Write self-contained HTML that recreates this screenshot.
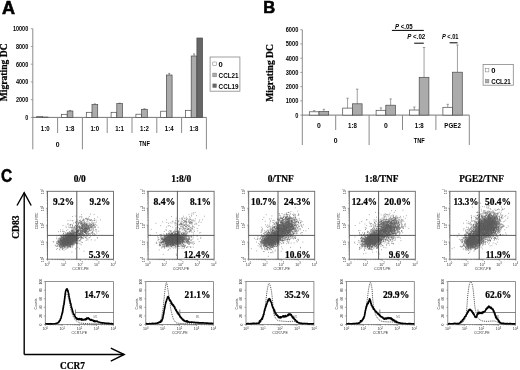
<!DOCTYPE html>
<html><head><meta charset="utf-8"><style>
html,body{margin:0;padding:0;background:#fff;width:520px;height:370px;overflow:hidden}
svg{display:block;will-change:transform}
</style></head><body>
<svg width="520" height="370" viewBox="0 0 520 370">
<defs><filter id="bl" x="-5%" y="-5%" width="110%" height="110%"><feGaussianBlur stdDeviation="0.35"/></filter></defs>
<rect width="520" height="370" fill="#fff"/>
<text x="1.9" y="14.1" font-family="Liberation Sans, sans-serif" font-size="18" font-weight="bold" text-anchor="start" fill="#000" stroke="#000" stroke-width="0.6">A</text>
<line x1="32.8" y1="28.7" x2="32.8" y2="149.3" stroke="#8a8a8a" stroke-width="1" />
<line x1="30.8" y1="117.4" x2="32.8" y2="117.4" stroke="#8a8a8a" stroke-width="0.8" />
<text x="28.2" y="119.9" font-family="Liberation Sans, sans-serif" font-size="7" font-weight="bold" text-anchor="end" fill="#000" textLength="3.05" lengthAdjust="spacingAndGlyphs" >0</text>
<line x1="30.8" y1="99.66" x2="32.8" y2="99.66" stroke="#8a8a8a" stroke-width="0.8" />
<text x="28.2" y="102.16" font-family="Liberation Sans, sans-serif" font-size="7" font-weight="bold" text-anchor="end" fill="#000" textLength="12.2" lengthAdjust="spacingAndGlyphs" >2000</text>
<line x1="30.8" y1="81.92" x2="32.8" y2="81.92" stroke="#8a8a8a" stroke-width="0.8" />
<text x="28.2" y="84.42" font-family="Liberation Sans, sans-serif" font-size="7" font-weight="bold" text-anchor="end" fill="#000" textLength="12.2" lengthAdjust="spacingAndGlyphs" >4000</text>
<line x1="30.8" y1="64.18" x2="32.8" y2="64.18" stroke="#8a8a8a" stroke-width="0.8" />
<text x="28.2" y="66.68" font-family="Liberation Sans, sans-serif" font-size="7" font-weight="bold" text-anchor="end" fill="#000" textLength="12.2" lengthAdjust="spacingAndGlyphs" >6000</text>
<line x1="30.8" y1="46.44" x2="32.8" y2="46.44" stroke="#8a8a8a" stroke-width="0.8" />
<text x="28.2" y="48.94" font-family="Liberation Sans, sans-serif" font-size="7" font-weight="bold" text-anchor="end" fill="#000" textLength="12.2" lengthAdjust="spacingAndGlyphs" >8000</text>
<line x1="30.8" y1="28.7" x2="32.8" y2="28.7" stroke="#8a8a8a" stroke-width="0.8" />
<text x="28.2" y="31.2" font-family="Liberation Sans, sans-serif" font-size="7" font-weight="bold" text-anchor="end" fill="#000" textLength="15.25" lengthAdjust="spacingAndGlyphs" >10000</text>
<line x1="32.8" y1="117.4" x2="206.4" y2="117.4" stroke="#666" stroke-width="0.9" />
<line x1="57.6" y1="117.4" x2="57.6" y2="133" stroke="#8a8a8a" stroke-width="1" />
<line x1="82.4" y1="117.4" x2="82.4" y2="149.3" stroke="#8a8a8a" stroke-width="1" />
<line x1="107.2" y1="117.4" x2="107.2" y2="133" stroke="#8a8a8a" stroke-width="1" />
<line x1="132" y1="117.4" x2="132" y2="133" stroke="#8a8a8a" stroke-width="1" />
<line x1="156.8" y1="117.4" x2="156.8" y2="133" stroke="#8a8a8a" stroke-width="1" />
<line x1="181.6" y1="117.4" x2="181.6" y2="133" stroke="#8a8a8a" stroke-width="1" />
<line x1="206.4" y1="117.4" x2="206.4" y2="149.3" stroke="#8a8a8a" stroke-width="1" />
<text x="45.2" y="131.3" font-family="Liberation Sans, sans-serif" font-size="6.8" font-weight="bold" text-anchor="middle" fill="#000" textLength="8.8" lengthAdjust="spacingAndGlyphs" >1:0</text>
<text x="70" y="131.3" font-family="Liberation Sans, sans-serif" font-size="6.8" font-weight="bold" text-anchor="middle" fill="#000" textLength="8.8" lengthAdjust="spacingAndGlyphs" >1:8</text>
<text x="94.8" y="131.3" font-family="Liberation Sans, sans-serif" font-size="6.8" font-weight="bold" text-anchor="middle" fill="#000" textLength="8.8" lengthAdjust="spacingAndGlyphs" >1:0</text>
<text x="119.6" y="131.3" font-family="Liberation Sans, sans-serif" font-size="6.8" font-weight="bold" text-anchor="middle" fill="#000" textLength="8.8" lengthAdjust="spacingAndGlyphs" >1:1</text>
<text x="144.4" y="131.3" font-family="Liberation Sans, sans-serif" font-size="6.8" font-weight="bold" text-anchor="middle" fill="#000" textLength="8.8" lengthAdjust="spacingAndGlyphs" >1:2</text>
<text x="169.2" y="131.3" font-family="Liberation Sans, sans-serif" font-size="6.8" font-weight="bold" text-anchor="middle" fill="#000" textLength="8.8" lengthAdjust="spacingAndGlyphs" >1:4</text>
<text x="194" y="131.3" font-family="Liberation Sans, sans-serif" font-size="6.8" font-weight="bold" text-anchor="middle" fill="#000" textLength="8.8" lengthAdjust="spacingAndGlyphs" >1:8</text>
<text x="57.6" y="147" font-family="Liberation Sans, sans-serif" font-size="6.8" font-weight="bold" text-anchor="middle" fill="#000" >0</text>
<text x="144.4" y="146.4" font-family="Liberation Sans, sans-serif" font-size="6.8" font-weight="bold" text-anchor="middle" fill="#000" textLength="11" lengthAdjust="spacingAndGlyphs" >TNF</text>
<rect x="36.7" y="116.6" width="5.7" height="0.8" fill="#ffffff" stroke="#4a4a4a" stroke-width="0.7"/>
<rect x="42.4" y="117.05" width="5.7" height="0.35" fill="#ababab" stroke="#4a4a4a" stroke-width="0.7"/>
<rect x="61.5" y="114.3" width="5.7" height="3.1" fill="#ffffff" stroke="#4a4a4a" stroke-width="0.7"/>
<rect x="67.2" y="111.01" width="5.7" height="6.39" fill="#ababab" stroke="#4a4a4a" stroke-width="0.7"/>
<line x1="70.05" y1="111.01" x2="70.05" y2="110.48" stroke="#555" stroke-width="0.6" />
<line x1="69.05" y1="110.48" x2="71.05" y2="110.48" stroke="#555" stroke-width="0.6" />
<rect x="86.3" y="112.3" width="5.7" height="5.1" fill="#ffffff" stroke="#4a4a4a" stroke-width="0.7"/>
<rect x="92" y="104.6" width="5.7" height="12.8" fill="#ababab" stroke="#4a4a4a" stroke-width="0.7"/>
<line x1="94.85" y1="104.6" x2="94.85" y2="103.89" stroke="#555" stroke-width="0.6" />
<line x1="93.85" y1="103.89" x2="95.85" y2="103.89" stroke="#555" stroke-width="0.6" />
<rect x="111.1" y="112.3" width="5.7" height="5.1" fill="#ffffff" stroke="#4a4a4a" stroke-width="0.7"/>
<rect x="116.8" y="103.5" width="5.7" height="13.9" fill="#ababab" stroke="#4a4a4a" stroke-width="0.7"/>
<line x1="119.65" y1="103.5" x2="119.65" y2="103.15" stroke="#555" stroke-width="0.6" />
<line x1="118.65" y1="103.15" x2="120.65" y2="103.15" stroke="#555" stroke-width="0.6" />
<rect x="135.9" y="114.21" width="5.7" height="3.19" fill="#ffffff" stroke="#4a4a4a" stroke-width="0.7"/>
<rect x="141.6" y="109.3" width="5.7" height="8.1" fill="#ababab" stroke="#4a4a4a" stroke-width="0.7"/>
<line x1="144.45" y1="109.3" x2="144.45" y2="108.77" stroke="#555" stroke-width="0.6" />
<line x1="143.45" y1="108.77" x2="145.45" y2="108.77" stroke="#555" stroke-width="0.6" />
<rect x="160.7" y="111.19" width="5.7" height="6.21" fill="#ffffff" stroke="#4a4a4a" stroke-width="0.7"/>
<rect x="166.4" y="75" width="5.7" height="42.4" fill="#ababab" stroke="#4a4a4a" stroke-width="0.7"/>
<line x1="169.25" y1="75" x2="169.25" y2="73.4" stroke="#555" stroke-width="0.6" />
<line x1="168.25" y1="73.4" x2="170.25" y2="73.4" stroke="#555" stroke-width="0.6" />
<rect x="185.5" y="110.3" width="5.7" height="7.1" fill="#ffffff" stroke="#4a4a4a" stroke-width="0.7"/>
<rect x="191.2" y="56" width="5.7" height="61.4" fill="#ababab" stroke="#4a4a4a" stroke-width="0.7"/>
<line x1="194.05" y1="56" x2="194.05" y2="53.96" stroke="#555" stroke-width="0.6" />
<line x1="193.05" y1="53.96" x2="195.05" y2="53.96" stroke="#555" stroke-width="0.6" />
<rect x="196.9" y="38.01" width="5.7" height="79.39" fill="#666666" stroke="#4a4a4a" stroke-width="0.7"/>
<rect x="210.1" y="57" width="29.8" height="34.2" fill="#fff" stroke="#888" stroke-width="0.8"/>
<rect x="212.8" y="62" width="3.7" height="3.7" fill="#ffffff" stroke="#777" stroke-width="0.5"/>
<text x="218.6" y="66.6" font-family="Liberation Sans, sans-serif" font-size="7.6" font-weight="bold" text-anchor="start" fill="#000" >0</text>
<rect x="212.8" y="73.1" width="3.7" height="3.7" fill="#ababab" stroke="#777" stroke-width="0.5"/>
<text x="218.6" y="77.7" font-family="Liberation Sans, sans-serif" font-size="7.6" font-weight="bold" text-anchor="start" fill="#000" textLength="19.9" lengthAdjust="spacingAndGlyphs" >CCL21</text>
<rect x="212.8" y="83.9" width="3.7" height="3.7" fill="#666666" stroke="#777" stroke-width="0.5"/>
<text x="218.6" y="88.5" font-family="Liberation Sans, sans-serif" font-size="7.6" font-weight="bold" text-anchor="start" fill="#000" textLength="19.9" lengthAdjust="spacingAndGlyphs" >CCL19</text>
<text x="7.1" y="72.3" font-family="Liberation Serif, serif" font-size="9.6" font-weight="bold" text-anchor="middle" fill="#000" textLength="58" lengthAdjust="spacingAndGlyphs" stroke="#000" stroke-width="0.22" transform="rotate(-90 7.1 72.3)">Migrating DC</text>
<text x="263.3" y="13.2" font-family="Liberation Sans, sans-serif" font-size="16.5" font-weight="bold" text-anchor="start" fill="#000" stroke="#000" stroke-width="0.6">B</text>
<line x1="302.3" y1="29.7" x2="302.3" y2="145" stroke="#8a8a8a" stroke-width="1" />
<line x1="300.3" y1="115.1" x2="302.3" y2="115.1" stroke="#8a8a8a" stroke-width="0.8" />
<text x="298.3" y="117.6" font-family="Liberation Sans, sans-serif" font-size="7" font-weight="bold" text-anchor="end" fill="#000" textLength="3.15" lengthAdjust="spacingAndGlyphs" >0</text>
<line x1="300.3" y1="100.87" x2="302.3" y2="100.87" stroke="#8a8a8a" stroke-width="0.8" />
<text x="298.3" y="103.37" font-family="Liberation Sans, sans-serif" font-size="7" font-weight="bold" text-anchor="end" fill="#000" textLength="12.6" lengthAdjust="spacingAndGlyphs" >1000</text>
<line x1="300.3" y1="86.64" x2="302.3" y2="86.64" stroke="#8a8a8a" stroke-width="0.8" />
<text x="298.3" y="89.14" font-family="Liberation Sans, sans-serif" font-size="7" font-weight="bold" text-anchor="end" fill="#000" textLength="12.6" lengthAdjust="spacingAndGlyphs" >2000</text>
<line x1="300.3" y1="72.41" x2="302.3" y2="72.41" stroke="#8a8a8a" stroke-width="0.8" />
<text x="298.3" y="74.91" font-family="Liberation Sans, sans-serif" font-size="7" font-weight="bold" text-anchor="end" fill="#000" textLength="12.6" lengthAdjust="spacingAndGlyphs" >3000</text>
<line x1="300.3" y1="58.18" x2="302.3" y2="58.18" stroke="#8a8a8a" stroke-width="0.8" />
<text x="298.3" y="60.68" font-family="Liberation Sans, sans-serif" font-size="7" font-weight="bold" text-anchor="end" fill="#000" textLength="12.6" lengthAdjust="spacingAndGlyphs" >4000</text>
<line x1="300.3" y1="43.95" x2="302.3" y2="43.95" stroke="#8a8a8a" stroke-width="0.8" />
<text x="298.3" y="46.45" font-family="Liberation Sans, sans-serif" font-size="7" font-weight="bold" text-anchor="end" fill="#000" textLength="12.6" lengthAdjust="spacingAndGlyphs" >5000</text>
<line x1="300.3" y1="29.72" x2="302.3" y2="29.72" stroke="#8a8a8a" stroke-width="0.8" />
<text x="298.3" y="32.22" font-family="Liberation Sans, sans-serif" font-size="7" font-weight="bold" text-anchor="end" fill="#000" textLength="12.6" lengthAdjust="spacingAndGlyphs" >6000</text>
<line x1="302.3" y1="115.1" x2="469.3" y2="115.1" stroke="#666" stroke-width="0.9" />
<line x1="335.7" y1="115.1" x2="335.7" y2="130" stroke="#8a8a8a" stroke-width="1" />
<line x1="369.1" y1="115.1" x2="369.1" y2="145" stroke="#8a8a8a" stroke-width="1" />
<line x1="402.5" y1="115.1" x2="402.5" y2="130" stroke="#8a8a8a" stroke-width="1" />
<line x1="435.9" y1="115.1" x2="435.9" y2="130" stroke="#8a8a8a" stroke-width="1" />
<line x1="469.3" y1="115.1" x2="469.3" y2="145" stroke="#8a8a8a" stroke-width="1" />
<text x="319" y="128.2" font-family="Liberation Sans, sans-serif" font-size="6.8" font-weight="bold" text-anchor="middle" fill="#000" >0</text>
<text x="352.4" y="128.2" font-family="Liberation Sans, sans-serif" font-size="6.8" font-weight="bold" text-anchor="middle" fill="#000" textLength="8.8" lengthAdjust="spacingAndGlyphs" >1:8</text>
<text x="385.8" y="128.2" font-family="Liberation Sans, sans-serif" font-size="6.8" font-weight="bold" text-anchor="middle" fill="#000" >0</text>
<text x="419.2" y="128.2" font-family="Liberation Sans, sans-serif" font-size="6.8" font-weight="bold" text-anchor="middle" fill="#000" textLength="8.8" lengthAdjust="spacingAndGlyphs" >1:8</text>
<text x="452.6" y="128.2" font-family="Liberation Sans, sans-serif" font-size="6.8" font-weight="bold" text-anchor="middle" fill="#000" textLength="16.5" lengthAdjust="spacingAndGlyphs" >PGE2</text>
<text x="335.7" y="143" font-family="Liberation Sans, sans-serif" font-size="6.8" font-weight="bold" text-anchor="middle" fill="#000" >0</text>
<text x="419.2" y="143" font-family="Liberation Sans, sans-serif" font-size="6.8" font-weight="bold" text-anchor="middle" fill="#000" textLength="11" lengthAdjust="spacingAndGlyphs" >TNF</text>
<line x1="314.15" y1="111.8" x2="314.15" y2="110.6" stroke="#777" stroke-width="0.7" />
<line x1="312.95" y1="110.6" x2="315.35" y2="110.6" stroke="#777" stroke-width="0.7" />
<rect x="309.3" y="111.8" width="9.7" height="3.3" fill="#ffffff" stroke="#4a4a4a" stroke-width="0.7"/>
<line x1="323.85" y1="111.5" x2="323.85" y2="109.29" stroke="#777" stroke-width="0.7" />
<line x1="322.65" y1="109.29" x2="325.05" y2="109.29" stroke="#777" stroke-width="0.7" />
<rect x="319" y="111.5" width="9.7" height="3.6" fill="#ababab" stroke="#4a4a4a" stroke-width="0.7"/>
<line x1="347.55" y1="108.1" x2="347.55" y2="98.21" stroke="#777" stroke-width="0.7" />
<line x1="346.35" y1="98.21" x2="348.75" y2="98.21" stroke="#777" stroke-width="0.7" />
<rect x="342.7" y="108.1" width="9.7" height="7" fill="#ffffff" stroke="#4a4a4a" stroke-width="0.7"/>
<line x1="357.25" y1="103.8" x2="357.25" y2="89.2" stroke="#777" stroke-width="0.7" />
<line x1="356.05" y1="89.2" x2="358.45" y2="89.2" stroke="#777" stroke-width="0.7" />
<rect x="352.4" y="103.8" width="9.7" height="11.3" fill="#ababab" stroke="#4a4a4a" stroke-width="0.7"/>
<line x1="380.95" y1="110.3" x2="380.95" y2="107.9" stroke="#777" stroke-width="0.7" />
<line x1="379.75" y1="107.9" x2="382.15" y2="107.9" stroke="#777" stroke-width="0.7" />
<rect x="376.1" y="110.3" width="9.7" height="4.8" fill="#ffffff" stroke="#4a4a4a" stroke-width="0.7"/>
<line x1="390.65" y1="105.2" x2="390.65" y2="98.91" stroke="#777" stroke-width="0.7" />
<line x1="389.45" y1="98.91" x2="391.85" y2="98.91" stroke="#777" stroke-width="0.7" />
<rect x="385.8" y="105.2" width="9.7" height="9.9" fill="#ababab" stroke="#4a4a4a" stroke-width="0.7"/>
<line x1="414.35" y1="110.01" x2="414.35" y2="107" stroke="#777" stroke-width="0.7" />
<line x1="413.15" y1="107" x2="415.55" y2="107" stroke="#777" stroke-width="0.7" />
<rect x="409.5" y="110.01" width="9.7" height="5.09" fill="#ffffff" stroke="#4a4a4a" stroke-width="0.7"/>
<line x1="424.05" y1="77.31" x2="424.05" y2="47.51" stroke="#777" stroke-width="0.7" />
<line x1="422.85" y1="47.51" x2="425.25" y2="47.51" stroke="#777" stroke-width="0.7" />
<rect x="419.2" y="77.31" width="9.7" height="37.79" fill="#ababab" stroke="#4a4a4a" stroke-width="0.7"/>
<line x1="447.75" y1="107.3" x2="447.75" y2="104.3" stroke="#777" stroke-width="0.7" />
<line x1="446.55" y1="104.3" x2="448.95" y2="104.3" stroke="#777" stroke-width="0.7" />
<rect x="442.9" y="107.3" width="9.7" height="7.8" fill="#ffffff" stroke="#4a4a4a" stroke-width="0.7"/>
<line x1="457.45" y1="72.2" x2="457.45" y2="44.95" stroke="#777" stroke-width="0.7" />
<line x1="456.25" y1="44.95" x2="458.65" y2="44.95" stroke="#777" stroke-width="0.7" />
<rect x="452.6" y="72.2" width="9.7" height="42.9" fill="#ababab" stroke="#4a4a4a" stroke-width="0.7"/>
<text x="272.8" y="72.9" font-family="Liberation Serif, serif" font-size="9.5" font-weight="bold" text-anchor="middle" fill="#000" textLength="57.5" lengthAdjust="spacingAndGlyphs" stroke="#000" stroke-width="0.22" transform="rotate(-90 272.8 72.9)">Migrating DC</text>
<rect x="483.1" y="64.4" width="30.2" height="20.8" fill="#fff" stroke="#888" stroke-width="0.8"/>
<rect x="485.4" y="68.4" width="3.5" height="3.5" fill="#ffffff" stroke="#777" stroke-width="0.5"/>
<text x="491.2" y="72.9" font-family="Liberation Sans, sans-serif" font-size="7.6" font-weight="bold" text-anchor="start" fill="#000" >0</text>
<rect x="485.4" y="79.4" width="3.5" height="3.5" fill="#ababab" stroke="#777" stroke-width="0.5"/>
<text x="491.2" y="83.9" font-family="Liberation Sans, sans-serif" font-size="7.6" font-weight="bold" text-anchor="start" fill="#000" textLength="19.6" lengthAdjust="spacingAndGlyphs" >CCL21</text>
<text x="395" y="28.5" font-family="Liberation Sans, sans-serif" font-size="7" font-weight="bold" textLength="17.7" lengthAdjust="spacingAndGlyphs"><tspan font-style="italic">P</tspan> &lt;.05</text>
<line x1="391.9" y1="30.4" x2="423.8" y2="30.4" stroke="#000" stroke-width="1" />
<text x="407.3" y="38.8" font-family="Liberation Sans, sans-serif" font-size="7" font-weight="bold" textLength="18" lengthAdjust="spacingAndGlyphs"><tspan font-style="italic">P</tspan> &lt;.02</text>
<line x1="414.2" y1="43.2" x2="423.8" y2="43.2" stroke="#000" stroke-width="1" />
<text x="441.9" y="38.8" font-family="Liberation Sans, sans-serif" font-size="7" font-weight="bold" textLength="16.6" lengthAdjust="spacingAndGlyphs"><tspan font-style="italic">P</tspan> &lt;.01</text>
<line x1="449.6" y1="42.8" x2="457.6" y2="42.8" stroke="#000" stroke-width="1" />
<text x="0.9" y="181.9" font-family="Liberation Sans, sans-serif" font-size="18" font-weight="bold" text-anchor="start" fill="#000" textLength="11.2" lengthAdjust="spacingAndGlyphs" stroke="#000" stroke-width="0.45">C</text>
<line x1="24.2" y1="192.8" x2="24.2" y2="354.5" stroke="#000" stroke-width="1.4" />
<line x1="24.2" y1="354.5" x2="124" y2="354.5" stroke="#000" stroke-width="1.4" />
<polyline points="17,205.5 24.2,192.6 31.2,205.5" fill="none" stroke="#000" stroke-width="1.4"/>
<polyline points="110.8,348.1 124.2,354.5 110.8,361.2" fill="none" stroke="#000" stroke-width="1.4"/>
<text x="18.9" y="227.2" font-family="Liberation Serif, serif" font-size="9.5" font-weight="bold" text-anchor="middle" fill="#000" textLength="23.3" lengthAdjust="spacingAndGlyphs" stroke="#000" stroke-width="0.22" transform="rotate(-90 18.9 227.2)">CD83</text>
<text x="60" y="369.2" font-family="Liberation Serif, serif" font-size="9.5" font-weight="bold" text-anchor="start" fill="#000" textLength="25" lengthAdjust="spacingAndGlyphs" stroke="#000" stroke-width="0.22" >CCR7</text>
<text x="73.8" y="181.9" font-family="Liberation Serif, serif" font-size="9.6" font-weight="bold" text-anchor="start" fill="#000" textLength="12" lengthAdjust="spacingAndGlyphs" stroke="#000" stroke-width="0.22" >0/0</text>
<rect x="47.5" y="191.3" width="66" height="67.9" fill="#fff" stroke="#666" stroke-width="0.9"/>
<path d="M66.6 242.1h.8M66.7 239.6h.8M63.7 240.7h.8M72.5 240.3h.8M72.2 239.9h.8M69.4 240.4h.8M60.5 244.6h.8M69.9 241.2h.8M60.4 237.1h.8M63.9 239.9h.8M69.0 239.8h.8M69.9 237.9h.8M69.0 241.1h.8M64.9 246.0h.8M70.1 243.2h.8M65.0 238.8h.8M66.2 240.4h.8M70.4 240.3h.8M65.8 238.0h.8M65.5 244.4h.8M64.2 241.9h.8M69.5 235.5h.8M67.9 244.0h.8M59.0 241.6h.8M67.2 238.0h.8M69.8 239.6h.8M61.4 244.3h.8M70.6 242.3h.8M73.9 239.8h.8M68.2 236.4h.8M70.3 237.9h.8M65.8 237.1h.8M63.5 239.8h.8M73.2 233.0h.8M61.4 242.6h.8M73.9 240.4h.8M59.5 235.0h.8M69.2 237.8h.8M62.9 244.4h.8M72.4 239.6h.8M68.8 241.3h.8M74.6 240.4h.8M69.9 241.3h.8M61.0 245.7h.8M71.8 240.8h.8M59.2 240.6h.8M71.3 234.1h.8M66.9 243.5h.8M62.1 246.4h.8M70.1 239.3h.8M69.1 241.8h.8M68.2 243.5h.8M64.9 239.8h.8M72.2 239.2h.8M63.9 244.0h.8M74.0 237.4h.8M61.8 241.4h.8M67.1 239.6h.8M73.7 235.8h.8M73.1 235.2h.8M64.3 243.0h.8M72.6 241.6h.8M69.2 240.3h.8M68.4 241.8h.8M66.9 241.3h.8M70.2 239.7h.8M71.0 241.1h.8M76.3 239.1h.8M65.9 239.7h.8M67.6 243.0h.8M66.3 241.8h.8M75.6 230.9h.8M62.9 242.2h.8M69.4 240.6h.8M65.8 242.7h.8M68.9 238.5h.8M78.1 238.7h.8M65.3 240.6h.8M66.7 240.4h.8M56.0 241.8h.8M72.0 235.8h.8M67.4 243.1h.8M71.4 243.7h.8M60.4 241.1h.8M66.2 242.5h.8M72.4 231.3h.8M72.4 234.9h.8M70.6 235.2h.8M68.5 243.6h.8M67.1 241.0h.8M71.1 239.8h.8M67.3 244.8h.8M72.2 238.3h.8M79.5 234.0h.8M71.6 238.5h.8M68.3 242.2h.8M68.7 241.9h.8M61.1 237.6h.8M70.3 236.8h.8M63.3 237.1h.8M73.1 241.1h.8M74.0 236.0h.8M67.7 237.0h.8M71.0 244.1h.8M63.9 245.8h.8M71.9 238.7h.8M59.2 246.5h.8M67.3 238.7h.8M69.4 241.1h.8M74.1 235.7h.8M72.6 243.4h.8M73.9 238.2h.8M64.5 244.1h.8M68.2 240.5h.8M73.8 238.0h.8M57.8 241.7h.8M59.7 244.7h.8M69.1 238.2h.8M67.7 242.7h.8M68.0 244.1h.8M67.4 243.4h.8M74.1 243.4h.8M64.8 243.6h.8M59.6 239.2h.8M59.3 245.5h.8M62.4 241.6h.8M66.9 240.4h.8M65.2 241.6h.8M75.4 238.5h.8M70.0 242.6h.8M66.8 236.9h.8M65.3 244.0h.8M60.6 240.4h.8M72.0 241.5h.8M67.7 242.6h.8M68.4 236.7h.8M61.0 240.1h.8M71.7 237.7h.8M63.8 239.0h.8M61.1 241.6h.8M62.6 242.6h.8M57.6 243.8h.8M64.9 235.4h.8M70.8 238.7h.8M58.1 240.2h.8M69.0 238.7h.8M71.1 241.6h.8M70.6 240.5h.8M73.4 240.8h.8M69.6 233.8h.8M71.6 243.1h.8M66.4 239.3h.8M76.0 233.1h.8M69.7 246.8h.8M63.7 243.3h.8M75.8 237.9h.8M70.1 242.3h.8M63.8 241.0h.8M69.0 242.4h.8M67.6 239.8h.8M63.3 240.4h.8M71.5 239.6h.8M64.0 238.8h.8M79.2 240.7h.8M70.4 232.1h.8M70.4 241.0h.8M74.9 239.7h.8M67.4 241.9h.8M59.3 245.4h.8M69.1 237.9h.8M73.4 244.1h.8M61.7 239.9h.8M69.0 240.5h.8M66.0 237.9h.8M76.8 241.0h.8M62.6 237.7h.8M75.0 241.3h.8M75.5 240.7h.8M64.0 242.0h.8M58.4 240.5h.8M67.4 241.9h.8M64.6 240.7h.8M69.7 240.9h.8M70.4 240.2h.8M66.3 242.9h.8M67.9 237.8h.8M65.0 241.0h.8M67.2 240.9h.8M67.7 240.8h.8M67.1 236.8h.8M69.5 242.9h.8M69.6 239.3h.8M69.6 237.0h.8M59.5 242.5h.8M63.7 243.5h.8M63.0 233.8h.8M63.2 246.0h.8M66.1 236.7h.8M64.4 242.6h.8M69.8 240.3h.8M74.1 240.7h.8M67.6 242.1h.8M74.8 241.3h.8M72.1 236.0h.8M67.1 242.6h.8M66.4 243.7h.8M70.3 242.3h.8M66.8 247.9h.8M73.0 238.3h.8M68.1 247.7h.8M66.2 243.2h.8M71.9 239.3h.8M62.7 242.1h.8M69.2 243.2h.8M71.1 239.5h.8M71.4 240.9h.8M68.6 240.2h.8M66.7 242.6h.8M63.2 239.6h.8M67.7 236.0h.8M65.8 234.9h.8M64.8 242.7h.8M70.1 239.5h.8M66.7 236.4h.8M75.6 239.8h.8M72.4 236.6h.8M66.9 235.2h.8M71.1 242.2h.8M59.5 242.2h.8M70.4 234.5h.8M59.9 239.2h.8M65.0 236.9h.8M67.8 241.0h.8M70.4 241.7h.8M74.2 242.1h.8M62.1 240.3h.8M63.1 238.3h.8M67.4 240.4h.8M69.8 235.2h.8M62.4 241.6h.8M66.8 239.6h.8M67.4 238.2h.8M70.7 240.6h.8M67.3 238.4h.8M67.0 232.6h.8M63.5 241.5h.8M61.2 242.5h.8M68.3 236.1h.8M66.6 239.7h.8M69.7 241.6h.8M67.5 237.9h.8M67.1 240.3h.8M70.9 240.4h.8M64.6 237.2h.8M66.1 238.6h.8M62.9 241.2h.8M65.6 241.1h.8M70.0 238.5h.8M77.7 236.8h.8M72.4 239.5h.8M72.5 232.2h.8M64.5 241.8h.8M70.3 246.4h.8M69.1 243.7h.8M71.0 242.2h.8M69.9 239.3h.8M69.9 236.6h.8M72.8 236.1h.8M68.8 246.2h.8M66.7 240.6h.8M72.7 239.1h.8M64.2 241.9h.8M70.2 241.7h.8M64.4 246.2h.8M74.9 238.5h.8M68.9 238.8h.8M73.8 236.7h.8M70.6 238.2h.8M64.7 243.1h.8M73.4 238.8h.8M64.8 243.4h.8M67.5 241.3h.8M74.2 241.9h.8M65.5 247.5h.8M67.7 242.6h.8M64.9 240.9h.8M60.2 247.4h.8M73.6 235.3h.8M61.2 237.2h.8M72.8 237.7h.8M67.4 239.5h.8M67.2 237.3h.8M67.8 236.1h.8M67.4 241.3h.8M69.7 239.1h.8M63.8 241.7h.8M65.6 245.4h.8M71.0 239.1h.8M65.7 238.8h.8M63.7 240.3h.8M69.0 241.5h.8M70.1 245.8h.8M64.7 241.1h.8M79.7 231.8h.8M65.5 241.4h.8M68.4 241.3h.8M66.7 241.6h.8M67.9 242.5h.8M59.6 239.8h.8M67.7 237.3h.8M63.2 243.3h.8M64.9 242.8h.8M70.9 240.4h.8M69.9 239.4h.8M61.6 241.7h.8M69.7 238.3h.8M67.3 242.6h.8M63.9 243.1h.8M75.7 236.7h.8M68.3 239.7h.8M74.3 239.5h.8M71.6 237.3h.8M67.6 240.3h.8M60.1 246.4h.8M71.6 234.2h.8M70.9 239.1h.8M69.6 240.9h.8M61.3 241.3h.8M74.1 237.0h.8M63.3 237.5h.8M62.4 242.6h.8M75.0 239.7h.8M68.8 246.5h.8M65.5 238.9h.8M70.0 241.3h.8M63.3 238.0h.8M69.0 240.7h.8M62.1 241.1h.8M65.4 242.2h.8M67.2 240.2h.8M66.2 243.7h.8M73.7 237.7h.8M71.3 237.2h.8M68.0 242.4h.8M74.2 237.5h.8M67.4 241.0h.8M61.3 242.0h.8M64.8 242.1h.8M62.8 235.8h.8M67.9 241.0h.8M65.3 243.5h.8M66.5 238.8h.8M69.8 235.2h.8M64.8 241.0h.8M71.4 238.9h.8M69.0 238.1h.8M69.0 244.8h.8M64.7 247.9h.8M64.9 241.0h.8M68.4 243.1h.8M62.4 235.5h.8M70.3 242.0h.8M70.4 247.3h.8M68.6 240.8h.8M71.7 240.4h.8M74.9 234.9h.8M66.1 230.7h.8M71.2 238.3h.8M71.7 245.6h.8M67.7 239.6h.8M65.6 238.4h.8M65.0 242.8h.8M67.9 240.5h.8M67.0 243.1h.8M69.8 239.4h.8M70.6 239.1h.8M62.7 245.8h.8M69.7 237.0h.8M72.3 240.1h.8M61.0 246.7h.8M69.1 242.5h.8M68.6 239.7h.8M61.0 244.8h.8M67.8 239.4h.8M69.2 240.1h.8M70.6 238.5h.8M67.5 234.1h.8M65.9 242.7h.8M73.4 237.8h.8M67.2 245.0h.8M66.3 242.8h.8M74.9 238.6h.8M73.0 236.9h.8M68.6 239.9h.8M68.2 243.5h.8M78.0 235.8h.8M65.2 242.4h.8M63.2 242.9h.8M70.2 238.9h.8M70.0 235.2h.8M71.0 235.0h.8M64.7 239.4h.8M66.0 243.2h.8M68.1 239.1h.8M70.0 244.3h.8M67.7 241.4h.8M73.0 239.7h.8M62.2 248.9h.8M77.2 232.1h.8M67.5 241.6h.8M71.9 241.2h.8M66.5 237.5h.8M68.1 243.2h.8M63.0 238.5h.8M67.6 234.7h.8M66.6 239.3h.8M69.6 237.8h.8M63.9 240.1h.8M67.5 238.4h.8M67.8 242.5h.8M72.8 244.0h.8M64.3 239.9h.8M57.0 248.5h.8M64.6 241.0h.8M69.9 235.8h.8M69.7 239.7h.8M59.8 243.1h.8M72.8 233.6h.8M71.2 240.0h.8M69.7 241.1h.8M73.3 238.2h.8M71.5 238.2h.8M70.8 237.1h.8M67.2 245.4h.8M69.6 239.4h.8M62.8 239.2h.8M68.5 242.8h.8M69.5 241.4h.8M67.5 244.3h.8M66.0 239.1h.8M71.5 239.5h.8M66.5 238.9h.8M66.6 242.4h.8M69.2 236.4h.8M69.5 240.4h.8M63.4 243.6h.8M66.5 239.6h.8M71.1 243.3h.8M64.7 242.3h.8M63.9 248.0h.8M65.6 244.3h.8M64.9 243.4h.8M77.2 230.5h.8M65.8 242.2h.8M67.3 238.5h.8M77.0 238.2h.8M60.6 244.6h.8M60.3 245.5h.8M65.2 241.3h.8M73.1 239.3h.8M61.7 236.9h.8M72.8 241.2h.8M64.2 243.7h.8M69.8 241.6h.8M58.0 241.9h.8M71.6 241.5h.8M71.5 232.2h.8M68.4 241.5h.8M78.7 234.8h.8M66.3 240.8h.8M71.5 238.1h.8M72.6 236.8h.8M68.8 238.5h.8M68.4 238.1h.8M60.8 245.2h.8M69.0 238.3h.8M68.6 243.0h.8M63.5 241.0h.8M70.0 241.2h.8M66.3 234.5h.8M73.0 239.9h.8M67.8 239.5h.8M68.8 238.8h.8M63.3 239.3h.8M65.1 239.2h.8M62.7 243.4h.8M62.1 243.6h.8M63.3 242.4h.8M73.6 239.4h.8M64.6 241.2h.8M68.3 235.1h.8M65.1 241.4h.8M65.7 241.0h.8M70.9 241.7h.8M71.6 241.0h.8M66.5 240.6h.8M66.5 239.7h.8M66.9 235.5h.8M66.3 240.6h.8M63.5 241.3h.8M69.9 239.3h.8M76.6 230.5h.8M66.8 235.2h.8M71.9 246.9h.8M56.9 243.4h.8M69.9 238.9h.8M70.1 233.2h.8M71.4 240.5h.8M67.8 238.6h.8M70.4 238.2h.8M68.7 238.6h.8M58.0 242.6h.8M68.6 242.3h.8M63.9 241.2h.8M70.4 240.1h.8M73.0 244.7h.8M63.8 235.7h.8M71.4 243.8h.8M71.7 241.7h.8M65.0 238.9h.8M71.5 236.7h.8M59.9 239.4h.8M78.4 243.2h.8M64.7 238.9h.8M68.7 237.9h.8M73.3 238.7h.8M63.0 245.3h.8M65.2 241.6h.8M67.6 239.4h.8M69.1 237.9h.8M59.8 235.9h.8M62.3 239.5h.8M67.6 240.5h.8M70.1 240.0h.8M64.3 239.1h.8M58.6 242.1h.8M69.8 241.3h.8M67.2 239.9h.8M71.7 239.3h.8M70.9 241.2h.8M68.6 243.9h.8M65.2 239.9h.8M64.2 238.9h.8M74.4 243.7h.8M67.8 241.9h.8M72.8 241.4h.8M72.9 235.3h.8M65.0 242.3h.8M73.9 239.0h.8M64.0 240.2h.8M64.9 238.5h.8M74.2 236.9h.8M67.8 246.6h.8M72.8 240.0h.8M65.1 242.2h.8M74.7 240.3h.8M73.1 239.2h.8M69.9 239.2h.8M69.5 243.6h.8M61.5 241.7h.8M68.7 238.4h.8M66.4 242.9h.8M76.3 240.0h.8M69.1 235.4h.8M76.0 238.4h.8M67.6 237.1h.8M67.5 237.2h.8M68.0 241.6h.8M67.8 241.1h.8M64.0 245.4h.8M64.9 235.7h.8M66.9 238.3h.8M63.4 240.4h.8M69.0 236.6h.8M67.1 244.6h.8M70.6 239.1h.8M68.2 239.8h.8M67.5 242.5h.8M67.3 233.4h.8M67.6 237.7h.8M70.5 237.8h.8M68.3 246.5h.8M63.2 238.2h.8M61.6 234.9h.8M59.6 243.4h.8M65.0 235.6h.8M61.3 243.7h.8M64.4 240.1h.8M69.1 243.9h.8M76.0 241.2h.8M68.3 240.7h.8M75.4 242.5h.8M66.4 242.0h.8M68.9 240.1h.8M65.5 237.0h.8M65.4 236.4h.8M73.0 240.5h.8M62.5 245.7h.8M71.5 233.8h.8M75.6 240.7h.8M76.6 234.5h.8M70.0 241.0h.8M68.6 240.6h.8M72.2 234.8h.8M62.4 237.6h.8M65.3 239.1h.8M69.3 240.7h.8M67.8 238.3h.8M65.8 243.5h.8M71.0 239.8h.8M66.3 245.2h.8M65.1 242.8h.8M72.7 238.3h.8M71.2 236.2h.8M72.1 239.8h.8M60.9 244.0h.8M63.9 245.0h.8M64.8 240.6h.8M68.9 239.0h.8M68.8 238.4h.8M70.6 239.6h.8M68.6 232.1h.8M72.7 239.1h.8M60.0 242.5h.8M69.7 242.9h.8M63.0 246.0h.8M67.0 247.4h.8M67.1 242.4h.8M66.1 237.5h.8M72.4 241.7h.8M74.3 241.1h.8M65.2 236.1h.8M64.9 239.0h.8M64.2 242.9h.8M69.1 239.2h.8M68.4 239.7h.8M68.6 242.3h.8M71.8 237.3h.8M61.2 246.1h.8M68.2 243.4h.8M60.6 241.1h.8M67.8 236.1h.8M65.5 243.0h.8M72.3 243.8h.8M64.0 237.2h.8M69.9 242.5h.8M68.5 236.3h.8M71.1 241.8h.8M70.1 238.3h.8M69.0 242.3h.8M65.3 235.6h.8M69.1 241.3h.8M67.8 242.9h.8M65.2 240.7h.8M66.4 242.3h.8M74.6 237.8h.8M76.5 242.5h.8M71.1 241.1h.8M75.3 237.9h.8M67.2 237.3h.8M69.7 243.7h.8M70.0 241.0h.8M66.8 241.0h.8M61.6 244.9h.8M65.9 237.5h.8M64.5 238.7h.8M71.4 242.4h.8M61.9 244.5h.8M71.5 237.7h.8M61.3 239.7h.8M65.0 242.0h.8M66.2 234.8h.8M68.7 235.6h.8M71.6 235.8h.8M64.7 238.6h.8M65.4 244.7h.8M71.4 241.1h.8M69.1 235.5h.8M65.5 239.3h.8M63.5 242.8h.8M64.5 239.0h.8M63.2 235.5h.8M70.3 243.5h.8M68.5 237.3h.8M56.1 243.7h.8M72.9 239.8h.8M71.7 243.6h.8M72.5 237.8h.8M72.2 241.4h.8M61.1 240.8h.8M61.6 241.5h.8M70.2 236.6h.8M58.9 246.3h.8M69.3 244.2h.8M62.0 244.8h.8M76.6 243.9h.8M66.8 241.3h.8M67.0 243.4h.8M72.2 239.4h.8M61.9 243.9h.8M65.7 242.6h.8M68.8 244.7h.8M72.6 237.8h.8M69.2 245.0h.8M65.4 242.1h.8M72.8 242.7h.8M69.9 235.9h.8M62.3 242.4h.8M69.4 247.3h.8M64.0 244.5h.8M71.0 234.6h.8M64.2 241.7h.8M65.6 240.4h.8M69.7 237.4h.8M69.7 237.9h.8M65.4 242.4h.8M65.2 241.8h.8M74.6 238.6h.8M67.1 242.6h.8M66.1 243.8h.8M62.2 243.5h.8M65.5 238.5h.8M75.3 235.9h.8M75.3 240.3h.8M73.9 235.9h.8M72.9 243.2h.8M67.2 240.1h.8M78.3 238.2h.8M65.9 238.9h.8M69.6 240.8h.8M68.5 245.1h.8M66.3 242.0h.8M74.0 235.8h.8M72.2 244.5h.8M61.9 238.6h.8M63.2 236.1h.8M69.6 234.4h.8M69.8 244.0h.8M60.8 241.1h.8M59.5 244.6h.8M64.5 240.3h.8M67.9 241.8h.8M66.2 240.7h.8M65.3 241.2h.8M62.7 241.8h.8M59.4 241.0h.8M75.9 238.5h.8M62.3 242.4h.8M63.5 236.6h.8M64.5 243.2h.8M69.4 239.6h.8M63.7 238.2h.8M73.5 239.5h.8M63.6 235.2h.8M61.8 249.0h.8M62.8 241.3h.8M68.6 239.6h.8M66.5 236.6h.8M63.2 246.3h.8M64.4 243.6h.8M60.4 241.3h.8M68.8 243.0h.8M62.9 243.2h.8M69.4 237.7h.8M69.8 237.2h.8M64.3 241.1h.8M56.0 242.9h.8M63.4 237.1h.8M65.9 243.0h.8M66.0 244.4h.8M62.7 237.7h.8M74.4 239.8h.8M71.8 236.9h.8M71.2 240.2h.8M70.5 239.7h.8M72.9 237.1h.8M63.6 237.1h.8M72.7 236.9h.8M63.2 238.7h.8M65.8 237.1h.8M66.5 238.8h.8M65.3 238.1h.8M67.9 238.9h.8M68.2 240.9h.8M69.2 233.6h.8M65.4 238.6h.8M71.0 234.9h.8M64.6 240.2h.8M66.3 243.5h.8M65.8 243.6h.8M61.4 236.6h.8M72.9 240.2h.8M69.8 240.1h.8M69.8 236.2h.8M71.8 237.7h.8M71.9 239.5h.8M59.2 238.7h.8M72.5 238.7h.8M66.0 241.4h.8M65.9 239.2h.8M68.1 240.6h.8M74.2 238.8h.8M75.8 243.5h.8M75.1 241.5h.8M68.3 240.6h.8M67.1 238.3h.8M67.4 238.5h.8M74.8 240.1h.8M65.8 235.2h.8M67.5 239.1h.8M63.0 238.2h.8M58.0 244.4h.8M67.4 247.9h.8M67.6 239.9h.8M73.9 239.1h.8M68.4 239.0h.8M65.1 245.3h.8M72.0 244.2h.8M66.2 240.8h.8M63.9 244.1h.8M61.7 243.5h.8M72.4 243.2h.8M63.7 244.5h.8M64.6 238.9h.8M62.0 245.1h.8M74.8 236.8h.8M64.4 240.1h.8M78.5 240.5h.8M65.4 235.7h.8M64.8 244.5h.8M75.7 237.5h.8M64.7 239.6h.8M59.6 245.0h.8M63.0 244.6h.8M60.4 238.5h.8M68.9 237.8h.8M71.1 239.5h.8M62.6 243.4h.8M71.3 233.8h.8M75.6 239.8h.8M71.0 234.1h.8M64.6 240.1h.8M72.3 234.9h.8M63.9 235.4h.8M66.7 241.6h.8M60.4 240.4h.8M69.9 244.4h.8M70.6 238.7h.8M62.6 238.9h.8M64.8 241.4h.8M67.5 245.2h.8M68.9 236.9h.8M74.3 241.4h.8M68.1 238.1h.8M59.7 239.4h.8M71.6 237.0h.8M62.0 242.3h.8M68.7 241.8h.8M70.5 243.7h.8M64.1 244.1h.8M63.5 243.4h.8M68.5 240.8h.8M71.9 239.2h.8M72.5 241.6h.8M68.3 238.5h.8M64.5 239.6h.8M66.8 240.4h.8M80.5 238.9h.8M71.0 237.0h.8M64.6 240.1h.8M68.5 237.1h.8M74.6 236.9h.8M72.3 232.3h.8M67.7 241.1h.8M68.5 241.8h.8M68.9 240.5h.8M59.6 240.3h.8M57.6 244.7h.8M69.0 239.4h.8M64.2 239.5h.8M75.6 243.3h.8M67.4 244.1h.8M60.9 236.4h.8M65.6 238.3h.8M65.3 241.5h.8M80.7 235.1h.8M67.9 241.0h.8M67.6 243.0h.8M75.3 234.8h.8M68.4 239.4h.8M69.2 235.5h.8M60.1 235.5h.8M70.0 240.3h.8M68.0 233.3h.8M66.1 238.5h.8M61.6 239.2h.8M70.7 241.1h.8M67.6 241.8h.8M65.1 241.2h.8M67.9 241.9h.8M67.4 240.0h.8M67.1 238.6h.8M77.3 239.4h.8M69.5 246.5h.8M73.7 234.3h.8M70.7 242.0h.8M75.8 242.1h.8M71.0 236.0h.8M64.0 242.0h.8M69.9 236.8h.8M66.0 239.6h.8M68.0 241.2h.8M66.5 237.0h.8M73.0 243.6h.8M67.2 243.4h.8M69.6 241.7h.8M69.8 237.6h.8M70.2 242.6h.8M63.8 247.0h.8M76.7 243.3h.8M76.3 240.3h.8M66.2 238.9h.8M64.2 241.5h.8M67.6 242.3h.8M59.0 249.2h.8M77.5 237.8h.8M70.6 240.9h.8M68.9 239.4h.8M67.2 238.0h.8M68.5 240.0h.8M69.1 237.5h.8M67.9 240.4h.8M70.3 236.6h.8M69.5 242.7h.8M70.3 238.6h.8M65.6 240.1h.8M70.8 244.0h.8M67.0 238.6h.8M69.3 240.5h.8M63.8 239.1h.8M67.3 242.4h.8M62.6 238.6h.8M69.8 236.2h.8M68.2 241.2h.8M67.2 237.5h.8M67.4 239.4h.8M69.1 237.5h.8M72.4 234.3h.8M66.9 240.5h.8M71.8 237.5h.8M70.0 238.1h.8M70.9 244.5h.8M66.0 242.0h.8M63.7 244.1h.8M72.9 239.1h.8M62.8 242.7h.8M72.6 242.2h.8M71.2 234.1h.8M64.8 245.2h.8M62.4 244.9h.8M75.8 240.5h.8M72.5 238.1h.8M62.4 241.3h.8M66.8 240.4h.8M70.7 239.1h.8M68.5 241.3h.8M67.7 245.7h.8M69.6 240.1h.8M66.8 238.7h.8M73.5 239.3h.8M63.1 239.8h.8M67.1 239.2h.8M72.4 235.8h.8M69.8 240.2h.8M62.6 241.7h.8M67.3 241.9h.8M65.8 241.7h.8M60.5 239.0h.8M71.1 242.5h.8M67.6 238.6h.8M72.4 233.1h.8M64.3 243.1h.8M70.5 236.6h.8M59.6 246.6h.8M68.4 237.5h.8M67.9 242.9h.8M56.6 246.3h.8M70.9 233.5h.8M71.0 234.3h.8M72.6 240.2h.8M77.4 236.1h.8M67.7 243.3h.8M64.9 238.9h.8M66.1 240.5h.8M63.0 242.9h.8M70.0 239.9h.8M75.0 237.5h.8M73.3 237.3h.8M70.9 233.9h.8M68.6 239.6h.8M65.6 239.1h.8M66.2 238.6h.8M58.3 240.9h.8M65.3 239.4h.8M63.2 241.1h.8M71.1 238.7h.8M65.6 244.8h.8M71.9 241.9h.8M72.7 238.1h.8M67.1 243.7h.8M65.3 240.6h.8M69.3 241.0h.8M66.5 243.5h.8M66.9 242.6h.8M72.3 241.1h.8M70.9 236.1h.8M62.1 239.9h.8M69.7 244.1h.8M62.4 242.5h.8M64.0 239.1h.8M66.5 242.6h.8M68.6 243.5h.8M63.5 244.0h.8M71.7 239.5h.8M69.8 238.1h.8M63.0 240.3h.8M64.9 249.4h.8M65.6 245.6h.8M68.6 241.0h.8M70.9 237.2h.8M71.6 240.4h.8M61.2 243.7h.8M70.1 241.0h.8M74.5 237.4h.8M69.9 241.9h.8M63.8 244.8h.8M61.5 238.1h.8M69.9 236.6h.8M67.2 235.6h.8M68.0 236.9h.8M69.2 235.5h.8M69.6 239.0h.8M68.0 240.0h.8M68.3 236.3h.8M56.7 243.2h.8M63.7 240.0h.8M69.5 234.1h.8M64.4 239.4h.8M63.2 242.4h.8M67.1 238.1h.8M63.5 243.7h.8M64.9 242.7h.8M69.6 234.3h.8M63.0 241.5h.8M69.2 242.2h.8M71.2 242.4h.8M66.1 240.1h.8M71.0 238.2h.8M72.2 234.5h.8M70.5 239.1h.8M59.2 245.3h.8M69.0 240.0h.8M63.1 240.1h.8M74.2 236.3h.8M52.8 241.6h.8M62.5 241.2h.8M66.0 238.1h.8M64.1 244.3h.8M61.5 247.5h.8M65.4 237.7h.8M71.1 241.1h.8M63.2 243.6h.8M59.8 239.6h.8M72.5 238.3h.8M62.1 243.2h.8M71.6 239.2h.8M59.9 241.3h.8M69.5 242.1h.8M75.7 237.6h.8M65.6 240.7h.8M72.9 236.3h.8M73.3 230.9h.8M71.1 237.5h.8M69.7 241.8h.8M62.6 241.3h.8M68.7 241.7h.8M63.7 238.4h.8M59.4 249.8h.8M66.9 239.9h.8M61.3 244.6h.8M65.4 245.0h.8M71.4 239.4h.8M70.8 236.3h.8M66.3 239.0h.8M62.2 241.7h.8M67.1 244.6h.8M53.3 242.0h.8M63.8 239.9h.8M69.5 241.0h.8M67.8 238.9h.8M69.8 240.8h.8M59.8 241.5h.8M61.8 238.4h.8M68.3 240.3h.8M68.2 237.6h.8M66.8 237.9h.8M69.3 241.9h.8M75.2 242.1h.8M64.2 239.8h.8M63.7 242.2h.8M76.2 240.2h.8M58.2 239.0h.8M62.1 243.2h.8M67.7 241.2h.8M75.4 236.0h.8M64.1 246.9h.8M69.2 237.7h.8M59.0 238.1h.8M57.2 243.2h.8M67.9 243.1h.8M67.1 238.4h.8M64.5 246.6h.8M60.1 242.7h.8M67.8 242.1h.8M66.0 242.2h.8M71.2 239.0h.8M65.7 240.3h.8M63.6 240.7h.8M66.4 241.2h.8M73.4 242.6h.8M65.8 242.5h.8M69.0 242.2h.8M67.8 241.0h.8M65.7 238.5h.8M71.4 243.1h.8M70.5 240.8h.8M68.8 238.7h.8M60.0 244.2h.8M68.6 238.5h.8M63.6 245.1h.8M59.9 247.4h.8M70.5 246.5h.8M64.6 241.0h.8M65.5 241.3h.8M66.8 238.4h.8M72.3 236.9h.8M65.5 242.5h.8M65.4 239.6h.8M69.2 238.8h.8M62.3 241.4h.8M66.8 245.5h.8M63.0 244.3h.8M64.3 240.1h.8M66.3 241.4h.8M71.4 244.4h.8M65.0 244.9h.8M72.0 241.6h.8M64.4 243.7h.8M67.2 241.4h.8M66.5 242.5h.8M72.5 242.4h.8M66.8 243.4h.8M73.9 236.0h.8M74.0 234.8h.8M70.0 241.4h.8M74.1 239.5h.8M65.6 238.5h.8M62.3 243.9h.8M66.7 238.5h.8M70.0 237.5h.8M65.8 239.4h.8M74.8 242.8h.8M67.0 235.9h.8M68.9 240.2h.8M69.2 241.6h.8M66.3 243.3h.8M71.3 240.0h.8M66.0 239.3h.8M70.7 236.4h.8M67.0 238.3h.8M61.7 243.6h.8M67.6 240.4h.8M71.5 235.0h.8M67.4 241.2h.8M71.3 236.2h.8M70.8 240.2h.8M73.5 242.1h.8M70.1 245.9h.8M67.7 239.1h.8M66.2 237.9h.8M67.6 234.9h.8M67.3 241.6h.8M72.0 238.2h.8M73.7 236.9h.8M67.1 235.0h.8M64.4 238.8h.8M74.0 240.2h.8M63.1 243.0h.8M69.7 239.1h.8M67.8 239.4h.8M65.4 235.8h.8M67.3 244.0h.8M73.7 238.0h.8M64.6 240.5h.8M71.5 240.3h.8M65.2 241.9h.8M66.8 242.0h.8M66.0 236.6h.8M67.9 242.4h.8M63.1 241.2h.8M71.4 238.3h.8M65.0 246.7h.8M71.2 242.3h.8M63.7 245.9h.8M60.8 240.6h.8M70.8 243.3h.8M63.8 239.4h.8M68.5 234.6h.8M70.4 241.2h.8M65.8 242.3h.8M70.9 240.4h.8M69.9 244.0h.8M65.7 241.3h.8M65.5 243.8h.8M66.0 242.1h.8M68.3 240.3h.8M74.9 238.3h.8M73.6 241.1h.8M73.2 238.4h.8M71.6 241.5h.8M65.1 241.7h.8M67.2 240.3h.8M73.1 236.9h.8M60.7 237.2h.8M65.8 239.0h.8M67.8 241.9h.8M75.0 239.3h.8M69.6 237.8h.8M70.1 243.5h.8M73.3 233.4h.8M71.4 243.8h.8M71.1 235.3h.8M66.4 242.3h.8M69.4 237.6h.8M64.0 243.9h.8M62.2 245.7h.8M67.8 241.1h.8M62.2 240.0h.8M70.6 235.5h.8M76.3 234.2h.8M62.6 241.7h.8M69.7 241.8h.8M66.2 240.1h.8M66.7 238.9h.8M57.0 245.7h.8M68.7 240.5h.8M65.1 241.7h.8M67.6 240.1h.8M72.3 234.3h.8M68.7 237.1h.8M66.4 244.8h.8M63.2 241.2h.8M65.3 243.6h.8M63.7 236.6h.8M69.8 238.8h.8M66.4 243.6h.8M64.0 240.2h.8M68.3 241.3h.8M65.6 243.7h.8M77.0 236.8h.8M75.4 232.5h.8M73.5 237.9h.8M68.3 239.2h.8M65.1 237.4h.8M66.1 244.3h.8M72.4 238.1h.8M65.5 238.9h.8M62.7 246.6h.8M70.4 239.9h.8M65.7 238.0h.8M73.1 241.1h.8M63.8 244.1h.8M63.1 243.2h.8M63.7 240.1h.8M69.7 241.0h.8M71.9 236.9h.8M74.2 242.4h.8M67.7 241.6h.8M64.5 240.7h.8M62.2 241.9h.8M68.5 243.8h.8M71.6 241.6h.8M66.2 240.1h.8M66.3 241.3h.8M59.7 244.5h.8M61.2 240.5h.8M67.8 238.8h.8M74.6 238.3h.8M74.2 241.9h.8M65.6 241.9h.8M73.1 238.0h.8M68.1 238.7h.8M67.9 239.3h.8M68.0 243.0h.8M73.4 239.2h.8M68.5 242.5h.8M66.5 237.7h.8M72.3 236.5h.8M71.5 236.6h.8M75.3 235.5h.8M71.2 243.6h.8M63.7 245.4h.8M64.3 236.2h.8M70.7 241.5h.8M66.9 233.5h.8M67.5 239.5h.8M66.1 239.9h.8M60.3 240.6h.8M75.1 242.7h.8M66.2 238.7h.8M69.3 242.8h.8M70.7 236.3h.8M68.4 240.5h.8M73.6 242.1h.8M69.9 243.1h.8M66.1 245.0h.8M65.9 241.8h.8M71.5 236.8h.8M64.8 236.1h.8M68.4 240.0h.8M66.4 242.0h.8M59.0 242.4h.8M68.1 239.5h.8M71.0 244.4h.8M65.9 238.1h.8M65.2 241.2h.8M70.1 237.3h.8M71.8 236.4h.8M71.1 240.6h.8M69.6 245.8h.8M66.6 240.1h.8M69.7 242.2h.8M62.2 242.5h.8M64.6 242.8h.8M73.4 239.0h.8M67.3 240.9h.8M55.5 245.5h.8M70.0 240.2h.8M66.1 238.7h.8M67.0 243.9h.8M67.3 244.2h.8M57.1 241.7h.8M68.8 240.0h.8M60.8 240.2h.8M72.9 235.4h.8M63.6 238.3h.8M65.4 242.7h.8M70.2 234.0h.8M73.7 237.1h.8M65.3 245.6h.8M67.4 236.9h.8M65.1 238.9h.8M63.5 240.4h.8M71.3 240.4h.8M62.0 249.5h.8M63.6 241.7h.8M67.8 242.4h.8M66.3 241.9h.8M76.4 238.4h.8M63.2 242.3h.8M64.4 240.1h.8M68.5 241.0h.8M66.5 243.0h.8M66.9 236.9h.8M71.3 238.4h.8M72.7 237.2h.8M70.1 240.6h.8M56.6 238.9h.8M63.1 245.4h.8M59.9 244.8h.8M72.2 240.5h.8M70.5 238.2h.8M67.7 240.9h.8M69.4 241.8h.8M66.8 238.6h.8M65.4 242.0h.8M60.8 238.5h.8M66.0 239.2h.8M66.6 233.2h.8M66.3 240.0h.8M70.9 234.0h.8M66.4 241.9h.8M69.7 243.1h.8M72.1 236.3h.8M70.3 238.7h.8M64.4 245.4h.8M65.1 238.6h.8M66.0 238.3h.8M71.9 240.3h.8M73.5 240.0h.8M65.2 243.9h.8M65.0 239.7h.8M67.0 240.6h.8M72.6 237.4h.8M69.2 239.9h.8M62.5 238.6h.8M66.8 241.7h.8M69.0 241.3h.8M67.9 239.0h.8M69.5 237.1h.8M62.1 240.8h.8M61.8 240.4h.8M64.6 239.5h.8M67.5 238.1h.8M65.9 236.0h.8M68.3 237.7h.8M69.4 232.0h.8M64.4 241.8h.8M57.6 241.8h.8M68.1 240.5h.8M61.5 242.5h.8M68.3 237.4h.8M70.8 239.4h.8M67.8 239.0h.8M70.0 240.0h.8M72.4 240.4h.8M65.1 240.3h.8M71.5 238.3h.8M69.3 241.4h.8M67.0 234.0h.8M68.2 240.8h.8M68.3 238.0h.8M72.7 238.7h.8M65.1 238.9h.8M69.2 236.9h.8M63.5 247.0h.8M73.1 241.9h.8M73.4 240.5h.8M60.7 245.4h.8M72.9 240.4h.8M59.6 245.8h.8M73.4 237.5h.8M68.2 242.3h.8M67.3 243.5h.8M68.0 242.2h.8M68.1 236.1h.8M63.6 250.3h.8M68.9 243.7h.8M72.4 243.9h.8M70.0 238.0h.8M67.8 234.9h.8M66.9 243.0h.8M58.7 243.1h.8M71.1 243.2h.8M63.8 239.4h.8M59.9 239.4h.8M69.9 245.6h.8M62.9 245.4h.8M69.5 238.5h.8M76.9 230.9h.8M67.4 241.0h.8M76.6 243.1h.8M77.2 238.3h.8M71.8 243.1h.8M69.8 240.8h.8M66.9 239.3h.8M62.6 247.1h.8M65.8 234.9h.8M68.8 239.9h.8M68.4 245.2h.8M67.3 239.7h.8M64.6 241.0h.8M65.9 241.3h.8M80.8 238.1h.8M64.1 246.7h.8M71.3 241.7h.8M70.7 241.9h.8M70.5 243.6h.8M71.9 243.0h.8M65.6 240.8h.8M64.6 243.8h.8M71.2 238.1h.8M70.1 247.1h.8M72.9 235.8h.8M67.3 242.2h.8M67.6 241.4h.8M72.6 240.0h.8M63.1 243.5h.8M67.3 240.7h.8M65.3 237.0h.8M62.5 240.6h.8M63.2 233.8h.8M72.5 235.8h.8M64.7 242.6h.8M57.6 246.6h.8M64.5 243.0h.8M65.7 241.7h.8M68.1 240.2h.8M60.0 238.1h.8M67.5 244.3h.8M65.4 242.4h.8M68.4 241.5h.8M71.9 235.0h.8M68.9 239.5h.8M66.4 238.2h.8M64.4 238.2h.8M63.1 248.6h.8M74.8 238.5h.8M70.8 236.8h.8M56.0 238.1h.8M68.3 244.2h.8M67.5 237.5h.8M66.7 237.7h.8M61.9 241.1h.8M66.0 238.4h.8M64.0 238.6h.8M68.7 244.0h.8M66.8 246.8h.8M60.9 242.8h.8M62.9 241.1h.8M68.1 241.8h.8M72.4 237.5h.8M62.5 241.1h.8M68.9 238.0h.8M71.4 244.1h.8M61.7 242.8h.8M72.0 233.8h.8M68.6 239.4h.8M61.7 245.5h.8M68.6 238.7h.8M69.6 241.6h.8M70.9 241.1h.8M69.4 236.5h.8M65.9 241.1h.8M56.1 249.3h.8M66.1 237.7h.8M60.1 242.9h.8M67.8 238.6h.8M66.0 238.2h.8M64.6 240.8h.8M65.0 242.9h.8M67.1 240.8h.8M69.4 243.5h.8M70.2 240.3h.8M67.0 238.2h.8M66.3 242.6h.8M68.6 239.0h.8M62.1 237.4h.8M69.0 242.9h.8M69.3 236.0h.8M66.8 241.2h.8M63.9 242.3h.8M66.9 238.1h.8M62.5 243.9h.8M69.2 237.4h.8M63.5 243.9h.8M70.2 238.8h.8M74.4 237.8h.8M63.3 244.5h.8M66.9 241.5h.8M67.9 237.4h.8M62.7 241.0h.8M73.6 236.0h.8M73.4 239.5h.8M63.0 242.2h.8M70.1 237.2h.8M58.8 243.6h.8M63.1 242.7h.8M59.7 241.9h.8M64.3 237.0h.8M66.7 241.0h.8M65.4 237.6h.8M68.6 235.1h.8M69.9 241.1h.8M74.7 241.0h.8M69.2 240.7h.8M67.8 236.5h.8M73.8 240.2h.8M66.5 237.4h.8M73.9 240.2h.8M62.7 243.4h.8M75.6 238.2h.8M69.4 238.7h.8M65.1 244.0h.8M80.6 237.4h.8M67.2 242.7h.8M66.4 242.7h.8M71.2 236.6h.8M63.2 241.2h.8M71.2 240.2h.8M72.9 235.1h.8M69.8 238.0h.8M68.1 241.1h.8M63.7 240.7h.8M62.8 242.3h.8M64.2 239.8h.8M68.6 238.2h.8M72.5 237.3h.8M71.2 240.2h.8M63.4 240.8h.8M64.2 240.2h.8M66.6 245.7h.8M66.0 245.2h.8M69.6 236.2h.8M58.1 244.6h.8M59.4 244.4h.8M72.0 240.3h.8M66.8 239.8h.8M68.8 239.2h.8M65.5 239.8h.8M72.6 237.3h.8M69.3 236.7h.8M64.7 237.2h.8M66.9 242.4h.8M69.0 238.6h.8M70.2 238.7h.8M69.3 240.7h.8M70.0 232.8h.8M62.3 243.8h.8M67.3 246.7h.8M66.7 239.0h.8M73.9 240.3h.8M75.6 239.7h.8M66.9 242.5h.8M64.4 239.9h.8M65.4 240.3h.8M70.9 238.1h.8M69.0 238.6h.8M71.4 231.6h.8M66.8 241.0h.8M63.2 244.3h.8M68.6 243.7h.8M71.7 241.1h.8M67.1 237.4h.8M66.8 239.2h.8M68.7 238.7h.8M80.4 232.6h.8M72.6 237.7h.8M66.7 243.2h.8M67.7 236.9h.8M69.4 239.3h.8M59.2 243.0h.8M63.3 239.3h.8M69.7 240.6h.8M66.5 246.7h.8M69.4 238.1h.8M68.7 239.7h.8M58.5 238.2h.8M61.9 247.5h.8M66.9 239.7h.8M65.4 243.6h.8M67.8 245.1h.8M71.0 244.1h.8M67.2 241.5h.8M65.9 240.3h.8M60.5 240.5h.8M63.8 239.5h.8M72.7 239.8h.8M72.8 241.4h.8M71.5 242.2h.8M65.2 243.2h.8M66.4 239.2h.8M72.7 245.1h.8M63.6 246.2h.8M71.1 237.1h.8M68.8 241.1h.8M69.3 238.9h.8M62.4 241.7h.8M71.3 241.6h.8M70.4 242.7h.8M63.6 241.2h.8M69.1 242.7h.8M68.3 241.6h.8M68.3 246.0h.8M58.7 242.5h.8M78.0 238.4h.8M60.1 242.6h.8M61.8 239.9h.8M68.6 244.9h.8M69.6 241.7h.8M71.9 239.8h.8M64.1 240.9h.8M69.1 239.2h.8M64.9 240.0h.8M61.5 239.0h.8M67.3 239.4h.8M67.9 244.2h.8M68.9 239.9h.8M62.8 238.5h.8M69.3 237.5h.8M69.5 236.9h.8M68.3 240.0h.8M71.8 238.2h.8M66.2 241.4h.8M67.9 245.0h.8M66.6 239.1h.8M66.4 242.0h.8M68.7 242.0h.8M62.0 248.7h.8M75.3 238.3h.8M62.7 242.0h.8M69.4 233.6h.8M67.8 236.2h.8M69.6 243.7h.8M72.0 235.0h.8M73.4 241.4h.8M66.2 242.1h.8M74.0 237.8h.8M67.6 238.8h.8M72.5 233.1h.8M73.6 236.1h.8M71.5 234.8h.8M63.8 239.6h.8M71.1 234.9h.8M70.2 237.9h.8M72.8 238.1h.8M69.7 239.3h.8M75.1 237.4h.8M67.6 245.9h.8M68.0 242.1h.8M64.6 241.6h.8M58.3 243.0h.8M65.0 236.8h.8M61.8 245.0h.8M69.5 235.6h.8M75.2 236.5h.8M66.2 241.4h.8M63.0 237.0h.8M64.6 244.4h.8M71.6 234.9h.8M72.7 239.1h.8M69.8 239.9h.8M69.4 237.1h.8M63.9 239.3h.8M66.2 242.4h.8M62.7 246.0h.8M65.1 239.3h.8M70.6 240.8h.8M66.3 237.7h.8M63.6 236.9h.8M72.4 242.1h.8M75.4 239.7h.8M69.1 242.1h.8M71.6 238.6h.8M69.2 246.0h.8M60.7 238.1h.8M63.7 243.4h.8M72.6 238.1h.8M70.5 239.5h.8M68.9 238.5h.8M67.6 240.3h.8M72.4 245.4h.8M60.2 243.7h.8M67.7 243.0h.8M72.1 241.4h.8M71.0 236.8h.8M60.6 246.7h.8M72.7 236.4h.8M73.0 240.8h.8M57.5 245.4h.8M63.6 244.6h.8M64.9 238.9h.8M61.3 241.3h.8M71.9 237.4h.8M60.0 248.2h.8M75.3 240.3h.8M65.5 237.5h.8M60.9 243.6h.8M73.1 236.0h.8M67.7 239.5h.8M66.6 242.0h.8M76.4 236.3h.8M71.2 242.5h.8M66.5 240.2h.8M62.1 244.7h.8M65.5 239.0h.8M68.0 237.8h.8M63.4 240.6h.8M73.9 238.2h.8M69.9 235.6h.8M59.6 247.4h.8M66.0 236.4h.8M67.3 242.1h.8M60.5 239.6h.8M68.8 237.4h.8M71.0 242.2h.8M69.5 238.6h.8M67.5 238.6h.8M67.2 241.3h.8M66.5 243.3h.8M78.5 236.1h.8M69.1 242.2h.8M70.4 239.0h.8M65.7 243.6h.8M70.3 241.1h.8M64.4 242.9h.8M71.0 238.9h.8M70.4 245.7h.8M59.9 244.0h.8M62.8 237.7h.8M66.7 242.1h.8M67.9 237.0h.8M61.7 240.2h.8M67.8 238.0h.8M61.5 246.8h.8M64.2 240.7h.8M65.4 239.2h.8M67.9 239.4h.8M70.3 236.3h.8M61.5 247.3h.8M67.4 242.5h.8M72.6 240.6h.8M67.9 235.9h.8M61.0 244.7h.8M70.5 241.2h.8M60.8 236.0h.8M63.3 238.1h.8M68.4 237.3h.8M74.3 236.9h.8M65.4 243.3h.8M69.1 237.4h.8M71.1 244.8h.8M62.6 240.9h.8M63.2 236.0h.8M70.3 241.6h.8M71.8 240.5h.8M59.3 242.3h.8M64.9 237.7h.8M63.1 243.6h.8M66.5 246.2h.8M69.7 234.4h.8M71.4 242.9h.8M67.8 236.8h.8M75.1 234.7h.8M67.3 235.0h.8M62.5 236.8h.8M72.3 242.5h.8M66.0 236.9h.8M67.4 241.4h.8M61.3 238.6h.8M67.3 242.4h.8M68.0 241.5h.8M62.5 234.6h.8M69.0 237.4h.8M67.2 239.4h.8M69.7 237.6h.8M73.8 238.9h.8M69.9 241.5h.8M72.1 240.3h.8M60.4 240.4h.8M75.5 239.7h.8M70.1 241.0h.8M65.0 239.1h.8M65.0 244.3h.8M69.2 245.0h.8M69.8 245.1h.8M69.6 236.5h.8M75.0 239.4h.8M72.7 239.6h.8M66.3 241.1h.8M63.0 238.1h.8M64.0 239.8h.8M62.0 241.4h.8M69.0 245.8h.8M75.5 238.2h.8M71.4 238.7h.8M69.3 239.8h.8M65.4 241.1h.8M61.5 243.1h.8M66.5 237.5h.8M66.2 242.3h.8M64.8 242.4h.8M70.1 244.1h.8M63.1 241.1h.8M69.9 244.0h.8M68.8 242.2h.8M61.5 240.2h.8M74.7 237.7h.8M76.9 235.9h.8M66.5 236.0h.8M70.4 240.4h.8M76.3 238.6h.8M66.6 236.5h.8M67.4 243.1h.8M70.8 243.0h.8M71.4 239.2h.8M70.3 240.1h.8M62.0 246.6h.8M69.3 236.9h.8M69.3 240.7h.8M71.9 243.4h.8M54.8 245.2h.8M74.2 235.9h.8M59.8 243.1h.8M69.1 240.9h.8M63.0 240.1h.8M68.5 242.2h.8M77.0 238.8h.8M65.1 234.2h.8M72.3 238.8h.8M83.9 223.2h.8M88.5 219.2h.8M85.1 228.0h.8M86.1 233.2h.8M84.0 228.0h.8M89.2 220.2h.8M82.9 227.9h.8M89.7 223.5h.8M88.9 228.8h.8M76.4 221.6h.8M76.7 228.8h.8M85.6 230.6h.8M89.0 224.7h.8M90.3 230.7h.8M87.1 229.4h.8M77.5 229.7h.8M78.9 222.7h.8M82.6 228.3h.8M84.2 226.1h.8M79.0 228.8h.8M80.4 221.6h.8M85.0 233.9h.8M82.3 223.0h.8M92.1 234.5h.8M82.9 226.7h.8M85.7 240.5h.8M85.2 231.9h.8M86.9 219.2h.8M78.5 222.5h.8M86.9 227.8h.8M94.3 225.5h.8M86.2 227.7h.8M85.3 237.8h.8M86.1 233.9h.8M91.6 224.2h.8M88.3 225.5h.8M85.1 228.2h.8M84.6 225.4h.8M93.0 225.6h.8M88.4 234.7h.8M87.9 231.8h.8M92.1 231.7h.8M93.9 220.4h.8M95.2 226.7h.8M74.9 225.4h.8M76.9 228.0h.8M76.3 223.7h.8M86.1 228.1h.8M80.1 226.8h.8M84.0 227.9h.8M84.5 226.5h.8M89.3 219.9h.8M81.8 228.3h.8M82.3 225.2h.8M82.1 228.6h.8M91.3 226.1h.8M83.0 229.2h.8M83.2 219.0h.8M86.0 225.7h.8M81.4 230.6h.8M84.7 225.0h.8M72.5 220.8h.8M84.6 227.0h.8M86.9 228.3h.8M81.9 222.1h.8M78.5 227.4h.8M78.2 231.4h.8M77.2 220.1h.8M83.4 219.6h.8M93.4 222.3h.8M84.2 226.4h.8M80.0 220.0h.8M74.3 232.2h.8M90.1 236.7h.8M76.5 230.7h.8M84.4 231.3h.8M81.7 231.0h.8M89.4 229.8h.8M92.5 226.1h.8M93.0 223.7h.8M93.7 214.5h.8M84.6 223.9h.8M84.5 232.1h.8M88.4 227.6h.8M93.9 220.1h.8M80.0 234.6h.8M86.3 218.1h.8M86.4 222.0h.8M92.6 232.0h.8M81.5 233.5h.8M79.9 232.0h.8M87.7 226.7h.8M76.7 226.9h.8M71.9 226.0h.8M74.3 233.8h.8M79.2 217.0h.8M87.7 228.9h.8M81.7 237.2h.8M88.8 227.4h.8M81.0 214.6h.8M87.1 231.6h.8M81.2 221.4h.8M84.3 220.0h.8M84.5 230.9h.8M92.8 228.0h.8M85.6 230.8h.8M92.2 225.4h.8M77.7 224.5h.8M77.6 224.1h.8M83.8 229.1h.8M85.4 227.7h.8M82.5 229.6h.8M89.4 230.5h.8M92.7 225.5h.8M83.1 235.2h.8M85.6 229.3h.8M82.7 232.0h.8M82.3 223.2h.8M84.2 225.5h.8M89.1 225.4h.8M85.2 226.5h.8M86.4 224.5h.8M90.6 220.6h.8M82.4 224.5h.8M88.1 227.4h.8M87.2 225.8h.8M80.6 222.8h.8M82.7 225.3h.8M86.0 229.0h.8M89.9 226.6h.8M80.4 223.1h.8M84.8 229.1h.8M95.2 227.4h.8M94.2 235.1h.8M78.7 233.4h.8M90.8 233.0h.8M84.4 231.8h.8M81.9 227.4h.8M84.6 235.5h.8M83.3 231.9h.8M84.9 224.3h.8M85.8 230.3h.8M80.6 230.7h.8M80.6 223.9h.8M85.7 226.3h.8M79.1 220.6h.8M84.6 228.6h.8M82.0 228.5h.8M76.1 229.9h.8M86.8 228.6h.8M81.1 228.1h.8M85.2 232.2h.8M86.0 228.5h.8M80.5 231.7h.8M90.9 224.8h.8M88.0 228.6h.8M84.2 221.8h.8M94.2 218.4h.8M86.2 225.7h.8M90.8 225.1h.8M84.7 230.2h.8M87.0 225.0h.8M88.2 228.9h.8M89.9 224.8h.8M84.2 225.8h.8M79.9 229.0h.8M86.7 233.7h.8M82.7 229.4h.8M90.8 226.5h.8M84.8 228.1h.8M80.7 223.4h.8M90.6 227.8h.8M84.1 222.0h.8M85.1 232.7h.8M78.2 224.0h.8M90.6 233.4h.8M93.0 224.3h.8M87.8 223.9h.8M87.4 225.6h.8M85.6 233.4h.8M86.4 226.3h.8M84.8 228.7h.8M81.7 228.7h.8M87.8 234.2h.8M73.2 223.1h.8M77.7 232.0h.8M97.8 227.3h.8M85.2 232.5h.8M71.1 227.8h.8M67.5 229.6h.8M81.7 225.6h.8M86.4 224.7h.8M90.6 227.0h.8M86.6 238.6h.8M82.0 231.8h.8M80.0 233.4h.8M89.8 227.7h.8M89.9 234.2h.8M92.0 226.9h.8M84.2 232.4h.8M76.5 225.5h.8M87.1 229.8h.8M94.7 234.5h.8M86.3 229.3h.8M77.3 227.3h.8M85.9 226.4h.8M84.8 230.2h.8M79.3 225.4h.8M74.8 233.4h.8M78.8 220.4h.8M88.7 226.2h.8M89.8 225.4h.8M96.1 229.7h.8M85.3 227.9h.8M83.4 231.2h.8M95.4 224.7h.8M78.6 230.6h.8M90.3 220.4h.8M80.7 223.4h.8M87.6 229.5h.8M80.5 222.8h.8M88.2 218.1h.8M88.0 226.5h.8M94.9 231.0h.8M81.4 226.5h.8M83.0 224.4h.8M84.9 231.7h.8M76.3 227.2h.8M92.6 230.1h.8M80.1 224.3h.8M79.9 220.8h.8M90.7 227.3h.8M80.7 221.5h.8M82.4 225.4h.8M93.8 224.7h.8M85.1 232.2h.8M88.1 226.4h.8M72.7 234.6h.8M87.7 225.3h.8M84.0 223.3h.8M79.6 221.4h.8M87.2 229.6h.8M85.4 230.9h.8M87.4 227.8h.8M79.7 230.5h.8M90.9 229.8h.8M91.2 224.9h.8M79.2 233.4h.8M81.3 228.8h.8M83.5 227.7h.8M83.0 225.2h.8M74.9 236.7h.8M85.6 218.9h.8M79.6 223.0h.8M80.5 216.6h.8M87.6 234.4h.8M83.2 230.9h.8M87.7 221.8h.8M91.1 219.6h.8M81.4 226.2h.8M91.3 227.5h.8M83.8 224.0h.8M85.0 227.6h.8M88.4 233.3h.8M88.5 227.3h.8M83.7 234.6h.8M85.6 227.3h.8M94.2 233.6h.8M87.6 226.8h.8M81.1 232.5h.8M82.1 231.9h.8M80.3 228.3h.8M86.7 228.0h.8M85.8 229.1h.8M78.5 223.1h.8M83.7 235.5h.8M83.8 223.5h.8M81.0 227.9h.8M90.9 224.5h.8M87.5 228.1h.8M82.6 223.5h.8M83.7 224.4h.8M87.4 219.6h.8M90.6 230.3h.8M87.6 233.8h.8M87.7 219.8h.8M84.8 229.4h.8M80.8 222.9h.8M86.8 229.5h.8M82.2 226.6h.8M81.8 225.2h.8M84.2 232.2h.8M75.9 226.7h.8M93.2 228.2h.8M85.3 231.1h.8M79.1 222.7h.8M75.6 221.9h.8M85.8 231.1h.8M82.3 224.7h.8M86.7 230.0h.8M85.9 219.1h.8M81.6 216.7h.8M85.8 223.7h.8M81.0 234.3h.8M91.6 229.0h.8M86.0 228.1h.8M81.4 227.5h.8M94.7 222.8h.8M81.0 228.5h.8M89.3 230.7h.8M79.3 227.4h.8M83.1 222.2h.8M84.9 225.4h.8M89.4 229.0h.8M80.3 228.2h.8M82.6 224.9h.8M81.9 232.3h.8M82.3 220.2h.8M80.4 231.4h.8M96.0 222.0h.8M82.6 226.2h.8M77.0 229.9h.8M84.2 228.7h.8M96.5 225.4h.8M88.7 230.8h.8M81.1 225.2h.8M92.8 229.9h.8M85.3 222.7h.8M89.2 229.4h.8M96.3 233.0h.8M88.8 228.3h.8M84.8 225.1h.8M86.2 228.4h.8M88.0 231.9h.8M86.2 225.0h.8M88.8 233.9h.8M80.0 229.7h.8M87.4 229.6h.8M87.2 226.9h.8M84.0 234.9h.8M93.8 220.6h.8M70.9 230.5h.8M80.9 225.5h.8M76.0 229.7h.8M84.2 225.2h.8M89.3 237.7h.8M92.4 232.0h.8M82.3 230.5h.8M84.3 232.6h.8M87.6 227.1h.8M87.5 224.1h.8M88.7 233.7h.8M82.6 230.1h.8M75.6 232.3h.8M89.2 222.7h.8M93.8 227.2h.8M75.3 222.3h.8M89.2 225.9h.8M90.4 220.3h.8M84.0 231.8h.8M80.9 230.8h.8M82.6 229.2h.8M86.2 237.1h.8M77.9 231.4h.8M91.5 222.0h.8M84.9 237.5h.8M90.1 214.1h.8M83.2 220.2h.8M86.1 224.2h.8M81.5 224.1h.8M86.1 225.3h.8M79.7 226.9h.8M86.7 223.6h.8M90.4 219.8h.8M86.7 225.6h.8M92.9 224.0h.8M81.0 222.0h.8M95.1 229.3h.8M78.7 226.5h.8M79.4 234.5h.8M86.7 218.5h.8M85.6 231.4h.8M84.5 229.6h.8M83.9 228.5h.8M85.6 224.3h.8M86.4 228.1h.8M84.3 224.5h.8M79.1 229.0h.8M88.9 216.6h.8M81.6 233.6h.8M89.4 224.0h.8M91.7 222.6h.8M80.3 236.3h.8M82.2 226.7h.8M75.7 223.8h.8M78.2 227.4h.8M74.7 232.9h.8M82.6 225.0h.8M81.1 231.0h.8M92.7 225.1h.8M93.1 233.8h.8M91.7 228.2h.8M76.5 231.1h.8M82.3 228.5h.8M74.4 227.1h.8M85.7 223.3h.8M86.1 234.7h.8M85.7 224.4h.8M97.3 217.1h.8M79.6 229.7h.8M81.3 217.8h.8M85.9 231.0h.8M80.2 234.2h.8M87.2 232.5h.8M76.3 228.2h.8M93.1 235.6h.8M91.6 226.9h.8M85.5 224.7h.8M90.4 224.0h.8M85.2 218.4h.8M76.4 235.9h.8M84.8 228.4h.8M72.7 228.3h.8M95.6 220.1h.8M71.8 227.8h.8M81.7 226.8h.8M77.8 222.1h.8M77.9 230.8h.8M84.2 231.1h.8M78.7 230.6h.8M82.1 228.1h.8M89.5 227.2h.8M82.6 220.4h.8M84.8 230.9h.8M81.1 227.5h.8M75.0 222.4h.8M86.7 233.0h.8M82.8 220.3h.8M82.5 220.8h.8M83.0 236.1h.8M86.1 226.7h.8M90.1 225.4h.8M86.3 228.2h.8M86.9 220.9h.8M88.3 231.1h.8M72.2 216.6h.8M79.7 234.4h.8M84.6 230.5h.8M87.5 231.2h.8M81.1 225.2h.8M78.5 235.6h.8M79.6 234.3h.8M73.9 238.7h.8M79.0 237.1h.8M62.8 241.6h.8M63.3 238.6h.8M72.9 235.5h.8M73.9 233.6h.8M77.5 234.9h.8M72.2 226.1h.8M72.3 237.2h.8M71.9 236.9h.8M74.5 231.2h.8M82.8 238.1h.8M75.9 234.0h.8M81.7 227.7h.8M71.8 239.5h.8M81.4 230.8h.8M72.3 236.5h.8M68.9 234.4h.8M75.2 225.5h.8M79.7 235.8h.8M82.3 227.1h.8M69.5 233.1h.8M69.4 243.5h.8M71.2 234.4h.8M77.6 235.3h.8M84.4 227.8h.8M81.3 233.1h.8M70.1 236.4h.8M68.9 242.1h.8M72.5 238.8h.8M83.6 229.7h.8M71.6 235.9h.8M70.8 238.9h.8M77.5 230.9h.8M72.8 237.7h.8M68.6 242.5h.8M72.2 234.5h.8M71.4 241.4h.8M81.0 237.4h.8M80.1 233.3h.8M85.8 233.7h.8M78.9 235.4h.8M80.5 233.8h.8M75.6 228.4h.8M87.8 226.0h.8M64.7 234.8h.8M87.1 235.4h.8M73.2 235.9h.8M76.4 226.8h.8M74.7 235.6h.8M82.9 227.7h.8M64.1 231.8h.8M78.3 233.8h.8M77.3 234.3h.8M74.5 229.6h.8M79.0 234.7h.8M79.7 237.6h.8M69.7 227.4h.8M66.7 244.7h.8M71.5 236.9h.8M76.4 236.7h.8M94.1 227.0h.8M75.6 232.1h.8M77.8 235.5h.8M71.2 240.4h.8M82.8 233.8h.8M75.9 233.3h.8M67.5 239.0h.8M71.1 233.7h.8M82.0 229.0h.8M73.6 238.0h.8M86.7 228.5h.8M82.6 229.8h.8M78.6 235.2h.8M70.2 239.6h.8M86.4 231.3h.8M78.0 229.3h.8M86.3 231.4h.8M69.5 238.8h.8M68.5 233.8h.8M64.8 242.5h.8M88.7 228.1h.8M72.9 232.9h.8M73.4 236.9h.8M84.5 228.0h.8M78.9 226.7h.8M84.9 231.2h.8M72.6 240.7h.8M75.9 239.2h.8M82.4 238.4h.8M72.1 235.5h.8M78.5 232.7h.8M84.9 228.9h.8M82.0 237.4h.8M65.8 233.6h.8M71.5 233.4h.8M78.6 232.7h.8M76.9 232.2h.8M76.0 235.9h.8M80.6 229.9h.8M75.9 231.4h.8M75.5 229.0h.8M81.7 234.9h.8M75.8 231.7h.8M74.0 232.3h.8M68.0 242.5h.8M94.6 224.2h.8M70.1 238.0h.8M79.8 227.3h.8M65.9 239.1h.8M65.5 242.4h.8M73.8 235.1h.8M76.5 232.0h.8M75.7 233.1h.8M83.3 231.7h.8M76.3 232.1h.8M73.0 232.3h.8M76.6 240.7h.8M82.6 233.1h.8M85.7 235.0h.8M77.6 233.1h.8M70.5 236.7h.8M74.8 228.7h.8M69.4 243.2h.8M77.7 235.5h.8M77.6 232.0h.8M79.0 237.2h.8M74.8 236.4h.8M82.1 230.6h.8M77.4 231.0h.8M79.8 231.7h.8M82.8 229.4h.8M85.8 230.2h.8M71.9 232.0h.8M80.1 229.8h.8M86.4 235.8h.8M79.3 228.0h.8M76.4 231.4h.8M66.5 238.5h.8M88.6 228.5h.8M81.0 237.4h.8M71.2 234.3h.8M78.0 235.3h.8M70.2 236.6h.8M75.9 237.7h.8M67.7 234.5h.8M73.7 233.6h.8M80.5 230.5h.8M91.6 227.0h.8M81.1 236.4h.8M81.8 231.7h.8M71.9 234.4h.8M80.2 233.4h.8M79.7 235.2h.8M71.6 232.0h.8M84.4 229.9h.8M67.8 243.4h.8M71.9 231.9h.8M81.8 228.3h.8M71.7 239.2h.8M72.0 244.5h.8M77.0 243.7h.8M77.2 234.0h.8M73.0 234.2h.8M73.7 234.7h.8M80.7 228.1h.8M71.5 227.8h.8M84.8 231.3h.8M76.4 233.8h.8M82.0 233.6h.8M81.2 232.0h.8M75.8 234.0h.8M66.3 241.0h.8M67.8 232.9h.8M80.2 233.1h.8M81.0 239.0h.8M86.7 236.1h.8M75.3 241.9h.8M71.7 235.1h.8M82.0 231.6h.8M75.8 232.9h.8M84.0 222.8h.8M83.5 235.8h.8M76.1 236.2h.8M71.2 239.6h.8M93.3 225.7h.8M84.2 231.6h.8M74.6 232.8h.8M75.5 229.7h.8M69.0 242.3h.8M76.4 236.1h.8M78.2 235.3h.8M68.1 233.0h.8M80.0 236.6h.8M70.2 233.7h.8M70.6 238.1h.8M78.4 233.6h.8M72.9 236.3h.8M76.7 231.2h.8M78.3 231.0h.8M81.7 234.8h.8M72.7 237.3h.8M76.9 231.3h.8M71.5 229.4h.8M70.3 237.1h.8M83.1 229.8h.8M77.4 235.0h.8M80.8 234.4h.8M83.2 234.8h.8M72.3 236.7h.8M63.6 237.1h.8M76.6 236.1h.8M74.8 237.5h.8M83.8 228.8h.8M73.5 235.8h.8M79.2 233.7h.8M81.1 228.3h.8M80.8 237.0h.8M82.6 233.8h.8M75.2 235.8h.8M76.1 228.3h.8M73.2 234.8h.8M73.7 231.4h.8M75.2 233.0h.8M76.9 233.7h.8M77.4 237.4h.8M77.3 235.3h.8M69.8 225.1h.8M74.3 237.1h.8M74.6 232.3h.8M69.7 239.3h.8M73.6 235.7h.8M82.7 234.2h.8M88.8 229.9h.8M81.8 235.0h.8M72.9 235.2h.8M73.4 231.1h.8M78.1 230.7h.8M85.7 228.6h.8M73.5 235.2h.8M73.6 235.0h.8M73.2 229.8h.8M63.2 233.1h.8M84.9 233.2h.8M77.3 232.1h.8M75.7 235.3h.8M68.9 233.3h.8M71.6 240.0h.8M70.7 240.0h.8M73.9 244.7h.8M76.1 234.2h.8M83.9 235.0h.8M81.7 228.6h.8M82.7 238.3h.8M75.9 232.4h.8M70.5 239.5h.8M78.1 233.6h.8M69.7 241.9h.8M81.3 232.5h.8M84.6 228.2h.8M81.3 228.9h.8M84.3 230.7h.8M83.2 230.5h.8M78.7 237.5h.8M71.5 235.8h.8M71.9 238.5h.8M73.2 233.6h.8M75.4 238.6h.8M70.8 235.6h.8M74.7 232.5h.8M72.2 234.7h.8M77.6 228.0h.8M77.8 229.3h.8M76.6 242.3h.8M71.2 235.3h.8M75.1 238.0h.8M73.9 228.2h.8M67.6 237.2h.8M77.9 237.5h.8M73.5 237.3h.8M70.6 240.5h.8M76.1 231.6h.8M77.5 240.1h.8M71.8 230.8h.8M70.9 231.4h.8M76.2 235.4h.8M75.6 235.0h.8M83.0 231.0h.8M69.6 227.6h.8M77.8 231.1h.8M75.1 235.9h.8M79.0 227.5h.8M71.2 235.8h.8M75.7 238.4h.8M73.7 227.2h.8M82.9 226.1h.8M71.2 237.0h.8M70.7 244.8h.8M77.8 235.6h.8M74.1 242.8h.8M79.5 230.5h.8M83.4 225.8h.8M73.3 236.0h.8M77.3 230.3h.8M85.2 236.9h.8M71.4 236.9h.8M73.0 233.4h.8M81.9 232.9h.8M75.9 234.5h.8M70.1 240.4h.8M72.4 240.0h.8M74.0 233.1h.8M84.7 232.3h.8M73.0 233.1h.8M79.8 239.9h.8M79.9 231.6h.8M70.3 233.3h.8M75.8 235.1h.8M72.9 239.7h.8M71.2 232.9h.8M79.2 235.0h.8M74.4 238.2h.8M68.8 242.2h.8M88.5 237.7h.8M77.2 241.0h.8M76.8 238.8h.8M75.4 235.0h.8M79.4 226.8h.8M75.4 240.6h.8M60.4 240.1h.8M81.6 233.7h.8M77.6 238.8h.8M78.3 226.5h.8M71.3 234.4h.8M77.3 232.1h.8M75.9 240.3h.8M60.4 242.9h.8M81.7 234.7h.8M76.6 234.2h.8M78.5 234.3h.8M72.5 238.0h.8M72.0 235.2h.8M74.5 230.4h.8M79.8 232.8h.8M70.1 235.6h.8M68.9 241.5h.8M79.3 240.4h.8M73.4 237.5h.8M65.8 227.6h.8M74.6 236.6h.8M84.7 229.2h.8M86.5 239.1h.8M66.8 233.0h.8M66.4 248.7h.8M70.0 241.3h.8M84.6 229.3h.8M70.6 236.7h.8M67.8 223.8h.8M65.9 237.4h.8M77.4 247.3h.8M57.3 240.3h.8M64.0 244.5h.8M82.4 232.9h.8M90.2 227.4h.8M70.2 225.2h.8M69.0 235.1h.8M82.2 242.5h.8M72.8 227.4h.8M72.2 230.0h.8M70.8 230.5h.8M66.8 234.0h.8M70.4 232.5h.8M61.7 236.5h.8M81.2 237.4h.8M70.0 224.5h.8M62.6 225.5h.8M69.1 231.5h.8M57.9 241.5h.8M60.2 229.9h.8M68.3 241.1h.8M93.8 227.0h.8M72.8 230.2h.8M73.5 231.9h.8M100.0 219.9h.8M74.4 226.7h.8M79.0 228.1h.8M81.2 223.1h.8M96.4 231.2h.8M58.0 241.7h.8M70.8 224.3h.8M79.9 228.0h.8M82.8 227.2h.8M84.4 232.7h.8M79.0 233.7h.8M71.9 230.6h.8M80.0 238.1h.8M71.5 252.1h.8M92.2 220.7h.8M86.2 230.6h.8M77.8 226.1h.8M91.8 223.5h.8M74.7 227.2h.8M94.6 240.1h.8M62.5 231.5h.8M79.1 228.9h.8M72.0 224.8h.8M78.0 223.6h.8M83.7 251.3h.8M72.3 247.0h.8M79.2 226.9h.8M72.1 225.7h.8M76.6 238.6h.8M84.7 229.2h.8M63.7 234.4h.8M92.0 232.5h.8M74.9 216.1h.8M71.2 238.2h.8M66.2 245.6h.8M69.9 226.8h.8M69.8 233.2h.8M85.4 226.7h.8M57.9 235.4h.8M80.7 244.7h.8M64.4 247.0h.8M82.2 235.6h.8M67.9 227.1h.8M66.1 242.2h.8M77.7 241.4h.8M93.4 230.1h.8M75.0 248.8h.8M62.7 231.5h.8M71.9 230.5h.8M76.9 225.9h.8M86.9 219.9h.8M67.5 220.6h.8M61.7 240.2h.8M81.7 230.4h.8M83.8 236.7h.8M69.8 233.7h.8M79.1 248.8h.8M71.2 236.8h.8M80.9 242.1h.8M79.7 241.1h.8M65.0 232.7h.8M56.5 235.9h.8M98.4 231.1h.8M76.4 235.1h.8M76.9 222.0h.8M68.7 232.8h.8M77.2 225.7h.8M74.5 227.2h.8M62.5 229.9h.8M67.6 241.2h.8M88.7 235.5h.8M73.4 228.9h.8M60.1 231.4h.8M90.9 239.8h.8M77.7 230.7h.8M75.5 236.5h.8M75.4 236.5h.8M67.9 234.7h.8M72.1 242.4h.8M63.3 245.7h.8M74.7 229.1h.8M75.7 234.0h.8M73.2 236.9h.8M69.8 220.3h.8M82.3 231.7h.8M91.9 233.4h.8M55.8 246.5h.8M68.7 238.7h.8M97.3 238.2h.8M64.8 234.1h.8M59.7 241.2h.8M81.0 223.8h.8M80.0 239.9h.8M83.4 226.3h.8M68.7 225.1h.8M62.8 237.8h.8M75.9 243.6h.8M78.2 230.0h.8M61.5 248.0h.8M77.1 232.5h.8M65.6 226.2h.8M81.7 224.1h.8M81.2 237.2h.8M71.8 220.6h.8M79.5 243.8h.8M67.4 224.2h.8M86.2 232.4h.8M69.4 244.0h.8M72.8 237.2h.8M71.6 227.7h.8M77.7 225.7h.8M58.1 231.7h.8M87.6 239.9h.8M96.8 237.5h.8M91.3 232.4h.8" stroke="#5e5e5e" stroke-width="1" stroke-opacity=".6" fill="none" filter="url(#bl)"/>
<line x1="76.8" y1="191.3" x2="76.8" y2="259.2" stroke="#333" stroke-width="0.8" />
<line x1="47.5" y1="235.4" x2="113.5" y2="235.4" stroke="#333" stroke-width="0.8" />
<text x="53" y="204.8" font-family="Liberation Serif, serif" font-size="10" font-weight="bold" text-anchor="start" fill="#000" textLength="21" lengthAdjust="spacingAndGlyphs" stroke="#000" stroke-width="0.22" >9.2%</text>
<text x="89.6" y="204.8" font-family="Liberation Serif, serif" font-size="10" font-weight="bold" text-anchor="start" fill="#000" textLength="20.7" lengthAdjust="spacingAndGlyphs" stroke="#000" stroke-width="0.22" >9.2%</text>
<text x="88.8" y="257.8" font-family="Liberation Serif, serif" font-size="10" font-weight="bold" text-anchor="start" fill="#000" textLength="21.2" lengthAdjust="spacingAndGlyphs" stroke="#000" stroke-width="0.22" >5.3%</text>
<path d="M47.5 259.2v1.6M45.9 259.2h1.6M52.5 259.2v0.9M46.6 254.1h0.9M55.4 259.2v0.9M46.6 251.1h0.9M57.4 259.2v0.9M46.6 249.0h0.9M59.0 259.2v0.9M46.6 247.3h0.9M60.3 259.2v0.9M46.6 246.0h0.9M61.4 259.2v0.9M46.6 244.9h0.9M62.4 259.2v0.9M46.6 243.9h0.9M63.2 259.2v0.9M46.6 243.0h0.9M64.0 259.2v1.6M45.9 242.2h1.6M69.0 259.2v0.9M46.6 237.1h0.9M71.9 259.2v0.9M46.6 234.1h0.9M73.9 259.2v0.9M46.6 232.0h0.9M75.5 259.2v0.9M46.6 230.4h0.9M76.8 259.2v0.9M46.6 229.0h0.9M77.9 259.2v0.9M46.6 227.9h0.9M78.9 259.2v0.9M46.6 226.9h0.9M79.7 259.2v0.9M46.6 226.0h0.9M80.5 259.2v1.6M45.9 225.2h1.6M85.5 259.2v0.9M46.6 220.1h0.9M88.4 259.2v0.9M46.6 217.2h0.9M90.4 259.2v0.9M46.6 215.0h0.9M92.0 259.2v0.9M46.6 213.4h0.9M93.3 259.2v0.9M46.6 212.0h0.9M94.4 259.2v0.9M46.6 210.9h0.9M95.4 259.2v0.9M46.6 209.9h0.9M96.2 259.2v0.9M46.6 209.1h0.9M97.0 259.2v1.6M45.9 208.3h1.6M102.0 259.2v0.9M46.6 203.2h0.9M104.9 259.2v0.9M46.6 200.2h0.9M106.9 259.2v0.9M46.6 198.1h0.9M108.5 259.2v0.9M46.6 196.4h0.9M109.8 259.2v0.9M46.6 195.1h0.9M110.9 259.2v0.9M46.6 193.9h0.9M111.9 259.2v0.9M46.6 192.9h0.9M112.7 259.2v0.9M46.6 192.1h0.9M113.5 259.2v1.6M45.9 191.3h1.6" stroke="#555" stroke-width=".5" fill="none"/>
<text x="47.2" y="265.5" font-family="Liberation Sans, sans-serif" font-size="3.6" fill="#333" text-anchor="middle">10<tspan font-size="2.6" dy="-1.5">0</tspan></text>
<text x="44.3" y="259.5" font-family="Liberation Sans, sans-serif" font-size="3.6" fill="#333" text-anchor="middle" transform="rotate(-90 44.3 259.5)">10<tspan font-size="2.6" dy="-1.5">0</tspan></text>
<text x="63.7" y="265.5" font-family="Liberation Sans, sans-serif" font-size="3.6" fill="#333" text-anchor="middle">10<tspan font-size="2.6" dy="-1.5">1</tspan></text>
<text x="44.3" y="242.53" font-family="Liberation Sans, sans-serif" font-size="3.6" fill="#333" text-anchor="middle" transform="rotate(-90 44.3 242.53)">10<tspan font-size="2.6" dy="-1.5">1</tspan></text>
<text x="80.2" y="265.5" font-family="Liberation Sans, sans-serif" font-size="3.6" fill="#333" text-anchor="middle">10<tspan font-size="2.6" dy="-1.5">2</tspan></text>
<text x="44.3" y="225.55" font-family="Liberation Sans, sans-serif" font-size="3.6" fill="#333" text-anchor="middle" transform="rotate(-90 44.3 225.55)">10<tspan font-size="2.6" dy="-1.5">2</tspan></text>
<text x="96.7" y="265.5" font-family="Liberation Sans, sans-serif" font-size="3.6" fill="#333" text-anchor="middle">10<tspan font-size="2.6" dy="-1.5">3</tspan></text>
<text x="44.3" y="208.58" font-family="Liberation Sans, sans-serif" font-size="3.6" fill="#333" text-anchor="middle" transform="rotate(-90 44.3 208.58)">10<tspan font-size="2.6" dy="-1.5">3</tspan></text>
<text x="113.2" y="265.5" font-family="Liberation Sans, sans-serif" font-size="3.6" fill="#333" text-anchor="middle">10<tspan font-size="2.6" dy="-1.5">4</tspan></text>
<text x="44.3" y="191.6" font-family="Liberation Sans, sans-serif" font-size="3.6" fill="#333" text-anchor="middle" transform="rotate(-90 44.3 191.6)">10<tspan font-size="2.6" dy="-1.5">4</tspan></text>
<text x="80.5" y="270.2" font-family="Liberation Sans, sans-serif" font-size="3.8" font-weight="normal" text-anchor="middle" fill="#333" textLength="16.5" lengthAdjust="spacingAndGlyphs" >CCR7-PE</text>
<text x="37.9" y="221" font-family="Liberation Sans, sans-serif" font-size="3.8" fill="#333" text-anchor="middle" textLength="16.5" lengthAdjust="spacingAndGlyphs" transform="rotate(-90 37.9 221)">CD83-FITC</text>
<rect x="45.3" y="281.6" width="68.2" height="42.9" fill="#fff" stroke="#777" stroke-width="0.8"/>
<polyline points="55.0,324.0 55.6,323.6 56.4,323.1 57.3,322.5 58.3,321.8 59.2,320.8 60.0,319.5 60.6,317.9 61.2,315.9 61.7,313.7 62.1,311.4 62.6,309.1 63.0,307.0 63.4,305.0 63.8,302.9 64.2,300.8 64.6,298.9 65.0,297.3 65.3,296.0 65.6,295.1 65.8,294.4 66.1,294.0 66.3,293.8 66.5,293.8 66.8,294.0 67.1,294.4 67.4,294.9 67.8,295.7 68.1,296.6 68.4,297.7 68.8,299.0 69.1,300.5 69.5,302.3 69.8,304.3 70.2,306.3 70.6,308.3 71.0,310.0 71.4,311.6 71.9,313.0 72.4,314.4 72.9,315.7 73.4,316.9 74.0,318.0 74.6,318.9 75.1,319.7 75.8,320.4 76.4,321.0 77.1,321.5 78.0,322.0 78.8,322.4 79.3,322.7 80.0,323.0 81.0,323.2 82.6,323.3 85.0,323.5 88.8,323.6 93.8,323.8 99.4,323.8 105.0,323.9 109.7,324.0 113.0,324.0" fill="none" stroke="#333" stroke-width=".85" stroke-dasharray="1 .9"/>
<line x1="75.5" y1="312.5" x2="113.5" y2="312.5" stroke="#555" stroke-width=".7"/>
<line x1="75.5" y1="309.5" x2="75.5" y2="314.8" stroke="#555" stroke-width=".7"/>
<text x="95.5" y="317.5" font-family="Liberation Sans, sans-serif" font-size="2.8" fill="#777" text-anchor="middle">M1</text>
<polyline points="45.3,323.8 45.9,323.7 46.6,323.8 47.5,323.8 48.5,323.8 49.5,323.8 50.6,323.9 51.8,323.8 52.9,324.0 53.9,323.8 54.9,323.7 55.8,323.5 56.5,323.5 57.1,323.1 57.6,323.0 58.1,322.8 58.5,322.4 58.8,322.2 59.2,321.5 59.4,320.8 59.7,320.3 60.0,320.4 60.2,320.4 60.5,318.8 60.8,318.4 61.1,318.0 61.4,316.4 61.7,315.2 61.9,314.6 62.2,313.3 62.5,312.8 62.7,311.5 63.0,309.3 63.2,308.6 63.4,307.1 63.6,305.4 63.8,304.9 64.0,304.5 64.2,302.5 64.3,301.8 64.4,300.9 64.6,298.9 64.7,299.0 64.8,296.8 64.9,296.0 65.0,295.7 65.2,293.8 65.3,293.5 65.4,292.5 65.5,292.4 65.6,291.2 65.8,290.9 65.9,290.6 66.0,290.0 66.1,289.8 66.2,289.7 66.3,289.9 66.5,289.2 66.6,290.1 66.7,289.4 66.8,289.2 66.9,289.1 67.0,290.0 67.1,288.9 67.3,290.0 67.4,289.2 67.5,290.6 67.6,290.1 67.7,290.6 67.8,291.3 67.9,290.6 68.1,290.9 68.2,292.3 68.3,292.6 68.5,293.4 68.6,293.4 68.7,294.4 68.9,294.7 69.0,295.9 69.1,296.5 69.3,297.7 69.5,298.2 69.6,299.0 69.8,300.4 70.0,300.4 70.2,302.3 70.4,302.8 70.6,303.3 70.9,304.1 71.1,305.7 71.4,306.7 71.6,307.9 71.9,308.4 72.2,309.4 72.4,311.0 72.7,310.9 73.0,312.7 73.3,313.3 73.6,314.1 73.9,314.7 74.2,314.4 74.5,315.8 74.8,316.0 75.1,316.0 75.4,317.6 75.8,317.6 76.1,318.2 76.4,318.3 76.7,317.9 77.0,319.3 77.3,318.5 77.6,318.8 77.9,319.4 78.2,318.8 78.6,319.2 78.9,319.6 79.2,318.7 79.5,319.5 79.8,318.7 80.2,319.2 80.5,319.5 80.9,319.6 81.2,318.7 81.6,319.0 82.0,320.1 82.4,319.4 82.8,319.4 83.2,319.4 83.6,319.9 84.0,319.9 84.3,319.8 84.7,319.4 85.0,319.6 85.3,319.4 85.5,318.9 85.8,319.8 86.0,319.6 86.2,319.2 86.4,319.3 86.6,318.4 86.8,318.8 87.0,317.8 87.2,318.4 87.5,318.3 87.7,318.6 88.0,318.5 88.2,318.7 88.5,317.9 88.7,318.8 89.0,318.6 89.2,318.6 89.5,318.9 89.8,319.7 90.1,319.9 90.4,320.1 90.7,320.1 91.0,319.5 91.3,319.6 91.6,320.3 92.0,320.0 92.3,320.2 92.6,320.0 93.0,320.2 93.4,321.1 93.7,320.5 94.1,321.5 94.6,320.8 95.0,321.7 95.5,321.0 96.0,321.1 96.5,321.4 97.1,321.0 97.7,321.8 98.3,322.0 98.9,322.0 99.5,322.4 100.2,322.5 100.8,322.5 101.5,322.9 102.3,322.8 103.0,322.9 103.8,323.0 104.7,323.1 105.7,323.3 106.7,323.4 107.7,323.4 108.7,323.4 109.7,323.5 110.7,323.8 111.5,323.6 112.3,323.9 113.0,323.9 113.5,323.7" fill="none" stroke="#000" stroke-width="1.65" stroke-linejoin="round"/>
<text x="84.2" y="297.8" font-family="Liberation Serif, serif" font-size="10" font-weight="bold" text-anchor="start" fill="#000" textLength="25.5" lengthAdjust="spacingAndGlyphs" stroke="#000" stroke-width="0.22" >14.7%</text>
<path d="M45.3 324.5v1.6M50.4 324.5v0.9M53.4 324.5v0.9M55.6 324.5v0.9M57.2 324.5v0.9M58.6 324.5v0.9M59.7 324.5v0.9M60.7 324.5v0.9M61.6 324.5v0.9M62.3 324.5v1.6M67.5 324.5v0.9M70.5 324.5v0.9M72.6 324.5v0.9M74.3 324.5v0.9M75.6 324.5v0.9M76.8 324.5v0.9M77.7 324.5v0.9M78.6 324.5v0.9M79.4 324.5v1.6M84.5 324.5v0.9M87.5 324.5v0.9M89.7 324.5v0.9M91.3 324.5v0.9M92.7 324.5v0.9M93.8 324.5v0.9M94.8 324.5v0.9M95.7 324.5v0.9M96.5 324.5v1.6M101.6 324.5v0.9M104.6 324.5v0.9M106.7 324.5v0.9M108.4 324.5v0.9M109.7 324.5v0.9M110.9 324.5v0.9M111.8 324.5v0.9M112.7 324.5v0.9M113.5 324.5v1.6" stroke="#555" stroke-width=".5" fill="none"/>
<text x="45.3" y="330" font-family="Liberation Sans, sans-serif" font-size="3.6" fill="#333" text-anchor="middle">10<tspan font-size="2.6" dy="-1.5">0</tspan></text>
<text x="62.35" y="330" font-family="Liberation Sans, sans-serif" font-size="3.6" fill="#333" text-anchor="middle">10<tspan font-size="2.6" dy="-1.5">1</tspan></text>
<text x="79.4" y="330" font-family="Liberation Sans, sans-serif" font-size="3.6" fill="#333" text-anchor="middle">10<tspan font-size="2.6" dy="-1.5">2</tspan></text>
<text x="96.45" y="330" font-family="Liberation Sans, sans-serif" font-size="3.6" fill="#333" text-anchor="middle">10<tspan font-size="2.6" dy="-1.5">3</tspan></text>
<text x="113.5" y="330" font-family="Liberation Sans, sans-serif" font-size="3.6" fill="#333" text-anchor="middle">10<tspan font-size="2.6" dy="-1.5">4</tspan></text>
<line x1="43.8" y1="324.5" x2="45.3" y2="324.5" stroke="#777" stroke-width="0.6" />
<text x="41.8" y="324.5" font-family="Liberation Sans, sans-serif" font-size="3.4" fill="#333" text-anchor="middle" transform="rotate(-90 41.8 324.5)">0</text>
<line x1="43.8" y1="315.92" x2="45.3" y2="315.92" stroke="#777" stroke-width="0.6" />
<text x="41.8" y="315.92" font-family="Liberation Sans, sans-serif" font-size="3.4" fill="#333" text-anchor="middle" transform="rotate(-90 41.8 315.92)">20</text>
<line x1="43.8" y1="307.34" x2="45.3" y2="307.34" stroke="#777" stroke-width="0.6" />
<text x="41.8" y="307.34" font-family="Liberation Sans, sans-serif" font-size="3.4" fill="#333" text-anchor="middle" transform="rotate(-90 41.8 307.34)">40</text>
<line x1="43.8" y1="298.76" x2="45.3" y2="298.76" stroke="#777" stroke-width="0.6" />
<text x="41.8" y="298.76" font-family="Liberation Sans, sans-serif" font-size="3.4" fill="#333" text-anchor="middle" transform="rotate(-90 41.8 298.76)">60</text>
<line x1="43.8" y1="290.18" x2="45.3" y2="290.18" stroke="#777" stroke-width="0.6" />
<text x="41.8" y="290.18" font-family="Liberation Sans, sans-serif" font-size="3.4" fill="#333" text-anchor="middle" transform="rotate(-90 41.8 290.18)">80</text>
<line x1="43.8" y1="281.6" x2="45.3" y2="281.6" stroke="#777" stroke-width="0.6" />
<text x="41.8" y="281.6" font-family="Liberation Sans, sans-serif" font-size="3.4" fill="#333" text-anchor="middle" transform="rotate(-90 41.8 281.6)">100</text>
<text x="79.3" y="334.3" font-family="Liberation Sans, sans-serif" font-size="3.8" font-weight="normal" text-anchor="middle" fill="#333" textLength="15.5" lengthAdjust="spacingAndGlyphs" >CCR7-PE</text>
<text x="37.3" y="304" font-family="Liberation Sans, sans-serif" font-size="3.6" fill="#333" text-anchor="middle" textLength="11" lengthAdjust="spacingAndGlyphs" transform="rotate(-90 37.3 304)">Counts</text>
<text x="171.2" y="181.9" font-family="Liberation Serif, serif" font-size="9.6" font-weight="bold" text-anchor="start" fill="#000" textLength="20" lengthAdjust="spacingAndGlyphs" stroke="#000" stroke-width="0.22" >1:8/0</text>
<rect x="148.1" y="191.3" width="66" height="67.9" fill="#fff" stroke="#666" stroke-width="0.9"/>
<path d="M172.9 239.0h.8M170.1 234.5h.8M170.2 236.2h.8M173.4 237.8h.8M168.6 239.5h.8M169.7 241.1h.8M170.6 236.0h.8M173.6 235.2h.8M163.3 236.7h.8M174.7 235.7h.8M167.1 246.4h.8M170.7 240.8h.8M168.5 244.2h.8M178.7 237.0h.8M166.3 234.3h.8M173.2 236.2h.8M164.3 241.8h.8M171.3 241.1h.8M165.8 236.6h.8M172.4 244.2h.8M174.3 238.4h.8M176.1 241.8h.8M166.2 246.8h.8M177.6 238.9h.8M174.2 235.2h.8M178.4 246.0h.8M173.2 240.6h.8M171.4 239.9h.8M167.3 240.6h.8M177.2 238.1h.8M177.3 234.7h.8M169.2 238.8h.8M170.4 243.2h.8M166.7 243.0h.8M168.0 240.1h.8M159.4 234.9h.8M173.6 242.1h.8M174.5 239.4h.8M177.1 240.1h.8M176.2 235.1h.8M181.4 237.2h.8M166.8 238.2h.8M177.1 239.2h.8M171.8 243.9h.8M177.9 240.4h.8M168.3 242.6h.8M170.4 240.6h.8M171.3 234.3h.8M170.3 239.0h.8M164.2 237.0h.8M180.5 238.1h.8M181.9 240.1h.8M170.3 237.8h.8M180.3 235.8h.8M175.2 237.8h.8M168.1 238.8h.8M169.9 244.8h.8M169.0 238.2h.8M161.5 239.1h.8M162.4 238.1h.8M158.3 237.6h.8M177.6 239.5h.8M164.8 239.0h.8M179.0 237.9h.8M165.4 241.1h.8M164.8 239.6h.8M173.1 239.3h.8M168.0 245.8h.8M180.4 240.5h.8M179.2 239.6h.8M173.4 237.3h.8M169.7 241.4h.8M170.6 236.2h.8M168.9 238.4h.8M161.9 237.0h.8M174.5 232.0h.8M172.4 243.2h.8M168.9 241.9h.8M173.3 237.7h.8M164.4 238.7h.8M173.2 239.3h.8M171.6 243.2h.8M175.0 238.6h.8M175.0 236.7h.8M161.6 238.9h.8M176.3 240.2h.8M173.8 240.8h.8M169.8 244.4h.8M170.1 239.1h.8M174.2 235.9h.8M177.9 243.3h.8M173.8 237.5h.8M180.6 236.5h.8M172.3 239.7h.8M178.5 234.6h.8M179.1 241.7h.8M173.3 235.2h.8M179.3 231.1h.8M167.9 245.2h.8M176.0 237.9h.8M169.3 235.8h.8M176.0 235.9h.8M171.7 242.0h.8M169.8 239.5h.8M178.8 233.9h.8M172.7 244.2h.8M171.1 238.4h.8M173.8 234.3h.8M171.5 241.0h.8M170.6 244.9h.8M163.5 241.9h.8M173.6 240.7h.8M166.4 245.4h.8M173.3 240.5h.8M172.3 238.3h.8M171.3 238.6h.8M172.4 244.1h.8M175.8 236.9h.8M171.1 240.0h.8M170.3 241.8h.8M174.2 234.7h.8M173.6 235.8h.8M171.5 238.2h.8M169.2 241.7h.8M170.7 244.7h.8M173.3 242.1h.8M170.3 245.8h.8M168.7 237.4h.8M164.2 245.3h.8M177.3 237.7h.8M163.4 238.3h.8M172.1 242.0h.8M176.9 241.2h.8M172.6 237.8h.8M158.7 245.2h.8M167.5 240.6h.8M177.8 233.5h.8M170.5 240.9h.8M167.0 236.5h.8M178.7 236.7h.8M170.2 243.3h.8M171.0 243.0h.8M161.7 242.3h.8M181.6 234.6h.8M159.8 242.3h.8M179.4 243.9h.8M166.0 235.6h.8M159.5 246.0h.8M181.7 239.3h.8M174.3 236.7h.8M173.9 237.5h.8M172.4 236.2h.8M169.6 241.0h.8M174.8 234.6h.8M183.8 242.6h.8M173.2 242.4h.8M166.8 242.3h.8M181.4 233.8h.8M169.2 237.8h.8M173.7 240.1h.8M165.9 239.9h.8M159.1 244.1h.8M168.4 241.6h.8M169.7 240.8h.8M178.4 237.3h.8M167.3 239.4h.8M172.3 242.2h.8M167.0 240.4h.8M178.6 238.3h.8M172.7 240.5h.8M174.7 241.6h.8M174.4 233.1h.8M173.0 244.8h.8M166.6 241.7h.8M170.9 239.6h.8M179.0 240.6h.8M170.5 237.1h.8M180.2 235.9h.8M171.7 240.7h.8M165.6 239.0h.8M172.5 240.5h.8M171.0 239.8h.8M171.7 235.4h.8M171.3 243.0h.8M172.6 241.5h.8M176.1 244.2h.8M164.9 241.9h.8M167.2 244.8h.8M166.4 237.8h.8M167.4 242.7h.8M177.1 246.6h.8M169.5 236.7h.8M170.9 238.7h.8M170.5 241.7h.8M172.7 239.1h.8M163.0 242.9h.8M173.9 234.7h.8M171.2 241.8h.8M171.1 237.3h.8M171.5 236.9h.8M172.7 235.6h.8M178.0 230.8h.8M161.9 247.1h.8M182.3 238.7h.8M178.3 239.5h.8M165.9 243.8h.8M171.0 241.7h.8M173.6 235.7h.8M172.5 236.1h.8M180.5 239.8h.8M173.4 242.8h.8M176.1 239.1h.8M168.1 235.7h.8M168.8 237.6h.8M171.5 235.2h.8M174.0 243.0h.8M165.8 237.6h.8M173.7 241.9h.8M171.1 240.9h.8M167.7 244.2h.8M169.6 239.1h.8M172.0 238.1h.8M172.3 237.9h.8M175.4 240.5h.8M168.4 239.9h.8M180.9 233.7h.8M170.6 244.8h.8M170.2 236.2h.8M171.9 247.1h.8M173.1 239.4h.8M170.2 242.2h.8M174.0 242.4h.8M173.2 239.1h.8M174.5 237.1h.8M182.8 238.8h.8M171.8 241.7h.8M175.8 241.1h.8M174.6 240.6h.8M172.3 243.6h.8M168.4 241.0h.8M164.0 239.8h.8M171.6 236.9h.8M179.8 236.0h.8M167.1 238.9h.8M171.0 241.2h.8M177.3 236.2h.8M181.4 242.5h.8M173.3 239.0h.8M171.2 237.6h.8M163.2 239.5h.8M168.9 242.9h.8M170.7 238.1h.8M168.7 237.8h.8M175.4 239.0h.8M172.0 238.8h.8M171.9 241.1h.8M175.9 242.1h.8M176.3 243.9h.8M177.9 241.3h.8M173.9 238.2h.8M174.0 244.4h.8M161.1 242.3h.8M169.7 242.5h.8M176.6 238.3h.8M182.4 237.0h.8M174.2 243.0h.8M174.6 238.8h.8M177.2 234.7h.8M172.3 235.5h.8M182.3 242.8h.8M179.2 241.9h.8M171.6 237.1h.8M170.3 237.0h.8M172.3 238.7h.8M176.7 237.8h.8M174.1 236.1h.8M173.9 237.0h.8M171.2 239.5h.8M170.3 239.9h.8M177.0 235.5h.8M160.5 244.8h.8M183.9 235.6h.8M178.9 241.1h.8M171.4 235.6h.8M183.4 238.9h.8M166.2 241.9h.8M173.9 237.2h.8M183.2 239.5h.8M172.1 240.5h.8M182.7 245.7h.8M172.1 237.5h.8M178.6 244.0h.8M169.0 236.6h.8M175.7 241.5h.8M172.7 239.5h.8M170.8 240.3h.8M174.6 239.3h.8M181.3 236.8h.8M172.1 238.7h.8M170.4 236.5h.8M169.6 240.0h.8M163.5 240.3h.8M179.1 243.3h.8M168.9 241.2h.8M172.7 242.9h.8M168.5 236.9h.8M176.8 236.7h.8M157.6 240.7h.8M172.5 240.1h.8M170.3 242.2h.8M175.9 241.4h.8M183.1 239.7h.8M162.3 241.5h.8M169.7 235.3h.8M172.5 237.0h.8M171.9 237.6h.8M166.1 239.0h.8M172.8 237.7h.8M167.2 244.9h.8M176.8 231.1h.8M174.8 240.7h.8M178.5 241.8h.8M172.1 235.2h.8M173.4 235.9h.8M162.1 238.3h.8M168.0 236.6h.8M167.4 238.3h.8M172.6 235.6h.8M175.9 241.5h.8M167.7 241.7h.8M168.0 239.1h.8M168.3 242.1h.8M163.2 246.6h.8M173.1 239.8h.8M171.4 236.7h.8M166.1 241.7h.8M169.9 241.6h.8M182.2 238.9h.8M176.0 238.2h.8M168.1 240.7h.8M182.0 240.7h.8M174.2 237.4h.8M172.1 244.3h.8M173.9 236.1h.8M169.6 241.4h.8M175.2 233.4h.8M173.8 238.2h.8M160.5 236.2h.8M171.1 236.5h.8M173.4 240.3h.8M172.1 238.5h.8M174.9 235.1h.8M162.1 242.0h.8M178.5 237.1h.8M177.6 241.3h.8M169.0 241.1h.8M179.4 236.6h.8M174.8 240.8h.8M168.8 243.4h.8M169.9 242.8h.8M173.5 237.7h.8M171.5 237.0h.8M183.6 235.6h.8M169.2 243.7h.8M176.2 241.1h.8M167.3 237.2h.8M171.6 240.4h.8M176.8 241.8h.8M174.3 241.6h.8M164.5 236.2h.8M168.6 239.9h.8M168.9 238.8h.8M172.9 237.8h.8M171.9 242.9h.8M174.8 238.3h.8M173.2 241.0h.8M173.3 242.1h.8M165.8 243.6h.8M167.7 242.1h.8M165.6 243.6h.8M176.5 237.2h.8M175.6 238.1h.8M178.2 238.3h.8M170.3 237.1h.8M171.9 241.3h.8M175.8 237.3h.8M170.6 236.6h.8M169.0 239.7h.8M174.3 241.8h.8M169.7 236.5h.8M180.0 238.7h.8M170.6 240.3h.8M172.1 241.7h.8M175.0 235.8h.8M170.6 241.9h.8M171.3 242.1h.8M167.4 244.6h.8M174.1 234.8h.8M177.7 236.0h.8M173.4 240.1h.8M174.2 241.4h.8M163.3 239.7h.8M167.8 238.5h.8M173.0 248.1h.8M172.4 236.8h.8M185.6 240.4h.8M171.9 245.5h.8M177.6 241.9h.8M165.9 245.4h.8M171.6 241.0h.8M175.1 244.5h.8M179.3 238.1h.8M170.6 237.6h.8M172.0 240.9h.8M173.8 239.3h.8M168.8 238.2h.8M174.3 242.3h.8M175.7 238.2h.8M175.8 242.8h.8M169.1 237.0h.8M176.6 244.6h.8M174.6 240.5h.8M172.6 243.2h.8M166.1 240.9h.8M170.8 233.4h.8M170.9 240.0h.8M172.8 239.0h.8M171.2 241.3h.8M165.5 237.3h.8M175.1 241.1h.8M176.7 235.3h.8M178.1 241.8h.8M173.7 236.4h.8M176.3 242.8h.8M171.2 241.2h.8M174.8 241.9h.8M175.7 241.3h.8M166.4 239.1h.8M165.1 243.6h.8M176.0 240.6h.8M181.2 236.0h.8M179.6 236.2h.8M163.9 239.5h.8M170.1 239.2h.8M172.2 241.0h.8M175.4 237.3h.8M167.2 242.3h.8M178.5 241.6h.8M174.8 234.1h.8M175.4 237.4h.8M177.4 243.0h.8M170.6 237.1h.8M170.7 241.3h.8M175.0 236.3h.8M174.0 236.8h.8M169.8 243.2h.8M172.0 233.3h.8M167.7 243.9h.8M164.3 244.0h.8M172.7 235.7h.8M169.8 241.8h.8M178.9 235.2h.8M171.6 240.9h.8M176.6 246.4h.8M181.0 239.9h.8M166.2 239.7h.8M167.4 239.5h.8M170.3 239.4h.8M174.3 238.7h.8M177.0 242.5h.8M166.7 236.1h.8M168.3 233.5h.8M173.0 239.7h.8M173.0 244.8h.8M175.8 242.2h.8M172.7 237.8h.8M161.9 239.8h.8M172.2 236.6h.8M168.4 240.4h.8M180.6 237.2h.8M170.5 237.5h.8M171.7 236.2h.8M173.7 236.7h.8M177.8 235.8h.8M166.3 241.6h.8M174.3 235.8h.8M172.9 239.4h.8M178.5 235.9h.8M162.8 241.2h.8M174.9 241.5h.8M170.2 234.3h.8M161.3 248.0h.8M171.4 239.0h.8M173.7 240.3h.8M168.4 239.0h.8M171.9 242.9h.8M181.8 241.5h.8M175.6 235.9h.8M168.3 241.0h.8M168.7 238.4h.8M184.4 236.9h.8M171.0 234.1h.8M174.5 240.0h.8M170.9 241.1h.8M159.6 245.4h.8M178.6 232.2h.8M172.9 241.6h.8M176.2 239.5h.8M177.9 240.2h.8M170.0 244.2h.8M166.2 238.8h.8M169.8 244.6h.8M169.4 235.5h.8M166.9 240.9h.8M172.0 240.5h.8M165.7 241.3h.8M176.1 244.7h.8M179.3 234.6h.8M174.6 236.1h.8M174.1 241.5h.8M171.2 231.0h.8M172.7 239.8h.8M169.6 242.2h.8M170.3 239.0h.8M174.8 237.0h.8M176.0 237.7h.8M171.3 241.5h.8M178.7 237.9h.8M173.1 238.5h.8M164.6 239.3h.8M183.7 237.4h.8M176.1 240.9h.8M178.4 238.8h.8M175.9 238.5h.8M184.0 239.3h.8M171.8 243.5h.8M168.2 243.2h.8M183.2 235.3h.8M175.0 237.6h.8M172.7 239.0h.8M162.1 244.5h.8M172.2 242.5h.8M169.2 238.9h.8M170.5 235.6h.8M181.4 242.3h.8M179.1 240.8h.8M170.7 241.2h.8M187.4 242.7h.8M174.0 236.2h.8M175.9 231.4h.8M177.7 237.2h.8M171.4 243.3h.8M180.2 238.0h.8M167.7 235.1h.8M167.0 242.4h.8M174.2 237.7h.8M173.0 239.0h.8M166.1 239.5h.8M179.0 244.2h.8M169.4 240.7h.8M166.7 242.4h.8M172.0 239.7h.8M178.8 241.4h.8M174.8 241.0h.8M175.7 233.5h.8M174.5 238.0h.8M180.5 238.7h.8M168.5 238.4h.8M177.5 239.3h.8M172.8 243.6h.8M175.6 238.9h.8M179.0 240.9h.8M175.0 240.6h.8M159.0 244.6h.8M170.4 242.2h.8M169.4 240.2h.8M166.1 243.1h.8M168.4 244.9h.8M173.2 240.8h.8M168.5 237.7h.8M174.3 238.6h.8M172.1 235.1h.8M170.5 241.0h.8M166.0 237.1h.8M166.8 240.9h.8M169.7 236.1h.8M169.5 240.9h.8M166.3 241.2h.8M185.0 232.0h.8M168.2 239.2h.8M173.5 243.7h.8M172.0 237.3h.8M165.5 229.8h.8M163.3 245.3h.8M165.7 242.1h.8M174.5 237.8h.8M164.3 247.8h.8M176.1 240.1h.8M164.3 241.4h.8M164.6 235.5h.8M172.2 239.5h.8M173.5 239.8h.8M171.3 240.0h.8M165.5 239.8h.8M175.2 245.0h.8M161.7 244.9h.8M168.0 243.4h.8M168.6 239.5h.8M172.4 239.3h.8M172.3 242.3h.8M176.6 236.6h.8M176.3 239.7h.8M165.4 237.0h.8M178.9 242.1h.8M167.7 242.5h.8M167.7 241.7h.8M183.3 237.8h.8M179.3 236.3h.8M171.5 238.1h.8M181.3 239.7h.8M169.1 236.2h.8M170.8 242.0h.8M177.6 237.1h.8M176.7 239.4h.8M171.2 240.7h.8M182.8 237.4h.8M172.5 239.3h.8M170.2 240.6h.8M170.9 234.3h.8M174.4 234.1h.8M172.9 239.9h.8M180.2 241.8h.8M175.1 236.0h.8M173.2 245.4h.8M175.5 241.0h.8M186.3 237.9h.8M165.1 243.2h.8M174.4 235.5h.8M180.7 238.1h.8M183.6 234.7h.8M179.4 241.2h.8M172.9 242.2h.8M164.3 248.2h.8M177.2 240.2h.8M184.0 245.7h.8M164.7 240.7h.8M164.0 240.0h.8M169.7 242.6h.8M172.0 234.9h.8M175.5 237.5h.8M176.9 235.0h.8M167.8 238.8h.8M170.5 239.3h.8M175.8 240.7h.8M173.4 240.1h.8M170.7 235.0h.8M169.8 238.5h.8M170.7 234.2h.8M169.7 238.4h.8M167.8 239.0h.8M172.0 241.4h.8M176.9 235.8h.8M175.0 238.5h.8M171.8 243.3h.8M176.2 240.0h.8M166.9 239.4h.8M177.7 236.8h.8M168.1 237.1h.8M173.3 236.6h.8M186.0 237.9h.8M173.0 238.0h.8M175.0 240.7h.8M170.9 238.4h.8M178.0 239.3h.8M176.1 239.2h.8M169.8 241.3h.8M176.1 239.2h.8M172.5 242.3h.8M168.3 241.6h.8M171.9 240.2h.8M176.5 234.8h.8M171.9 239.7h.8M173.4 246.0h.8M169.1 240.6h.8M176.7 233.3h.8M176.5 241.6h.8M170.0 239.3h.8M169.4 243.8h.8M169.1 236.2h.8M168.8 238.0h.8M173.1 239.7h.8M177.4 233.8h.8M173.9 238.7h.8M172.7 237.7h.8M170.4 241.5h.8M178.1 234.5h.8M174.7 236.7h.8M175.8 238.2h.8M165.8 238.4h.8M172.8 242.5h.8M179.4 241.9h.8M173.4 241.0h.8M171.1 244.0h.8M168.4 237.3h.8M177.3 234.9h.8M173.8 243.0h.8M174.1 241.4h.8M173.5 240.4h.8M166.3 245.5h.8M171.1 238.7h.8M173.6 243.4h.8M171.2 239.6h.8M177.6 241.1h.8M170.7 239.1h.8M172.8 237.3h.8M167.2 238.3h.8M165.9 246.6h.8M168.2 242.1h.8M163.2 239.3h.8M180.7 238.1h.8M164.7 239.4h.8M164.3 234.7h.8M180.4 237.6h.8M173.6 243.3h.8M169.0 240.8h.8M173.0 237.4h.8M170.9 236.4h.8M165.4 242.6h.8M170.0 230.8h.8M181.1 238.5h.8M171.7 244.2h.8M160.7 241.3h.8M167.9 241.1h.8M177.7 239.5h.8M168.2 239.6h.8M176.7 241.2h.8M175.0 240.1h.8M168.0 241.1h.8M166.3 240.4h.8M170.3 240.9h.8M178.5 239.3h.8M176.2 238.6h.8M169.7 242.1h.8M172.0 236.1h.8M172.4 239.3h.8M174.5 240.8h.8M168.9 242.3h.8M162.7 246.0h.8M166.3 241.8h.8M179.1 237.7h.8M164.7 237.4h.8M171.6 240.4h.8M178.1 237.9h.8M170.7 239.2h.8M172.2 236.7h.8M169.8 238.0h.8M176.4 237.6h.8M170.6 246.2h.8M173.0 241.9h.8M158.6 242.0h.8M174.8 240.7h.8M172.8 238.4h.8M164.9 243.3h.8M170.3 234.6h.8M179.9 242.9h.8M166.7 244.7h.8M162.1 242.0h.8M168.6 240.4h.8M175.7 242.1h.8M175.1 239.8h.8M176.8 236.2h.8M174.1 238.1h.8M166.8 240.7h.8M175.3 240.7h.8M179.2 236.4h.8M165.6 240.2h.8M180.1 232.8h.8M171.0 239.2h.8M174.3 238.0h.8M172.5 241.2h.8M165.8 240.1h.8M166.9 241.1h.8M177.2 242.7h.8M168.2 239.5h.8M178.1 232.6h.8M184.8 233.9h.8M176.7 240.3h.8M168.7 240.8h.8M171.9 233.1h.8M176.1 241.9h.8M182.4 237.0h.8M170.1 240.3h.8M166.6 241.3h.8M173.0 237.6h.8M169.7 248.6h.8M179.0 239.1h.8M179.1 241.6h.8M162.4 244.1h.8M174.0 245.5h.8M172.5 240.5h.8M174.0 240.0h.8M162.3 246.1h.8M167.5 244.0h.8M178.1 239.7h.8M170.1 239.5h.8M167.6 238.6h.8M168.0 245.2h.8M171.4 238.3h.8M173.6 240.1h.8M171.7 244.0h.8M184.9 236.4h.8M174.0 238.2h.8M174.5 234.4h.8M156.4 243.3h.8M170.3 239.0h.8M172.8 241.1h.8M167.0 237.5h.8M172.7 239.2h.8M185.4 238.4h.8M172.0 242.0h.8M173.9 238.3h.8M175.1 233.0h.8M166.1 238.8h.8M179.0 238.9h.8M165.9 237.0h.8M169.9 239.7h.8M173.5 243.8h.8M174.3 240.0h.8M172.3 245.0h.8M167.9 239.3h.8M178.6 237.9h.8M172.8 243.5h.8M175.2 236.9h.8M166.4 241.9h.8M179.3 238.4h.8M175.0 242.9h.8M169.9 243.0h.8M172.1 239.0h.8M168.0 240.0h.8M164.9 237.3h.8M165.5 241.3h.8M171.4 242.0h.8M166.3 240.1h.8M173.7 244.5h.8M167.7 240.2h.8M172.1 245.4h.8M181.7 234.3h.8M172.3 240.8h.8M171.6 239.2h.8M176.9 235.4h.8M169.6 242.7h.8M171.1 238.1h.8M166.6 244.3h.8M169.6 236.3h.8M175.0 240.5h.8M172.2 240.4h.8M168.2 237.1h.8M177.8 237.1h.8M177.1 237.3h.8M168.3 239.8h.8M161.1 242.6h.8M172.0 239.7h.8M170.3 241.5h.8M168.1 237.6h.8M161.2 242.1h.8M172.5 238.3h.8M179.8 239.6h.8M166.5 237.8h.8M171.0 239.8h.8M163.4 242.4h.8M171.1 239.2h.8M179.8 243.3h.8M169.5 239.4h.8M169.3 233.3h.8M177.0 235.7h.8M173.0 238.3h.8M163.6 242.0h.8M170.8 241.2h.8M177.4 235.4h.8M174.1 239.4h.8M160.9 238.4h.8M164.9 236.4h.8M177.4 241.4h.8M174.1 241.8h.8M175.5 241.9h.8M179.2 240.0h.8M165.9 235.2h.8M172.5 238.4h.8M176.5 236.3h.8M177.6 237.6h.8M179.0 241.1h.8M178.8 246.5h.8M162.1 239.3h.8M167.9 240.3h.8M168.3 236.0h.8M168.5 240.7h.8M165.5 242.8h.8M172.7 241.3h.8M165.2 241.0h.8M175.9 240.1h.8M176.1 238.7h.8M172.9 237.0h.8M177.2 240.8h.8M178.1 235.0h.8M179.6 240.1h.8M168.2 237.7h.8M169.3 236.8h.8M175.4 243.5h.8M175.2 241.1h.8M176.1 236.0h.8M164.6 240.2h.8M167.5 240.4h.8M171.3 239.5h.8M171.5 240.4h.8M183.0 238.1h.8M170.7 238.3h.8M174.8 237.3h.8M174.7 235.1h.8M165.9 237.3h.8M171.3 245.5h.8M164.3 239.3h.8M174.3 237.4h.8M168.4 241.6h.8M181.2 241.4h.8M170.1 236.6h.8M162.6 239.1h.8M176.5 240.3h.8M169.9 236.4h.8M168.5 240.1h.8M173.5 243.9h.8M166.1 246.4h.8M182.9 233.6h.8M171.3 243.3h.8M176.0 240.9h.8M177.5 240.6h.8M180.3 237.2h.8M169.7 241.8h.8M173.8 239.0h.8M177.7 234.0h.8M183.2 241.3h.8M169.3 237.6h.8M166.3 242.2h.8M162.6 239.8h.8M175.7 237.5h.8M180.8 238.8h.8M168.0 236.6h.8M174.0 239.9h.8M176.0 237.4h.8M159.3 242.6h.8M174.7 243.4h.8M178.1 240.3h.8M172.1 237.9h.8M173.1 231.5h.8M176.3 234.3h.8M179.7 237.1h.8M163.6 239.0h.8M174.7 235.3h.8M170.8 238.1h.8M170.0 242.2h.8M177.7 234.8h.8M168.3 249.5h.8M173.9 239.8h.8M171.4 240.8h.8M176.7 238.2h.8M164.9 244.4h.8M165.5 239.6h.8M167.2 241.5h.8M176.1 238.5h.8M166.8 239.7h.8M174.0 240.7h.8M163.5 240.5h.8M170.7 240.2h.8M174.7 238.6h.8M173.4 238.8h.8M170.7 238.4h.8M172.0 242.8h.8M172.5 236.3h.8M168.0 241.7h.8M168.4 239.8h.8M175.3 238.6h.8M176.5 241.9h.8M167.6 244.1h.8M179.4 239.8h.8M164.9 245.8h.8M170.7 242.9h.8M169.8 243.3h.8M170.9 244.2h.8M165.8 242.9h.8M170.9 243.0h.8M165.0 238.8h.8M169.3 237.3h.8M174.4 240.1h.8M174.2 240.9h.8M175.2 243.3h.8M166.5 245.9h.8M172.7 241.8h.8M173.4 241.0h.8M169.6 236.3h.8M172.2 245.1h.8M170.0 237.0h.8M166.7 237.5h.8M170.3 240.3h.8M164.5 246.1h.8M167.4 243.3h.8M179.5 241.5h.8M175.4 237.0h.8M168.2 242.7h.8M172.3 241.7h.8M177.5 242.3h.8M160.1 240.7h.8M182.0 236.9h.8M181.1 236.5h.8M174.9 239.5h.8M182.2 237.4h.8M167.2 237.4h.8M167.6 241.4h.8M176.1 242.2h.8M171.9 241.2h.8M176.7 236.2h.8M175.2 237.5h.8M168.8 238.9h.8M173.9 237.6h.8M168.6 237.0h.8M171.4 240.8h.8M166.4 240.7h.8M173.7 237.6h.8M174.0 241.8h.8M173.5 237.4h.8M171.5 239.1h.8M179.0 241.1h.8M169.9 239.9h.8M160.8 242.3h.8M167.5 242.7h.8M167.2 242.0h.8M182.1 240.1h.8M168.3 238.8h.8M171.6 241.6h.8M180.9 236.2h.8M167.5 243.1h.8M169.2 239.3h.8M180.1 239.6h.8M175.6 242.5h.8M173.3 239.5h.8M176.0 242.9h.8M160.9 235.0h.8M169.1 236.9h.8M184.6 238.7h.8M162.6 241.2h.8M181.3 240.0h.8M168.9 240.3h.8M170.7 240.5h.8M169.3 238.9h.8M171.4 237.9h.8M169.8 236.0h.8M169.4 232.7h.8M170.2 244.3h.8M164.0 244.5h.8M176.1 234.5h.8M169.2 238.6h.8M183.1 233.9h.8M176.5 238.2h.8M175.5 235.1h.8M177.0 234.4h.8M167.6 241.1h.8M174.3 235.1h.8M162.6 239.3h.8M173.1 239.6h.8M170.1 240.2h.8M173.5 238.4h.8M174.9 237.8h.8M177.8 242.7h.8M170.1 237.1h.8M167.2 238.1h.8M177.8 237.8h.8M167.0 239.4h.8M165.9 242.9h.8M178.1 241.9h.8M179.8 236.4h.8M167.9 239.4h.8M174.1 240.1h.8M162.5 239.3h.8M174.4 237.9h.8M172.3 234.1h.8M162.7 241.6h.8M174.0 241.9h.8M164.4 240.2h.8M168.4 240.9h.8M175.6 236.9h.8M169.2 241.0h.8M164.7 241.1h.8M167.6 243.6h.8M171.5 239.7h.8M176.2 238.5h.8M160.4 238.9h.8M172.8 240.6h.8M173.1 241.2h.8M175.8 236.2h.8M176.1 239.8h.8M169.3 239.9h.8M168.6 246.2h.8M168.9 240.8h.8M170.3 239.0h.8M165.3 239.9h.8M177.5 241.0h.8M169.3 244.6h.8M164.3 236.2h.8M169.9 238.7h.8M175.3 243.6h.8M173.0 238.5h.8M168.8 241.3h.8M162.6 242.1h.8M164.8 238.7h.8M172.7 237.1h.8M168.8 238.0h.8M166.4 241.0h.8M170.8 238.2h.8M173.8 237.9h.8M168.6 245.5h.8M177.0 238.7h.8M173.6 239.2h.8M175.5 238.6h.8M180.4 239.7h.8M176.6 243.4h.8M174.8 239.4h.8M171.0 240.8h.8M167.9 240.7h.8M171.9 236.1h.8M181.5 237.2h.8M177.5 244.9h.8M177.3 236.6h.8M169.4 239.7h.8M170.8 241.7h.8M174.5 243.3h.8M168.5 244.7h.8M164.1 238.1h.8M180.4 241.6h.8M165.4 240.3h.8M172.8 244.2h.8M165.8 243.1h.8M170.0 239.1h.8M169.7 244.7h.8M179.2 239.2h.8M164.9 239.2h.8M169.6 243.0h.8M164.2 241.4h.8M177.6 240.5h.8M171.9 243.7h.8M172.1 241.7h.8M173.5 245.9h.8M165.7 245.2h.8M171.9 237.3h.8M171.7 239.5h.8M178.6 237.0h.8M176.8 241.4h.8M165.0 240.7h.8M169.7 246.4h.8M170.9 239.0h.8M176.6 233.3h.8M169.7 244.4h.8M178.8 233.9h.8M180.7 241.0h.8M172.4 245.1h.8M170.2 236.7h.8M179.5 235.5h.8M184.7 237.8h.8M165.1 238.3h.8M169.9 237.2h.8M166.5 240.4h.8M173.1 241.8h.8M177.6 234.1h.8M169.9 235.5h.8M165.9 240.2h.8M172.0 239.3h.8M160.1 243.9h.8M173.8 242.7h.8M175.6 240.3h.8M172.9 238.8h.8M174.9 234.1h.8M174.9 237.6h.8M176.6 237.8h.8M160.9 243.3h.8M165.2 239.2h.8M172.7 239.7h.8M172.1 241.1h.8M174.0 237.3h.8M179.4 237.5h.8M175.1 243.7h.8M169.8 243.3h.8M180.5 241.2h.8M173.8 235.5h.8M170.7 237.2h.8M175.3 241.2h.8M171.9 235.7h.8M174.7 241.0h.8M171.5 239.8h.8M177.4 239.9h.8M179.1 243.5h.8M177.9 242.5h.8M173.5 236.9h.8M157.6 239.0h.8M168.7 238.0h.8M176.1 238.8h.8M176.4 238.4h.8M168.5 241.3h.8M166.4 235.2h.8M171.1 238.0h.8M180.1 238.3h.8M162.8 240.6h.8M177.5 241.5h.8M174.2 234.2h.8M171.5 238.7h.8M168.5 240.4h.8M168.5 238.2h.8M166.4 241.4h.8M163.5 237.3h.8M171.5 242.1h.8M173.3 240.8h.8M178.7 233.3h.8M175.6 241.2h.8M180.4 235.1h.8M187.5 236.4h.8M171.7 240.7h.8M172.3 243.2h.8M176.0 239.4h.8M165.0 241.3h.8M173.7 240.7h.8M171.3 240.9h.8M173.9 240.4h.8M175.4 233.3h.8M180.8 240.0h.8M176.2 235.4h.8M169.5 245.3h.8M173.6 239.9h.8M175.6 238.6h.8M179.4 236.1h.8M174.4 239.7h.8M170.6 238.5h.8M168.6 236.1h.8M172.9 243.0h.8M174.6 245.3h.8M167.2 236.8h.8M171.0 239.0h.8M178.7 235.3h.8M165.8 240.0h.8M164.1 240.9h.8M168.4 239.6h.8M168.9 239.8h.8M178.2 239.0h.8M177.7 235.4h.8M173.8 242.9h.8M166.7 238.3h.8M166.6 241.2h.8M168.5 234.3h.8M163.8 240.2h.8M171.2 238.3h.8M172.1 242.3h.8M168.8 242.8h.8M167.6 250.4h.8M171.8 236.7h.8M168.9 233.5h.8M176.0 242.7h.8M176.9 238.3h.8M178.6 235.0h.8M171.1 241.3h.8M174.1 236.4h.8M169.1 242.7h.8M170.9 233.4h.8M179.5 236.1h.8M174.4 241.9h.8M175.6 239.3h.8M170.7 241.4h.8M169.7 240.2h.8M169.4 237.4h.8M172.4 244.2h.8M171.8 240.3h.8M176.6 234.7h.8M175.2 237.5h.8M171.6 244.4h.8M180.0 244.9h.8M168.8 236.9h.8M176.1 239.9h.8M160.1 245.1h.8M176.3 242.3h.8M183.8 241.9h.8M172.1 234.1h.8M172.3 237.7h.8M172.4 240.4h.8M170.4 239.4h.8M173.4 241.2h.8M179.9 236.1h.8M169.4 247.8h.8M173.8 240.8h.8M165.8 244.2h.8M179.3 241.8h.8M163.9 239.2h.8M171.6 240.5h.8M178.7 241.6h.8M164.0 240.4h.8M173.6 241.8h.8M174.6 245.1h.8M171.5 238.0h.8M172.1 238.8h.8M168.6 240.6h.8M173.0 234.7h.8M171.0 237.9h.8M179.1 239.9h.8M172.1 239.2h.8M177.8 233.4h.8M168.5 242.9h.8M165.8 234.8h.8M168.8 237.1h.8M173.0 236.0h.8M178.3 239.6h.8M168.5 241.5h.8M169.6 241.3h.8M169.2 244.6h.8M176.4 236.9h.8M173.7 238.1h.8M164.2 240.1h.8M173.2 236.5h.8M178.4 245.5h.8M166.8 237.5h.8M170.9 241.0h.8M167.8 238.8h.8M177.9 236.0h.8M172.5 235.6h.8M172.3 238.0h.8M178.8 238.7h.8M169.7 238.8h.8M178.7 241.4h.8M171.2 235.3h.8M172.1 243.1h.8M173.1 235.2h.8M174.1 238.7h.8M172.4 239.1h.8M168.0 237.5h.8M176.9 240.4h.8M167.4 234.9h.8M177.5 240.6h.8M173.0 238.1h.8M181.3 234.0h.8M170.5 241.6h.8M174.4 241.0h.8M165.6 242.8h.8M178.1 237.4h.8M177.2 238.0h.8M172.3 239.6h.8M171.4 240.0h.8M178.3 242.9h.8M175.4 240.9h.8M166.4 239.7h.8M174.6 239.6h.8M170.1 237.1h.8M177.0 240.9h.8M158.9 249.9h.8M175.2 239.8h.8M177.8 240.6h.8M180.5 237.3h.8M177.0 241.5h.8M163.8 247.2h.8M170.5 235.8h.8M172.1 242.9h.8M167.6 239.7h.8M170.3 239.3h.8M159.6 245.5h.8M167.6 242.3h.8M172.5 234.0h.8M171.9 236.7h.8M171.5 237.7h.8M171.6 239.3h.8M173.4 241.2h.8M167.5 244.2h.8M182.2 239.2h.8M182.4 242.4h.8M178.7 237.5h.8M178.6 232.7h.8M163.2 242.7h.8M180.6 239.7h.8M167.2 236.0h.8M173.5 240.5h.8M165.7 239.8h.8M171.1 238.0h.8M160.6 237.8h.8M172.1 245.2h.8M179.4 237.6h.8M167.6 241.4h.8M169.8 240.2h.8M175.8 240.3h.8M177.2 244.8h.8M165.8 245.1h.8M162.6 238.3h.8M178.5 235.9h.8M168.8 240.8h.8M168.4 239.1h.8M173.0 238.7h.8M169.4 237.9h.8M166.9 242.1h.8M187.8 236.6h.8M164.6 246.5h.8M178.1 237.9h.8M169.3 239.2h.8M173.7 236.0h.8M173.1 232.7h.8M166.9 237.0h.8M169.8 239.4h.8M170.6 240.1h.8M178.1 246.6h.8M170.4 241.0h.8M170.7 240.2h.8M169.5 238.6h.8M173.7 243.7h.8M173.0 239.3h.8M170.9 235.9h.8M167.2 240.5h.8M176.9 239.2h.8M167.9 239.8h.8M176.8 238.9h.8M177.4 234.4h.8M173.9 236.0h.8M162.9 240.8h.8M174.9 240.7h.8M178.0 239.2h.8M160.6 243.3h.8M176.8 237.7h.8M170.0 239.9h.8M172.4 235.9h.8M177.3 244.4h.8M175.4 239.7h.8M155.8 243.2h.8M174.8 241.1h.8M173.4 236.8h.8M173.2 239.2h.8M172.6 242.2h.8M173.6 238.3h.8M167.6 234.6h.8M181.1 237.6h.8M177.6 240.0h.8M172.8 241.1h.8M172.6 244.5h.8M170.0 239.2h.8M171.9 240.7h.8M179.6 236.4h.8M160.0 242.5h.8M175.6 238.9h.8M172.2 241.6h.8M167.7 237.2h.8M163.9 240.1h.8M168.1 239.6h.8M166.4 233.9h.8M177.7 240.0h.8M177.5 242.8h.8M163.8 243.1h.8M166.3 233.6h.8M166.5 238.4h.8M181.0 237.6h.8M171.1 241.0h.8M173.9 238.9h.8M182.4 235.0h.8M166.0 234.1h.8M166.0 237.3h.8M169.4 238.7h.8M179.4 241.1h.8M169.9 240.4h.8M168.7 239.2h.8M171.5 245.9h.8M166.3 236.9h.8M174.4 236.4h.8M167.3 241.2h.8M167.0 244.4h.8M175.4 237.5h.8M171.5 237.7h.8M179.7 238.9h.8M173.0 236.8h.8M180.1 238.5h.8M168.7 244.7h.8M173.8 238.0h.8M176.7 237.3h.8M171.6 242.6h.8M166.4 239.7h.8M171.8 240.7h.8M167.0 236.7h.8M170.6 236.9h.8M172.9 239.1h.8M172.9 239.9h.8M166.7 239.1h.8M173.1 243.2h.8M173.6 239.5h.8M182.2 236.9h.8M178.8 240.7h.8M166.2 240.2h.8M176.1 235.5h.8M179.2 237.1h.8M174.4 238.6h.8M174.2 237.0h.8M179.9 236.1h.8M180.3 237.5h.8M167.7 242.5h.8M172.6 238.5h.8M166.1 239.4h.8M171.4 237.0h.8M166.0 237.3h.8M166.8 243.4h.8M176.2 237.4h.8M166.7 239.7h.8M174.4 237.3h.8M171.2 242.7h.8M170.7 238.4h.8M178.0 238.4h.8M171.7 236.6h.8M177.1 239.5h.8M170.4 239.3h.8M178.8 238.3h.8M171.2 239.9h.8M172.4 242.3h.8M170.5 238.3h.8M168.4 240.3h.8M165.4 238.6h.8M164.2 240.1h.8M170.8 238.9h.8M169.2 237.1h.8M173.0 232.4h.8M166.6 245.1h.8M173.2 243.9h.8M181.4 238.6h.8M167.2 241.4h.8M167.6 240.2h.8M173.2 244.1h.8M171.2 239.0h.8M170.8 246.8h.8M171.5 242.2h.8M168.1 238.7h.8M185.5 235.1h.8M174.7 240.9h.8M174.8 242.2h.8M170.7 244.2h.8M173.7 238.7h.8M174.7 239.5h.8M171.3 241.2h.8M168.1 241.3h.8M170.5 232.0h.8M177.4 238.5h.8M170.7 238.5h.8M164.5 236.6h.8M174.3 238.2h.8M177.6 244.6h.8M169.6 235.1h.8M178.5 240.5h.8M180.2 239.3h.8M173.5 236.9h.8M180.3 238.7h.8M179.1 238.7h.8M169.4 242.0h.8M177.2 231.6h.8M170.0 241.5h.8M177.5 238.9h.8M168.3 241.0h.8M170.1 231.3h.8M162.8 241.9h.8M168.1 242.0h.8M176.5 231.4h.8M172.5 234.8h.8M177.4 232.9h.8M178.1 237.8h.8M171.9 239.9h.8M167.8 239.7h.8M187.8 237.7h.8M168.3 246.7h.8M176.9 239.3h.8M173.8 235.0h.8M169.7 236.8h.8M180.1 241.7h.8M172.7 236.1h.8M164.1 238.6h.8M166.7 240.4h.8M164.3 241.1h.8M171.9 236.9h.8M173.1 236.6h.8M170.1 237.3h.8M181.7 234.1h.8M173.1 236.6h.8M169.2 242.6h.8M171.3 239.2h.8M161.5 239.0h.8M181.8 240.9h.8M157.0 236.9h.8M171.0 235.0h.8M172.4 236.4h.8M179.4 242.7h.8M177.9 235.5h.8M173.5 243.0h.8M167.7 239.9h.8M166.9 240.5h.8M179.1 238.2h.8M182.9 237.3h.8M176.0 243.8h.8M167.4 243.0h.8M164.9 238.6h.8M170.0 244.2h.8M166.5 244.2h.8M165.3 240.7h.8M176.3 239.0h.8M182.7 238.5h.8M165.3 239.8h.8M177.3 233.4h.8M161.4 246.9h.8M166.2 243.5h.8M174.6 236.8h.8M168.2 241.5h.8M169.5 242.6h.8M173.3 238.6h.8M180.9 238.1h.8M165.8 238.8h.8M169.7 244.8h.8M175.7 237.1h.8M168.9 240.0h.8M172.3 245.5h.8M169.0 237.4h.8M170.3 238.4h.8M176.9 239.1h.8M169.5 239.1h.8M168.1 239.4h.8M171.7 244.7h.8M167.1 244.1h.8M172.3 236.7h.8M181.5 239.6h.8M166.2 239.1h.8M169.9 236.4h.8M172.8 239.3h.8M179.0 237.9h.8M163.4 244.4h.8M177.5 236.4h.8M179.1 239.0h.8M166.9 242.4h.8M173.6 238.0h.8M174.7 237.1h.8M172.3 240.4h.8M175.3 240.7h.8M160.9 239.7h.8M174.2 241.6h.8M167.4 243.3h.8M167.9 243.8h.8M173.2 240.2h.8M165.4 238.1h.8M173.3 240.2h.8M171.4 238.7h.8M179.0 236.7h.8M175.0 241.9h.8M174.3 239.8h.8M166.3 245.4h.8M179.2 236.0h.8M168.1 237.1h.8M165.2 240.2h.8M167.4 240.3h.8M174.5 237.1h.8M166.2 242.9h.8M176.7 238.4h.8M167.8 241.4h.8M173.4 242.2h.8M173.1 237.6h.8M168.3 240.5h.8M164.9 238.1h.8M176.5 241.4h.8M175.0 243.3h.8M170.8 237.9h.8M172.8 242.1h.8M167.4 245.9h.8M178.4 235.0h.8M168.0 242.2h.8M173.9 242.6h.8M174.3 238.9h.8M169.8 241.2h.8M174.6 237.2h.8M170.7 239.9h.8M170.2 236.5h.8M174.8 234.7h.8M172.2 237.2h.8M172.3 243.7h.8M183.3 240.4h.8M171.2 236.3h.8M171.0 240.7h.8M164.3 238.9h.8M174.0 240.3h.8M170.1 236.7h.8M173.6 236.4h.8M182.2 237.7h.8M169.7 243.3h.8M167.7 238.5h.8M175.5 234.9h.8M173.9 237.3h.8M166.2 240.3h.8M171.5 239.4h.8M174.3 236.3h.8M177.5 244.0h.8M164.8 238.8h.8M171.9 235.4h.8M173.7 238.9h.8M170.8 241.4h.8M170.0 238.3h.8M174.9 239.6h.8M175.1 242.6h.8M167.0 241.2h.8M178.3 239.1h.8M172.3 240.9h.8M174.9 239.9h.8M169.9 241.0h.8M169.4 240.4h.8M171.4 233.5h.8M171.5 240.8h.8M174.3 239.1h.8M167.5 236.1h.8M162.0 241.6h.8M177.0 242.9h.8M181.0 234.9h.8M175.4 236.6h.8M162.8 240.4h.8M169.6 241.5h.8M175.5 239.6h.8M179.5 244.1h.8M170.6 242.4h.8M179.7 237.9h.8M170.2 240.4h.8M169.6 241.8h.8M177.2 238.0h.8M176.1 238.7h.8M182.3 240.2h.8M180.0 241.1h.8M169.0 238.6h.8M174.9 236.5h.8M178.5 238.4h.8M182.9 235.8h.8M166.9 243.5h.8M171.3 235.3h.8M179.7 239.3h.8M172.5 237.6h.8M173.8 240.0h.8M170.1 239.5h.8M175.2 236.7h.8M180.3 238.5h.8M169.5 240.8h.8M166.3 242.2h.8M179.0 233.9h.8M171.8 240.3h.8M168.5 236.1h.8M167.0 235.9h.8M174.9 235.3h.8M173.4 238.0h.8M179.1 237.2h.8M174.8 240.3h.8M169.7 237.9h.8M176.0 238.2h.8M166.5 240.6h.8M176.2 238.2h.8M178.4 235.8h.8M161.6 237.9h.8M178.4 235.5h.8M170.9 239.5h.8M173.6 243.8h.8M177.5 241.9h.8M169.5 242.4h.8M176.4 233.9h.8M172.2 236.3h.8M158.4 239.4h.8M178.3 237.0h.8M181.6 241.5h.8M174.6 239.7h.8M170.5 238.1h.8M172.5 235.0h.8M177.7 244.6h.8M179.5 238.6h.8M181.1 237.9h.8M163.3 241.7h.8M179.3 236.9h.8M176.4 240.6h.8M171.0 237.0h.8M175.0 242.2h.8M175.8 241.8h.8M178.7 241.6h.8M174.9 246.2h.8M177.7 241.6h.8M170.3 238.3h.8M168.0 237.4h.8M170.0 238.6h.8M163.1 241.6h.8M169.6 238.4h.8M167.2 245.6h.8M177.6 240.1h.8M167.1 240.0h.8M174.6 239.3h.8M175.3 236.4h.8M170.9 243.0h.8M174.2 239.8h.8M176.2 234.6h.8M173.7 241.9h.8M176.1 240.4h.8M164.2 240.0h.8M162.8 240.6h.8M178.6 238.8h.8M174.8 239.7h.8M171.1 238.3h.8M173.6 238.8h.8M187.5 241.1h.8M167.1 242.4h.8M170.3 239.0h.8M169.9 242.4h.8M171.6 234.4h.8M171.2 237.9h.8M161.7 242.6h.8M174.4 241.8h.8M160.3 234.5h.8M179.7 239.4h.8M166.5 241.2h.8M173.5 238.3h.8M168.8 238.5h.8M172.6 234.8h.8M169.9 240.8h.8M173.0 234.8h.8M164.8 238.6h.8M175.8 238.4h.8M169.0 234.9h.8M171.2 246.3h.8M167.5 247.2h.8M160.9 237.0h.8M178.7 235.3h.8M168.6 242.5h.8M164.7 237.7h.8M163.2 244.0h.8M173.5 243.0h.8M174.1 240.8h.8M171.9 240.6h.8M166.1 238.6h.8M165.4 243.8h.8M165.2 239.2h.8M176.1 240.5h.8M175.2 239.5h.8M173.9 238.1h.8M168.4 238.4h.8M167.7 234.7h.8M178.4 231.9h.8M177.1 238.3h.8M180.6 238.2h.8M171.5 242.4h.8M162.9 239.9h.8M180.7 242.3h.8M169.1 236.4h.8M168.3 241.7h.8M165.8 243.1h.8M165.0 242.2h.8M173.8 238.5h.8M183.9 239.0h.8M175.4 244.4h.8M169.4 241.2h.8M177.5 239.2h.8M171.0 239.2h.8M176.3 239.3h.8M178.3 235.4h.8M172.1 242.7h.8M165.6 242.8h.8M171.3 242.5h.8M168.7 240.0h.8M165.0 242.7h.8M170.6 239.8h.8M168.6 243.3h.8M172.9 242.5h.8M168.0 239.1h.8M176.4 244.7h.8M182.1 241.0h.8M177.4 241.1h.8M167.5 239.3h.8M165.2 236.0h.8M171.6 240.7h.8M175.4 245.1h.8M165.6 237.5h.8M169.0 241.7h.8M170.0 236.2h.8M174.8 238.4h.8M168.1 244.0h.8M176.9 237.1h.8M172.9 238.1h.8M169.5 237.9h.8M170.9 237.4h.8M173.8 241.6h.8M171.0 235.0h.8M176.6 237.4h.8M180.5 240.8h.8M172.0 244.5h.8M167.0 240.5h.8M175.7 239.6h.8M172.2 236.2h.8M178.8 235.0h.8M158.6 239.5h.8M177.3 239.0h.8M170.7 239.6h.8M174.2 238.1h.8M168.9 238.9h.8M168.3 242.4h.8M171.6 241.5h.8M168.9 236.3h.8M183.8 242.1h.8M175.0 240.6h.8M171.4 242.6h.8M161.7 241.3h.8M177.5 241.3h.8M169.6 238.3h.8M169.0 242.6h.8M178.7 235.4h.8M170.5 240.0h.8M166.6 244.7h.8M167.8 241.4h.8M171.4 239.0h.8M167.8 236.5h.8M176.2 241.2h.8M174.7 237.4h.8M167.9 239.6h.8M167.7 239.2h.8M166.1 246.1h.8M166.0 230.0h.8M169.5 242.9h.8M165.8 245.0h.8M167.3 243.6h.8M175.0 242.7h.8M171.0 246.4h.8M164.2 246.2h.8M168.2 239.0h.8M161.5 238.7h.8M169.1 234.7h.8M166.1 238.7h.8M178.2 243.3h.8M167.8 236.8h.8M169.5 244.8h.8M168.1 239.7h.8M180.7 238.3h.8M168.2 234.9h.8M170.7 237.0h.8M182.5 236.5h.8M169.8 237.1h.8M170.8 239.8h.8M179.4 235.0h.8M167.8 238.3h.8M172.6 239.0h.8M169.3 241.3h.8M168.7 238.3h.8M164.1 236.6h.8M170.3 240.7h.8M181.6 238.9h.8M167.1 240.9h.8M174.5 239.6h.8M182.7 238.3h.8M176.4 239.9h.8M166.0 241.1h.8M173.5 243.8h.8M163.2 234.0h.8M175.7 240.6h.8M175.5 240.7h.8M172.6 240.3h.8M173.7 237.1h.8M172.0 234.1h.8M172.6 238.9h.8M164.1 237.6h.8M167.8 237.1h.8M164.2 243.2h.8M167.8 239.6h.8M166.8 240.4h.8M175.1 243.4h.8M175.9 235.3h.8M177.3 239.2h.8M172.6 238.0h.8M164.9 240.4h.8M168.0 239.6h.8M179.9 239.1h.8M175.6 242.7h.8M164.5 239.8h.8M182.4 243.6h.8M172.2 233.5h.8M175.4 243.6h.8M166.8 243.6h.8M170.7 236.9h.8M177.3 237.9h.8M164.7 241.6h.8M178.4 244.1h.8M167.2 245.8h.8M173.8 240.6h.8M169.2 238.8h.8M169.3 240.7h.8M171.0 234.9h.8M171.3 238.2h.8M178.5 240.0h.8M179.1 241.1h.8M161.4 238.9h.8M175.3 235.2h.8M175.0 236.1h.8M171.9 240.7h.8M170.2 235.6h.8M168.4 237.4h.8M161.7 242.8h.8M170.4 241.0h.8M180.2 237.0h.8M183.6 232.8h.8M169.7 240.6h.8M166.6 240.5h.8M165.8 243.9h.8M185.6 240.0h.8M186.9 229.7h.8M187.9 221.8h.8M184.8 221.2h.8M179.4 229.4h.8M185.9 235.7h.8M199.4 219.8h.8M186.4 226.5h.8M175.7 229.6h.8M169.8 222.8h.8M195.4 224.0h.8M185.1 231.1h.8M191.6 227.2h.8M185.6 220.7h.8M188.8 231.5h.8M193.0 220.1h.8M190.9 228.8h.8M187.2 235.3h.8M179.5 228.9h.8M189.5 222.0h.8M168.3 231.8h.8M182.8 232.1h.8M182.1 221.8h.8M180.9 221.7h.8M189.6 219.1h.8M184.4 218.5h.8M183.5 220.5h.8M189.3 229.4h.8M185.1 226.4h.8M186.6 218.8h.8M175.5 227.4h.8M188.7 226.4h.8M185.2 224.0h.8M190.9 220.3h.8M198.2 222.2h.8M180.6 228.7h.8M175.4 230.1h.8M175.5 228.4h.8M196.4 224.1h.8M174.9 225.6h.8M177.0 226.5h.8M172.3 232.8h.8M194.0 224.2h.8M182.8 224.8h.8M171.9 221.6h.8M186.1 234.9h.8M185.3 234.2h.8M183.8 232.9h.8M185.9 224.1h.8M189.8 219.5h.8M185.8 230.2h.8M175.5 223.3h.8M186.7 227.3h.8M186.7 233.1h.8M176.6 231.6h.8M184.7 220.4h.8M182.5 224.1h.8M178.3 221.1h.8M186.4 233.5h.8M196.8 235.7h.8M171.6 223.0h.8M183.4 222.4h.8M184.6 218.1h.8M178.4 231.9h.8M186.2 217.2h.8M189.0 239.1h.8M191.4 221.9h.8M204.1 216.2h.8M183.2 228.7h.8M185.9 231.8h.8M188.5 228.4h.8M185.5 224.5h.8M180.5 222.3h.8M184.4 221.5h.8M181.1 226.4h.8M198.5 225.5h.8M182.0 229.2h.8M191.3 222.9h.8M182.1 225.0h.8M174.3 232.3h.8M191.0 216.0h.8M189.6 223.1h.8M188.8 226.2h.8M180.8 220.3h.8M178.6 232.4h.8M187.3 232.7h.8M182.5 227.3h.8M186.3 222.0h.8M189.0 216.4h.8M179.0 228.4h.8M186.6 228.3h.8M183.5 220.7h.8M179.9 224.0h.8M185.2 228.8h.8M186.1 219.6h.8M193.2 234.0h.8M188.3 228.5h.8M190.2 231.0h.8M185.9 224.1h.8M194.6 220.9h.8M188.9 220.2h.8M182.9 226.7h.8M184.6 236.6h.8M182.6 237.2h.8M192.9 214.2h.8M189.9 229.6h.8M188.4 221.2h.8M185.6 226.6h.8M177.6 224.7h.8M186.8 229.5h.8M182.9 223.2h.8M188.6 214.4h.8M182.6 227.1h.8M180.7 223.9h.8M193.7 230.1h.8M180.8 224.3h.8M185.8 234.3h.8M190.8 222.5h.8M181.7 223.9h.8M177.2 227.8h.8M182.6 232.8h.8M183.7 225.2h.8M190.5 228.9h.8M190.5 230.6h.8M178.0 221.9h.8M192.3 220.0h.8M186.0 222.8h.8M196.1 215.6h.8M175.4 220.8h.8M179.0 224.3h.8M189.6 230.5h.8M183.0 216.2h.8M191.8 220.9h.8M191.5 223.2h.8M192.4 225.6h.8M174.8 224.0h.8M185.8 226.7h.8M184.9 222.0h.8M190.6 219.4h.8M190.8 230.1h.8M186.2 221.6h.8M187.7 224.8h.8M190.8 231.0h.8M181.7 219.2h.8M189.5 223.5h.8M193.3 226.8h.8M181.7 230.2h.8M174.9 233.3h.8M183.4 233.9h.8M180.8 224.1h.8M189.8 222.9h.8M184.3 229.0h.8M182.6 217.7h.8M183.4 227.7h.8M180.7 223.1h.8M176.6 223.8h.8M187.6 225.3h.8M191.1 215.0h.8M189.5 227.2h.8M174.6 231.1h.8M179.7 238.8h.8M197.5 230.9h.8M193.9 227.4h.8M195.8 223.1h.8M190.8 222.4h.8M199.1 221.1h.8M183.9 234.9h.8M189.5 223.3h.8M176.9 232.1h.8M172.6 221.1h.8M179.1 228.5h.8M188.2 229.1h.8M189.2 222.2h.8M194.9 218.7h.8M180.6 223.9h.8M188.9 225.2h.8M193.3 212.7h.8M190.7 224.0h.8M192.1 222.7h.8M176.0 235.2h.8M189.7 217.7h.8M184.9 228.1h.8M187.7 229.2h.8M188.6 231.9h.8M183.8 229.2h.8M190.1 221.5h.8M186.5 225.4h.8M184.1 225.2h.8M184.2 225.2h.8M176.7 227.7h.8M181.2 224.9h.8M194.8 212.3h.8M191.5 213.3h.8M191.7 224.1h.8M179.1 224.5h.8M186.5 222.2h.8M186.6 231.3h.8M166.4 222.5h.8M185.3 225.9h.8M175.5 233.6h.8M192.1 228.7h.8M175.5 220.2h.8M181.5 232.5h.8M202.2 219.8h.8M180.2 224.0h.8M179.4 218.8h.8M181.5 218.4h.8M177.9 231.9h.8M182.8 228.9h.8M192.3 229.0h.8M188.1 229.2h.8M183.8 230.7h.8M170.3 234.2h.8M177.5 225.0h.8M179.0 230.1h.8M188.7 219.1h.8M179.6 225.6h.8M187.4 228.8h.8M190.1 227.5h.8M192.1 226.4h.8M180.7 239.9h.8M183.3 236.7h.8M178.9 238.2h.8M185.4 235.3h.8M188.1 243.2h.8M182.3 246.3h.8M180.4 242.5h.8M198.8 241.6h.8M186.2 242.1h.8M184.7 239.9h.8M178.1 242.8h.8M179.0 235.3h.8M187.9 239.7h.8M186.4 241.5h.8M187.5 240.3h.8M174.6 236.0h.8M186.6 241.9h.8M188.7 237.2h.8M181.4 241.4h.8M186.7 241.1h.8M181.7 239.8h.8M173.0 241.0h.8M187.6 240.3h.8M176.6 243.4h.8M182.4 235.3h.8M178.5 242.1h.8M178.8 238.0h.8M189.2 238.3h.8M176.1 238.3h.8M176.7 241.4h.8M179.3 236.7h.8M187.8 240.2h.8M168.2 241.8h.8M185.9 236.3h.8M181.9 242.6h.8M178.1 242.7h.8M179.2 241.8h.8M176.0 241.5h.8M189.6 243.1h.8M182.2 238.3h.8M183.1 241.5h.8M175.0 241.9h.8M176.9 243.3h.8M181.8 239.9h.8M189.3 241.5h.8M190.8 237.5h.8M179.1 241.7h.8M188.5 243.9h.8M183.6 237.0h.8M186.9 241.7h.8M180.6 234.9h.8M173.8 245.4h.8M182.2 241.0h.8M186.3 247.3h.8M182.5 239.1h.8M181.9 244.0h.8M181.9 240.7h.8M189.1 238.1h.8M183.0 241.4h.8M171.6 237.7h.8M181.0 233.9h.8M188.8 236.5h.8M187.5 241.3h.8M178.1 239.0h.8M183.5 241.7h.8M188.5 236.3h.8M181.2 244.4h.8M185.2 239.0h.8M180.3 238.8h.8M191.3 236.5h.8M188.2 239.1h.8M178.3 240.7h.8M175.0 248.0h.8M200.4 237.3h.8M188.4 238.0h.8M176.7 234.5h.8M171.9 244.5h.8M184.4 237.7h.8M177.7 245.0h.8M185.3 242.7h.8M184.0 242.0h.8M199.1 232.9h.8M185.9 236.6h.8M182.9 235.2h.8M176.9 242.4h.8M185.9 242.2h.8M180.2 243.4h.8M180.9 238.5h.8M184.0 247.5h.8M185.6 232.4h.8M183.8 238.2h.8M172.7 241.7h.8M184.5 238.1h.8M175.8 241.5h.8M187.2 240.4h.8M182.7 235.4h.8M176.3 242.4h.8M178.1 240.3h.8M190.9 242.9h.8M183.9 236.8h.8M184.4 233.9h.8M179.5 234.8h.8M184.6 240.2h.8M188.7 238.8h.8M184.7 234.8h.8M189.1 242.8h.8M190.7 243.0h.8M180.3 243.6h.8M181.7 246.9h.8M180.2 238.4h.8M182.9 238.3h.8M185.5 235.9h.8M183.9 235.7h.8M191.5 239.5h.8M175.9 242.0h.8M179.0 239.6h.8M179.7 246.6h.8M189.0 231.9h.8M180.6 236.9h.8M176.3 244.3h.8M175.3 234.3h.8M183.0 237.1h.8M182.8 241.6h.8M184.2 236.8h.8M181.7 241.3h.8M171.3 241.5h.8M181.6 246.3h.8M183.6 235.4h.8M179.7 239.2h.8M179.8 236.6h.8M189.6 239.2h.8M175.8 247.0h.8M179.5 238.5h.8M181.2 239.0h.8M187.4 246.9h.8M173.5 242.5h.8M184.5 244.2h.8M183.9 246.7h.8M178.6 238.8h.8M180.3 242.3h.8M185.2 245.5h.8M182.1 242.1h.8M178.5 243.3h.8M188.5 239.9h.8M171.0 246.6h.8M182.0 236.8h.8M179.9 242.2h.8M186.7 243.5h.8M181.4 239.3h.8M179.7 241.0h.8M179.0 238.8h.8M178.3 235.6h.8M178.6 242.7h.8M186.4 241.4h.8M175.9 236.6h.8M192.8 247.2h.8M187.6 238.5h.8M175.1 239.7h.8M180.6 243.6h.8M182.0 236.6h.8M176.6 242.6h.8M187.7 242.8h.8M182.2 242.6h.8M174.6 240.2h.8M176.7 240.2h.8M180.3 237.5h.8M186.9 240.0h.8M190.2 240.3h.8M181.3 237.4h.8M179.0 242.6h.8M183.5 246.6h.8M186.0 238.2h.8M177.5 239.3h.8M189.2 244.3h.8M166.6 239.4h.8M193.1 235.8h.8M182.9 242.2h.8M184.1 238.9h.8M181.8 238.6h.8M182.6 239.4h.8M192.5 243.6h.8M177.1 240.5h.8M192.6 238.8h.8M184.4 245.8h.8M178.5 243.4h.8M181.6 242.9h.8M181.7 243.2h.8M187.3 246.8h.8M178.0 243.9h.8M186.2 235.4h.8M190.6 247.2h.8M192.7 237.1h.8M178.1 246.6h.8M182.2 239.9h.8M177.0 244.6h.8M170.2 239.0h.8M185.7 233.9h.8M188.1 239.8h.8M183.4 240.3h.8M183.8 239.0h.8M177.2 240.9h.8M190.1 242.2h.8M184.0 238.0h.8M183.4 246.5h.8M182.1 240.4h.8M178.5 248.6h.8M182.4 243.4h.8M172.2 243.4h.8M185.1 237.2h.8M182.4 239.8h.8M188.0 241.5h.8M181.1 239.2h.8M193.5 241.7h.8M183.8 241.5h.8M185.0 241.1h.8M181.5 245.1h.8M180.6 238.3h.8M178.2 240.5h.8M180.8 239.8h.8M183.0 240.5h.8M186.4 239.2h.8M179.7 240.0h.8M179.0 241.7h.8M177.1 236.2h.8M191.4 232.2h.8M176.4 242.1h.8M180.4 243.0h.8M168.3 241.0h.8M191.7 241.9h.8M179.8 244.9h.8M182.2 246.1h.8M178.4 240.9h.8M182.6 240.6h.8M192.9 244.3h.8M187.9 241.9h.8M182.4 239.7h.8M186.5 239.3h.8M188.8 239.3h.8M176.7 238.5h.8M188.6 242.3h.8M183.1 234.4h.8M182.3 235.3h.8M187.0 242.8h.8M181.5 240.5h.8M183.4 238.9h.8M179.1 239.7h.8M190.2 247.4h.8M176.6 237.0h.8M177.5 238.1h.8M184.5 239.5h.8M180.3 242.4h.8M178.6 238.8h.8M186.6 239.1h.8M181.6 248.3h.8M182.0 236.9h.8M176.8 244.9h.8M188.3 244.6h.8M184.6 246.6h.8M194.0 243.3h.8M183.9 239.9h.8M189.6 246.6h.8M185.0 237.8h.8M185.4 236.0h.8M183.3 245.8h.8M180.5 241.6h.8M188.3 235.7h.8M183.3 244.2h.8M180.9 237.6h.8M182.8 244.8h.8M185.4 239.9h.8M183.0 244.5h.8M200.3 238.4h.8M191.0 240.3h.8M185.5 242.2h.8M187.4 243.3h.8M197.4 239.2h.8M175.2 246.5h.8M182.3 239.3h.8M186.7 238.6h.8M186.0 240.1h.8M186.8 225.5h.8M170.8 233.6h.8M160.3 236.9h.8M150.8 229.4h.8M155.9 232.7h.8M188.0 241.3h.8M160.3 225.7h.8M171.4 241.9h.8M180.1 226.6h.8M163.7 246.9h.8M170.2 226.4h.8M194.0 231.5h.8M170.8 237.2h.8M173.0 236.7h.8M186.7 218.8h.8M191.7 227.9h.8M182.7 239.5h.8M177.5 232.9h.8M174.0 237.5h.8M180.9 238.2h.8M174.4 231.4h.8M184.2 225.2h.8M179.2 236.0h.8M167.9 233.4h.8M172.3 233.8h.8M169.8 242.0h.8M187.3 236.2h.8M184.3 222.4h.8M186.8 239.9h.8M181.9 234.5h.8M189.4 231.5h.8M180.7 238.4h.8M192.5 242.5h.8M186.3 241.3h.8M180.9 223.8h.8M169.3 230.6h.8M183.5 220.4h.8M190.9 236.8h.8M184.4 239.1h.8M181.8 241.0h.8M168.0 223.3h.8M175.6 235.7h.8M156.0 242.3h.8M163.9 231.5h.8M178.5 220.9h.8M200.7 222.4h.8M175.8 218.2h.8M182.0 237.2h.8M173.9 222.9h.8M188.3 220.2h.8M174.1 238.0h.8M174.4 230.1h.8M169.1 234.6h.8M165.2 242.1h.8M167.8 226.0h.8M196.8 236.2h.8M171.0 216.6h.8M166.1 227.1h.8M189.7 221.9h.8M175.2 231.5h.8M192.8 232.3h.8M182.8 225.3h.8M179.7 241.3h.8M186.2 219.7h.8M181.7 236.3h.8M181.4 245.6h.8M177.0 250.5h.8M171.5 236.8h.8M172.4 236.1h.8M178.7 231.5h.8M168.7 238.5h.8M184.0 233.2h.8M196.8 228.5h.8M159.2 244.1h.8M193.6 221.2h.8M175.2 222.7h.8M161.3 234.7h.8M155.5 223.3h.8M186.2 247.6h.8M177.4 223.9h.8M181.8 226.6h.8M166.9 241.6h.8M184.4 230.6h.8M185.5 221.6h.8M184.5 228.4h.8M166.3 219.9h.8M188.6 222.5h.8M184.7 221.7h.8M170.9 232.3h.8M149.8 235.0h.8M179.9 231.7h.8M174.7 239.2h.8M180.6 228.0h.8M177.7 227.4h.8M162.8 254.3h.8M186.4 239.2h.8M174.5 247.3h.8M190.8 235.8h.8M175.9 254.1h.8M170.0 245.1h.8M200.4 232.6h.8M162.3 221.8h.8M177.0 230.1h.8M176.7 224.9h.8M183.5 248.6h.8M172.3 227.2h.8M190.1 236.0h.8M184.0 234.1h.8M183.0 233.5h.8M177.0 226.4h.8M185.2 231.0h.8M182.1 219.2h.8M168.7 225.5h.8M189.1 243.0h.8M188.0 226.4h.8M178.7 236.0h.8M176.1 255.4h.8M173.8 239.7h.8M174.5 233.1h.8M181.4 218.2h.8" stroke="#5e5e5e" stroke-width="1" stroke-opacity=".6" fill="none" filter="url(#bl)"/>
<line x1="177.4" y1="191.3" x2="177.4" y2="259.2" stroke="#333" stroke-width="0.8" />
<line x1="148.1" y1="235.4" x2="214.1" y2="235.4" stroke="#333" stroke-width="0.8" />
<text x="153.4" y="204.8" font-family="Liberation Serif, serif" font-size="10" font-weight="bold" text-anchor="start" fill="#000" textLength="21.9" lengthAdjust="spacingAndGlyphs" stroke="#000" stroke-width="0.22" >8.4%</text>
<text x="189.9" y="204.8" font-family="Liberation Serif, serif" font-size="10" font-weight="bold" text-anchor="start" fill="#000" textLength="21.1" lengthAdjust="spacingAndGlyphs" stroke="#000" stroke-width="0.22" >8.1%</text>
<text x="183.8" y="257.8" font-family="Liberation Serif, serif" font-size="10" font-weight="bold" text-anchor="start" fill="#000" textLength="26.2" lengthAdjust="spacingAndGlyphs" stroke="#000" stroke-width="0.22" >12.4%</text>
<path d="M148.1 259.2v1.6M146.5 259.2h1.6M153.1 259.2v0.9M147.2 254.1h0.9M156.0 259.2v0.9M147.2 251.1h0.9M158.0 259.2v0.9M147.2 249.0h0.9M159.6 259.2v0.9M147.2 247.3h0.9M160.9 259.2v0.9M147.2 246.0h0.9M162.0 259.2v0.9M147.2 244.9h0.9M163.0 259.2v0.9M147.2 243.9h0.9M163.8 259.2v0.9M147.2 243.0h0.9M164.6 259.2v1.6M146.5 242.2h1.6M169.6 259.2v0.9M147.2 237.1h0.9M172.5 259.2v0.9M147.2 234.1h0.9M174.5 259.2v0.9M147.2 232.0h0.9M176.1 259.2v0.9M147.2 230.4h0.9M177.4 259.2v0.9M147.2 229.0h0.9M178.5 259.2v0.9M147.2 227.9h0.9M179.5 259.2v0.9M147.2 226.9h0.9M180.3 259.2v0.9M147.2 226.0h0.9M181.1 259.2v1.6M146.5 225.2h1.6M186.1 259.2v0.9M147.2 220.1h0.9M189.0 259.2v0.9M147.2 217.2h0.9M191.0 259.2v0.9M147.2 215.0h0.9M192.6 259.2v0.9M147.2 213.4h0.9M193.9 259.2v0.9M147.2 212.0h0.9M195.0 259.2v0.9M147.2 210.9h0.9M196.0 259.2v0.9M147.2 209.9h0.9M196.8 259.2v0.9M147.2 209.1h0.9M197.6 259.2v1.6M146.5 208.3h1.6M202.6 259.2v0.9M147.2 203.2h0.9M205.5 259.2v0.9M147.2 200.2h0.9M207.5 259.2v0.9M147.2 198.1h0.9M209.1 259.2v0.9M147.2 196.4h0.9M210.4 259.2v0.9M147.2 195.1h0.9M211.5 259.2v0.9M147.2 193.9h0.9M212.5 259.2v0.9M147.2 192.9h0.9M213.3 259.2v0.9M147.2 192.1h0.9M214.1 259.2v1.6M146.5 191.3h1.6" stroke="#555" stroke-width=".5" fill="none"/>
<text x="147.8" y="265.5" font-family="Liberation Sans, sans-serif" font-size="3.6" fill="#333" text-anchor="middle">10<tspan font-size="2.6" dy="-1.5">0</tspan></text>
<text x="144.9" y="259.5" font-family="Liberation Sans, sans-serif" font-size="3.6" fill="#333" text-anchor="middle" transform="rotate(-90 144.9 259.5)">10<tspan font-size="2.6" dy="-1.5">0</tspan></text>
<text x="164.3" y="265.5" font-family="Liberation Sans, sans-serif" font-size="3.6" fill="#333" text-anchor="middle">10<tspan font-size="2.6" dy="-1.5">1</tspan></text>
<text x="144.9" y="242.53" font-family="Liberation Sans, sans-serif" font-size="3.6" fill="#333" text-anchor="middle" transform="rotate(-90 144.9 242.53)">10<tspan font-size="2.6" dy="-1.5">1</tspan></text>
<text x="180.8" y="265.5" font-family="Liberation Sans, sans-serif" font-size="3.6" fill="#333" text-anchor="middle">10<tspan font-size="2.6" dy="-1.5">2</tspan></text>
<text x="144.9" y="225.55" font-family="Liberation Sans, sans-serif" font-size="3.6" fill="#333" text-anchor="middle" transform="rotate(-90 144.9 225.55)">10<tspan font-size="2.6" dy="-1.5">2</tspan></text>
<text x="197.3" y="265.5" font-family="Liberation Sans, sans-serif" font-size="3.6" fill="#333" text-anchor="middle">10<tspan font-size="2.6" dy="-1.5">3</tspan></text>
<text x="144.9" y="208.58" font-family="Liberation Sans, sans-serif" font-size="3.6" fill="#333" text-anchor="middle" transform="rotate(-90 144.9 208.58)">10<tspan font-size="2.6" dy="-1.5">3</tspan></text>
<text x="213.8" y="265.5" font-family="Liberation Sans, sans-serif" font-size="3.6" fill="#333" text-anchor="middle">10<tspan font-size="2.6" dy="-1.5">4</tspan></text>
<text x="144.9" y="191.6" font-family="Liberation Sans, sans-serif" font-size="3.6" fill="#333" text-anchor="middle" transform="rotate(-90 144.9 191.6)">10<tspan font-size="2.6" dy="-1.5">4</tspan></text>
<text x="181.1" y="270.2" font-family="Liberation Sans, sans-serif" font-size="3.8" font-weight="normal" text-anchor="middle" fill="#333" textLength="16.5" lengthAdjust="spacingAndGlyphs" >CCR7-PE</text>
<text x="138.5" y="221" font-family="Liberation Sans, sans-serif" font-size="3.8" fill="#333" text-anchor="middle" textLength="16.5" lengthAdjust="spacingAndGlyphs" transform="rotate(-90 138.5 221)">CD83-FITC</text>
<rect x="145.8" y="281.6" width="67.6" height="42.9" fill="#fff" stroke="#777" stroke-width="0.8"/>
<polyline points="155.0,324.0 155.6,323.9 156.4,323.8 157.3,323.6 158.3,323.3 159.3,322.8 160.0,322.0 160.6,320.8 161.1,319.3 161.5,317.6 161.8,315.8 162.2,313.9 162.5,312.0 162.8,310.1 163.1,308.1 163.3,306.0 163.5,303.9 163.7,301.9 163.9,300.0 164.1,298.2 164.3,296.4 164.4,294.7 164.6,293.1 164.8,291.5 165.0,290.0 165.2,288.4 165.4,286.8 165.7,285.2 165.9,283.8 166.2,282.9 166.4,282.5 166.7,282.9 166.9,283.8 167.2,285.2 167.5,286.8 167.7,288.4 168.0,290.0 168.3,291.5 168.5,293.1 168.8,294.8 169.1,296.6 169.3,298.3 169.6,300.0 169.8,301.7 170.1,303.4 170.3,305.2 170.5,306.9 170.7,308.5 171.0,310.0 171.3,311.4 171.6,312.7 171.9,314.0 172.2,315.2 172.5,316.3 172.8,317.3 173.1,318.2 173.5,319.0 173.8,319.8 174.2,320.4 174.6,321.0 175.0,321.5 175.3,321.9 175.6,322.3 175.9,322.6 176.3,322.8 177.0,323.0 178.0,323.2 179.4,323.4 180.9,323.5 182.8,323.6 184.9,323.7 187.3,323.7 190.0,323.8 193.5,323.9 197.7,323.9 202.2,323.9 206.6,324.0 210.4,324.0 213.0,324.0" fill="none" stroke="#333" stroke-width=".85" stroke-dasharray="1 .9"/>
<line x1="179.8" y1="312.5" x2="213.4" y2="312.5" stroke="#555" stroke-width=".7"/>
<line x1="179.8" y1="309.5" x2="179.8" y2="314.8" stroke="#555" stroke-width=".7"/>
<text x="197.6" y="317.5" font-family="Liberation Sans, sans-serif" font-size="2.8" fill="#777" text-anchor="middle">M1</text>
<polyline points="145.8,323.7 146.3,323.6 147.0,323.9 147.8,323.8 148.7,323.8 149.6,323.6 150.7,323.8 151.7,323.6 152.7,323.4 153.6,323.6 154.5,323.5 155.3,323.3 156.0,323.4 156.6,323.2 157.0,323.2 157.5,322.9 157.9,322.8 158.2,322.9 158.5,322.5 158.8,322.4 159.0,322.3 159.3,322.3 159.5,322.0 159.7,322.4 160.0,321.7 160.3,322.0 160.5,322.1 160.7,322.1 160.9,320.9 161.1,321.0 161.3,321.5 161.5,320.7 161.6,321.3 161.8,320.3 162.0,320.4 162.1,319.5 162.3,319.8 162.5,318.7 162.6,318.4 162.8,318.3 162.9,317.8 163.1,316.2 163.2,315.5 163.3,314.8 163.5,314.9 163.6,314.0 163.7,313.4 163.9,312.8 164.0,311.3 164.1,311.0 164.3,309.7 164.4,309.4 164.5,309.1 164.6,307.9 164.8,308.0 164.9,306.5 165.0,306.1 165.2,305.8 165.3,304.5 165.4,304.4 165.6,303.5 165.8,302.3 165.9,301.8 166.1,301.9 166.3,301.5 166.4,300.6 166.6,300.3 166.8,299.4 167.0,299.0 167.1,298.6 167.3,297.9 167.5,297.5 167.7,296.8 167.9,296.9 168.1,296.7 168.3,296.9 168.5,297.5 168.7,297.7 168.9,298.4 169.1,299.1 169.2,298.7 169.4,300.0 169.6,300.3 169.8,299.8 170.0,300.6 170.2,300.4 170.4,300.5 170.5,301.0 170.7,301.3 170.9,301.3 171.0,301.7 171.2,303.1 171.4,303.4 171.5,303.7 171.7,302.9 171.8,303.1 172.0,304.5 172.2,304.0 172.3,304.2 172.4,304.9 172.6,304.8 172.7,304.7 172.9,304.5 173.0,304.6 173.1,305.6 173.3,306.0 173.4,305.0 173.6,305.4 173.7,306.0 173.8,305.9 174.0,306.4 174.1,306.7 174.3,306.6 174.4,306.6 174.6,307.3 174.7,308.1 174.9,307.4 175.0,308.2 175.2,308.9 175.3,308.8 175.5,308.8 175.7,309.9 175.8,310.0 176.0,310.6 176.2,309.9 176.3,310.5 176.5,310.7 176.7,311.6 176.8,311.6 177.0,311.8 177.2,312.0 177.3,312.8 177.5,312.3 177.7,312.2 177.8,312.5 177.9,312.8 178.1,312.8 178.2,314.2 178.4,313.8 178.5,314.3 178.6,314.0 178.8,314.3 179.0,314.1 179.1,315.3 179.3,314.9 179.5,315.1 179.7,315.9 179.9,316.4 180.1,316.9 180.3,316.5 180.6,316.8 180.8,317.7 181.0,317.5 181.3,317.5 181.5,318.2 181.8,318.3 182.0,318.5 182.2,319.4 182.5,319.1 182.7,319.7 182.9,319.4 183.1,319.4 183.4,320.5 183.6,320.6 183.8,320.7 184.1,320.7 184.4,320.3 184.7,320.9 185.0,321.5 185.3,321.5 185.7,321.4 186.0,321.5 186.3,321.0 186.7,320.9 187.1,322.1 187.5,321.0 187.9,321.4 188.4,321.7 188.9,322.1 189.4,322.2 190.0,322.1 190.6,322.2 191.3,322.1 192.1,322.1 192.8,322.2 193.6,322.3 194.5,322.3 195.3,322.6 196.2,322.6 197.1,322.6 198.1,322.6 199.0,322.9 200.0,322.7 201.0,322.9 202.2,322.8 203.4,322.9 204.7,323.0 206.0,323.1 207.3,323.1 208.6,323.3 209.8,323.4 210.9,323.3 211.9,323.3 212.7,323.5 213.4,323.5" fill="none" stroke="#000" stroke-width="1.65" stroke-linejoin="round"/>
<text x="184.5" y="297.8" font-family="Liberation Serif, serif" font-size="10" font-weight="bold" text-anchor="start" fill="#000" textLength="25.8" lengthAdjust="spacingAndGlyphs" stroke="#000" stroke-width="0.22" >21.1%</text>
<path d="M145.8 324.5v1.6M150.9 324.5v0.9M153.9 324.5v0.9M156.0 324.5v0.9M157.6 324.5v0.9M159.0 324.5v0.9M160.1 324.5v0.9M161.1 324.5v0.9M161.9 324.5v0.9M162.7 324.5v1.6M167.8 324.5v0.9M170.8 324.5v0.9M172.9 324.5v0.9M174.5 324.5v0.9M175.9 324.5v0.9M177.0 324.5v0.9M178.0 324.5v0.9M178.8 324.5v0.9M179.6 324.5v1.6M184.7 324.5v0.9M187.7 324.5v0.9M189.8 324.5v0.9M191.4 324.5v0.9M192.8 324.5v0.9M193.9 324.5v0.9M194.9 324.5v0.9M195.7 324.5v0.9M196.5 324.5v1.6M201.6 324.5v0.9M204.6 324.5v0.9M206.7 324.5v0.9M208.3 324.5v0.9M209.7 324.5v0.9M210.8 324.5v0.9M211.8 324.5v0.9M212.6 324.5v0.9M213.4 324.5v1.6" stroke="#555" stroke-width=".5" fill="none"/>
<text x="145.8" y="330" font-family="Liberation Sans, sans-serif" font-size="3.6" fill="#333" text-anchor="middle">10<tspan font-size="2.6" dy="-1.5">0</tspan></text>
<text x="162.7" y="330" font-family="Liberation Sans, sans-serif" font-size="3.6" fill="#333" text-anchor="middle">10<tspan font-size="2.6" dy="-1.5">1</tspan></text>
<text x="179.6" y="330" font-family="Liberation Sans, sans-serif" font-size="3.6" fill="#333" text-anchor="middle">10<tspan font-size="2.6" dy="-1.5">2</tspan></text>
<text x="196.5" y="330" font-family="Liberation Sans, sans-serif" font-size="3.6" fill="#333" text-anchor="middle">10<tspan font-size="2.6" dy="-1.5">3</tspan></text>
<text x="213.4" y="330" font-family="Liberation Sans, sans-serif" font-size="3.6" fill="#333" text-anchor="middle">10<tspan font-size="2.6" dy="-1.5">4</tspan></text>
<line x1="144.3" y1="324.5" x2="145.8" y2="324.5" stroke="#777" stroke-width="0.6" />
<text x="142.3" y="324.5" font-family="Liberation Sans, sans-serif" font-size="3.4" fill="#333" text-anchor="middle" transform="rotate(-90 142.3 324.5)">0</text>
<line x1="144.3" y1="315.92" x2="145.8" y2="315.92" stroke="#777" stroke-width="0.6" />
<text x="142.3" y="315.92" font-family="Liberation Sans, sans-serif" font-size="3.4" fill="#333" text-anchor="middle" transform="rotate(-90 142.3 315.92)">20</text>
<line x1="144.3" y1="307.34" x2="145.8" y2="307.34" stroke="#777" stroke-width="0.6" />
<text x="142.3" y="307.34" font-family="Liberation Sans, sans-serif" font-size="3.4" fill="#333" text-anchor="middle" transform="rotate(-90 142.3 307.34)">40</text>
<line x1="144.3" y1="298.76" x2="145.8" y2="298.76" stroke="#777" stroke-width="0.6" />
<text x="142.3" y="298.76" font-family="Liberation Sans, sans-serif" font-size="3.4" fill="#333" text-anchor="middle" transform="rotate(-90 142.3 298.76)">60</text>
<line x1="144.3" y1="290.18" x2="145.8" y2="290.18" stroke="#777" stroke-width="0.6" />
<text x="142.3" y="290.18" font-family="Liberation Sans, sans-serif" font-size="3.4" fill="#333" text-anchor="middle" transform="rotate(-90 142.3 290.18)">80</text>
<line x1="144.3" y1="281.6" x2="145.8" y2="281.6" stroke="#777" stroke-width="0.6" />
<text x="142.3" y="281.6" font-family="Liberation Sans, sans-serif" font-size="3.4" fill="#333" text-anchor="middle" transform="rotate(-90 142.3 281.6)">100</text>
<text x="179.8" y="334.3" font-family="Liberation Sans, sans-serif" font-size="3.8" font-weight="normal" text-anchor="middle" fill="#333" textLength="15.5" lengthAdjust="spacingAndGlyphs" >CCR7-PE</text>
<text x="137.8" y="304" font-family="Liberation Sans, sans-serif" font-size="3.6" fill="#333" text-anchor="middle" textLength="11" lengthAdjust="spacingAndGlyphs" transform="rotate(-90 137.8 304)">Counts</text>
<text x="267.7" y="181.9" font-family="Liberation Serif, serif" font-size="9.6" font-weight="bold" text-anchor="start" fill="#000" textLength="26.1" lengthAdjust="spacingAndGlyphs" stroke="#000" stroke-width="0.22" >0/TNF</text>
<rect x="248.7" y="191.3" width="66" height="67.9" fill="#fff" stroke="#666" stroke-width="0.9"/>
<path d="M266.0 242.0h.8M271.4 241.6h.8M269.3 235.3h.8M267.7 235.8h.8M267.2 240.5h.8M275.1 237.1h.8M266.7 241.5h.8M260.9 248.8h.8M263.3 244.9h.8M274.6 242.9h.8M269.7 242.9h.8M268.7 243.9h.8M267.3 237.8h.8M271.9 238.3h.8M273.2 236.6h.8M271.4 236.5h.8M269.8 248.0h.8M265.4 236.6h.8M263.0 240.5h.8M277.5 237.4h.8M274.4 238.9h.8M267.4 247.8h.8M275.0 232.9h.8M265.8 242.4h.8M273.1 238.9h.8M271.6 241.9h.8M268.6 244.0h.8M266.4 243.5h.8M274.3 240.3h.8M268.7 240.4h.8M260.3 242.7h.8M263.9 234.0h.8M273.6 236.4h.8M271.8 240.1h.8M262.3 238.3h.8M269.0 242.1h.8M270.5 235.6h.8M267.8 241.0h.8M264.5 239.5h.8M267.8 233.0h.8M277.9 242.1h.8M268.1 243.9h.8M265.6 246.4h.8M268.5 241.0h.8M267.6 240.9h.8M271.7 240.1h.8M266.5 243.5h.8M272.7 239.8h.8M274.9 236.8h.8M275.9 238.7h.8M277.0 237.5h.8M269.1 241.1h.8M275.1 244.6h.8M268.2 237.9h.8M273.6 244.1h.8M273.3 238.5h.8M275.9 239.2h.8M271.0 242.3h.8M267.7 232.5h.8M271.2 242.6h.8M272.2 241.8h.8M270.9 243.8h.8M270.7 245.4h.8M270.4 243.0h.8M267.8 241.7h.8M272.1 240.4h.8M277.1 239.3h.8M275.2 240.7h.8M275.1 236.2h.8M268.6 243.9h.8M266.6 242.2h.8M272.7 240.5h.8M272.2 241.8h.8M269.2 241.8h.8M267.9 239.0h.8M263.1 241.0h.8M262.6 241.5h.8M271.1 236.2h.8M270.5 241.2h.8M268.7 237.2h.8M269.7 241.7h.8M274.3 246.5h.8M261.4 242.8h.8M272.1 237.6h.8M271.6 247.4h.8M270.7 245.0h.8M274.9 237.9h.8M259.9 246.0h.8M277.1 232.8h.8M269.3 237.9h.8M271.1 240.3h.8M275.3 237.3h.8M278.8 232.7h.8M271.2 249.6h.8M269.8 242.5h.8M268.1 252.3h.8M274.2 238.3h.8M261.7 242.3h.8M273.5 232.4h.8M268.0 242.6h.8M259.5 241.2h.8M263.1 236.5h.8M272.0 244.0h.8M275.4 237.0h.8M272.5 233.5h.8M263.6 243.2h.8M268.4 236.8h.8M261.9 240.7h.8M280.1 231.4h.8M265.6 245.0h.8M261.7 239.4h.8M270.5 244.2h.8M269.9 246.8h.8M270.1 239.8h.8M272.2 241.1h.8M263.5 237.9h.8M269.2 241.6h.8M264.7 238.5h.8M266.9 242.0h.8M268.3 242.7h.8M271.9 236.6h.8M268.9 236.0h.8M270.7 243.0h.8M265.8 234.6h.8M272.5 238.8h.8M270.1 241.9h.8M271.9 243.3h.8M268.2 232.6h.8M268.0 239.5h.8M268.4 241.9h.8M269.1 245.0h.8M267.4 240.6h.8M268.6 248.1h.8M265.9 237.3h.8M268.5 243.2h.8M270.3 239.6h.8M263.7 233.8h.8M269.2 239.5h.8M278.1 240.3h.8M272.1 243.4h.8M266.2 236.4h.8M268.6 245.8h.8M274.6 237.4h.8M264.6 244.4h.8M275.1 235.5h.8M277.4 236.3h.8M273.6 238.9h.8M268.7 238.2h.8M273.3 241.9h.8M273.8 238.6h.8M266.4 248.5h.8M277.9 238.3h.8M265.1 246.4h.8M270.8 240.3h.8M274.0 240.8h.8M270.7 247.3h.8M261.7 243.9h.8M265.8 241.2h.8M269.4 241.3h.8M259.4 244.4h.8M280.7 237.0h.8M274.3 241.8h.8M271.5 238.2h.8M273.1 240.7h.8M276.7 242.2h.8M267.0 230.2h.8M277.0 240.9h.8M271.0 237.9h.8M281.5 243.2h.8M270.6 238.8h.8M272.8 244.7h.8M272.5 243.2h.8M271.4 241.3h.8M264.5 241.6h.8M270.4 239.9h.8M269.1 241.5h.8M267.6 239.9h.8M264.3 249.5h.8M266.2 236.5h.8M267.8 239.1h.8M265.3 232.2h.8M277.6 242.7h.8M268.5 242.5h.8M265.2 235.2h.8M271.7 242.0h.8M267.1 240.7h.8M256.2 242.0h.8M275.0 240.0h.8M271.0 242.2h.8M260.7 237.1h.8M264.4 242.0h.8M267.3 233.8h.8M274.3 238.9h.8M274.7 246.7h.8M262.7 236.8h.8M275.1 244.5h.8M272.0 241.2h.8M273.4 242.1h.8M264.4 243.8h.8M274.7 238.0h.8M266.0 239.1h.8M267.5 242.5h.8M273.7 239.7h.8M268.8 234.0h.8M268.3 236.9h.8M267.7 241.9h.8M270.9 252.7h.8M266.2 238.9h.8M265.0 240.1h.8M268.9 244.0h.8M261.3 244.9h.8M273.1 237.8h.8M267.1 241.4h.8M272.6 239.2h.8M269.5 240.4h.8M265.2 242.0h.8M272.8 240.0h.8M265.0 241.0h.8M269.7 241.4h.8M268.3 243.5h.8M275.1 242.4h.8M271.3 244.4h.8M270.0 239.6h.8M263.7 241.3h.8M275.7 235.9h.8M273.7 235.1h.8M271.6 246.5h.8M270.4 236.0h.8M271.5 239.5h.8M273.8 237.8h.8M262.3 239.8h.8M272.9 243.5h.8M271.4 240.1h.8M273.3 239.0h.8M268.1 241.4h.8M275.2 237.6h.8M272.5 237.6h.8M266.8 241.4h.8M264.1 238.1h.8M264.7 238.9h.8M266.0 249.2h.8M273.0 240.0h.8M264.1 232.7h.8M272.2 237.6h.8M275.0 238.0h.8M264.2 238.9h.8M263.2 236.3h.8M273.4 237.8h.8M273.3 237.7h.8M269.1 238.4h.8M267.7 238.3h.8M277.0 238.9h.8M261.3 247.7h.8M275.9 243.3h.8M269.7 239.7h.8M268.0 241.0h.8M272.3 239.9h.8M266.4 237.4h.8M277.8 245.0h.8M264.5 238.9h.8M270.0 242.3h.8M269.6 241.1h.8M271.8 244.0h.8M264.2 245.1h.8M272.2 241.8h.8M263.3 240.5h.8M269.0 242.7h.8M273.3 242.1h.8M264.2 245.6h.8M270.5 243.5h.8M270.1 237.7h.8M282.2 240.6h.8M273.6 238.0h.8M269.1 244.3h.8M272.2 246.1h.8M275.6 235.5h.8M263.1 245.4h.8M272.9 238.9h.8M268.8 238.5h.8M278.4 238.3h.8M263.8 244.4h.8M269.8 241.5h.8M268.4 240.4h.8M261.5 243.5h.8M267.0 239.4h.8M271.6 244.5h.8M260.3 241.3h.8M272.6 243.4h.8M266.0 242.0h.8M272.0 243.2h.8M267.3 240.0h.8M267.8 244.6h.8M275.1 237.9h.8M269.5 241.1h.8M266.0 240.5h.8M274.1 242.3h.8M267.0 238.5h.8M269.6 235.2h.8M271.6 240.4h.8M264.0 240.4h.8M267.1 239.8h.8M266.1 245.6h.8M265.7 243.6h.8M271.1 245.1h.8M269.9 240.3h.8M270.4 233.6h.8M281.2 237.7h.8M268.7 236.6h.8M269.5 245.9h.8M266.7 242.3h.8M274.9 242.8h.8M268.3 234.5h.8M272.0 241.9h.8M268.6 239.0h.8M278.2 233.5h.8M267.8 238.5h.8M263.0 239.0h.8M266.5 245.1h.8M262.1 236.8h.8M271.3 234.7h.8M260.9 239.6h.8M264.6 237.8h.8M269.4 241.9h.8M267.1 239.8h.8M273.4 239.2h.8M273.5 237.7h.8M272.4 244.3h.8M263.8 251.6h.8M268.6 239.3h.8M269.4 242.0h.8M264.6 241.3h.8M267.4 245.6h.8M262.2 243.8h.8M268.7 237.9h.8M270.7 239.3h.8M270.3 241.0h.8M275.6 238.0h.8M277.8 229.7h.8M278.5 243.1h.8M277.3 239.8h.8M271.4 236.6h.8M276.3 235.3h.8M266.5 240.8h.8M271.2 241.3h.8M264.8 239.9h.8M272.4 244.0h.8M273.6 241.1h.8M268.9 238.6h.8M267.8 240.3h.8M272.5 238.1h.8M279.6 235.3h.8M273.9 239.0h.8M269.5 239.1h.8M277.2 238.1h.8M272.6 240.3h.8M273.6 241.7h.8M277.7 236.5h.8M266.3 246.7h.8M276.0 239.6h.8M268.8 241.3h.8M276.1 236.7h.8M276.8 239.0h.8M268.5 239.2h.8M260.5 242.9h.8M264.1 239.3h.8M266.0 241.7h.8M273.4 239.9h.8M271.0 241.5h.8M277.5 241.1h.8M277.3 238.9h.8M271.7 237.8h.8M272.8 236.9h.8M272.3 237.8h.8M268.5 244.7h.8M270.8 242.9h.8M269.0 234.1h.8M276.9 238.6h.8M267.1 244.0h.8M264.9 238.6h.8M275.4 237.0h.8M275.3 238.4h.8M269.1 240.7h.8M267.8 244.3h.8M275.1 239.7h.8M272.9 241.7h.8M277.8 233.6h.8M274.8 242.6h.8M268.7 240.5h.8M268.5 244.8h.8M264.9 243.2h.8M276.0 241.3h.8M267.9 239.1h.8M260.4 238.3h.8M275.1 236.2h.8M262.6 240.6h.8M263.3 242.9h.8M266.1 244.2h.8M269.6 235.5h.8M266.6 238.6h.8M266.3 245.1h.8M265.5 242.3h.8M267.4 242.7h.8M263.6 236.0h.8M272.5 244.8h.8M263.8 240.2h.8M267.8 237.5h.8M274.6 239.7h.8M263.8 240.6h.8M276.2 236.9h.8M267.8 237.8h.8M270.9 238.3h.8M274.2 236.8h.8M263.4 242.9h.8M255.6 239.4h.8M271.4 240.9h.8M267.5 239.2h.8M272.5 252.6h.8M266.4 240.3h.8M268.0 242.5h.8M270.2 242.2h.8M277.6 238.1h.8M268.8 241.8h.8M279.7 237.5h.8M277.9 243.1h.8M257.6 238.9h.8M265.6 242.4h.8M276.2 239.5h.8M270.9 247.6h.8M271.8 247.4h.8M266.0 246.6h.8M267.8 232.4h.8M266.3 239.3h.8M269.9 242.9h.8M273.3 241.5h.8M266.7 246.9h.8M275.6 239.5h.8M267.5 240.5h.8M269.1 238.1h.8M270.1 238.0h.8M273.1 237.6h.8M272.4 241.0h.8M270.9 241.9h.8M265.4 249.8h.8M267.0 243.3h.8M270.2 238.8h.8M278.1 242.8h.8M268.9 242.4h.8M273.3 245.2h.8M274.8 238.9h.8M269.0 236.5h.8M271.3 243.0h.8M268.3 242.8h.8M270.7 238.6h.8M264.5 245.0h.8M281.8 240.3h.8M265.2 237.5h.8M271.3 242.3h.8M277.1 230.9h.8M278.6 239.5h.8M270.8 241.5h.8M268.5 239.5h.8M275.0 233.5h.8M269.6 242.3h.8M262.6 240.9h.8M277.2 240.4h.8M273.4 242.2h.8M271.2 241.3h.8M266.4 240.1h.8M278.6 234.7h.8M269.4 236.0h.8M267.7 238.0h.8M264.5 242.0h.8M265.8 242.8h.8M278.5 230.1h.8M269.4 233.2h.8M269.6 241.6h.8M271.1 244.3h.8M270.9 234.2h.8M277.1 235.9h.8M269.7 241.4h.8M266.1 241.2h.8M277.0 233.4h.8M262.5 240.0h.8M269.4 236.0h.8M259.6 245.1h.8M272.0 235.4h.8M272.8 239.6h.8M270.9 235.5h.8M269.2 242.1h.8M262.1 237.9h.8M274.6 246.4h.8M273.2 239.5h.8M265.2 239.7h.8M269.0 242.0h.8M269.0 249.0h.8M276.3 231.7h.8M264.8 241.1h.8M274.7 240.9h.8M257.5 236.6h.8M276.4 241.3h.8M282.0 241.1h.8M272.3 245.2h.8M268.1 238.7h.8M265.5 241.9h.8M272.2 243.2h.8M276.8 241.3h.8M275.9 238.5h.8M265.7 243.5h.8M274.9 244.1h.8M269.4 238.7h.8M268.5 241.8h.8M270.0 239.6h.8M271.4 239.0h.8M271.7 237.9h.8M263.1 240.3h.8M278.9 236.0h.8M274.4 244.2h.8M267.7 241.5h.8M259.7 243.9h.8M277.3 239.7h.8M261.0 239.7h.8M266.8 241.2h.8M271.5 238.6h.8M268.8 237.6h.8M272.8 240.5h.8M271.8 238.2h.8M272.5 238.8h.8M271.6 239.5h.8M267.1 236.9h.8M261.6 236.9h.8M272.3 251.2h.8M262.6 238.6h.8M270.1 252.6h.8M269.2 236.3h.8M272.1 247.2h.8M257.3 238.2h.8M275.9 235.3h.8M269.7 238.1h.8M273.7 234.6h.8M271.6 240.8h.8M272.8 241.3h.8M270.9 233.9h.8M268.7 237.2h.8M272.6 239.0h.8M270.9 244.0h.8M269.7 246.2h.8M274.0 234.4h.8M267.5 244.9h.8M267.9 244.8h.8M267.6 240.2h.8M274.9 234.0h.8M270.5 238.6h.8M271.0 246.1h.8M272.5 235.1h.8M274.6 237.9h.8M271.0 244.1h.8M268.8 243.8h.8M271.0 236.9h.8M268.8 235.7h.8M275.6 239.9h.8M274.7 235.6h.8M274.1 235.4h.8M271.5 240.0h.8M267.5 241.7h.8M270.4 237.2h.8M266.8 236.2h.8M276.5 239.7h.8M268.5 242.9h.8M266.2 236.8h.8M271.8 245.5h.8M271.6 240.5h.8M278.2 233.5h.8M284.3 234.1h.8M269.9 235.6h.8M264.6 240.3h.8M281.5 235.1h.8M267.4 241.6h.8M265.5 240.1h.8M274.0 232.0h.8M268.8 239.4h.8M267.8 240.2h.8M261.9 240.0h.8M267.8 237.0h.8M276.0 246.3h.8M273.9 236.6h.8M276.7 240.9h.8M266.4 242.9h.8M267.5 242.6h.8M274.4 243.6h.8M265.3 240.5h.8M270.2 235.9h.8M272.1 242.3h.8M263.8 239.3h.8M265.1 236.6h.8M265.3 245.8h.8M267.1 239.3h.8M274.8 243.1h.8M276.7 231.9h.8M273.7 233.5h.8M267.3 239.2h.8M267.6 247.5h.8M269.4 244.5h.8M269.4 240.1h.8M272.6 241.4h.8M272.5 233.7h.8M272.5 241.0h.8M273.0 239.6h.8M272.1 235.3h.8M275.4 235.1h.8M276.7 242.7h.8M269.9 239.2h.8M273.8 238.6h.8M264.7 242.1h.8M264.6 239.5h.8M278.5 241.7h.8M268.1 240.3h.8M267.2 240.6h.8M263.5 243.7h.8M270.3 238.0h.8M267.4 249.9h.8M268.2 238.9h.8M267.5 238.9h.8M276.2 241.6h.8M272.1 241.2h.8M265.0 232.5h.8M277.1 241.6h.8M271.2 241.0h.8M271.1 240.1h.8M269.0 232.5h.8M272.8 239.9h.8M274.7 240.6h.8M268.9 242.5h.8M271.1 238.5h.8M268.5 239.0h.8M268.8 238.9h.8M274.7 249.8h.8M269.7 244.2h.8M261.1 230.3h.8M268.0 240.0h.8M266.8 236.0h.8M266.3 239.0h.8M270.9 238.9h.8M264.7 239.8h.8M277.2 236.0h.8M270.5 243.7h.8M266.5 238.8h.8M283.5 242.4h.8M267.8 241.2h.8M270.7 240.6h.8M272.3 238.8h.8M260.0 238.5h.8M270.9 235.3h.8M268.7 245.7h.8M271.3 237.7h.8M270.8 243.8h.8M262.3 237.1h.8M267.2 239.1h.8M269.8 238.2h.8M270.7 240.4h.8M264.8 238.9h.8M264.5 242.1h.8M271.4 242.3h.8M266.2 239.0h.8M260.0 241.9h.8M262.8 242.6h.8M275.2 241.0h.8M273.1 240.5h.8M271.9 243.2h.8M276.0 246.4h.8M269.0 243.3h.8M274.2 241.1h.8M271.4 235.5h.8M275.2 236.3h.8M267.2 237.7h.8M272.8 236.4h.8M272.3 241.8h.8M270.7 238.9h.8M272.9 244.4h.8M268.1 236.8h.8M267.4 237.6h.8M269.1 239.8h.8M259.6 247.0h.8M266.5 239.3h.8M261.2 234.7h.8M265.5 241.8h.8M274.1 233.2h.8M271.2 245.4h.8M268.9 243.6h.8M271.6 236.7h.8M274.8 237.3h.8M271.8 238.5h.8M269.2 240.9h.8M276.3 233.3h.8M265.1 241.4h.8M274.7 238.8h.8M269.3 242.2h.8M277.4 235.9h.8M262.9 240.4h.8M273.7 235.0h.8M275.4 242.7h.8M273.8 236.6h.8M264.3 243.5h.8M271.4 242.4h.8M264.0 230.8h.8M275.3 242.9h.8M268.9 240.4h.8M272.3 242.5h.8M269.3 238.5h.8M265.7 244.5h.8M270.7 228.2h.8M271.8 237.9h.8M264.4 239.3h.8M264.3 239.6h.8M267.7 242.4h.8M265.6 234.6h.8M267.4 235.8h.8M273.6 238.9h.8M262.5 238.4h.8M270.1 240.1h.8M261.7 241.1h.8M271.6 243.4h.8M275.2 239.0h.8M264.2 239.8h.8M273.2 236.5h.8M276.0 235.9h.8M265.0 243.9h.8M269.7 241.4h.8M268.8 240.5h.8M267.5 247.3h.8M273.2 239.3h.8M272.4 242.8h.8M267.8 241.2h.8M271.1 238.1h.8M266.6 240.1h.8M268.8 239.0h.8M261.3 241.9h.8M273.2 240.0h.8M278.1 242.0h.8M268.6 238.1h.8M272.5 238.5h.8M262.8 241.8h.8M268.8 239.6h.8M273.0 240.4h.8M279.5 236.1h.8M269.8 241.4h.8M268.2 238.7h.8M278.2 233.8h.8M271.8 233.8h.8M271.7 233.2h.8M264.8 245.0h.8M277.3 239.5h.8M257.7 245.8h.8M271.3 236.1h.8M268.6 235.8h.8M269.8 240.0h.8M270.8 242.9h.8M267.2 232.9h.8M264.8 236.7h.8M268.5 238.9h.8M270.0 245.0h.8M270.3 236.4h.8M268.8 237.4h.8M269.1 242.4h.8M265.0 243.5h.8M278.4 244.2h.8M277.6 239.3h.8M264.0 248.2h.8M270.0 241.0h.8M268.6 237.2h.8M273.0 234.9h.8M263.9 243.1h.8M268.5 237.5h.8M272.5 244.8h.8M268.9 239.9h.8M272.8 243.1h.8M274.9 241.8h.8M267.2 242.5h.8M270.2 234.3h.8M275.9 241.3h.8M276.5 239.0h.8M273.5 239.4h.8M270.9 243.3h.8M270.5 242.3h.8M270.0 244.5h.8M273.2 233.9h.8M277.8 240.5h.8M267.9 238.4h.8M279.3 239.0h.8M272.5 241.9h.8M267.5 246.7h.8M279.8 235.9h.8M275.4 233.7h.8M268.7 240.7h.8M270.4 242.1h.8M272.0 241.2h.8M269.6 241.4h.8M267.7 247.5h.8M270.5 244.5h.8M270.7 239.6h.8M269.4 235.8h.8M279.7 240.1h.8M270.8 238.5h.8M276.1 238.1h.8M268.1 238.7h.8M277.3 240.1h.8M269.5 238.1h.8M276.1 240.3h.8M268.7 243.6h.8M274.2 236.1h.8M275.5 243.1h.8M269.1 235.8h.8M275.2 238.2h.8M269.3 239.4h.8M269.0 243.3h.8M265.2 242.9h.8M275.5 243.0h.8M273.5 240.6h.8M269.3 239.9h.8M266.2 246.6h.8M269.7 236.8h.8M274.0 244.8h.8M271.5 238.9h.8M265.2 243.3h.8M269.1 238.1h.8M273.0 235.3h.8M273.6 231.2h.8M267.4 235.7h.8M269.1 243.1h.8M264.3 245.9h.8M267.1 239.0h.8M274.7 237.0h.8M276.8 238.4h.8M269.8 236.9h.8M275.5 239.1h.8M268.0 237.3h.8M267.4 240.3h.8M267.0 243.5h.8M270.1 238.1h.8M272.3 244.8h.8M260.8 243.0h.8M275.1 239.9h.8M274.0 234.3h.8M266.9 244.2h.8M269.8 240.5h.8M273.1 241.0h.8M272.3 238.2h.8M268.9 244.9h.8M268.0 235.6h.8M268.7 243.5h.8M278.4 239.4h.8M267.5 242.7h.8M271.6 244.0h.8M272.6 242.4h.8M272.6 241.3h.8M266.2 240.3h.8M277.5 243.6h.8M274.6 240.9h.8M269.8 241.5h.8M268.8 244.2h.8M268.9 237.8h.8M263.0 246.7h.8M266.9 237.8h.8M272.1 246.1h.8M273.3 238.6h.8M272.8 236.9h.8M269.2 240.5h.8M270.4 242.9h.8M272.7 246.3h.8M274.0 238.6h.8M271.5 237.1h.8M267.6 239.5h.8M274.9 237.1h.8M263.3 237.8h.8M264.9 240.4h.8M269.0 236.4h.8M266.8 239.3h.8M272.1 242.0h.8M276.2 238.4h.8M273.1 240.0h.8M265.4 238.8h.8M280.1 238.1h.8M277.7 241.8h.8M277.8 238.3h.8M274.5 238.5h.8M265.4 237.0h.8M272.3 234.4h.8M272.0 236.9h.8M271.9 235.2h.8M274.1 238.8h.8M263.5 236.4h.8M270.6 234.5h.8M271.8 241.6h.8M267.4 245.4h.8M276.8 240.2h.8M272.4 241.5h.8M269.2 244.9h.8M268.0 232.0h.8M270.5 241.7h.8M274.0 235.8h.8M276.6 236.4h.8M273.2 242.2h.8M271.2 243.9h.8M268.2 247.6h.8M272.6 238.4h.8M282.0 238.3h.8M263.2 246.2h.8M277.3 237.1h.8M266.0 244.8h.8M270.6 236.8h.8M268.2 240.8h.8M274.8 244.8h.8M267.6 245.9h.8M263.7 243.7h.8M269.8 241.8h.8M268.4 238.1h.8M271.6 243.8h.8M260.5 241.9h.8M268.6 236.8h.8M264.4 242.9h.8M272.9 242.0h.8M261.5 236.4h.8M267.7 239.1h.8M278.2 237.6h.8M271.0 243.5h.8M277.8 240.3h.8M271.9 246.6h.8M268.6 234.3h.8M267.0 239.6h.8M276.2 240.3h.8M275.7 239.7h.8M270.6 238.2h.8M264.9 242.8h.8M272.0 241.9h.8M268.0 239.1h.8M272.1 242.0h.8M279.3 235.8h.8M274.8 242.5h.8M269.2 240.8h.8M270.1 245.5h.8M281.7 239.5h.8M269.3 243.6h.8M272.6 239.2h.8M273.7 242.6h.8M268.6 243.4h.8M260.4 237.4h.8M269.0 240.9h.8M263.9 246.3h.8M268.7 241.0h.8M270.2 242.8h.8M267.8 243.1h.8M266.7 235.7h.8M272.7 240.4h.8M274.3 232.9h.8M270.9 237.9h.8M269.6 239.0h.8M268.7 238.1h.8M274.9 233.5h.8M263.0 242.6h.8M279.3 236.1h.8M266.4 236.8h.8M265.9 245.2h.8M273.4 242.8h.8M271.9 240.7h.8M267.8 237.3h.8M273.2 248.3h.8M268.8 244.8h.8M267.3 240.8h.8M277.9 238.7h.8M273.2 237.8h.8M278.8 234.6h.8M272.9 239.0h.8M271.3 241.3h.8M276.2 242.2h.8M275.1 240.7h.8M265.6 245.6h.8M277.2 240.7h.8M273.9 238.8h.8M264.0 244.6h.8M267.2 247.3h.8M273.5 239.6h.8M267.7 241.0h.8M265.9 239.6h.8M277.5 238.0h.8M278.6 238.5h.8M272.2 236.7h.8M269.1 238.9h.8M264.2 247.8h.8M273.0 239.5h.8M265.5 241.1h.8M265.7 237.6h.8M269.5 247.8h.8M262.6 243.4h.8M268.0 230.6h.8M264.1 240.7h.8M270.7 237.5h.8M278.3 240.8h.8M267.6 235.0h.8M271.2 237.7h.8M274.9 235.8h.8M275.7 237.7h.8M271.2 239.1h.8M273.2 243.7h.8M268.0 237.5h.8M278.8 242.1h.8M278.9 242.1h.8M271.0 245.7h.8M267.4 239.2h.8M268.6 242.8h.8M266.6 240.2h.8M266.6 240.0h.8M275.4 243.2h.8M269.4 249.1h.8M267.2 242.3h.8M268.2 232.9h.8M265.1 245.3h.8M263.0 251.5h.8M269.8 241.2h.8M276.0 239.4h.8M267.5 238.5h.8M266.2 242.8h.8M268.3 242.3h.8M263.6 239.8h.8M279.6 240.0h.8M269.9 244.4h.8M271.6 245.3h.8M265.2 243.7h.8M265.6 243.3h.8M281.3 243.7h.8M266.5 242.3h.8M272.4 237.4h.8M271.4 236.3h.8M274.7 242.7h.8M269.6 242.7h.8M281.0 237.9h.8M262.0 242.7h.8M268.3 237.8h.8M274.4 243.0h.8M273.0 245.4h.8M267.5 239.2h.8M272.2 230.5h.8M258.1 243.3h.8M269.4 240.5h.8M266.0 241.7h.8M275.1 237.2h.8M272.9 239.2h.8M269.6 240.7h.8M277.1 240.9h.8M273.4 240.2h.8M260.7 245.0h.8M270.2 240.5h.8M268.1 235.2h.8M277.0 245.5h.8M277.4 232.7h.8M272.8 235.7h.8M269.5 238.5h.8M267.5 238.0h.8M268.2 243.2h.8M277.5 242.2h.8M270.3 239.7h.8M269.2 240.3h.8M267.5 240.0h.8M274.1 238.8h.8M266.7 240.4h.8M270.7 239.9h.8M269.1 242.8h.8M270.1 236.7h.8M272.8 237.3h.8M273.8 242.5h.8M272.5 240.9h.8M264.3 240.5h.8M270.9 242.3h.8M265.3 240.5h.8M263.4 241.9h.8M270.6 240.6h.8M277.7 241.5h.8M269.4 238.3h.8M268.3 243.2h.8M274.4 237.8h.8M269.8 238.8h.8M273.4 240.4h.8M267.0 237.6h.8M276.1 234.4h.8M262.1 230.8h.8M279.4 236.9h.8M274.1 241.5h.8M274.1 243.5h.8M268.2 240.5h.8M274.7 241.4h.8M266.9 238.1h.8M263.8 242.1h.8M267.9 235.2h.8M267.8 241.7h.8M271.1 239.3h.8M271.0 242.3h.8M264.9 238.2h.8M274.7 242.0h.8M264.0 238.7h.8M276.8 241.8h.8M269.6 243.8h.8M276.5 244.1h.8M264.0 236.7h.8M268.0 240.4h.8M268.7 241.3h.8M277.0 242.9h.8M274.8 239.5h.8M277.8 240.6h.8M271.4 240.0h.8M262.0 249.0h.8M270.2 243.3h.8M280.5 237.9h.8M265.0 244.6h.8M271.4 236.7h.8M274.7 239.5h.8M266.0 232.1h.8M265.8 242.2h.8M265.6 244.3h.8M280.3 239.7h.8M271.3 239.8h.8M274.2 239.7h.8M275.0 244.4h.8M274.2 236.2h.8M273.3 238.8h.8M271.7 243.3h.8M267.3 241.4h.8M276.9 236.2h.8M269.4 242.8h.8M269.2 243.9h.8M265.7 235.7h.8M272.0 239.4h.8M271.7 243.3h.8M275.1 238.2h.8M268.5 233.8h.8M265.9 241.8h.8M271.3 234.9h.8M273.9 239.5h.8M275.3 238.2h.8M274.7 235.7h.8M261.9 238.8h.8M273.5 241.1h.8M261.7 242.1h.8M273.3 245.5h.8M273.8 241.4h.8M263.1 242.6h.8M261.3 240.6h.8M268.6 237.1h.8M265.7 240.5h.8M272.9 237.5h.8M271.7 242.4h.8M270.2 246.8h.8M268.9 237.9h.8M261.6 245.3h.8M273.4 239.1h.8M271.7 239.5h.8M274.2 239.5h.8M271.3 239.8h.8M266.3 233.2h.8M272.8 235.5h.8M272.1 242.1h.8M278.8 236.3h.8M271.0 243.4h.8M267.2 238.7h.8M272.3 247.0h.8M275.2 242.7h.8M265.9 243.2h.8M275.5 235.0h.8M270.3 239.5h.8M273.2 233.7h.8M273.5 239.7h.8M269.1 233.1h.8M260.8 239.8h.8M273.2 241.2h.8M273.7 233.8h.8M271.2 244.7h.8M263.2 243.6h.8M267.0 242.6h.8M270.7 234.5h.8M265.5 245.3h.8M269.8 244.5h.8M271.8 243.0h.8M268.5 241.2h.8M268.6 243.6h.8M267.7 244.4h.8M277.4 234.9h.8M269.5 242.2h.8M278.4 242.8h.8M270.7 234.2h.8M274.1 237.6h.8M271.2 241.4h.8M263.9 244.9h.8M274.4 241.5h.8M273.0 241.0h.8M263.9 239.5h.8M274.0 238.5h.8M270.4 241.5h.8M270.7 241.0h.8M272.5 239.8h.8M265.3 240.1h.8M274.6 237.2h.8M272.4 240.9h.8M266.3 231.2h.8M270.2 237.6h.8M267.4 243.9h.8M266.8 242.0h.8M270.8 240.8h.8M279.3 232.0h.8M274.7 239.0h.8M269.0 238.1h.8M270.4 240.3h.8M266.1 246.5h.8M266.9 240.3h.8M264.5 241.6h.8M271.9 243.6h.8M274.7 237.8h.8M277.6 238.7h.8M277.3 244.9h.8M268.4 236.8h.8M272.7 244.7h.8M272.1 243.7h.8M273.0 242.8h.8M276.3 238.2h.8M263.8 240.8h.8M266.7 236.7h.8M269.5 242.8h.8M261.9 236.4h.8M273.9 236.6h.8M268.5 245.1h.8M275.4 240.6h.8M272.7 230.5h.8M272.8 241.1h.8M263.9 241.8h.8M272.3 239.5h.8M273.9 242.6h.8M270.5 239.3h.8M264.9 245.0h.8M267.7 241.7h.8M277.2 241.7h.8M264.5 240.8h.8M267.0 235.1h.8M266.6 242.8h.8M271.8 239.2h.8M271.1 236.1h.8M266.8 240.2h.8M273.9 238.5h.8M269.5 241.5h.8M276.9 234.8h.8M272.7 240.4h.8M269.9 241.1h.8M261.3 241.7h.8M269.2 236.2h.8M274.1 239.2h.8M268.7 243.0h.8M266.1 238.4h.8M274.0 242.6h.8M279.4 237.2h.8M263.7 236.2h.8M264.8 241.4h.8M269.2 238.1h.8M265.7 238.6h.8M268.6 244.5h.8M273.1 244.4h.8M274.0 242.2h.8M275.6 240.9h.8M277.2 242.9h.8M278.5 239.6h.8M266.7 249.3h.8M269.0 242.2h.8M268.5 238.1h.8M272.2 236.1h.8M269.5 245.1h.8M270.8 242.9h.8M273.1 241.0h.8M270.7 242.2h.8M265.9 242.9h.8M265.4 238.4h.8M267.6 236.1h.8M261.3 242.9h.8M272.5 242.1h.8M280.3 239.2h.8M273.6 237.1h.8M273.5 235.8h.8M279.2 235.5h.8M268.4 243.0h.8M260.3 246.4h.8M265.9 241.6h.8M274.7 240.0h.8M274.5 237.8h.8M272.9 232.3h.8M277.1 236.8h.8M266.3 240.9h.8M277.9 236.6h.8M270.1 239.0h.8M266.0 236.4h.8M272.9 242.2h.8M266.8 241.5h.8M272.3 241.2h.8M269.5 240.5h.8M271.5 236.4h.8M269.6 243.0h.8M267.7 245.1h.8M269.1 236.6h.8M268.9 235.8h.8M273.0 234.3h.8M270.3 239.4h.8M268.8 241.9h.8M271.5 238.1h.8M273.9 238.1h.8M274.3 244.1h.8M271.9 243.1h.8M264.2 243.1h.8M263.5 240.7h.8M273.4 230.5h.8M266.7 238.1h.8M266.0 241.0h.8M273.1 235.8h.8M267.4 234.3h.8M267.0 233.6h.8M263.4 242.9h.8M274.2 236.8h.8M271.8 237.3h.8M275.1 245.4h.8M259.1 239.0h.8M267.3 239.0h.8M277.3 244.4h.8M270.2 242.4h.8M263.0 240.3h.8M268.9 239.9h.8M271.6 234.7h.8M265.5 248.3h.8M262.3 241.7h.8M273.5 241.3h.8M270.5 234.7h.8M268.1 235.2h.8M279.1 240.0h.8M273.5 240.4h.8M268.4 244.5h.8M274.2 241.7h.8M272.9 242.3h.8M268.9 241.9h.8M270.6 239.3h.8M273.1 247.0h.8M261.0 246.6h.8M268.2 244.6h.8M265.6 240.3h.8M274.9 239.2h.8M271.8 235.8h.8M265.0 246.7h.8M270.9 239.8h.8M263.9 237.7h.8M265.5 240.8h.8M269.7 238.2h.8M267.2 241.1h.8M275.5 234.6h.8M263.8 245.1h.8M263.7 239.8h.8M270.7 246.3h.8M260.9 231.8h.8M269.8 243.9h.8M270.9 237.3h.8M271.1 233.0h.8M273.9 244.7h.8M269.3 243.2h.8M265.4 246.0h.8M267.3 237.9h.8M266.7 234.7h.8M273.3 246.6h.8M263.7 240.6h.8M272.2 237.9h.8M263.1 242.5h.8M274.8 239.8h.8M265.3 240.0h.8M261.4 241.4h.8M275.7 243.1h.8M269.8 241.7h.8M267.8 241.0h.8M267.5 241.2h.8M267.9 241.2h.8M273.4 239.6h.8M264.3 242.9h.8M269.1 238.7h.8M272.8 236.9h.8M274.4 241.4h.8M267.1 238.3h.8M269.7 237.2h.8M274.5 231.8h.8M270.9 238.9h.8M265.2 243.2h.8M268.0 242.1h.8M268.2 239.6h.8M272.6 243.1h.8M274.7 239.4h.8M276.9 238.0h.8M264.0 234.8h.8M263.7 238.3h.8M262.1 242.6h.8M270.4 240.1h.8M271.3 239.7h.8M269.1 239.3h.8M270.4 236.3h.8M276.0 244.5h.8M270.4 248.0h.8M280.5 232.3h.8M276.6 231.1h.8M281.8 232.7h.8M286.9 232.0h.8M289.8 229.4h.8M284.6 235.5h.8M288.3 229.4h.8M294.7 224.9h.8M296.5 231.8h.8M286.7 219.3h.8M293.4 224.7h.8M286.8 227.6h.8M291.8 229.8h.8M275.5 224.5h.8M288.3 227.7h.8M290.9 229.6h.8M295.8 222.3h.8M293.9 228.3h.8M288.0 230.4h.8M284.2 231.0h.8M285.0 230.9h.8M281.7 233.6h.8M277.2 224.4h.8M285.9 228.3h.8M281.5 225.3h.8M287.7 232.4h.8M293.9 223.8h.8M285.8 225.4h.8M277.2 225.5h.8M292.9 219.3h.8M303.1 230.6h.8M296.4 227.0h.8M272.6 230.6h.8M295.6 223.1h.8M293.7 230.3h.8M290.9 230.5h.8M289.7 230.1h.8M293.3 228.6h.8M290.0 228.9h.8M287.1 222.3h.8M275.7 222.7h.8M278.9 219.9h.8M290.3 224.9h.8M293.7 242.8h.8M290.8 224.1h.8M288.5 225.7h.8M287.9 237.8h.8M295.7 232.9h.8M287.9 236.3h.8M291.1 231.3h.8M279.4 224.4h.8M287.2 225.8h.8M283.2 216.7h.8M281.8 226.9h.8M288.1 221.2h.8M285.5 236.6h.8M287.2 216.6h.8M285.2 227.1h.8M293.7 227.3h.8M294.3 228.0h.8M293.2 233.5h.8M295.3 227.2h.8M290.0 247.4h.8M279.1 228.7h.8M289.1 223.0h.8M291.1 225.7h.8M290.9 227.6h.8M280.8 233.1h.8M298.1 230.8h.8M287.9 217.8h.8M288.2 226.7h.8M281.6 217.3h.8M288.9 231.9h.8M290.5 238.7h.8M275.1 229.9h.8M286.1 234.6h.8M286.1 221.9h.8M285.9 229.4h.8M281.9 223.3h.8M287.8 231.5h.8M284.9 229.7h.8M283.3 225.5h.8M287.4 232.0h.8M295.6 225.5h.8M288.9 237.2h.8M291.2 224.7h.8M288.7 219.3h.8M273.9 224.1h.8M282.1 220.3h.8M292.3 224.1h.8M286.8 227.4h.8M285.1 220.9h.8M297.7 215.5h.8M286.1 230.7h.8M285.1 226.6h.8M288.1 228.1h.8M284.3 232.9h.8M289.3 234.7h.8M286.8 216.4h.8M276.6 225.2h.8M289.0 218.1h.8M283.0 233.9h.8M288.2 223.1h.8M285.6 227.7h.8M283.8 225.6h.8M282.6 228.5h.8M295.6 233.9h.8M279.0 240.0h.8M285.6 219.7h.8M277.6 228.6h.8M287.7 223.5h.8M281.6 226.3h.8M287.8 230.5h.8M289.6 214.1h.8M282.8 228.7h.8M288.5 231.1h.8M277.6 236.2h.8M279.3 226.6h.8M283.6 224.8h.8M281.8 231.8h.8M290.9 228.5h.8M278.9 224.4h.8M286.0 229.2h.8M283.1 225.9h.8M301.6 225.9h.8M284.6 214.1h.8M281.9 236.1h.8M291.2 220.2h.8M290.9 227.5h.8M281.7 231.7h.8M282.7 225.8h.8M286.4 228.1h.8M283.8 228.8h.8M286.3 228.1h.8M288.6 223.4h.8M278.3 227.4h.8M293.5 228.1h.8M287.6 223.0h.8M279.6 221.1h.8M281.0 225.5h.8M277.3 227.2h.8M277.1 231.3h.8M286.2 217.7h.8M283.1 228.6h.8M288.5 230.9h.8M284.3 226.4h.8M284.9 230.0h.8M282.3 226.5h.8M287.2 225.1h.8M280.0 234.8h.8M289.2 221.9h.8M297.7 221.9h.8M281.2 225.6h.8M289.4 234.7h.8M294.3 229.2h.8M286.7 230.5h.8M281.7 223.7h.8M289.4 227.8h.8M287.7 221.5h.8M287.7 219.3h.8M291.7 226.6h.8M282.6 224.9h.8M302.5 242.1h.8M282.2 234.7h.8M269.5 234.6h.8M286.4 228.4h.8M280.7 220.6h.8M287.7 224.5h.8M289.2 232.4h.8M285.6 229.9h.8M287.3 228.2h.8M283.3 228.6h.8M288.8 227.2h.8M283.7 219.6h.8M280.1 235.9h.8M292.2 228.0h.8M288.0 226.1h.8M290.3 231.8h.8M284.9 228.8h.8M291.9 218.1h.8M280.9 224.5h.8M279.6 225.3h.8M281.4 225.4h.8M289.1 220.5h.8M286.9 234.3h.8M287.4 220.4h.8M282.8 233.6h.8M284.8 223.8h.8M290.9 222.8h.8M279.9 230.9h.8M286.4 223.6h.8M289.0 232.6h.8M292.6 227.0h.8M289.0 229.4h.8M277.7 236.7h.8M282.5 224.4h.8M281.6 222.4h.8M292.7 226.5h.8M283.0 217.6h.8M287.3 226.7h.8M280.4 227.1h.8M275.7 231.5h.8M279.3 230.3h.8M286.9 215.7h.8M279.8 224.2h.8M290.9 229.8h.8M290.0 235.6h.8M284.7 224.5h.8M275.5 222.6h.8M289.6 222.3h.8M281.3 232.6h.8M272.1 235.8h.8M293.8 216.8h.8M289.0 226.7h.8M291.6 224.8h.8M285.6 234.6h.8M282.9 229.6h.8M290.0 226.1h.8M291.4 229.3h.8M291.1 217.6h.8M280.3 229.2h.8M293.1 234.0h.8M286.4 223.1h.8M280.0 217.3h.8M283.4 230.4h.8M285.9 219.2h.8M285.8 227.4h.8M282.0 235.2h.8M288.8 232.6h.8M286.9 221.8h.8M292.6 232.3h.8M283.0 220.3h.8M291.0 223.6h.8M279.6 227.2h.8M289.5 222.8h.8M286.5 232.3h.8M290.6 218.4h.8M290.5 236.1h.8M291.6 226.1h.8M288.5 218.5h.8M283.0 224.6h.8M298.3 225.9h.8M280.7 236.5h.8M293.4 217.6h.8M285.2 218.2h.8M292.3 214.4h.8M297.0 220.4h.8M280.3 238.8h.8M289.4 228.6h.8M291.3 221.3h.8M291.4 225.1h.8M289.3 228.0h.8M294.3 219.5h.8M278.3 231.3h.8M299.9 228.7h.8M285.4 230.7h.8M279.4 228.2h.8M276.7 228.6h.8M290.5 235.7h.8M283.4 232.3h.8M294.0 220.8h.8M284.8 217.3h.8M281.3 229.8h.8M274.7 226.5h.8M290.5 234.3h.8M272.0 230.4h.8M282.8 215.1h.8M280.5 230.7h.8M286.2 230.8h.8M284.6 230.7h.8M280.7 222.4h.8M285.4 217.8h.8M293.4 225.1h.8M280.7 223.0h.8M280.8 228.2h.8M284.2 231.8h.8M279.7 227.3h.8M277.7 225.4h.8M294.1 225.7h.8M291.4 226.2h.8M280.1 222.9h.8M279.9 229.5h.8M287.7 242.6h.8M295.9 230.7h.8M280.7 228.2h.8M281.1 240.1h.8M282.2 233.7h.8M278.6 231.9h.8M279.3 225.2h.8M287.3 227.7h.8M286.0 226.7h.8M281.4 226.9h.8M285.9 222.1h.8M289.6 227.7h.8M282.0 234.4h.8M283.0 217.2h.8M293.6 224.4h.8M294.7 228.6h.8M281.2 233.5h.8M288.9 231.7h.8M286.5 235.4h.8M291.6 224.8h.8M277.7 227.6h.8M286.7 221.7h.8M285.2 235.2h.8M283.6 233.3h.8M280.9 222.3h.8M291.7 225.6h.8M287.6 232.4h.8M295.6 219.5h.8M289.6 227.9h.8M287.1 236.6h.8M284.9 224.0h.8M289.2 215.9h.8M288.4 222.1h.8M288.2 222.9h.8M289.2 225.4h.8M282.2 230.3h.8M290.6 218.0h.8M278.9 226.3h.8M284.1 234.3h.8M295.4 228.7h.8M292.6 224.7h.8M278.4 229.4h.8M276.2 236.7h.8M287.8 233.1h.8M282.6 218.7h.8M285.1 229.8h.8M285.0 224.4h.8M286.7 226.0h.8M294.3 219.3h.8M273.6 227.7h.8M287.8 218.7h.8M286.0 229.4h.8M288.2 228.5h.8M282.0 219.7h.8M291.8 224.6h.8M278.4 236.1h.8M290.5 211.6h.8M301.1 226.4h.8M277.0 233.0h.8M288.2 233.5h.8M286.3 218.1h.8M285.3 224.8h.8M287.9 225.9h.8M289.5 220.2h.8M283.1 224.6h.8M288.6 217.6h.8M286.3 239.8h.8M275.9 233.5h.8M286.8 232.3h.8M286.6 228.4h.8M288.4 229.3h.8M279.4 227.0h.8M296.7 233.7h.8M281.4 222.4h.8M285.3 232.8h.8M291.5 223.4h.8M272.6 228.0h.8M276.7 234.3h.8M294.8 229.8h.8M289.7 229.7h.8M296.8 231.9h.8M294.6 220.1h.8M283.3 227.3h.8M273.5 226.7h.8M286.1 226.7h.8M300.8 224.6h.8M285.1 226.5h.8M284.3 219.6h.8M292.7 226.5h.8M288.3 227.0h.8M281.8 218.9h.8M284.6 230.0h.8M285.6 231.0h.8M281.7 225.9h.8M287.1 226.4h.8M287.3 234.6h.8M283.8 228.0h.8M282.5 230.3h.8M287.5 222.9h.8M280.4 221.1h.8M284.6 228.0h.8M283.4 226.7h.8M287.0 239.6h.8M293.0 238.9h.8M287.0 228.1h.8M297.5 228.0h.8M290.0 224.0h.8M283.1 231.5h.8M282.8 223.8h.8M277.7 229.4h.8M285.7 230.0h.8M281.2 220.8h.8M292.6 226.5h.8M290.8 220.4h.8M278.8 214.1h.8M288.0 232.2h.8M293.9 235.8h.8M275.7 222.1h.8M283.2 223.0h.8M285.0 222.8h.8M277.8 227.6h.8M286.9 222.8h.8M286.4 220.0h.8M284.3 225.4h.8M283.6 226.8h.8M278.9 220.5h.8M281.4 231.4h.8M280.7 222.5h.8M297.6 224.6h.8M284.0 222.5h.8M294.7 229.1h.8M287.7 235.4h.8M279.3 218.6h.8M292.6 228.7h.8M283.3 231.6h.8M285.7 237.6h.8M278.9 229.6h.8M291.9 231.3h.8M284.1 225.1h.8M283.7 231.0h.8M283.9 226.5h.8M292.1 225.9h.8M287.6 226.2h.8M286.3 215.0h.8M280.8 229.5h.8M282.5 224.0h.8M286.5 239.3h.8M281.8 222.3h.8M275.9 230.5h.8M285.9 222.5h.8M283.8 232.5h.8M292.1 228.4h.8M292.9 231.8h.8M283.6 231.5h.8M287.1 231.1h.8M287.8 238.4h.8M279.0 229.6h.8M280.0 240.1h.8M283.2 225.3h.8M286.1 226.8h.8M296.1 225.8h.8M287.6 232.6h.8M294.9 221.0h.8M288.0 219.7h.8M289.0 234.4h.8M283.2 225.8h.8M293.1 228.7h.8M290.8 224.1h.8M284.4 225.2h.8M295.2 218.1h.8M283.2 235.7h.8M285.8 221.1h.8M287.6 225.7h.8M285.5 229.8h.8M290.8 218.5h.8M287.4 235.0h.8M278.5 227.2h.8M279.5 231.2h.8M281.3 225.7h.8M283.8 229.7h.8M278.6 220.1h.8M287.3 234.3h.8M283.3 229.5h.8M287.7 227.4h.8M286.1 224.0h.8M284.8 233.7h.8M288.8 233.7h.8M282.0 228.0h.8M282.5 220.2h.8M291.4 225.0h.8M287.6 219.2h.8M284.7 226.5h.8M283.9 232.7h.8M288.8 227.5h.8M287.5 224.5h.8M282.1 225.9h.8M280.3 226.6h.8M285.5 233.2h.8M283.7 240.4h.8M283.2 228.0h.8M286.0 223.7h.8M285.8 217.4h.8M292.6 223.3h.8M286.0 217.2h.8M289.4 219.7h.8M294.0 220.6h.8M281.9 231.0h.8M293.5 215.5h.8M276.4 236.7h.8M288.7 218.5h.8M283.7 231.0h.8M283.9 235.4h.8M282.1 228.3h.8M292.8 234.5h.8M287.5 230.1h.8M284.2 226.8h.8M282.9 229.4h.8M291.0 221.1h.8M279.5 227.9h.8M297.7 227.2h.8M286.9 226.7h.8M276.5 224.0h.8M294.8 214.7h.8M296.5 219.5h.8M297.9 240.2h.8M294.8 225.4h.8M289.6 223.7h.8M283.6 228.4h.8M268.1 231.7h.8M284.4 221.2h.8M284.6 230.7h.8M281.7 229.4h.8M278.4 228.2h.8M279.5 231.8h.8M280.2 230.9h.8M274.7 229.0h.8M292.5 221.9h.8M286.5 222.3h.8M288.9 230.9h.8M292.8 233.7h.8M293.6 222.3h.8M286.8 229.8h.8M287.2 219.7h.8M297.8 239.9h.8M286.5 212.7h.8M296.6 225.0h.8M299.2 220.0h.8M289.2 231.1h.8M277.9 225.9h.8M289.0 230.4h.8M288.4 212.4h.8M272.4 230.3h.8M295.3 217.7h.8M288.4 231.9h.8M280.5 218.8h.8M287.7 224.4h.8M285.6 225.9h.8M285.5 228.8h.8M283.1 227.1h.8M282.9 222.5h.8M288.2 222.2h.8M289.2 226.6h.8M292.4 229.7h.8M274.6 227.9h.8M289.9 227.2h.8M286.4 232.9h.8M290.0 219.2h.8M286.7 232.5h.8M287.0 219.9h.8M290.6 229.9h.8M292.7 227.3h.8M286.8 231.6h.8M279.8 237.0h.8M288.4 228.0h.8M290.5 230.9h.8M273.5 233.3h.8M285.5 222.7h.8M291.3 231.7h.8M288.3 223.3h.8M286.7 221.7h.8M300.6 222.0h.8M291.2 235.5h.8M281.2 224.5h.8M273.3 226.8h.8M278.5 228.6h.8M284.9 227.2h.8M286.4 224.4h.8M286.8 226.6h.8M282.0 225.6h.8M282.9 220.2h.8M286.0 216.7h.8M289.2 226.5h.8M287.1 233.3h.8M291.6 224.0h.8M288.1 233.4h.8M285.2 229.2h.8M288.5 221.0h.8M287.7 224.7h.8M284.6 229.5h.8M289.9 221.7h.8M284.7 226.0h.8M280.7 229.5h.8M285.0 223.2h.8M291.5 226.0h.8M279.5 227.1h.8M285.1 228.7h.8M299.1 228.8h.8M294.4 225.3h.8M288.8 229.5h.8M285.5 228.4h.8M283.5 231.1h.8M280.9 236.9h.8M264.8 221.3h.8M285.4 229.1h.8M287.0 218.0h.8M288.6 221.9h.8M287.3 224.6h.8M284.6 218.7h.8M278.6 224.6h.8M280.0 228.9h.8M278.1 228.9h.8M289.3 222.6h.8M280.6 225.6h.8M290.6 234.2h.8M298.5 226.3h.8M289.7 227.7h.8M286.0 221.1h.8M284.1 233.3h.8M294.1 222.9h.8M276.8 238.3h.8M286.3 229.5h.8M285.1 217.1h.8M287.9 221.5h.8M284.5 223.7h.8M284.6 240.4h.8M294.8 215.4h.8M277.3 225.0h.8M282.3 231.6h.8M295.1 222.1h.8M289.4 225.5h.8M274.7 234.5h.8M296.1 221.5h.8M289.7 223.8h.8M285.6 224.5h.8M285.3 227.3h.8M282.6 228.8h.8M278.7 232.2h.8M280.6 217.2h.8M290.9 224.6h.8M283.1 232.3h.8M285.9 237.8h.8M288.6 218.9h.8M283.2 223.5h.8M284.4 236.4h.8M301.7 235.0h.8M288.7 229.8h.8M287.1 214.7h.8M294.1 237.2h.8M283.1 227.1h.8M282.0 226.2h.8M281.1 221.2h.8M293.1 215.6h.8M292.0 220.1h.8M284.6 216.0h.8M289.9 221.1h.8M300.5 220.5h.8M287.5 230.5h.8M280.5 222.9h.8M280.0 230.6h.8M287.8 232.4h.8M277.8 222.6h.8M285.4 224.6h.8M287.9 233.0h.8M286.9 222.5h.8M285.9 223.0h.8M282.4 237.6h.8M290.0 236.7h.8M284.9 226.7h.8M278.8 229.0h.8M290.3 230.4h.8M279.4 228.2h.8M291.4 223.9h.8M290.2 223.8h.8M286.1 223.8h.8M277.6 223.2h.8M287.1 225.3h.8M286.1 223.8h.8M291.2 225.5h.8M288.4 224.1h.8M293.6 225.7h.8M288.6 238.9h.8M288.6 218.1h.8M282.3 229.1h.8M278.6 219.5h.8M285.4 218.3h.8M292.4 228.8h.8M284.3 233.8h.8M282.2 220.8h.8M291.3 226.6h.8M284.8 232.8h.8M285.3 230.6h.8M287.4 233.3h.8M289.3 224.1h.8M294.8 224.2h.8M296.1 219.0h.8M286.4 214.6h.8M289.1 234.1h.8M283.9 229.8h.8M284.9 235.1h.8M288.1 228.8h.8M292.5 218.0h.8M290.1 227.4h.8M293.6 226.5h.8M289.6 226.4h.8M280.5 224.7h.8M285.1 219.7h.8M285.9 224.4h.8M296.6 224.7h.8M286.9 227.4h.8M290.1 217.7h.8M276.1 236.7h.8M281.4 222.5h.8M292.9 228.0h.8M281.5 231.5h.8M279.7 236.6h.8M284.4 229.0h.8M286.1 237.6h.8M280.7 227.0h.8M298.5 214.6h.8M283.4 228.8h.8M284.9 229.6h.8M292.8 220.1h.8M282.4 234.6h.8M297.4 211.2h.8M289.3 232.2h.8M282.3 222.6h.8M279.7 226.5h.8M279.6 231.5h.8M282.2 230.2h.8M277.2 232.7h.8M290.0 231.8h.8M287.7 239.6h.8M291.7 226.7h.8M295.4 224.2h.8M287.1 236.0h.8M283.5 227.2h.8M287.6 227.9h.8M284.8 232.7h.8M298.6 223.7h.8M277.7 225.2h.8M278.2 220.7h.8M280.2 233.4h.8M287.1 230.8h.8M285.6 232.7h.8M283.9 234.4h.8M291.3 227.7h.8M277.8 221.7h.8M287.7 221.1h.8M285.2 226.2h.8M294.1 222.5h.8M287.0 224.4h.8M281.9 229.8h.8M291.8 218.6h.8M294.8 238.5h.8M287.1 229.8h.8M280.2 225.3h.8M288.0 226.3h.8M294.1 221.4h.8M284.8 230.0h.8M285.8 225.7h.8M285.5 229.3h.8M275.2 242.4h.8M290.5 220.8h.8M281.0 221.3h.8M288.7 216.5h.8M300.3 222.7h.8M278.1 239.1h.8M286.2 229.7h.8M285.1 225.7h.8M298.0 215.0h.8M287.7 222.8h.8M284.2 226.8h.8M275.7 231.4h.8M287.4 230.0h.8M282.8 231.4h.8M283.5 231.5h.8M294.0 229.7h.8M278.0 228.2h.8M280.3 238.3h.8M287.4 219.9h.8M277.5 235.1h.8M280.5 229.8h.8M284.3 226.4h.8M283.7 227.3h.8M295.5 221.3h.8M289.2 229.4h.8M282.4 221.4h.8M281.1 230.7h.8M287.1 232.6h.8M288.3 227.5h.8M286.3 228.3h.8M286.5 230.7h.8M281.3 233.4h.8M295.6 225.7h.8M289.5 220.2h.8M286.8 219.1h.8M291.9 226.7h.8M292.4 232.6h.8M282.0 231.9h.8M295.1 238.4h.8M285.6 230.1h.8M282.6 230.9h.8M289.7 234.7h.8M285.4 227.4h.8M289.1 225.8h.8M298.1 213.8h.8M276.4 225.2h.8M290.2 226.8h.8M288.6 218.5h.8M289.7 229.7h.8M295.6 230.7h.8M282.7 223.3h.8M279.7 225.0h.8M285.7 233.9h.8M295.7 226.5h.8M289.7 225.8h.8M278.8 230.6h.8M282.1 218.6h.8M281.4 235.6h.8M279.6 235.1h.8M278.4 227.4h.8M289.1 224.6h.8M280.7 227.6h.8M295.9 229.7h.8M287.4 230.1h.8M293.1 233.6h.8M284.7 222.4h.8M280.6 227.9h.8M284.5 227.2h.8M282.7 241.0h.8M282.2 235.2h.8M281.3 223.2h.8M279.5 221.7h.8M276.8 223.4h.8M284.9 231.0h.8M276.0 230.4h.8M285.6 227.1h.8M273.8 230.8h.8M290.1 232.9h.8M284.6 233.9h.8M286.6 222.0h.8M289.3 232.1h.8M287.6 226.7h.8M284.8 230.8h.8M275.8 229.6h.8M278.8 224.9h.8M287.4 233.7h.8M286.2 222.0h.8M302.0 227.3h.8M270.6 228.0h.8M282.0 224.1h.8M292.3 238.1h.8M286.8 219.7h.8M291.2 227.1h.8M283.9 228.4h.8M279.5 228.7h.8M288.3 233.3h.8M297.8 222.5h.8M288.4 222.5h.8M286.9 233.2h.8M290.0 225.1h.8M296.6 230.9h.8M293.4 226.8h.8M294.0 225.5h.8M291.3 226.8h.8M286.2 218.6h.8M291.9 229.6h.8M282.6 227.7h.8M289.7 230.2h.8M274.2 236.3h.8M280.3 238.0h.8M292.9 227.2h.8M287.4 228.5h.8M283.9 235.5h.8M282.3 224.5h.8M284.9 218.5h.8M292.3 220.0h.8M295.1 231.4h.8M298.0 222.7h.8M284.5 224.7h.8M290.9 221.7h.8M284.4 214.6h.8M286.5 228.2h.8M297.8 221.4h.8M291.9 229.6h.8M291.4 220.5h.8M265.9 226.3h.8M291.9 227.4h.8M294.7 238.1h.8M282.2 225.2h.8M295.2 217.1h.8M271.6 229.9h.8M288.2 235.2h.8M290.5 226.4h.8M282.9 217.3h.8M289.3 223.4h.8M284.0 229.0h.8M274.3 227.7h.8M282.6 238.3h.8M285.6 233.3h.8M280.4 218.9h.8M291.5 224.6h.8M278.4 233.7h.8M289.2 217.3h.8M284.9 238.2h.8M286.9 219.5h.8M281.3 235.2h.8M295.1 230.0h.8M277.4 232.5h.8M281.4 224.7h.8M283.3 233.3h.8M289.3 230.0h.8M283.6 224.4h.8M292.6 223.1h.8M284.6 230.3h.8M285.2 232.6h.8M289.6 230.3h.8M299.9 222.7h.8M298.7 218.7h.8M281.6 213.6h.8M282.3 223.0h.8M290.5 233.7h.8M300.0 222.8h.8M292.6 225.4h.8M275.3 204.8h.8M284.1 216.4h.8M291.4 221.3h.8M290.1 222.9h.8M289.1 221.4h.8M288.6 237.0h.8M288.5 219.2h.8M281.6 228.2h.8M291.1 219.7h.8M280.8 218.4h.8M296.7 227.7h.8M288.2 224.4h.8M297.7 229.2h.8M285.7 233.9h.8M289.8 225.1h.8M284.1 227.3h.8M294.5 218.3h.8M276.4 231.8h.8M292.6 234.6h.8M289.7 218.3h.8M291.1 227.5h.8M280.3 218.6h.8M277.1 228.3h.8M278.6 229.7h.8M285.3 230.7h.8M291.4 221.4h.8M284.0 231.4h.8M282.4 233.1h.8M289.8 231.8h.8M282.7 231.8h.8M285.0 228.4h.8M290.0 223.5h.8M286.0 213.6h.8M282.1 230.9h.8M279.8 215.7h.8M277.7 226.1h.8M290.2 229.7h.8M277.8 230.1h.8M279.0 233.9h.8M288.6 223.2h.8M283.5 226.8h.8M282.8 233.9h.8M288.1 223.6h.8M288.9 219.0h.8M287.2 225.1h.8M282.9 227.0h.8M287.6 218.6h.8M288.4 243.6h.8M290.9 223.2h.8M288.4 236.2h.8M279.9 237.0h.8M284.2 237.9h.8M281.4 233.4h.8M282.9 234.4h.8M291.5 228.4h.8M281.3 233.4h.8M288.4 220.6h.8M289.5 225.7h.8M285.6 221.5h.8M287.5 231.8h.8M281.3 232.0h.8M275.6 228.6h.8M287.8 221.4h.8M287.2 219.5h.8M297.2 228.2h.8M292.6 221.1h.8M273.1 227.7h.8M294.1 225.4h.8M293.0 228.6h.8M288.2 232.8h.8M282.8 225.0h.8M292.6 229.0h.8M283.1 221.1h.8M294.9 207.8h.8M291.5 225.7h.8M278.7 230.0h.8M289.0 239.7h.8M287.9 212.5h.8M280.9 231.8h.8M283.4 226.9h.8M285.8 235.2h.8M288.1 225.9h.8M282.5 233.1h.8M282.2 229.7h.8M288.6 231.0h.8M290.8 228.2h.8M297.6 230.4h.8M281.9 222.2h.8M282.2 234.9h.8M279.9 236.5h.8M288.7 223.4h.8M280.5 227.0h.8M290.6 226.2h.8M290.3 227.6h.8M294.0 223.5h.8M285.5 220.6h.8M284.4 221.5h.8M277.6 226.5h.8M290.1 213.9h.8M279.0 219.7h.8M288.3 230.0h.8M288.1 225.8h.8M281.9 228.5h.8M281.3 226.1h.8M288.5 225.3h.8M293.0 214.0h.8M277.2 233.5h.8M283.0 224.6h.8M283.1 226.9h.8M285.3 229.1h.8M291.5 237.0h.8M274.2 227.5h.8M281.2 228.7h.8M280.5 227.9h.8M287.8 226.6h.8M287.6 230.6h.8M280.3 227.3h.8M292.2 231.7h.8M291.8 221.8h.8M282.5 232.9h.8M286.2 228.6h.8M284.2 232.3h.8M287.2 221.3h.8M288.3 224.8h.8M284.7 230.3h.8M287.1 223.7h.8M279.6 225.1h.8M285.5 220.3h.8M282.7 240.5h.8M282.6 227.7h.8M279.3 225.8h.8M287.6 227.8h.8M276.7 228.1h.8M280.7 233.7h.8M285.7 236.0h.8M288.3 220.2h.8M291.6 223.7h.8M285.6 227.6h.8M278.9 234.3h.8M287.1 221.1h.8M278.5 230.3h.8M293.1 228.6h.8M288.0 224.5h.8M292.4 229.5h.8M281.7 223.9h.8M274.0 234.7h.8M303.1 224.7h.8M288.7 231.1h.8M285.0 239.2h.8M280.5 222.8h.8M295.3 231.3h.8M290.5 226.0h.8M286.0 227.8h.8M288.6 223.4h.8M292.1 236.3h.8M283.2 221.9h.8M286.9 240.9h.8M280.8 235.1h.8M282.4 223.1h.8M292.3 225.5h.8M286.0 231.0h.8M292.6 227.7h.8M295.0 222.4h.8M283.3 231.1h.8M289.9 216.9h.8M284.5 231.1h.8M285.3 237.2h.8M277.3 229.0h.8M281.5 218.5h.8M284.9 226.8h.8M283.9 223.7h.8M291.1 220.7h.8M282.7 219.5h.8M292.8 218.1h.8M295.9 220.9h.8M285.9 236.2h.8M280.2 235.0h.8M278.9 225.1h.8M289.4 228.7h.8M288.1 228.7h.8M295.1 217.1h.8M282.3 232.3h.8M277.9 223.9h.8M300.0 233.3h.8M289.1 227.3h.8M285.3 222.2h.8M281.3 222.0h.8M279.0 228.5h.8M288.6 221.6h.8M287.0 219.5h.8M288.3 225.1h.8M285.8 228.2h.8M293.6 227.6h.8M282.5 228.3h.8M288.4 229.9h.8M292.2 221.9h.8M279.5 231.2h.8M279.8 230.2h.8M301.6 232.7h.8M277.9 223.2h.8M288.4 225.3h.8M290.2 228.1h.8M288.1 230.0h.8M277.4 234.4h.8M278.2 222.9h.8M272.5 228.4h.8M288.5 224.8h.8M279.4 215.5h.8M289.4 220.3h.8M284.1 228.7h.8M285.8 229.4h.8M295.6 230.2h.8M280.5 227.4h.8M284.9 222.4h.8M289.9 224.6h.8M287.6 230.6h.8M298.1 222.6h.8M290.3 238.8h.8M295.3 228.0h.8M282.0 228.4h.8M282.7 225.1h.8M276.4 226.4h.8M274.8 233.7h.8M289.2 224.5h.8M286.4 227.8h.8M284.8 228.9h.8M285.2 229.8h.8M281.6 227.9h.8M295.8 221.7h.8M281.6 232.9h.8M288.0 227.8h.8M287.3 224.7h.8M283.2 230.3h.8M287.2 230.7h.8M288.8 239.5h.8M286.7 235.0h.8M287.1 239.8h.8M291.8 222.4h.8M295.3 223.1h.8M292.0 222.4h.8M288.3 227.9h.8M294.4 214.3h.8M275.3 233.7h.8M290.5 223.9h.8M286.8 217.3h.8M284.1 223.7h.8M291.3 228.1h.8M285.3 233.8h.8M282.5 231.8h.8M284.9 229.9h.8M284.6 235.3h.8M283.8 238.8h.8M290.8 222.1h.8M283.7 235.0h.8M294.7 219.6h.8M287.2 230.6h.8M299.9 229.7h.8M285.1 232.6h.8M286.7 222.4h.8M286.0 226.0h.8M285.0 227.8h.8M288.3 222.7h.8M290.1 218.0h.8M290.1 229.7h.8M288.7 218.6h.8M283.4 228.7h.8M288.9 231.2h.8M277.5 228.2h.8M292.5 220.2h.8M279.3 225.3h.8M284.7 226.0h.8M293.4 228.2h.8M275.3 232.8h.8M286.8 232.1h.8M286.1 235.1h.8M287.1 224.5h.8M279.4 233.2h.8M285.5 217.5h.8M291.1 234.2h.8M274.3 231.6h.8M290.0 236.7h.8M293.3 222.5h.8M288.9 231.3h.8M277.8 236.3h.8M289.1 231.8h.8M281.2 232.5h.8M286.0 225.6h.8M286.5 229.3h.8M277.5 228.2h.8M288.4 218.1h.8M296.0 240.9h.8M290.1 227.0h.8M280.3 221.7h.8M279.2 233.0h.8M281.2 228.9h.8M283.7 232.7h.8M293.6 231.9h.8M290.1 233.0h.8M296.1 221.6h.8M287.8 223.6h.8M286.5 226.1h.8M286.9 231.4h.8M278.8 213.5h.8M287.8 233.2h.8M284.0 235.9h.8M299.2 226.6h.8M285.0 230.4h.8M290.7 218.6h.8M289.1 215.6h.8M280.1 229.3h.8M288.1 220.6h.8M286.5 234.7h.8M276.8 231.5h.8M293.6 219.2h.8M293.1 229.3h.8M284.5 227.7h.8M286.0 227.7h.8M285.1 223.4h.8M291.5 236.5h.8M285.1 235.5h.8M281.8 220.6h.8M289.9 228.5h.8M288.9 221.8h.8M284.0 233.4h.8M295.4 228.0h.8M288.5 212.4h.8M282.5 235.2h.8M297.2 221.8h.8M271.7 231.7h.8M278.7 225.8h.8M282.8 225.7h.8M280.7 231.7h.8M288.0 219.9h.8M277.1 240.1h.8M289.5 228.3h.8M276.5 240.6h.8M280.3 228.7h.8M288.1 223.2h.8M286.9 224.8h.8M274.4 220.8h.8M282.6 224.8h.8M288.7 236.6h.8M284.8 239.9h.8M283.7 228.3h.8M284.9 218.1h.8M285.8 226.3h.8M281.4 232.2h.8M288.5 225.5h.8M281.1 229.6h.8M281.6 223.1h.8M283.3 233.1h.8M284.5 226.7h.8M284.3 231.0h.8M285.2 232.2h.8M285.3 232.3h.8M284.4 223.4h.8M288.5 226.1h.8M283.5 235.9h.8M283.3 223.4h.8M284.2 235.8h.8M278.5 234.8h.8M289.1 225.0h.8M284.2 223.6h.8M274.5 223.4h.8M278.1 219.2h.8M283.6 231.1h.8M280.7 226.1h.8M281.7 226.8h.8M288.3 234.2h.8M289.5 229.3h.8M293.9 230.9h.8M288.8 230.5h.8M290.7 221.3h.8M281.0 228.5h.8M275.9 227.0h.8M284.1 229.5h.8M290.0 234.6h.8M272.5 230.0h.8M287.9 235.5h.8M282.4 230.2h.8M285.1 222.3h.8M287.4 232.9h.8M284.0 228.3h.8M292.2 225.9h.8M276.8 235.4h.8M280.8 234.7h.8M285.0 233.6h.8M272.2 227.8h.8M278.0 241.7h.8M278.7 231.4h.8M279.9 235.6h.8M285.0 225.4h.8M282.5 233.1h.8M282.8 237.3h.8M266.8 241.6h.8M281.1 229.0h.8M277.8 238.8h.8M270.6 240.2h.8M282.6 240.6h.8M274.0 232.0h.8M283.7 230.5h.8M280.6 220.5h.8M291.0 220.7h.8M269.8 238.7h.8M281.0 228.9h.8M266.9 239.8h.8M279.6 228.8h.8M279.1 230.6h.8M273.1 238.6h.8M278.4 233.7h.8M271.9 232.2h.8M277.0 231.1h.8M280.2 233.1h.8M277.2 233.1h.8M280.5 237.7h.8M272.8 239.9h.8M283.1 235.8h.8M275.5 235.5h.8M289.4 223.7h.8M282.8 230.9h.8M287.1 231.4h.8M282.8 229.2h.8M275.8 242.0h.8M271.7 233.2h.8M277.1 228.0h.8M281.7 226.6h.8M278.6 232.3h.8M266.9 237.9h.8M270.3 236.3h.8M266.2 234.9h.8M282.7 233.5h.8M284.3 239.4h.8M282.2 231.4h.8M277.8 236.7h.8M271.9 230.6h.8M278.3 241.9h.8M272.5 236.6h.8M274.7 238.2h.8M280.2 232.8h.8M283.1 230.8h.8M269.7 246.4h.8M277.8 235.2h.8M282.5 228.3h.8M275.9 230.7h.8M281.4 234.5h.8M279.4 227.0h.8M274.1 228.0h.8M271.2 232.3h.8M279.9 235.4h.8M269.0 239.6h.8M280.3 240.5h.8M282.9 224.9h.8M280.9 233.8h.8M280.1 229.5h.8M285.9 231.6h.8M275.3 225.8h.8M277.0 227.4h.8M270.7 243.8h.8M278.0 238.3h.8M284.2 235.2h.8M276.1 228.6h.8M277.5 234.4h.8M277.6 232.3h.8M279.1 226.4h.8M283.9 226.1h.8M279.0 229.1h.8M285.5 228.6h.8M273.5 233.3h.8M283.0 226.1h.8M271.6 233.1h.8M282.4 218.1h.8M283.2 242.8h.8M277.5 238.3h.8M277.7 224.8h.8M276.1 237.2h.8M272.5 233.9h.8M274.9 236.5h.8M291.4 229.7h.8M271.6 243.7h.8M276.8 232.0h.8M281.0 236.3h.8M279.5 234.8h.8M279.3 227.4h.8M282.5 236.4h.8M274.3 226.3h.8M275.2 235.4h.8M285.8 232.2h.8M261.2 236.0h.8M278.7 234.5h.8M270.4 234.3h.8M279.1 236.6h.8M282.7 240.1h.8M274.8 232.6h.8M276.0 236.6h.8M289.0 231.0h.8M279.3 228.8h.8M271.6 244.2h.8M277.9 240.5h.8M282.7 229.7h.8M279.7 228.7h.8M281.7 231.7h.8M282.6 238.2h.8M275.3 238.4h.8M280.7 230.2h.8M279.9 239.0h.8M279.3 237.9h.8M280.2 239.0h.8M277.7 232.1h.8M281.8 221.3h.8M275.7 241.8h.8M274.5 243.7h.8M287.0 228.3h.8M274.4 236.7h.8M283.2 240.4h.8M286.6 227.5h.8M283.0 229.5h.8M284.2 233.9h.8M286.1 230.6h.8M282.8 225.9h.8M273.3 237.6h.8M279.0 237.6h.8M290.7 226.5h.8M272.2 230.3h.8M275.2 240.1h.8M280.5 231.4h.8M282.0 231.5h.8M279.8 232.9h.8M271.3 239.7h.8M279.4 244.0h.8M279.0 230.4h.8M279.4 229.6h.8M278.3 231.7h.8M280.3 228.4h.8M277.9 231.6h.8M273.3 234.7h.8M282.2 235.8h.8M280.2 232.3h.8M283.6 230.4h.8M282.1 223.8h.8M272.1 231.9h.8M284.6 230.2h.8M281.0 227.3h.8M270.4 249.6h.8M287.3 239.2h.8M278.6 230.1h.8M279.9 231.8h.8M276.0 222.1h.8M279.7 222.2h.8M275.8 226.8h.8M289.2 223.7h.8M276.4 235.9h.8M276.8 235.1h.8M283.5 228.7h.8M281.3 231.8h.8M271.5 237.0h.8M272.8 240.3h.8M278.6 234.2h.8M283.9 227.6h.8M274.3 241.7h.8M282.4 234.2h.8M267.9 236.8h.8M273.5 232.0h.8M269.8 228.1h.8M276.2 235.9h.8M275.8 233.3h.8M279.0 239.8h.8M275.4 234.9h.8M293.4 228.4h.8M283.0 226.1h.8M272.8 232.9h.8M295.2 224.9h.8M286.2 228.4h.8M271.8 226.3h.8M279.5 238.2h.8M274.3 232.7h.8M272.6 231.6h.8M284.1 228.9h.8M272.9 238.1h.8M280.0 232.6h.8M289.8 231.2h.8M284.9 225.2h.8M278.2 239.6h.8M282.7 236.4h.8M270.5 234.5h.8M287.8 237.5h.8M261.7 229.4h.8M286.1 234.8h.8M285.9 217.2h.8M279.1 237.0h.8M285.4 226.3h.8M284.4 235.3h.8M275.8 241.9h.8M285.6 235.4h.8M276.1 235.4h.8M278.5 241.5h.8M292.2 224.7h.8M289.7 231.9h.8M274.9 230.9h.8M287.2 232.1h.8M275.0 233.5h.8M276.5 233.3h.8M288.7 226.7h.8M276.9 218.9h.8M281.5 237.0h.8M290.1 226.5h.8M277.0 231.8h.8M271.7 235.4h.8M274.3 233.5h.8M279.5 236.6h.8M279.0 244.9h.8M280.5 235.2h.8M281.6 231.8h.8M284.1 232.3h.8M271.2 233.0h.8M287.0 222.7h.8M288.5 230.6h.8M280.1 238.8h.8M280.0 230.5h.8M266.4 234.1h.8M272.1 238.7h.8M279.2 228.4h.8M285.3 235.4h.8M291.2 230.5h.8M271.8 235.9h.8M283.0 236.2h.8M271.3 237.9h.8M282.5 233.9h.8M269.5 233.8h.8M278.0 232.3h.8M283.8 229.6h.8M268.3 226.1h.8M281.4 228.4h.8M278.5 238.7h.8M275.7 233.9h.8M270.6 229.8h.8M282.0 237.8h.8M275.0 233.4h.8M280.6 230.4h.8M279.1 231.1h.8M282.1 229.6h.8M276.0 227.3h.8M274.3 227.2h.8M277.9 238.3h.8M271.4 231.3h.8M274.4 236.8h.8M277.0 232.1h.8M273.3 233.5h.8M276.7 229.8h.8M286.7 233.0h.8M277.8 234.9h.8M291.7 232.0h.8M275.7 233.9h.8M285.2 233.3h.8M277.2 234.1h.8M272.4 233.5h.8M276.4 232.6h.8M286.4 230.8h.8M285.3 231.0h.8M270.2 241.7h.8M275.6 233.5h.8M284.9 237.9h.8M279.6 239.0h.8M275.9 237.1h.8M273.6 239.5h.8M275.5 237.3h.8M271.9 242.2h.8M287.9 228.9h.8M279.1 228.3h.8M277.6 226.4h.8M282.8 231.4h.8M285.3 231.0h.8M277.4 229.5h.8M282.3 231.3h.8M272.0 228.0h.8M284.1 230.8h.8M278.3 230.5h.8M275.7 233.9h.8M279.8 226.9h.8M292.7 233.0h.8M267.9 236.8h.8M285.1 227.9h.8M271.0 238.1h.8M275.2 234.1h.8M288.0 230.1h.8M286.2 226.9h.8M268.4 234.5h.8M276.5 237.0h.8M281.2 222.7h.8M272.4 232.9h.8M274.6 231.2h.8M276.8 234.4h.8M270.2 231.3h.8M273.6 240.5h.8M277.7 226.2h.8M281.5 236.6h.8M269.6 230.1h.8M281.2 232.5h.8M282.1 239.7h.8M282.5 236.6h.8M276.0 240.7h.8M274.8 235.9h.8M267.3 234.7h.8M283.1 227.2h.8M276.1 223.5h.8M276.8 227.3h.8M279.0 230.6h.8M274.8 232.7h.8M276.4 233.7h.8M277.2 239.0h.8M284.7 219.1h.8M286.3 229.6h.8M280.7 228.0h.8M282.1 234.7h.8M275.5 228.6h.8M281.6 234.2h.8M273.6 224.4h.8M272.4 236.9h.8M285.9 226.0h.8M275.5 228.8h.8M280.7 228.6h.8M288.2 232.8h.8M277.6 231.4h.8M284.4 229.3h.8M276.6 234.2h.8M284.6 237.9h.8M276.8 227.7h.8M273.6 233.8h.8M282.3 219.3h.8M282.4 233.8h.8M279.9 225.5h.8M279.3 230.3h.8M273.5 237.5h.8M285.7 231.6h.8M282.0 236.7h.8M279.0 230.9h.8M287.1 227.3h.8M277.1 235.1h.8M276.5 229.1h.8M284.9 230.9h.8M274.9 231.4h.8M282.1 235.8h.8M279.9 238.1h.8M278.7 240.5h.8M283.9 225.9h.8M278.3 234.6h.8M278.7 228.3h.8M281.5 231.8h.8M270.6 229.5h.8M276.7 238.0h.8M278.6 233.9h.8M284.1 230.2h.8M278.9 232.5h.8M283.9 228.2h.8M281.0 228.8h.8M279.3 238.0h.8M274.5 236.6h.8M279.3 233.8h.8M281.8 232.4h.8M281.6 240.6h.8M275.1 229.0h.8M283.0 233.4h.8M289.8 226.5h.8M282.9 229.0h.8M276.2 230.9h.8M274.5 229.8h.8M277.1 232.7h.8M279.2 236.6h.8M274.0 234.0h.8M274.1 238.3h.8M273.9 232.8h.8M274.6 239.3h.8M272.3 229.6h.8M276.8 231.9h.8M273.9 239.8h.8M275.9 224.0h.8M277.8 227.0h.8M275.4 231.7h.8M274.0 232.5h.8M276.8 236.5h.8M292.6 225.3h.8M276.4 239.0h.8M288.1 233.6h.8M277.5 242.5h.8M279.4 238.4h.8M276.0 228.0h.8M286.2 226.4h.8M273.3 235.3h.8M273.9 237.7h.8M279.3 231.8h.8M275.9 240.7h.8M286.3 235.9h.8M271.8 242.9h.8M279.5 240.8h.8M281.8 228.8h.8M270.0 232.6h.8M285.4 228.7h.8M287.8 224.0h.8M282.4 231.3h.8M271.4 237.1h.8M276.7 232.2h.8M267.7 231.7h.8M275.3 233.3h.8M274.4 243.9h.8M276.7 234.6h.8M277.1 239.5h.8M282.0 236.6h.8M270.6 236.3h.8M278.1 236.2h.8M275.3 234.7h.8M273.6 232.9h.8M280.8 229.9h.8M274.3 233.7h.8M280.6 234.3h.8M272.5 232.9h.8M272.6 230.2h.8M291.7 234.6h.8M282.6 230.4h.8M283.5 238.8h.8M285.5 234.2h.8M273.5 245.9h.8M282.9 235.7h.8M280.7 234.1h.8M276.7 225.6h.8M288.4 242.1h.8M281.4 235.3h.8M278.7 236.6h.8M278.0 232.8h.8M282.2 223.8h.8M286.4 228.7h.8M281.8 234.9h.8M287.4 238.2h.8M271.8 230.6h.8M279.7 224.9h.8M282.1 231.3h.8M274.6 238.3h.8M273.7 231.0h.8M278.7 237.1h.8M277.7 231.7h.8M279.8 230.9h.8M268.7 240.5h.8M281.3 237.4h.8M279.4 235.0h.8M269.7 229.4h.8M268.3 241.9h.8M274.9 240.5h.8M281.0 230.1h.8M278.2 229.4h.8M276.3 235.4h.8M282.3 229.5h.8M270.1 241.1h.8M272.7 238.3h.8M270.4 231.3h.8M267.9 239.5h.8M281.0 246.9h.8M288.8 230.4h.8M267.5 235.5h.8M280.0 234.3h.8M279.4 228.0h.8M276.9 242.5h.8M275.6 232.1h.8M272.1 232.1h.8M285.1 232.7h.8M275.8 232.2h.8M283.0 228.9h.8M274.2 232.9h.8M264.7 242.8h.8M274.2 238.0h.8M278.5 237.9h.8M275.7 245.6h.8M281.5 231.1h.8M280.2 222.7h.8M272.4 225.3h.8M277.1 243.8h.8M280.4 225.5h.8M270.1 237.5h.8M281.9 231.0h.8M286.4 231.7h.8M289.5 233.5h.8M289.7 216.9h.8M282.6 235.4h.8M286.6 233.3h.8M280.7 233.9h.8M279.6 235.4h.8M287.2 222.7h.8M276.1 226.9h.8M275.3 235.4h.8M279.5 234.6h.8M282.5 233.8h.8M276.7 233.0h.8M272.7 232.8h.8M277.9 235.0h.8M269.9 241.0h.8M278.1 225.8h.8M277.6 236.1h.8M279.0 230.9h.8M273.7 235.7h.8M279.3 234.2h.8M276.4 239.5h.8M268.6 236.2h.8M269.6 226.7h.8M279.4 236.7h.8M276.9 235.7h.8M277.5 238.8h.8M275.2 236.6h.8M280.2 225.1h.8M284.8 228.3h.8M272.3 231.9h.8M283.1 229.7h.8M282.6 227.3h.8M279.8 224.5h.8M276.8 239.7h.8M275.6 234.8h.8M268.6 244.0h.8M277.2 235.6h.8M276.3 228.9h.8M276.5 232.1h.8M272.8 234.1h.8M273.1 232.4h.8M263.1 233.4h.8M280.1 233.6h.8M277.1 235.4h.8M287.6 231.8h.8M279.0 232.5h.8M280.2 235.5h.8M266.4 246.8h.8M283.5 233.7h.8M275.1 233.6h.8M274.2 240.7h.8M274.6 226.7h.8M277.1 229.5h.8M279.4 233.4h.8M273.8 227.4h.8M276.5 227.6h.8M277.3 234.2h.8M276.2 234.5h.8M276.1 241.5h.8M268.7 231.1h.8M284.3 225.5h.8M281.6 231.0h.8M278.3 226.5h.8M276.0 233.1h.8M266.8 236.8h.8M275.9 223.4h.8M279.1 231.2h.8M270.1 241.0h.8M277.5 228.0h.8M273.4 236.0h.8M275.2 237.3h.8M271.5 236.4h.8M280.6 234.7h.8M273.8 230.1h.8M272.0 235.5h.8M267.1 249.6h.8M276.7 239.2h.8M276.4 239.8h.8M276.7 238.2h.8M283.5 232.8h.8M271.4 237.2h.8M278.9 231.4h.8M276.9 236.7h.8M267.1 239.2h.8M286.7 227.3h.8M284.6 228.9h.8M276.5 232.0h.8M278.0 229.6h.8M274.9 233.1h.8M273.2 234.4h.8M283.5 227.5h.8M279.1 229.3h.8M272.0 235.0h.8M276.6 238.2h.8M281.8 232.4h.8M274.6 240.5h.8M271.1 231.8h.8M281.9 233.7h.8M281.4 231.0h.8M281.9 237.3h.8M267.9 238.8h.8M283.2 226.7h.8M273.0 236.4h.8M281.4 232.0h.8M269.4 236.8h.8M277.5 231.5h.8M283.5 221.5h.8M278.5 227.9h.8M283.1 229.4h.8M294.2 231.7h.8M272.4 220.6h.8M275.0 233.1h.8M292.7 233.4h.8M279.3 225.2h.8M279.6 224.8h.8M264.0 238.9h.8M273.3 222.8h.8M288.6 241.1h.8M281.9 218.8h.8M269.5 226.4h.8M286.3 230.6h.8M269.5 223.0h.8M270.6 235.6h.8M275.2 237.5h.8M282.6 222.8h.8M285.6 231.8h.8M293.1 229.2h.8M274.2 232.6h.8M289.4 235.1h.8M288.9 239.4h.8M280.8 251.3h.8M276.8 231.2h.8M288.4 221.7h.8M280.7 240.5h.8M269.1 218.9h.8M264.0 244.5h.8M301.7 221.6h.8M265.1 224.8h.8M292.8 236.5h.8M284.3 225.9h.8M284.1 225.8h.8M283.2 225.8h.8M265.6 231.3h.8M281.8 234.9h.8M272.5 241.2h.8M262.3 219.5h.8M283.6 230.6h.8M277.4 229.2h.8M282.9 233.8h.8M291.1 222.9h.8M265.7 233.9h.8M275.4 230.8h.8M257.1 239.4h.8M294.1 233.0h.8M289.8 235.7h.8M280.4 235.7h.8M288.4 234.8h.8M284.2 231.3h.8M270.7 236.9h.8M274.0 238.2h.8M256.4 250.9h.8M290.7 243.1h.8M281.8 223.6h.8M274.1 223.9h.8M282.0 232.3h.8M279.6 217.4h.8M263.5 217.3h.8M291.7 234.6h.8M278.6 229.8h.8M260.7 232.7h.8M274.1 226.6h.8M287.8 214.6h.8M279.7 239.1h.8M286.0 219.2h.8M250.9 248.7h.8M292.0 229.1h.8M275.6 236.0h.8M288.7 232.0h.8M274.9 235.1h.8M281.9 248.9h.8M278.5 225.2h.8M296.9 241.8h.8M292.7 222.6h.8M272.5 222.5h.8M277.1 243.8h.8M287.5 231.6h.8M280.6 236.4h.8M277.0 224.4h.8M271.6 247.5h.8M269.2 225.0h.8M284.0 229.1h.8M275.1 234.6h.8M277.1 219.5h.8M287.7 233.0h.8M295.3 236.8h.8M272.8 230.1h.8M271.5 215.9h.8M285.7 226.0h.8M288.2 232.5h.8M277.4 246.2h.8M269.3 248.7h.8M274.8 251.0h.8M290.0 226.6h.8M295.9 233.3h.8M282.0 228.9h.8M278.1 229.5h.8M275.3 239.8h.8M286.7 241.6h.8M290.5 230.1h.8M286.1 229.5h.8M284.3 236.9h.8M282.4 225.6h.8M267.1 248.8h.8M270.9 229.1h.8M282.5 229.0h.8M282.9 243.3h.8M263.5 236.1h.8M284.6 220.3h.8M286.0 243.7h.8M279.1 236.6h.8M275.8 241.3h.8M273.7 233.7h.8M272.2 228.0h.8M290.1 230.4h.8M287.6 218.3h.8M267.1 227.4h.8M297.5 239.2h.8M300.7 225.4h.8M284.8 234.8h.8M276.2 238.2h.8M278.5 236.8h.8M261.3 227.2h.8M269.0 248.2h.8M287.5 223.4h.8M283.7 227.3h.8M267.7 227.2h.8M308.1 228.6h.8M277.9 243.2h.8M281.6 223.3h.8M300.0 247.3h.8M286.6 224.5h.8M278.2 233.9h.8M267.9 256.3h.8M278.9 228.3h.8M276.2 230.6h.8M254.0 238.2h.8M290.3 232.7h.8M283.2 231.5h.8M261.6 240.6h.8M285.5 223.2h.8M267.7 230.0h.8M265.8 214.7h.8M274.9 228.6h.8M280.0 242.4h.8M269.9 221.6h.8M277.8 238.5h.8M293.0 238.1h.8M280.1 233.0h.8M261.8 241.4h.8M286.5 230.9h.8M275.9 236.7h.8M283.1 236.3h.8M282.9 219.7h.8M273.3 220.3h.8M286.6 252.6h.8M271.0 233.0h.8M281.3 226.6h.8M295.5 231.7h.8M300.0 247.9h.8M283.6 225.8h.8M291.8 228.4h.8M270.8 232.5h.8M289.9 224.4h.8M276.6 240.3h.8M276.0 240.5h.8M290.8 226.7h.8M267.2 225.1h.8M291.3 235.2h.8M279.5 229.5h.8M289.3 227.1h.8M305.5 230.9h.8M263.0 244.1h.8M281.3 232.3h.8M277.0 242.9h.8M274.0 246.3h.8M271.3 241.5h.8M264.0 243.2h.8M269.2 232.5h.8M286.1 225.3h.8M284.0 231.9h.8M291.6 237.9h.8M281.2 230.8h.8M269.9 245.8h.8M276.4 223.0h.8M270.8 218.8h.8M270.1 230.6h.8M281.1 239.8h.8M286.8 216.6h.8M274.0 238.4h.8M282.0 232.1h.8M270.9 239.8h.8M277.8 230.9h.8M277.5 231.1h.8M281.6 241.2h.8M279.3 227.5h.8M277.5 231.7h.8M283.5 238.1h.8M294.8 237.3h.8M262.0 228.7h.8M266.2 237.3h.8M301.6 232.5h.8M273.1 244.9h.8M284.7 225.1h.8M269.2 246.3h.8M286.1 214.5h.8M271.2 238.6h.8M265.3 235.0h.8M269.9 220.6h.8M273.5 229.3h.8M281.3 218.3h.8M281.1 229.3h.8M262.8 245.2h.8M274.1 236.9h.8M293.9 233.5h.8M287.7 232.9h.8M272.8 235.3h.8" stroke="#5e5e5e" stroke-width="1" stroke-opacity=".6" fill="none" filter="url(#bl)"/>
<line x1="278" y1="191.3" x2="278" y2="259.2" stroke="#333" stroke-width="0.8" />
<line x1="248.7" y1="235.4" x2="314.7" y2="235.4" stroke="#333" stroke-width="0.8" />
<text x="251" y="204.8" font-family="Liberation Serif, serif" font-size="10" font-weight="bold" text-anchor="start" fill="#000" textLength="25.5" lengthAdjust="spacingAndGlyphs" stroke="#000" stroke-width="0.22" >10.7%</text>
<text x="283.8" y="204.8" font-family="Liberation Serif, serif" font-size="10" font-weight="bold" text-anchor="start" fill="#000" textLength="27.2" lengthAdjust="spacingAndGlyphs" stroke="#000" stroke-width="0.22" >24.3%</text>
<text x="285" y="257.8" font-family="Liberation Serif, serif" font-size="10" font-weight="bold" text-anchor="start" fill="#000" textLength="25.6" lengthAdjust="spacingAndGlyphs" stroke="#000" stroke-width="0.22" >10.6%</text>
<path d="M248.7 259.2v1.6M247.1 259.2h1.6M253.7 259.2v0.9M247.8 254.1h0.9M256.6 259.2v0.9M247.8 251.1h0.9M258.6 259.2v0.9M247.8 249.0h0.9M260.2 259.2v0.9M247.8 247.3h0.9M261.5 259.2v0.9M247.8 246.0h0.9M262.6 259.2v0.9M247.8 244.9h0.9M263.6 259.2v0.9M247.8 243.9h0.9M264.4 259.2v0.9M247.8 243.0h0.9M265.2 259.2v1.6M247.1 242.2h1.6M270.2 259.2v0.9M247.8 237.1h0.9M273.1 259.2v0.9M247.8 234.1h0.9M275.1 259.2v0.9M247.8 232.0h0.9M276.7 259.2v0.9M247.8 230.4h0.9M278.0 259.2v0.9M247.8 229.0h0.9M279.1 259.2v0.9M247.8 227.9h0.9M280.1 259.2v0.9M247.8 226.9h0.9M280.9 259.2v0.9M247.8 226.0h0.9M281.7 259.2v1.6M247.1 225.2h1.6M286.7 259.2v0.9M247.8 220.1h0.9M289.6 259.2v0.9M247.8 217.2h0.9M291.6 259.2v0.9M247.8 215.0h0.9M293.2 259.2v0.9M247.8 213.4h0.9M294.5 259.2v0.9M247.8 212.0h0.9M295.6 259.2v0.9M247.8 210.9h0.9M296.6 259.2v0.9M247.8 209.9h0.9M297.4 259.2v0.9M247.8 209.1h0.9M298.2 259.2v1.6M247.1 208.3h1.6M303.2 259.2v0.9M247.8 203.2h0.9M306.1 259.2v0.9M247.8 200.2h0.9M308.1 259.2v0.9M247.8 198.1h0.9M309.7 259.2v0.9M247.8 196.4h0.9M311.0 259.2v0.9M247.8 195.1h0.9M312.1 259.2v0.9M247.8 193.9h0.9M313.1 259.2v0.9M247.8 192.9h0.9M313.9 259.2v0.9M247.8 192.1h0.9M314.7 259.2v1.6M247.1 191.3h1.6" stroke="#555" stroke-width=".5" fill="none"/>
<text x="248.4" y="265.5" font-family="Liberation Sans, sans-serif" font-size="3.6" fill="#333" text-anchor="middle">10<tspan font-size="2.6" dy="-1.5">0</tspan></text>
<text x="245.5" y="259.5" font-family="Liberation Sans, sans-serif" font-size="3.6" fill="#333" text-anchor="middle" transform="rotate(-90 245.5 259.5)">10<tspan font-size="2.6" dy="-1.5">0</tspan></text>
<text x="264.9" y="265.5" font-family="Liberation Sans, sans-serif" font-size="3.6" fill="#333" text-anchor="middle">10<tspan font-size="2.6" dy="-1.5">1</tspan></text>
<text x="245.5" y="242.53" font-family="Liberation Sans, sans-serif" font-size="3.6" fill="#333" text-anchor="middle" transform="rotate(-90 245.5 242.53)">10<tspan font-size="2.6" dy="-1.5">1</tspan></text>
<text x="281.4" y="265.5" font-family="Liberation Sans, sans-serif" font-size="3.6" fill="#333" text-anchor="middle">10<tspan font-size="2.6" dy="-1.5">2</tspan></text>
<text x="245.5" y="225.55" font-family="Liberation Sans, sans-serif" font-size="3.6" fill="#333" text-anchor="middle" transform="rotate(-90 245.5 225.55)">10<tspan font-size="2.6" dy="-1.5">2</tspan></text>
<text x="297.9" y="265.5" font-family="Liberation Sans, sans-serif" font-size="3.6" fill="#333" text-anchor="middle">10<tspan font-size="2.6" dy="-1.5">3</tspan></text>
<text x="245.5" y="208.58" font-family="Liberation Sans, sans-serif" font-size="3.6" fill="#333" text-anchor="middle" transform="rotate(-90 245.5 208.58)">10<tspan font-size="2.6" dy="-1.5">3</tspan></text>
<text x="314.4" y="265.5" font-family="Liberation Sans, sans-serif" font-size="3.6" fill="#333" text-anchor="middle">10<tspan font-size="2.6" dy="-1.5">4</tspan></text>
<text x="245.5" y="191.6" font-family="Liberation Sans, sans-serif" font-size="3.6" fill="#333" text-anchor="middle" transform="rotate(-90 245.5 191.6)">10<tspan font-size="2.6" dy="-1.5">4</tspan></text>
<text x="281.7" y="270.2" font-family="Liberation Sans, sans-serif" font-size="3.8" font-weight="normal" text-anchor="middle" fill="#333" textLength="16.5" lengthAdjust="spacingAndGlyphs" >CCR7-PE</text>
<text x="239.1" y="221" font-family="Liberation Sans, sans-serif" font-size="3.8" fill="#333" text-anchor="middle" textLength="16.5" lengthAdjust="spacingAndGlyphs" transform="rotate(-90 239.1 221)">CD83-FITC</text>
<rect x="246" y="281.6" width="67.9" height="42.9" fill="#fff" stroke="#777" stroke-width="0.8"/>
<polyline points="256.0,324.0 256.6,323.8 257.4,323.7 258.3,323.4 259.3,323.1 260.2,322.6 261.0,322.0 261.6,321.2 262.2,320.3 262.7,319.3 263.1,318.1 263.6,316.7 264.0,315.0 264.4,312.9 264.8,310.4 265.1,307.7 265.4,304.9 265.7,302.3 266.0,300.0 266.2,298.0 266.4,296.2 266.6,294.5 266.8,292.9 267.0,291.4 267.2,290.0 267.5,288.5 267.8,287.0 268.1,285.6 268.4,284.4 268.8,283.6 269.1,283.3 269.4,283.6 269.8,284.4 270.2,285.6 270.6,287.0 270.9,288.5 271.2,290.0 271.5,291.4 271.7,293.0 271.9,294.6 272.1,296.3 272.3,298.1 272.5,300.0 272.7,302.1 272.8,304.4 273.0,306.9 273.2,309.2 273.4,311.4 273.7,313.3 274.1,314.8 274.6,316.2 275.1,317.3 275.7,318.3 276.3,319.1 276.9,319.8 277.5,320.3 278.1,320.6 278.7,320.8 279.4,320.8 280.1,320.9 281.0,321.0 282.0,321.1 283.2,321.2 284.4,321.3 285.6,321.4 286.9,321.5 288.0,321.5 289.1,321.5 290.1,321.4 291.1,321.4 292.1,321.3 293.1,321.3 294.0,321.3 294.9,321.4 295.7,321.6 296.5,321.8 297.3,322.0 298.1,322.3 299.0,322.5 299.9,322.7 300.9,323.0 301.8,323.2 302.8,323.4 303.9,323.6 305.0,323.8 306.3,323.9 307.8,324.0 309.4,324.0 310.9,324.0 312.1,324.0 313.0,324.0" fill="none" stroke="#333" stroke-width=".85" stroke-dasharray="1 .9"/>
<line x1="274.8" y1="312.5" x2="313.9" y2="312.5" stroke="#555" stroke-width=".7"/>
<line x1="274.8" y1="309.5" x2="274.8" y2="314.8" stroke="#555" stroke-width=".7"/>
<text x="295.4" y="317.5" font-family="Liberation Sans, sans-serif" font-size="2.8" fill="#777" text-anchor="middle">M1</text>
<polyline points="246.0,323.8 246.6,323.8 247.4,323.6 248.4,323.6 249.5,323.7 250.7,323.6 251.9,323.6 253.2,323.4 254.4,323.4 255.5,323.5 256.5,323.3 257.3,323.2 258.0,323.2 258.5,323.0 258.8,323.1 259.0,323.2 259.1,323.1 259.1,322.9 259.1,323.1 259.0,322.9 259.0,322.8 258.9,322.8 258.9,322.7 259.0,322.5 259.1,322.5 259.3,322.2 259.5,321.2 259.8,321.9 260.0,322.0 260.3,320.4 260.6,320.2 260.9,319.8 261.2,319.8 261.5,319.4 261.8,318.4 262.1,319.2 262.3,318.5 262.5,317.2 262.7,317.1 263.0,316.3 263.2,316.0 263.4,314.5 263.6,314.8 263.8,313.8 264.0,312.9 264.1,312.1 264.3,311.5 264.5,310.0 264.7,310.5 264.9,309.4 265.1,308.4 265.2,308.0 265.4,308.0 265.6,307.5 265.7,306.2 265.9,305.9 266.1,306.2 266.3,304.4 266.4,304.4 266.6,304.7 266.8,303.9 267.0,303.1 267.2,302.5 267.4,301.5 267.6,301.9 267.8,300.9 268.1,300.0 268.3,300.8 268.5,299.2 268.7,299.4 268.9,299.4 269.1,299.0 269.3,298.8 269.5,299.2 269.6,298.7 269.8,299.5 270.0,299.3 270.1,300.4 270.2,300.6 270.4,300.1 270.5,301.5 270.7,301.3 270.9,301.6 271.0,301.8 271.2,302.2 271.4,302.5 271.6,303.3 271.8,304.0 272.0,305.0 272.2,305.9 272.4,306.1 272.6,307.1 272.9,307.7 273.1,308.1 273.3,307.9 273.5,308.1 273.7,309.3 273.9,309.5 274.1,310.8 274.3,309.9 274.5,311.6 274.7,311.1 274.9,312.1 275.0,312.6 275.2,312.6 275.4,313.4 275.7,313.9 275.9,313.2 276.1,314.5 276.3,315.1 276.6,315.2 276.8,315.2 277.1,315.5 277.3,315.1 277.6,316.1 277.9,316.0 278.1,316.1 278.4,317.3 278.7,316.6 279.0,316.7 279.3,317.7 279.6,317.3 279.9,317.8 280.3,316.8 280.6,317.8 281.0,317.1 281.3,317.6 281.7,317.1 282.1,316.6 282.4,316.6 282.8,316.1 283.1,316.6 283.4,315.9 283.7,317.0 284.0,316.1 284.3,316.1 284.5,316.2 284.8,316.3 285.0,316.9 285.3,315.6 285.6,316.0 285.8,316.2 286.1,316.1 286.3,316.5 286.6,316.0 286.9,316.0 287.2,315.9 287.4,315.3 287.7,315.2 288.0,314.7 288.3,314.4 288.6,315.4 288.9,314.8 289.1,313.9 289.4,314.8 289.7,314.2 289.9,314.2 290.1,314.7 290.3,314.1 290.5,314.8 290.7,315.1 290.9,315.1 291.1,314.6 291.3,314.7 291.5,315.8 291.7,315.9 291.9,315.8 292.1,316.8 292.3,316.6 292.5,317.5 292.8,316.6 293.0,317.9 293.3,318.5 293.5,317.7 293.8,318.1 294.1,318.9 294.3,319.0 294.6,319.8 294.9,319.4 295.2,319.7 295.5,320.0 295.8,320.3 296.1,320.9 296.4,321.8 296.8,321.7 297.1,321.4 297.4,322.1 297.8,322.4 298.1,322.6 298.5,322.6 298.8,322.9 299.2,322.9 299.6,323.2 300.0,323.2 300.4,323.3 300.8,323.5 301.2,323.4 301.6,323.4 302.0,323.4 302.4,323.6 302.9,323.6 303.4,323.6 303.9,323.4 304.4,323.5 305.0,323.5 305.6,323.5 306.4,323.5 307.2,323.6 308.0,323.8 308.9,323.8 309.8,323.8 310.6,323.7 311.5,323.7 312.2,323.9 312.9,323.7 313.5,323.7 313.9,323.9" fill="none" stroke="#000" stroke-width="1.65" stroke-linejoin="round"/>
<text x="284.5" y="297.8" font-family="Liberation Serif, serif" font-size="10" font-weight="bold" text-anchor="start" fill="#000" textLength="25.4" lengthAdjust="spacingAndGlyphs" stroke="#000" stroke-width="0.22" >35.2%</text>
<path d="M246.0 324.5v1.6M251.1 324.5v0.9M254.1 324.5v0.9M256.2 324.5v0.9M257.9 324.5v0.9M259.2 324.5v0.9M260.3 324.5v0.9M261.3 324.5v0.9M262.2 324.5v0.9M263.0 324.5v1.6M268.1 324.5v0.9M271.1 324.5v0.9M273.2 324.5v0.9M274.8 324.5v0.9M276.2 324.5v0.9M277.3 324.5v0.9M278.3 324.5v0.9M279.2 324.5v0.9M279.9 324.5v1.6M285.1 324.5v0.9M288.0 324.5v0.9M290.2 324.5v0.9M291.8 324.5v0.9M293.2 324.5v0.9M294.3 324.5v0.9M295.3 324.5v0.9M296.1 324.5v0.9M296.9 324.5v1.6M302.0 324.5v0.9M305.0 324.5v0.9M307.1 324.5v0.9M308.8 324.5v0.9M310.1 324.5v0.9M311.3 324.5v0.9M312.3 324.5v0.9M313.1 324.5v0.9M313.9 324.5v1.6" stroke="#555" stroke-width=".5" fill="none"/>
<text x="246" y="330" font-family="Liberation Sans, sans-serif" font-size="3.6" fill="#333" text-anchor="middle">10<tspan font-size="2.6" dy="-1.5">0</tspan></text>
<text x="262.98" y="330" font-family="Liberation Sans, sans-serif" font-size="3.6" fill="#333" text-anchor="middle">10<tspan font-size="2.6" dy="-1.5">1</tspan></text>
<text x="279.95" y="330" font-family="Liberation Sans, sans-serif" font-size="3.6" fill="#333" text-anchor="middle">10<tspan font-size="2.6" dy="-1.5">2</tspan></text>
<text x="296.92" y="330" font-family="Liberation Sans, sans-serif" font-size="3.6" fill="#333" text-anchor="middle">10<tspan font-size="2.6" dy="-1.5">3</tspan></text>
<text x="313.9" y="330" font-family="Liberation Sans, sans-serif" font-size="3.6" fill="#333" text-anchor="middle">10<tspan font-size="2.6" dy="-1.5">4</tspan></text>
<line x1="244.5" y1="324.5" x2="246" y2="324.5" stroke="#777" stroke-width="0.6" />
<text x="242.5" y="324.5" font-family="Liberation Sans, sans-serif" font-size="3.4" fill="#333" text-anchor="middle" transform="rotate(-90 242.5 324.5)">0</text>
<line x1="244.5" y1="315.92" x2="246" y2="315.92" stroke="#777" stroke-width="0.6" />
<text x="242.5" y="315.92" font-family="Liberation Sans, sans-serif" font-size="3.4" fill="#333" text-anchor="middle" transform="rotate(-90 242.5 315.92)">20</text>
<line x1="244.5" y1="307.34" x2="246" y2="307.34" stroke="#777" stroke-width="0.6" />
<text x="242.5" y="307.34" font-family="Liberation Sans, sans-serif" font-size="3.4" fill="#333" text-anchor="middle" transform="rotate(-90 242.5 307.34)">40</text>
<line x1="244.5" y1="298.76" x2="246" y2="298.76" stroke="#777" stroke-width="0.6" />
<text x="242.5" y="298.76" font-family="Liberation Sans, sans-serif" font-size="3.4" fill="#333" text-anchor="middle" transform="rotate(-90 242.5 298.76)">60</text>
<line x1="244.5" y1="290.18" x2="246" y2="290.18" stroke="#777" stroke-width="0.6" />
<text x="242.5" y="290.18" font-family="Liberation Sans, sans-serif" font-size="3.4" fill="#333" text-anchor="middle" transform="rotate(-90 242.5 290.18)">80</text>
<line x1="244.5" y1="281.6" x2="246" y2="281.6" stroke="#777" stroke-width="0.6" />
<text x="242.5" y="281.6" font-family="Liberation Sans, sans-serif" font-size="3.4" fill="#333" text-anchor="middle" transform="rotate(-90 242.5 281.6)">100</text>
<text x="280" y="334.3" font-family="Liberation Sans, sans-serif" font-size="3.8" font-weight="normal" text-anchor="middle" fill="#333" textLength="15.5" lengthAdjust="spacingAndGlyphs" >CCR7-PE</text>
<text x="238" y="304" font-family="Liberation Sans, sans-serif" font-size="3.6" fill="#333" text-anchor="middle" textLength="11" lengthAdjust="spacingAndGlyphs" transform="rotate(-90 238 304)">Counts</text>
<text x="364.8" y="181.9" font-family="Liberation Serif, serif" font-size="9.6" font-weight="bold" text-anchor="start" fill="#000" textLength="33.7" lengthAdjust="spacingAndGlyphs" stroke="#000" stroke-width="0.22" >1:8/TNF</text>
<rect x="349.3" y="191.3" width="66" height="67.9" fill="#fff" stroke="#666" stroke-width="0.9"/>
<path d="M369.4 249.4h.8M370.5 242.1h.8M367.1 247.4h.8M375.2 236.1h.8M366.1 240.6h.8M364.9 248.3h.8M369.3 241.8h.8M367.2 239.3h.8M366.5 249.0h.8M368.4 237.5h.8M373.8 239.1h.8M376.5 248.2h.8M377.0 243.4h.8M370.6 242.2h.8M378.2 237.6h.8M369.7 242.9h.8M369.5 235.0h.8M370.7 241.5h.8M367.5 244.6h.8M368.4 246.6h.8M367.9 241.4h.8M368.6 240.4h.8M367.8 231.7h.8M371.4 242.6h.8M368.0 239.7h.8M375.3 242.6h.8M373.9 245.0h.8M367.8 240.9h.8M376.0 237.3h.8M373.2 234.2h.8M371.0 243.0h.8M369.7 244.8h.8M370.9 238.7h.8M371.0 241.1h.8M374.5 232.3h.8M365.9 238.7h.8M367.3 242.4h.8M371.0 240.6h.8M371.7 244.4h.8M367.7 245.2h.8M373.8 242.9h.8M374.1 239.0h.8M371.4 240.4h.8M383.3 236.8h.8M384.7 232.4h.8M376.6 239.1h.8M372.3 238.3h.8M372.3 238.4h.8M376.2 235.0h.8M367.8 235.4h.8M367.1 246.8h.8M377.0 237.2h.8M369.7 238.4h.8M365.1 244.7h.8M366.1 238.9h.8M371.6 240.9h.8M362.4 242.6h.8M373.7 240.0h.8M374.9 239.6h.8M375.9 239.2h.8M373.0 235.9h.8M370.0 239.6h.8M377.9 245.2h.8M377.2 241.3h.8M377.5 238.0h.8M364.5 239.0h.8M372.0 237.5h.8M374.1 242.0h.8M368.8 239.1h.8M367.9 244.1h.8M367.4 245.3h.8M376.5 238.0h.8M372.2 237.9h.8M378.4 235.0h.8M371.7 240.8h.8M368.0 242.3h.8M373.9 240.2h.8M373.5 236.4h.8M367.5 237.9h.8M381.7 245.2h.8M375.8 238.3h.8M378.0 238.3h.8M369.0 241.7h.8M372.4 240.2h.8M367.5 242.6h.8M370.5 237.1h.8M375.5 241.0h.8M377.3 240.4h.8M377.5 237.4h.8M377.0 238.5h.8M365.4 239.8h.8M375.1 240.3h.8M365.4 242.3h.8M377.1 236.3h.8M364.0 250.3h.8M369.7 239.8h.8M367.2 240.7h.8M365.9 244.2h.8M375.1 235.1h.8M376.9 238.1h.8M375.9 242.8h.8M374.1 237.8h.8M372.9 240.0h.8M368.5 239.3h.8M368.1 239.6h.8M368.1 240.5h.8M380.5 235.4h.8M368.2 240.8h.8M368.1 240.2h.8M379.2 236.2h.8M373.0 241.6h.8M368.8 238.7h.8M373.2 241.7h.8M380.2 240.8h.8M372.3 241.4h.8M370.9 241.3h.8M372.8 234.4h.8M358.0 240.4h.8M376.6 237.5h.8M375.3 244.8h.8M382.8 239.1h.8M372.8 235.1h.8M377.1 244.1h.8M373.6 231.9h.8M367.0 242.6h.8M374.6 237.4h.8M367.4 235.8h.8M372.8 244.6h.8M375.8 230.4h.8M371.1 243.7h.8M368.4 241.4h.8M378.0 239.5h.8M370.8 236.9h.8M374.2 242.7h.8M375.8 243.2h.8M374.5 241.1h.8M376.3 241.1h.8M377.3 237.0h.8M372.9 241.5h.8M370.1 239.3h.8M370.0 240.1h.8M379.0 243.6h.8M367.7 242.8h.8M378.3 241.2h.8M364.1 239.7h.8M374.9 241.9h.8M370.8 241.0h.8M365.8 243.1h.8M363.6 241.7h.8M366.1 242.5h.8M373.2 243.4h.8M371.7 244.1h.8M368.0 237.7h.8M372.2 246.2h.8M377.0 244.6h.8M373.5 238.6h.8M373.7 244.2h.8M376.6 240.6h.8M362.8 242.1h.8M374.0 245.5h.8M376.1 241.7h.8M367.1 242.7h.8M366.9 241.5h.8M369.2 235.8h.8M376.0 239.8h.8M369.0 245.7h.8M375.1 234.5h.8M379.8 234.5h.8M370.2 240.4h.8M368.7 233.8h.8M375.3 237.9h.8M375.1 242.7h.8M373.3 242.6h.8M374.9 246.1h.8M379.7 237.8h.8M362.9 237.9h.8M375.3 237.9h.8M368.3 243.0h.8M374.2 246.1h.8M369.0 244.1h.8M375.1 236.2h.8M377.4 240.7h.8M375.6 242.2h.8M371.3 246.6h.8M366.4 239.6h.8M371.6 232.8h.8M364.8 244.2h.8M377.8 246.5h.8M377.1 242.0h.8M369.5 241.8h.8M374.4 242.6h.8M374.5 243.4h.8M379.1 239.0h.8M374.8 237.2h.8M371.7 241.3h.8M366.7 239.7h.8M369.3 238.0h.8M369.7 245.6h.8M375.4 237.7h.8M371.2 239.7h.8M361.6 241.5h.8M379.1 240.2h.8M369.3 241.4h.8M362.7 234.3h.8M369.4 242.1h.8M369.5 240.5h.8M377.7 238.7h.8M369.3 241.0h.8M371.1 240.5h.8M374.7 243.0h.8M369.5 244.6h.8M370.5 239.6h.8M377.3 237.8h.8M369.9 240.4h.8M375.5 238.9h.8M371.4 245.9h.8M367.9 241.3h.8M378.8 243.6h.8M375.7 231.1h.8M369.0 237.4h.8M372.7 239.6h.8M362.1 243.9h.8M363.0 240.2h.8M371.8 237.5h.8M372.2 240.1h.8M371.2 240.0h.8M372.1 241.0h.8M373.4 244.3h.8M365.8 243.6h.8M374.6 238.1h.8M380.4 242.1h.8M383.2 237.5h.8M376.0 237.3h.8M379.6 244.1h.8M375.3 238.9h.8M371.8 241.4h.8M368.3 242.4h.8M368.6 243.5h.8M372.6 236.8h.8M374.2 244.1h.8M369.3 240.9h.8M367.3 241.7h.8M370.8 248.1h.8M376.6 239.7h.8M374.9 237.6h.8M374.8 236.8h.8M369.7 243.6h.8M378.8 235.2h.8M380.8 235.6h.8M371.1 241.4h.8M368.6 236.6h.8M369.3 243.1h.8M370.0 234.6h.8M373.6 242.6h.8M369.4 243.3h.8M371.2 239.8h.8M366.8 246.5h.8M375.6 241.4h.8M383.7 236.9h.8M368.7 235.0h.8M367.6 238.5h.8M376.4 240.5h.8M373.2 240.2h.8M361.1 241.3h.8M366.6 243.7h.8M375.5 243.4h.8M382.5 233.3h.8M374.4 240.9h.8M365.9 242.1h.8M377.6 236.7h.8M368.7 239.7h.8M368.6 237.2h.8M371.1 240.4h.8M368.0 243.1h.8M366.4 243.5h.8M372.5 236.1h.8M372.6 244.2h.8M369.8 240.2h.8M365.9 239.0h.8M366.7 237.0h.8M371.2 239.0h.8M369.6 243.3h.8M364.5 236.0h.8M365.7 246.0h.8M374.7 240.2h.8M361.4 240.1h.8M370.0 233.3h.8M374.7 239.3h.8M373.7 239.3h.8M368.3 239.8h.8M374.3 242.0h.8M369.0 235.7h.8M373.5 242.9h.8M377.3 238.6h.8M379.0 226.0h.8M372.2 241.1h.8M375.0 234.1h.8M367.7 246.9h.8M369.6 237.7h.8M368.0 235.2h.8M365.3 241.1h.8M371.7 241.7h.8M378.8 241.8h.8M379.7 238.8h.8M374.6 237.0h.8M379.2 244.2h.8M365.1 240.2h.8M370.5 238.1h.8M376.6 237.8h.8M367.8 238.9h.8M360.6 238.4h.8M372.7 242.4h.8M368.8 235.6h.8M363.2 242.0h.8M368.0 240.5h.8M369.6 243.6h.8M369.3 242.3h.8M374.7 238.1h.8M371.9 242.0h.8M369.3 241.0h.8M368.7 241.6h.8M368.6 241.2h.8M371.6 249.3h.8M376.5 240.9h.8M374.6 234.6h.8M373.6 242.5h.8M364.1 239.3h.8M376.2 237.6h.8M371.9 241.1h.8M362.5 238.7h.8M370.9 246.0h.8M371.1 240.2h.8M373.0 244.0h.8M371.4 242.1h.8M369.6 239.1h.8M359.7 234.5h.8M374.6 240.5h.8M375.4 242.2h.8M372.7 234.4h.8M369.4 243.6h.8M365.5 240.2h.8M380.2 242.7h.8M373.6 234.7h.8M376.2 242.0h.8M378.0 245.7h.8M372.0 241.8h.8M365.6 241.0h.8M364.0 243.6h.8M366.5 239.8h.8M373.4 238.5h.8M369.3 240.6h.8M371.9 238.1h.8M364.4 239.3h.8M372.9 241.0h.8M364.7 241.4h.8M372.5 243.3h.8M377.5 237.7h.8M374.1 244.3h.8M371.0 241.4h.8M379.5 239.6h.8M374.5 239.4h.8M370.2 234.7h.8M377.5 247.1h.8M372.2 239.6h.8M371.6 246.1h.8M369.2 242.0h.8M380.8 240.5h.8M375.9 238.4h.8M370.7 235.3h.8M375.0 239.8h.8M364.7 242.1h.8M380.8 236.0h.8M372.2 236.1h.8M364.2 250.0h.8M370.4 231.5h.8M370.0 244.5h.8M366.4 242.2h.8M375.1 237.2h.8M370.6 236.4h.8M378.4 235.6h.8M365.6 253.2h.8M376.3 234.8h.8M369.0 237.4h.8M372.5 241.5h.8M367.0 245.0h.8M374.3 237.5h.8M369.2 236.2h.8M379.7 234.6h.8M378.8 239.7h.8M368.3 249.1h.8M375.3 241.2h.8M377.4 240.7h.8M373.0 240.6h.8M368.7 239.9h.8M380.7 239.4h.8M374.0 236.5h.8M374.8 236.1h.8M372.7 239.1h.8M378.0 240.7h.8M369.3 245.2h.8M370.8 236.3h.8M367.9 249.2h.8M367.3 243.7h.8M369.8 240.6h.8M364.8 240.2h.8M374.6 244.8h.8M360.3 244.8h.8M369.7 241.7h.8M374.5 238.6h.8M377.8 238.1h.8M367.9 244.4h.8M374.1 233.2h.8M373.7 242.3h.8M375.8 242.1h.8M370.5 243.4h.8M364.2 233.7h.8M372.7 244.4h.8M365.7 243.4h.8M369.7 242.7h.8M368.3 248.5h.8M359.5 242.6h.8M374.1 240.3h.8M373.1 239.4h.8M368.6 239.8h.8M374.7 243.0h.8M375.3 236.6h.8M374.3 240.2h.8M379.3 238.9h.8M367.0 240.7h.8M370.6 241.5h.8M372.2 247.1h.8M365.0 246.6h.8M377.9 238.0h.8M369.8 244.4h.8M373.6 241.9h.8M370.3 241.4h.8M374.5 236.7h.8M367.1 245.0h.8M367.2 242.0h.8M367.3 243.6h.8M369.5 243.9h.8M362.0 243.4h.8M374.4 233.4h.8M359.7 244.0h.8M379.6 241.7h.8M370.6 239.9h.8M373.5 237.5h.8M369.9 239.9h.8M367.0 237.0h.8M368.5 243.4h.8M374.0 232.6h.8M375.1 239.9h.8M367.1 240.6h.8M368.3 245.0h.8M376.0 234.5h.8M363.9 246.3h.8M373.7 239.8h.8M376.3 248.5h.8M374.1 241.6h.8M379.8 239.0h.8M372.6 243.7h.8M374.7 239.9h.8M371.7 237.8h.8M361.2 245.8h.8M368.4 237.8h.8M380.9 237.3h.8M376.5 238.2h.8M374.0 242.2h.8M372.7 242.9h.8M375.1 244.2h.8M371.3 239.8h.8M374.5 234.1h.8M357.8 242.1h.8M372.1 240.9h.8M373.0 241.5h.8M371.8 235.5h.8M377.4 244.1h.8M369.7 236.2h.8M370.5 244.0h.8M377.5 238.9h.8M375.8 241.1h.8M364.5 239.4h.8M367.9 240.5h.8M368.7 237.1h.8M364.4 232.6h.8M374.5 238.3h.8M371.4 238.0h.8M370.2 241.6h.8M371.9 237.9h.8M374.2 235.8h.8M374.3 235.1h.8M374.3 245.3h.8M373.0 236.7h.8M372.0 237.3h.8M375.7 242.2h.8M375.1 241.4h.8M379.4 236.1h.8M371.1 237.0h.8M374.5 243.4h.8M378.0 242.6h.8M371.7 239.0h.8M368.7 244.8h.8M365.6 244.9h.8M378.8 240.7h.8M369.4 238.6h.8M373.3 241.1h.8M374.1 243.3h.8M371.5 240.9h.8M370.1 241.4h.8M379.6 240.2h.8M368.1 239.4h.8M370.0 244.2h.8M365.3 243.6h.8M374.1 244.3h.8M365.0 236.1h.8M374.2 234.5h.8M369.8 240.1h.8M376.5 236.6h.8M367.5 239.0h.8M373.1 241.1h.8M375.5 237.7h.8M363.1 246.3h.8M366.9 241.4h.8M366.6 243.6h.8M365.5 237.7h.8M378.7 240.8h.8M368.6 233.2h.8M369.7 242.2h.8M374.9 239.5h.8M377.0 233.0h.8M370.6 237.7h.8M365.0 241.1h.8M370.2 245.2h.8M377.3 239.1h.8M367.0 238.9h.8M370.8 247.4h.8M375.6 242.0h.8M360.7 235.2h.8M376.5 247.3h.8M370.2 239.8h.8M370.0 242.4h.8M376.1 236.2h.8M372.2 239.6h.8M362.5 244.5h.8M373.8 242.6h.8M364.1 236.8h.8M371.8 242.9h.8M377.0 240.8h.8M370.2 239.8h.8M374.7 242.8h.8M370.1 239.9h.8M375.5 236.8h.8M366.2 237.8h.8M366.6 244.5h.8M365.1 245.1h.8M369.6 240.6h.8M369.9 241.6h.8M372.6 239.4h.8M364.0 243.6h.8M370.2 241.0h.8M372.5 243.8h.8M371.0 247.1h.8M373.4 248.6h.8M369.7 238.4h.8M365.6 243.6h.8M376.4 246.2h.8M375.6 243.9h.8M362.1 241.5h.8M373.3 241.2h.8M367.8 240.0h.8M371.1 243.6h.8M371.7 236.1h.8M375.2 243.9h.8M371.2 240.6h.8M370.5 244.1h.8M367.6 241.2h.8M376.3 245.0h.8M375.5 242.5h.8M372.6 237.2h.8M369.1 238.4h.8M370.0 239.6h.8M382.0 236.8h.8M377.9 238.1h.8M364.8 242.7h.8M374.4 233.0h.8M366.9 241.3h.8M372.5 243.0h.8M370.5 239.2h.8M370.0 239.9h.8M371.7 237.9h.8M362.3 244.1h.8M371.0 238.8h.8M368.9 237.8h.8M374.5 239.8h.8M367.2 238.5h.8M364.4 241.5h.8M364.0 244.6h.8M368.5 239.0h.8M372.8 245.2h.8M368.5 240.3h.8M361.5 245.3h.8M367.7 242.5h.8M369.9 239.8h.8M364.6 247.7h.8M373.6 240.5h.8M369.1 242.8h.8M376.6 240.7h.8M370.3 240.1h.8M370.0 236.3h.8M368.7 238.9h.8M359.1 232.6h.8M374.7 237.9h.8M375.5 240.3h.8M371.4 236.8h.8M365.8 237.7h.8M368.1 242.0h.8M371.1 236.5h.8M366.8 240.7h.8M364.9 240.1h.8M374.6 235.1h.8M362.5 239.6h.8M372.0 234.3h.8M379.9 243.8h.8M367.6 241.9h.8M371.0 238.3h.8M370.0 239.9h.8M367.4 235.6h.8M370.2 236.3h.8M371.7 238.0h.8M365.2 242.1h.8M369.2 248.7h.8M376.6 237.8h.8M375.2 240.2h.8M370.3 236.3h.8M369.9 236.3h.8M373.6 233.4h.8M376.3 238.4h.8M370.9 233.9h.8M370.9 249.0h.8M375.2 242.2h.8M379.7 242.6h.8M371.0 239.3h.8M367.4 245.8h.8M371.7 242.6h.8M369.3 244.0h.8M367.6 241.0h.8M368.5 248.5h.8M374.1 240.7h.8M372.5 244.3h.8M367.7 237.8h.8M376.2 238.4h.8M373.0 241.3h.8M369.4 239.9h.8M371.6 234.9h.8M370.9 249.6h.8M375.4 239.2h.8M374.3 243.1h.8M369.0 247.1h.8M374.8 242.9h.8M363.8 245.2h.8M369.2 241.8h.8M376.0 240.1h.8M367.6 243.5h.8M370.6 237.3h.8M368.9 240.5h.8M376.0 240.0h.8M369.5 237.9h.8M372.8 239.8h.8M373.8 241.8h.8M371.7 242.1h.8M377.3 248.2h.8M367.0 247.8h.8M375.2 237.6h.8M372.4 234.5h.8M367.0 237.6h.8M369.6 239.9h.8M366.8 237.6h.8M377.0 235.5h.8M364.6 241.7h.8M370.5 243.1h.8M374.6 243.9h.8M370.1 243.0h.8M369.6 233.3h.8M380.4 246.3h.8M368.1 243.9h.8M366.6 234.2h.8M376.2 234.1h.8M366.1 238.0h.8M376.9 239.8h.8M380.6 241.9h.8M369.7 245.6h.8M379.2 241.6h.8M371.7 241.6h.8M368.9 245.9h.8M367.8 239.4h.8M370.6 240.8h.8M372.0 241.9h.8M374.1 239.4h.8M367.3 236.9h.8M378.2 242.3h.8M373.7 234.4h.8M372.5 241.0h.8M364.4 234.1h.8M371.0 239.9h.8M370.0 239.2h.8M372.5 243.7h.8M369.6 237.7h.8M370.6 246.4h.8M368.5 243.7h.8M374.3 241.5h.8M371.1 239.9h.8M367.3 240.7h.8M369.1 238.6h.8M364.3 242.2h.8M373.4 239.4h.8M364.6 241.4h.8M373.6 240.4h.8M372.1 243.9h.8M374.4 240.0h.8M363.2 243.9h.8M380.9 237.3h.8M372.8 241.1h.8M365.9 239.6h.8M375.0 242.9h.8M376.0 238.0h.8M367.1 242.2h.8M362.6 235.5h.8M367.4 239.4h.8M369.1 236.7h.8M367.4 238.8h.8M377.7 242.9h.8M370.5 241.8h.8M368.9 242.7h.8M370.9 239.8h.8M374.2 236.0h.8M377.2 243.0h.8M365.9 244.0h.8M370.3 242.6h.8M367.9 245.0h.8M378.0 238.9h.8M363.3 241.6h.8M371.2 237.0h.8M380.3 241.1h.8M372.8 241.9h.8M368.6 246.0h.8M366.8 242.8h.8M375.6 244.9h.8M370.6 235.6h.8M372.1 239.8h.8M374.5 234.4h.8M366.6 241.7h.8M379.4 238.6h.8M372.3 240.0h.8M371.0 237.7h.8M379.6 240.6h.8M377.5 235.6h.8M365.2 240.2h.8M376.9 242.5h.8M369.3 247.2h.8M373.8 241.2h.8M370.6 244.9h.8M369.4 244.0h.8M368.4 241.0h.8M370.2 240.5h.8M365.3 243.3h.8M370.2 240.5h.8M361.0 241.0h.8M368.5 242.9h.8M375.4 233.9h.8M372.8 236.5h.8M371.6 242.1h.8M369.3 239.3h.8M369.7 239.1h.8M364.7 243.2h.8M368.6 238.5h.8M362.6 237.8h.8M371.5 236.6h.8M373.0 240.6h.8M371.4 241.2h.8M368.1 236.5h.8M382.8 241.3h.8M361.4 243.9h.8M373.6 245.0h.8M377.8 237.4h.8M369.1 248.9h.8M369.0 244.0h.8M367.3 241.2h.8M375.0 237.2h.8M374.5 241.8h.8M371.2 232.9h.8M378.3 241.6h.8M371.3 240.3h.8M361.3 240.0h.8M363.4 235.8h.8M370.1 238.1h.8M374.3 236.7h.8M374.6 242.3h.8M380.8 239.9h.8M380.7 240.0h.8M372.1 241.5h.8M368.1 237.0h.8M367.2 240.5h.8M367.5 243.5h.8M376.1 237.4h.8M375.3 236.6h.8M369.8 242.3h.8M364.1 241.2h.8M375.5 240.3h.8M369.3 238.3h.8M377.0 238.8h.8M371.2 238.2h.8M373.3 237.4h.8M374.5 242.8h.8M373.0 243.8h.8M375.1 238.0h.8M373.2 245.6h.8M367.4 244.8h.8M372.3 237.7h.8M371.5 242.1h.8M370.1 239.5h.8M372.6 239.7h.8M375.9 234.8h.8M371.4 230.6h.8M365.9 245.1h.8M371.0 240.5h.8M364.4 240.1h.8M369.8 243.4h.8M372.1 240.9h.8M371.8 241.4h.8M375.1 240.4h.8M363.7 241.3h.8M377.7 245.8h.8M374.0 236.8h.8M375.9 242.5h.8M373.5 240.3h.8M367.7 238.9h.8M376.8 237.3h.8M367.6 234.7h.8M366.3 241.3h.8M369.8 239.4h.8M372.0 241.8h.8M372.1 235.5h.8M375.1 246.5h.8M373.0 242.1h.8M367.1 246.5h.8M359.1 235.2h.8M370.5 234.4h.8M369.7 235.0h.8M359.5 240.8h.8M370.7 236.3h.8M367.0 238.5h.8M367.1 245.4h.8M374.4 235.5h.8M375.5 241.0h.8M359.3 247.4h.8M369.9 243.4h.8M372.2 240.7h.8M368.2 243.9h.8M369.8 240.3h.8M379.6 237.1h.8M373.5 243.5h.8M370.7 238.9h.8M371.5 243.0h.8M363.7 240.1h.8M372.5 237.1h.8M373.2 240.4h.8M369.7 241.9h.8M369.0 246.9h.8M367.2 241.5h.8M363.4 245.2h.8M378.3 239.0h.8M378.5 242.8h.8M374.8 237.3h.8M374.9 244.4h.8M376.2 230.6h.8M372.6 238.0h.8M376.7 247.0h.8M375.8 235.8h.8M373.3 240.8h.8M360.5 238.0h.8M370.4 236.0h.8M366.7 238.9h.8M374.0 236.8h.8M374.9 237.4h.8M357.2 244.5h.8M368.4 237.7h.8M376.0 240.0h.8M371.8 244.0h.8M375.7 240.8h.8M365.1 246.0h.8M367.8 246.2h.8M365.6 238.8h.8M373.5 233.1h.8M373.6 242.3h.8M377.1 240.7h.8M374.8 240.9h.8M375.0 237.9h.8M368.0 242.6h.8M372.4 236.2h.8M361.8 242.6h.8M371.6 241.0h.8M377.7 235.7h.8M370.6 234.2h.8M369.0 240.6h.8M373.7 245.3h.8M375.2 243.5h.8M362.2 246.4h.8M371.6 237.1h.8M375.3 242.9h.8M370.3 239.9h.8M368.5 241.1h.8M367.6 246.3h.8M373.0 239.4h.8M367.8 244.5h.8M380.4 236.4h.8M371.9 238.4h.8M371.3 235.2h.8M375.8 240.7h.8M368.1 240.8h.8M373.7 243.1h.8M375.3 239.9h.8M367.4 240.8h.8M361.3 241.0h.8M366.6 241.9h.8M366.9 234.5h.8M377.5 244.1h.8M379.8 234.9h.8M374.8 246.9h.8M368.9 243.7h.8M369.2 246.9h.8M369.3 239.3h.8M369.1 245.2h.8M374.2 235.8h.8M369.1 238.2h.8M375.0 236.0h.8M368.0 239.2h.8M367.4 239.7h.8M362.1 246.9h.8M368.2 241.7h.8M368.2 242.3h.8M370.3 238.3h.8M369.8 236.9h.8M365.8 243.7h.8M377.3 238.9h.8M372.1 243.3h.8M375.2 243.8h.8M372.5 239.6h.8M370.8 242.3h.8M362.3 240.7h.8M376.2 245.1h.8M366.4 243.8h.8M362.2 236.9h.8M383.4 235.1h.8M360.9 237.7h.8M372.5 235.8h.8M367.7 239.3h.8M374.0 243.3h.8M371.1 240.7h.8M374.0 239.1h.8M376.5 238.8h.8M370.8 244.1h.8M376.1 242.2h.8M371.0 240.8h.8M372.0 244.0h.8M374.0 238.8h.8M373.5 236.8h.8M368.4 243.8h.8M367.0 240.9h.8M365.0 237.6h.8M374.8 237.5h.8M368.8 239.9h.8M361.5 241.1h.8M371.8 241.7h.8M374.7 240.1h.8M366.9 244.3h.8M360.6 248.6h.8M362.3 239.0h.8M371.5 243.1h.8M370.7 240.5h.8M370.0 237.7h.8M369.8 236.6h.8M372.8 238.2h.8M383.4 234.9h.8M365.9 243.8h.8M377.1 239.7h.8M363.9 244.5h.8M370.7 235.1h.8M372.0 240.3h.8M367.6 245.1h.8M374.6 238.3h.8M372.6 233.9h.8M363.8 242.0h.8M371.0 235.3h.8M372.0 239.3h.8M371.9 239.4h.8M367.4 239.3h.8M362.2 240.8h.8M369.8 244.8h.8M371.2 236.1h.8M365.0 239.7h.8M373.0 240.0h.8M363.2 244.4h.8M379.0 240.8h.8M369.3 242.5h.8M371.6 235.1h.8M370.2 234.8h.8M371.0 229.6h.8M372.1 239.3h.8M376.9 242.2h.8M369.0 243.6h.8M374.1 238.7h.8M360.5 246.9h.8M368.2 236.7h.8M373.7 246.2h.8M361.2 246.9h.8M367.9 243.6h.8M362.1 245.7h.8M370.8 235.7h.8M373.8 240.6h.8M367.3 246.0h.8M368.7 243.6h.8M370.4 240.9h.8M372.6 237.5h.8M381.1 237.2h.8M365.7 238.8h.8M370.7 239.3h.8M377.5 239.3h.8M364.3 239.5h.8M363.5 238.3h.8M367.0 240.8h.8M372.9 242.8h.8M368.0 243.0h.8M364.9 240.1h.8M368.3 244.3h.8M364.9 229.3h.8M371.7 241.6h.8M368.3 235.2h.8M370.9 237.3h.8M375.1 241.4h.8M372.6 238.1h.8M368.8 238.0h.8M371.8 240.1h.8M368.0 239.2h.8M370.3 236.3h.8M359.0 247.4h.8M364.5 242.8h.8M368.4 238.6h.8M361.4 237.6h.8M376.1 239.4h.8M366.0 237.6h.8M374.0 241.8h.8M362.5 238.6h.8M363.3 244.4h.8M363.2 238.8h.8M374.9 238.5h.8M370.0 241.4h.8M372.5 236.2h.8M372.6 239.2h.8M362.5 243.8h.8M372.8 244.4h.8M376.9 235.3h.8M372.4 243.9h.8M367.6 243.7h.8M380.1 242.7h.8M362.3 239.5h.8M370.2 239.5h.8M369.4 242.4h.8M368.7 246.6h.8M371.2 239.8h.8M371.2 239.6h.8M381.3 239.8h.8M376.5 242.3h.8M371.6 239.3h.8M373.0 237.3h.8M375.6 234.6h.8M364.7 242.2h.8M369.3 241.5h.8M365.7 238.6h.8M376.0 241.5h.8M371.2 244.0h.8M368.2 239.1h.8M370.4 241.3h.8M369.3 234.6h.8M376.3 239.5h.8M367.6 243.1h.8M366.6 238.0h.8M375.6 241.7h.8M374.7 238.5h.8M361.2 235.7h.8M379.6 245.0h.8M368.3 244.6h.8M369.7 243.4h.8M364.6 243.2h.8M369.2 240.2h.8M370.2 236.8h.8M375.1 241.5h.8M377.8 237.2h.8M374.5 238.5h.8M372.2 241.1h.8M373.7 247.3h.8M378.0 240.8h.8M371.5 240.5h.8M378.7 237.7h.8M373.8 238.2h.8M376.7 244.6h.8M371.4 237.7h.8M369.1 236.1h.8M383.2 241.2h.8M374.6 244.2h.8M369.1 244.6h.8M371.8 238.6h.8M370.2 244.3h.8M368.1 245.6h.8M376.3 234.4h.8M367.2 237.9h.8M369.1 238.3h.8M370.2 238.5h.8M378.3 236.8h.8M370.8 236.6h.8M366.9 238.9h.8M370.1 239.4h.8M366.3 241.1h.8M372.5 239.3h.8M378.7 232.9h.8M374.8 239.2h.8M370.2 242.6h.8M373.1 234.8h.8M372.1 245.8h.8M371.1 246.7h.8M380.1 241.9h.8M362.5 245.4h.8M368.7 240.7h.8M372.0 234.8h.8M373.7 240.4h.8M374.2 242.8h.8M365.1 240.0h.8M375.8 237.8h.8M364.1 240.2h.8M381.3 236.8h.8M366.6 240.5h.8M373.3 241.5h.8M372.8 244.0h.8M369.3 239.8h.8M361.6 241.0h.8M378.1 234.8h.8M373.7 236.6h.8M369.3 240.8h.8M375.9 239.1h.8M380.5 239.7h.8M370.8 235.4h.8M371.4 241.7h.8M368.3 239.7h.8M364.0 240.3h.8M365.2 246.3h.8M380.8 232.0h.8M376.4 240.6h.8M371.0 237.3h.8M370.8 238.7h.8M354.5 243.1h.8M369.7 241.6h.8M368.4 240.2h.8M361.3 241.4h.8M378.2 238.3h.8M369.4 237.3h.8M367.7 237.5h.8M367.6 242.8h.8M370.4 240.7h.8M370.5 235.8h.8M367.0 245.9h.8M370.7 236.6h.8M369.1 240.4h.8M379.5 240.9h.8M369.6 246.3h.8M364.5 244.9h.8M372.3 239.4h.8M374.1 243.2h.8M371.6 240.7h.8M369.4 241.5h.8M379.0 236.3h.8M377.5 240.3h.8M370.8 239.1h.8M374.3 240.4h.8M371.3 238.7h.8M375.5 244.4h.8M365.5 242.4h.8M373.0 241.3h.8M366.8 243.9h.8M363.5 245.1h.8M370.0 235.1h.8M368.8 238.2h.8M368.3 239.6h.8M375.0 238.0h.8M365.3 237.7h.8M370.6 238.7h.8M374.8 240.7h.8M367.1 240.6h.8M370.1 246.5h.8M373.2 241.9h.8M368.9 241.2h.8M374.1 235.8h.8M374.2 238.4h.8M365.7 240.9h.8M373.6 237.0h.8M363.3 234.9h.8M369.3 241.3h.8M370.0 238.0h.8M362.2 232.8h.8M373.2 239.0h.8M380.4 243.3h.8M368.9 243.2h.8M367.4 240.8h.8M368.2 239.7h.8M372.7 232.8h.8M376.7 232.1h.8M371.2 243.7h.8M369.5 241.4h.8M368.4 240.7h.8M372.9 238.6h.8M371.4 242.8h.8M370.0 236.5h.8M369.0 245.1h.8M362.4 238.5h.8M375.4 242.9h.8M371.0 242.7h.8M378.8 237.1h.8M372.0 246.7h.8M372.3 242.3h.8M370.2 249.1h.8M376.9 235.9h.8M369.0 248.0h.8M369.5 239.1h.8M375.3 238.1h.8M371.5 240.1h.8M374.4 238.9h.8M375.3 236.6h.8M375.8 240.2h.8M360.9 244.1h.8M370.5 239.2h.8M359.2 248.8h.8M370.3 236.8h.8M370.4 248.7h.8M374.1 242.8h.8M364.9 242.4h.8M375.4 235.0h.8M363.8 238.4h.8M371.1 237.5h.8M379.4 244.1h.8M370.6 238.2h.8M366.4 240.2h.8M370.1 242.3h.8M370.7 237.8h.8M375.3 241.4h.8M366.7 247.5h.8M371.5 241.4h.8M376.4 238.7h.8M369.7 247.2h.8M366.5 241.7h.8M364.6 241.7h.8M383.3 238.7h.8M365.0 242.8h.8M373.5 235.4h.8M378.2 240.1h.8M367.9 244.5h.8M371.5 238.9h.8M373.2 242.1h.8M377.2 239.3h.8M363.7 239.4h.8M383.8 234.9h.8M372.3 252.2h.8M376.1 239.6h.8M378.4 239.5h.8M371.5 241.5h.8M360.9 241.8h.8M376.1 242.0h.8M374.4 236.3h.8M380.5 235.8h.8M373.9 241.6h.8M370.7 238.5h.8M364.5 241.5h.8M374.9 241.7h.8M381.5 231.0h.8M369.2 240.9h.8M372.1 241.3h.8M367.5 235.9h.8M365.6 244.0h.8M374.9 239.9h.8M365.3 240.4h.8M371.4 242.7h.8M372.3 236.2h.8M375.0 238.7h.8M365.9 245.3h.8M372.6 235.6h.8M378.3 238.9h.8M366.9 241.8h.8M376.6 238.2h.8M371.0 240.3h.8M365.7 240.5h.8M373.6 238.2h.8M365.5 238.2h.8M372.2 235.0h.8M368.0 241.1h.8M372.5 244.9h.8M377.8 239.6h.8M372.4 238.1h.8M369.3 238.9h.8M378.0 238.2h.8M374.6 238.9h.8M378.0 240.7h.8M377.8 234.8h.8M373.7 239.3h.8M359.3 249.4h.8M361.1 237.1h.8M369.0 242.3h.8M368.4 235.4h.8M372.5 234.3h.8M382.1 238.3h.8M369.7 237.7h.8M369.2 241.0h.8M367.3 242.8h.8M365.9 246.5h.8M375.5 241.4h.8M368.5 243.4h.8M368.6 236.6h.8M377.1 235.6h.8M372.3 232.8h.8M376.9 237.8h.8M371.3 243.0h.8M366.5 237.6h.8M376.3 251.9h.8M370.5 240.3h.8M370.2 245.6h.8M370.0 245.4h.8M360.0 238.9h.8M372.1 240.4h.8M369.4 247.2h.8M367.7 243.6h.8M378.5 231.6h.8M375.0 233.3h.8M366.3 240.2h.8M369.5 241.7h.8M370.4 240.9h.8M366.4 241.8h.8M377.1 240.0h.8M366.6 244.6h.8M378.5 234.1h.8M366.9 244.5h.8M384.5 236.1h.8M370.6 243.4h.8M377.3 247.2h.8M367.7 240.7h.8M377.8 234.1h.8M369.7 245.2h.8M364.9 246.3h.8M380.6 236.2h.8M371.0 241.6h.8M372.8 244.5h.8M371.3 236.2h.8M374.2 237.6h.8M365.8 240.9h.8M374.1 236.0h.8M366.7 242.0h.8M376.1 238.8h.8M381.0 240.4h.8M378.7 238.8h.8M366.8 245.2h.8M373.1 241.6h.8M369.3 243.0h.8M363.7 241.5h.8M366.9 239.2h.8M373.6 237.4h.8M375.8 245.8h.8M369.2 240.9h.8M370.4 239.4h.8M372.9 236.8h.8M363.9 238.9h.8M364.1 234.5h.8M369.2 242.8h.8M372.1 231.7h.8M369.2 239.4h.8M367.9 240.1h.8M361.5 244.1h.8M371.9 249.9h.8M367.4 237.2h.8M373.4 243.4h.8M376.5 236.5h.8M378.0 236.3h.8M374.6 238.4h.8M370.7 242.4h.8M376.3 243.6h.8M368.7 242.3h.8M370.1 243.3h.8M366.7 244.3h.8M376.7 238.8h.8M379.1 238.3h.8M365.8 239.7h.8M374.7 243.5h.8M371.0 240.7h.8M369.9 241.6h.8M365.8 241.6h.8M378.1 245.2h.8M367.1 242.1h.8M369.6 239.6h.8M365.6 243.0h.8M372.6 241.8h.8M376.4 245.4h.8M364.8 236.2h.8M366.2 238.5h.8M367.1 242.1h.8M368.3 240.9h.8M376.1 238.5h.8M372.5 247.1h.8M373.6 238.9h.8M378.5 234.3h.8M367.0 240.4h.8M377.9 240.0h.8M361.4 240.1h.8M365.9 235.2h.8M368.5 235.8h.8M375.6 238.7h.8M377.3 239.3h.8M371.0 247.2h.8M371.3 237.8h.8M368.3 241.2h.8M371.8 234.7h.8M369.8 238.2h.8M375.1 243.2h.8M367.7 241.8h.8M376.8 237.0h.8M364.8 244.2h.8M373.6 245.8h.8M375.4 243.2h.8M368.3 238.2h.8M384.6 236.2h.8M369.0 239.1h.8M372.0 246.7h.8M368.0 243.5h.8M366.9 240.8h.8M374.1 242.1h.8M368.0 243.2h.8M379.2 240.8h.8M373.2 238.9h.8M370.5 235.1h.8M372.0 233.9h.8M368.0 243.2h.8M374.6 234.9h.8M366.2 242.5h.8M369.1 239.6h.8M375.3 243.3h.8M364.7 238.2h.8M378.4 242.2h.8M374.7 241.0h.8M374.0 240.3h.8M366.7 236.3h.8M378.0 234.5h.8M373.7 238.6h.8M368.2 240.5h.8M369.3 238.5h.8M378.4 236.2h.8M373.2 232.1h.8M369.2 248.4h.8M363.1 238.5h.8M369.4 236.4h.8M380.9 241.0h.8M369.0 239.0h.8M366.4 241.2h.8M374.9 238.9h.8M386.4 240.1h.8M372.9 238.6h.8M369.9 239.2h.8M373.9 237.1h.8M372.0 245.2h.8M374.6 235.8h.8M376.9 242.3h.8M364.3 247.1h.8M378.3 235.8h.8M364.8 237.2h.8M367.4 245.3h.8M373.5 239.8h.8M372.1 235.7h.8M378.9 241.3h.8M370.6 238.1h.8M378.5 239.1h.8M372.1 236.3h.8M373.2 242.5h.8M374.0 233.1h.8M367.7 247.1h.8M374.0 242.3h.8M372.4 234.9h.8M377.0 247.7h.8M366.7 235.7h.8M380.0 238.4h.8M367.7 239.3h.8M364.1 246.1h.8M383.2 237.9h.8M368.1 238.8h.8M363.7 242.0h.8M374.6 244.2h.8M375.0 240.9h.8M360.6 241.1h.8M374.3 236.4h.8M391.2 232.8h.8M387.7 243.5h.8M395.9 226.9h.8M388.1 233.8h.8M383.7 224.1h.8M405.3 226.7h.8M386.7 232.5h.8M384.5 228.7h.8M388.8 229.7h.8M398.4 222.1h.8M379.0 234.7h.8M398.2 228.5h.8M391.4 215.8h.8M388.2 224.5h.8M386.2 222.2h.8M380.6 232.4h.8M385.9 222.0h.8M394.2 237.2h.8M384.3 226.8h.8M380.9 230.9h.8M388.0 232.9h.8M387.8 219.5h.8M380.3 226.4h.8M381.0 239.9h.8M401.0 225.3h.8M388.4 225.3h.8M386.3 230.7h.8M397.3 223.0h.8M385.0 221.1h.8M396.8 226.3h.8M391.2 241.9h.8M388.4 234.8h.8M374.7 223.7h.8M391.2 210.7h.8M391.2 219.5h.8M391.7 229.2h.8M385.6 231.2h.8M393.1 233.7h.8M395.5 222.3h.8M389.7 221.8h.8M382.8 232.8h.8M394.9 233.5h.8M387.3 222.6h.8M399.6 222.0h.8M387.9 221.3h.8M381.3 224.6h.8M398.2 226.0h.8M388.6 237.5h.8M383.7 224.1h.8M383.8 223.6h.8M383.4 231.7h.8M397.3 217.3h.8M397.8 223.1h.8M401.4 226.7h.8M401.9 227.3h.8M383.6 231.0h.8M381.6 234.0h.8M395.7 215.7h.8M382.8 245.9h.8M383.8 232.3h.8M386.2 225.6h.8M384.3 226.3h.8M389.8 228.3h.8M387.4 226.0h.8M387.3 219.6h.8M388.4 222.4h.8M396.5 216.9h.8M387.2 223.5h.8M394.9 222.4h.8M387.8 231.6h.8M385.1 232.2h.8M391.8 223.6h.8M386.2 227.3h.8M393.3 231.5h.8M385.2 230.1h.8M389.9 226.1h.8M391.6 227.5h.8M394.9 226.9h.8M388.9 235.9h.8M387.7 229.4h.8M374.4 228.4h.8M385.6 226.9h.8M390.2 224.7h.8M388.7 235.9h.8M387.8 220.8h.8M387.2 228.3h.8M382.7 227.4h.8M394.9 233.7h.8M389.5 231.1h.8M386.1 233.5h.8M379.2 226.7h.8M383.8 230.5h.8M388.7 227.4h.8M393.6 224.0h.8M390.3 217.8h.8M394.6 219.5h.8M392.8 223.6h.8M387.9 224.2h.8M404.5 225.6h.8M382.0 231.0h.8M389.5 234.4h.8M387.9 225.7h.8M401.2 231.0h.8M395.9 227.5h.8M388.4 223.1h.8M386.2 236.2h.8M386.8 228.7h.8M384.2 226.2h.8M388.1 238.0h.8M393.3 235.6h.8M387.8 240.2h.8M386.8 224.7h.8M392.7 224.1h.8M391.6 237.2h.8M391.1 226.3h.8M395.4 223.5h.8M388.5 227.0h.8M391.7 225.3h.8M391.0 221.5h.8M390.1 239.4h.8M395.1 218.5h.8M394.3 231.8h.8M394.3 231.7h.8M396.3 222.7h.8M392.5 222.8h.8M383.2 226.8h.8M383.1 221.5h.8M386.8 233.0h.8M389.6 222.8h.8M386.7 235.3h.8M392.6 224.7h.8M387.3 223.9h.8M391.9 227.0h.8M400.5 240.7h.8M393.0 226.0h.8M378.9 231.4h.8M393.1 215.7h.8M393.6 230.3h.8M384.6 223.7h.8M388.7 232.3h.8M380.9 237.1h.8M388.0 222.2h.8M383.7 226.2h.8M381.6 220.4h.8M385.5 230.6h.8M388.5 225.8h.8M387.4 230.6h.8M383.0 227.7h.8M390.0 230.5h.8M385.0 221.6h.8M401.6 231.0h.8M394.3 228.1h.8M392.4 233.2h.8M391.1 228.5h.8M396.4 228.4h.8M396.9 229.1h.8M382.6 222.3h.8M385.9 226.3h.8M396.8 225.1h.8M398.7 227.5h.8M394.5 228.2h.8M378.4 230.7h.8M380.8 221.7h.8M386.3 237.7h.8M381.2 234.7h.8M389.1 231.7h.8M398.9 231.8h.8M385.7 220.1h.8M384.7 232.0h.8M390.1 219.3h.8M394.4 228.1h.8M395.7 220.2h.8M395.3 225.7h.8M395.1 230.6h.8M382.4 230.1h.8M398.8 222.2h.8M384.6 233.7h.8M386.9 223.0h.8M378.7 226.6h.8M392.2 230.9h.8M383.3 233.3h.8M388.7 227.2h.8M388.5 241.6h.8M384.5 224.8h.8M390.6 228.3h.8M397.6 227.3h.8M381.1 228.8h.8M383.0 237.8h.8M388.3 224.4h.8M391.4 232.0h.8M391.0 224.0h.8M392.8 229.0h.8M378.8 232.6h.8M389.9 234.7h.8M381.7 231.4h.8M385.0 227.9h.8M385.0 229.7h.8M386.8 228.0h.8M381.5 223.6h.8M391.7 226.7h.8M381.2 227.3h.8M389.1 226.5h.8M396.5 227.4h.8M382.3 225.2h.8M388.1 225.3h.8M390.8 231.8h.8M382.3 241.2h.8M395.5 219.0h.8M381.8 220.1h.8M390.7 222.6h.8M381.8 234.4h.8M398.9 225.9h.8M398.9 224.1h.8M388.0 225.2h.8M396.8 224.7h.8M385.4 229.4h.8M387.4 228.4h.8M386.3 219.5h.8M397.7 226.1h.8M395.7 217.9h.8M388.3 224.9h.8M387.5 223.6h.8M387.3 231.8h.8M379.4 224.3h.8M394.5 233.5h.8M394.1 224.1h.8M392.7 233.7h.8M391.2 229.6h.8M395.4 226.4h.8M392.6 220.8h.8M397.1 226.3h.8M388.0 230.0h.8M395.0 232.1h.8M389.0 230.5h.8M389.3 221.9h.8M389.9 229.0h.8M387.5 233.2h.8M383.4 235.0h.8M388.8 227.1h.8M394.7 226.6h.8M393.4 217.6h.8M381.3 239.6h.8M380.6 226.4h.8M385.7 217.0h.8M388.6 224.0h.8M392.5 230.9h.8M376.7 240.6h.8M385.2 229.3h.8M390.4 230.8h.8M388.2 226.5h.8M388.7 237.3h.8M399.6 232.3h.8M381.6 233.5h.8M388.1 226.8h.8M393.5 225.3h.8M393.9 230.0h.8M395.1 223.6h.8M390.6 222.3h.8M388.5 228.9h.8M392.1 239.9h.8M378.2 232.6h.8M397.5 229.8h.8M385.3 226.0h.8M391.8 220.0h.8M384.8 231.3h.8M388.2 233.2h.8M395.2 220.6h.8M386.4 226.6h.8M393.4 227.9h.8M383.6 225.5h.8M390.7 223.3h.8M391.4 226.4h.8M385.9 221.9h.8M390.8 225.1h.8M391.7 218.2h.8M379.2 225.8h.8M385.2 221.3h.8M384.1 236.8h.8M389.2 233.8h.8M393.3 226.7h.8M392.6 238.4h.8M396.1 233.9h.8M392.2 233.3h.8M380.7 222.8h.8M391.0 225.4h.8M385.9 233.9h.8M393.9 219.4h.8M395.9 224.7h.8M391.1 222.0h.8M392.6 226.5h.8M392.5 224.7h.8M377.3 223.1h.8M389.1 214.8h.8M392.1 218.4h.8M399.1 224.7h.8M389.7 225.8h.8M402.0 220.9h.8M387.1 228.4h.8M383.8 228.8h.8M392.0 234.8h.8M382.9 222.7h.8M393.4 225.9h.8M396.2 221.5h.8M388.1 242.3h.8M388.5 226.6h.8M396.9 228.9h.8M391.3 226.6h.8M398.6 229.1h.8M381.0 220.8h.8M396.6 228.5h.8M385.4 229.3h.8M400.5 220.3h.8M382.8 219.3h.8M391.8 220.3h.8M391.4 226.3h.8M394.2 223.0h.8M387.5 233.4h.8M396.4 221.7h.8M388.4 219.0h.8M383.2 235.4h.8M386.5 225.6h.8M390.7 229.1h.8M386.0 228.6h.8M386.6 226.1h.8M390.4 216.2h.8M391.1 222.8h.8M387.3 222.4h.8M386.7 229.2h.8M391.0 221.3h.8M390.9 231.0h.8M391.1 233.0h.8M402.6 210.2h.8M385.8 227.0h.8M393.2 217.5h.8M396.9 231.1h.8M383.0 223.3h.8M399.7 233.3h.8M381.9 226.7h.8M390.2 231.2h.8M385.4 225.1h.8M384.0 219.7h.8M399.1 224.8h.8M378.9 228.3h.8M379.0 237.7h.8M385.6 230.2h.8M397.0 222.1h.8M392.4 230.6h.8M388.9 228.2h.8M403.0 228.5h.8M386.6 225.5h.8M377.5 229.0h.8M391.7 230.5h.8M382.9 227.7h.8M395.3 226.3h.8M387.0 225.6h.8M391.4 237.8h.8M389.3 227.6h.8M389.6 213.2h.8M387.1 231.2h.8M382.0 227.6h.8M382.4 233.0h.8M389.6 226.5h.8M383.2 231.1h.8M390.4 225.1h.8M394.8 225.6h.8M394.4 229.4h.8M394.4 228.5h.8M394.7 227.4h.8M382.0 232.3h.8M395.7 222.4h.8M391.1 223.4h.8M394.9 235.3h.8M391.2 221.3h.8M389.6 225.2h.8M392.1 223.3h.8M386.8 228.0h.8M397.2 218.3h.8M397.0 229.5h.8M390.5 232.7h.8M374.7 223.7h.8M386.3 227.9h.8M381.9 230.3h.8M403.4 226.3h.8M390.5 219.8h.8M388.1 232.4h.8M379.2 236.8h.8M392.0 236.2h.8M392.2 223.6h.8M401.3 222.9h.8M381.7 218.2h.8M386.0 227.8h.8M385.2 230.9h.8M396.7 224.0h.8M387.6 224.9h.8M380.7 235.1h.8M391.4 227.8h.8M386.3 230.9h.8M374.6 226.2h.8M390.8 218.7h.8M382.3 228.3h.8M377.5 226.4h.8M390.9 222.2h.8M394.2 229.0h.8M371.5 234.0h.8M390.1 228.5h.8M386.9 226.4h.8M385.0 225.2h.8M388.4 221.6h.8M388.3 235.3h.8M386.5 231.9h.8M390.2 224.4h.8M391.8 221.4h.8M392.6 224.3h.8M390.5 230.1h.8M389.9 230.3h.8M378.6 225.0h.8M393.6 231.5h.8M396.1 223.1h.8M398.2 221.5h.8M394.6 226.7h.8M393.3 222.6h.8M393.5 220.8h.8M393.5 227.6h.8M394.0 230.8h.8M392.1 220.9h.8M400.8 226.6h.8M402.4 226.3h.8M385.6 222.9h.8M386.3 230.8h.8M383.5 231.6h.8M393.9 226.2h.8M395.3 216.6h.8M380.6 219.2h.8M380.4 220.1h.8M394.1 230.3h.8M388.3 214.9h.8M391.8 233.9h.8M384.5 228.0h.8M381.8 227.6h.8M397.4 230.8h.8M381.2 224.0h.8M389.4 228.2h.8M370.4 224.4h.8M385.4 225.4h.8M388.5 225.9h.8M391.4 228.5h.8M395.0 237.7h.8M381.3 223.6h.8M387.3 228.5h.8M385.8 223.7h.8M390.0 228.8h.8M397.5 221.0h.8M386.4 230.0h.8M405.1 223.8h.8M383.2 225.9h.8M392.9 220.4h.8M380.0 239.7h.8M393.6 224.7h.8M401.3 224.5h.8M404.8 224.7h.8M385.3 236.4h.8M390.8 230.0h.8M389.2 231.6h.8M383.7 236.6h.8M388.6 226.3h.8M390.9 224.0h.8M390.3 222.9h.8M397.8 224.2h.8M385.6 224.4h.8M390.8 225.1h.8M393.0 220.6h.8M384.0 230.4h.8M396.4 227.3h.8M383.4 228.3h.8M391.8 233.5h.8M385.2 228.5h.8M389.8 230.2h.8M399.0 227.4h.8M393.2 234.1h.8M387.2 228.9h.8M391.3 235.2h.8M385.7 233.5h.8M402.4 232.6h.8M378.5 230.5h.8M391.9 239.3h.8M390.3 235.0h.8M396.3 221.8h.8M399.0 233.0h.8M391.2 218.9h.8M387.8 225.9h.8M387.5 231.7h.8M390.5 236.5h.8M392.7 229.7h.8M391.0 229.8h.8M390.5 225.8h.8M399.5 228.7h.8M387.7 231.4h.8M393.6 232.9h.8M394.3 230.2h.8M389.1 226.8h.8M386.2 228.3h.8M400.0 228.3h.8M393.2 227.2h.8M391.2 226.4h.8M380.3 230.9h.8M374.4 222.4h.8M377.7 232.9h.8M388.9 232.3h.8M395.8 226.3h.8M379.7 221.6h.8M399.2 217.7h.8M395.1 227.2h.8M394.8 224.6h.8M389.9 231.0h.8M393.7 220.8h.8M386.3 229.6h.8M388.7 231.1h.8M387.2 227.3h.8M381.1 226.1h.8M389.3 220.3h.8M389.6 223.7h.8M391.4 223.6h.8M384.5 233.5h.8M398.3 232.3h.8M393.0 218.8h.8M387.4 230.2h.8M390.9 230.5h.8M386.2 224.4h.8M379.6 224.2h.8M397.0 220.4h.8M384.6 235.0h.8M397.9 223.8h.8M395.9 229.7h.8M388.2 227.2h.8M386.2 237.5h.8M375.5 230.3h.8M393.5 221.8h.8M385.5 226.6h.8M387.3 224.7h.8M382.4 226.2h.8M386.1 219.3h.8M400.9 220.7h.8M391.2 224.3h.8M380.2 230.7h.8M389.1 227.1h.8M386.8 225.9h.8M393.0 227.2h.8M389.9 230.7h.8M380.8 232.7h.8M384.4 224.1h.8M384.3 231.6h.8M382.0 236.9h.8M381.1 233.1h.8M383.0 225.6h.8M380.2 222.7h.8M380.3 229.1h.8M387.3 235.0h.8M389.9 231.3h.8M398.0 222.9h.8M386.0 223.8h.8M384.6 225.4h.8M391.0 234.4h.8M390.3 227.9h.8M386.3 223.0h.8M384.6 233.8h.8M395.8 221.0h.8M396.7 232.8h.8M375.6 224.7h.8M393.8 229.7h.8M393.9 228.9h.8M382.8 229.0h.8M383.5 234.7h.8M396.7 223.4h.8M378.5 230.3h.8M382.8 222.7h.8M389.1 233.9h.8M388.2 224.5h.8M382.1 223.8h.8M380.6 224.2h.8M402.8 220.1h.8M400.1 222.1h.8M394.6 233.8h.8M387.8 220.7h.8M383.5 229.1h.8M384.8 231.2h.8M392.6 236.1h.8M375.1 221.0h.8M373.5 227.3h.8M392.0 226.1h.8M380.7 226.3h.8M394.8 223.6h.8M389.7 222.9h.8M385.4 231.6h.8M385.3 224.9h.8M390.1 228.0h.8M395.5 235.9h.8M392.5 223.0h.8M383.3 229.1h.8M385.1 225.9h.8M396.9 228.1h.8M400.6 223.7h.8M386.9 225.4h.8M383.0 230.7h.8M397.9 225.6h.8M387.7 221.2h.8M389.2 223.6h.8M404.2 224.2h.8M386.3 222.4h.8M389.8 226.4h.8M389.7 234.4h.8M391.6 222.9h.8M384.8 216.3h.8M391.4 220.7h.8M393.1 216.2h.8M384.9 228.4h.8M386.1 231.6h.8M390.0 226.8h.8M386.5 224.9h.8M392.1 231.3h.8M379.9 231.9h.8M388.5 235.2h.8M394.8 228.0h.8M387.9 229.8h.8M383.6 226.7h.8M388.1 231.3h.8M390.3 221.7h.8M385.4 219.7h.8M394.1 217.4h.8M386.3 221.4h.8M381.4 239.0h.8M391.8 228.0h.8M394.3 229.8h.8M400.4 217.9h.8M383.5 216.1h.8M390.0 233.7h.8M385.2 233.2h.8M392.0 224.6h.8M386.8 227.0h.8M393.5 230.0h.8M387.8 227.1h.8M389.8 226.3h.8M390.0 222.5h.8M382.1 235.2h.8M396.1 227.6h.8M395.1 233.8h.8M388.8 223.4h.8M390.4 224.0h.8M391.5 229.5h.8M376.9 234.5h.8M388.1 232.8h.8M377.5 225.7h.8M390.8 231.5h.8M398.4 236.3h.8M389.1 220.7h.8M384.2 233.1h.8M385.6 231.2h.8M388.4 225.3h.8M392.4 228.7h.8M392.9 226.6h.8M383.6 230.0h.8M380.0 229.3h.8M387.8 216.9h.8M393.7 240.5h.8M383.5 220.9h.8M385.5 233.4h.8M401.5 227.1h.8M382.8 233.0h.8M381.7 225.1h.8M388.2 235.5h.8M392.8 237.6h.8M375.7 230.1h.8M391.1 227.2h.8M396.0 228.9h.8M395.8 230.0h.8M391.2 228.7h.8M379.7 219.4h.8M388.6 225.3h.8M375.1 225.3h.8M393.3 238.4h.8M395.1 218.7h.8M384.6 224.5h.8M391.9 228.7h.8M401.3 230.5h.8M388.8 221.5h.8M394.4 221.6h.8M388.5 225.5h.8M393.9 225.1h.8M385.2 231.3h.8M380.3 229.4h.8M388.4 234.2h.8M384.9 228.1h.8M390.5 224.3h.8M385.1 225.3h.8M390.0 222.8h.8M385.6 222.7h.8M383.1 223.5h.8M379.8 230.7h.8M389.9 225.5h.8M396.0 229.1h.8M390.0 218.2h.8M387.8 222.4h.8M381.4 226.5h.8M396.7 231.0h.8M396.7 227.5h.8M382.6 229.7h.8M394.9 219.6h.8M383.6 223.9h.8M385.4 220.3h.8M389.1 232.8h.8M396.7 237.2h.8M381.9 230.3h.8M394.2 222.8h.8M387.6 228.1h.8M383.5 228.4h.8M380.3 225.1h.8M384.6 226.4h.8M396.5 220.2h.8M392.8 237.1h.8M386.9 228.3h.8M382.4 224.4h.8M381.8 222.8h.8M383.9 238.2h.8M390.6 227.5h.8M389.3 224.2h.8M386.0 225.6h.8M386.0 231.3h.8M386.0 226.9h.8M383.7 221.8h.8M388.5 243.5h.8M387.7 227.4h.8M395.5 225.0h.8M379.7 223.9h.8M393.9 219.2h.8M401.9 219.8h.8M397.2 225.5h.8M386.8 231.6h.8M383.4 220.6h.8M387.7 225.6h.8M388.2 232.5h.8M389.5 219.8h.8M385.9 214.6h.8M384.6 219.3h.8M387.3 235.6h.8M395.8 220.5h.8M385.8 239.3h.8M383.1 232.2h.8M384.6 231.9h.8M393.8 220.5h.8M398.9 219.7h.8M401.3 231.2h.8M393.4 225.3h.8M392.2 219.1h.8M386.9 224.6h.8M393.8 223.2h.8M387.8 227.4h.8M394.7 238.8h.8M385.3 239.6h.8M392.4 234.9h.8M380.7 230.6h.8M397.8 226.6h.8M384.2 228.0h.8M387.1 224.7h.8M388.9 229.2h.8M387.5 225.0h.8M403.1 216.9h.8M391.8 238.4h.8M398.6 226.7h.8M389.7 217.4h.8M386.3 224.9h.8M393.8 218.3h.8M385.9 231.6h.8M385.5 235.2h.8M398.5 231.2h.8M382.6 227.8h.8M383.6 229.5h.8M384.9 232.2h.8M393.1 229.4h.8M382.8 225.8h.8M396.2 227.9h.8M383.9 228.7h.8M395.7 228.5h.8M392.5 224.2h.8M393.2 227.7h.8M381.8 230.4h.8M379.3 231.3h.8M382.7 218.0h.8M402.1 224.9h.8M390.1 230.3h.8M386.8 214.6h.8M395.5 219.1h.8M389.6 233.2h.8M381.5 223.3h.8M381.9 222.9h.8M391.3 232.6h.8M386.5 227.7h.8M393.0 233.7h.8M382.7 229.1h.8M401.1 221.5h.8M381.3 225.2h.8M393.8 212.3h.8M383.9 223.6h.8M398.1 231.0h.8M394.2 227.8h.8M393.6 236.7h.8M383.7 222.4h.8M393.9 226.9h.8M392.3 225.6h.8M385.6 230.3h.8M391.3 229.0h.8M389.4 221.0h.8M387.0 236.6h.8M380.7 230.0h.8M389.8 227.5h.8M388.6 228.5h.8M393.5 222.5h.8M397.2 232.4h.8M388.6 236.6h.8M381.0 221.1h.8M397.4 232.3h.8M393.4 239.0h.8M389.6 226.1h.8M388.8 239.0h.8M383.5 225.0h.8M387.4 225.5h.8M382.7 227.2h.8M389.9 226.9h.8M385.0 223.3h.8M383.3 231.5h.8M389.6 223.6h.8M384.9 221.5h.8M395.6 229.9h.8M383.1 224.3h.8M391.1 232.2h.8M386.0 235.4h.8M390.3 229.5h.8M389.2 234.2h.8M391.9 227.4h.8M386.4 230.6h.8M394.3 219.5h.8M383.5 224.5h.8M391.3 231.7h.8M401.4 223.0h.8M378.9 224.6h.8M379.9 224.9h.8M401.5 227.6h.8M398.2 222.8h.8M393.2 220.3h.8M392.2 230.0h.8M382.7 231.9h.8M388.8 227.3h.8M384.4 222.8h.8M384.0 233.2h.8M381.7 222.7h.8M383.9 214.3h.8M392.6 216.3h.8M398.8 228.8h.8M388.1 238.0h.8M392.7 231.0h.8M387.4 227.0h.8M383.9 216.6h.8M391.8 230.0h.8M390.2 230.9h.8M388.0 226.7h.8M381.3 221.1h.8M387.1 234.8h.8M389.3 235.2h.8M387.6 229.3h.8M393.1 229.3h.8M385.3 213.8h.8M400.2 227.8h.8M395.7 235.6h.8M384.6 228.1h.8M395.0 218.4h.8M384.0 229.9h.8M387.4 222.1h.8M403.5 221.4h.8M379.7 222.1h.8M394.0 230.6h.8M384.4 230.6h.8M384.2 236.5h.8M390.2 229.2h.8M398.2 226.4h.8M402.7 228.4h.8M385.8 224.9h.8M379.5 234.6h.8M394.3 231.6h.8M381.7 228.6h.8M392.0 223.4h.8M385.8 226.3h.8M386.8 227.3h.8M395.2 231.0h.8M388.7 220.3h.8M398.0 227.6h.8M395.2 217.5h.8M399.2 228.7h.8M399.0 227.3h.8M387.0 227.7h.8M386.8 230.7h.8M388.9 221.9h.8M383.3 230.1h.8M389.5 227.0h.8M386.7 235.8h.8M385.8 227.8h.8M396.9 231.3h.8M387.9 227.1h.8M377.4 241.1h.8M375.3 231.0h.8M390.8 226.7h.8M391.8 237.8h.8M392.8 227.6h.8M381.9 234.1h.8M387.0 229.2h.8M383.3 224.5h.8M387.1 227.4h.8M387.7 221.7h.8M396.1 234.0h.8M381.1 230.5h.8M393.8 228.7h.8M381.9 224.7h.8M392.7 222.9h.8M382.0 222.3h.8M394.2 227.4h.8M388.7 226.1h.8M393.0 220.8h.8M384.7 231.3h.8M391.9 223.0h.8M381.1 230.7h.8M385.8 232.7h.8M398.1 219.7h.8M395.8 223.4h.8M386.1 229.0h.8M390.3 226.0h.8M387.9 220.1h.8M389.2 226.4h.8M395.0 230.7h.8M389.0 231.0h.8M393.7 223.7h.8M391.0 230.0h.8M389.0 231.7h.8M388.6 225.3h.8M382.8 222.6h.8M384.6 221.7h.8M396.7 227.4h.8M386.6 233.3h.8M386.5 221.7h.8M382.6 224.1h.8M398.5 223.8h.8M384.1 222.2h.8M391.2 228.2h.8M385.4 223.9h.8M387.4 231.1h.8M389.2 232.5h.8M393.2 229.8h.8M387.3 229.2h.8M404.9 218.3h.8M375.8 219.8h.8M386.0 218.9h.8M386.3 237.1h.8M390.4 222.7h.8M391.6 232.2h.8M381.5 227.5h.8M385.2 228.5h.8M377.8 220.6h.8M396.1 222.7h.8M392.6 214.8h.8M397.5 227.4h.8M388.6 225.8h.8M403.1 227.2h.8M393.6 224.4h.8M395.4 226.3h.8M387.6 221.3h.8M399.2 235.2h.8M382.6 225.4h.8M393.9 227.5h.8M386.8 214.9h.8M383.6 218.0h.8M393.2 219.9h.8M384.8 231.9h.8M393.8 235.3h.8M384.3 236.6h.8M389.7 229.1h.8M394.5 232.3h.8M376.2 217.2h.8M382.2 236.3h.8M390.9 227.7h.8M386.9 221.6h.8M390.4 233.7h.8M379.9 229.1h.8M384.2 230.0h.8M382.3 224.7h.8M386.2 231.8h.8M389.3 221.6h.8M386.3 227.4h.8M388.9 235.5h.8M395.4 222.3h.8M384.8 233.6h.8M395.0 210.6h.8M391.5 227.3h.8M387.9 227.7h.8M383.5 226.3h.8M392.5 227.2h.8M376.1 226.8h.8M389.3 232.3h.8M379.7 220.6h.8M381.4 221.9h.8M386.6 230.5h.8M394.8 220.6h.8M396.0 232.8h.8M398.5 231.3h.8M384.4 217.3h.8M385.5 229.7h.8M390.5 226.4h.8M384.0 227.4h.8M392.6 229.0h.8M392.1 226.7h.8M394.4 224.6h.8M387.8 222.0h.8M397.8 227.5h.8M390.8 228.0h.8M397.2 235.7h.8M386.5 233.8h.8M385.8 231.3h.8M390.1 227.4h.8M390.5 222.8h.8M391.5 226.0h.8M396.2 218.2h.8M393.3 221.2h.8M398.9 229.5h.8M391.0 223.3h.8M389.5 225.7h.8M389.1 226.9h.8M394.3 230.7h.8M398.8 219.9h.8M389.1 225.3h.8M393.1 225.3h.8M384.8 222.2h.8M385.4 231.7h.8M389.6 223.2h.8M401.2 219.5h.8M387.4 233.5h.8M394.2 221.6h.8M397.1 228.8h.8M395.2 234.4h.8M393.7 232.2h.8M387.0 234.8h.8M399.3 224.3h.8M384.7 232.5h.8M386.6 223.9h.8M381.9 227.5h.8M395.3 233.0h.8M393.3 233.7h.8M396.5 223.0h.8M395.3 221.7h.8M383.3 230.8h.8M393.6 217.8h.8M381.2 226.5h.8M388.2 230.3h.8M386.0 226.6h.8M388.5 229.1h.8M386.1 225.2h.8M390.2 227.8h.8M380.7 237.3h.8M382.2 229.4h.8M385.3 228.6h.8M395.6 219.9h.8M383.0 231.9h.8M394.5 220.4h.8M389.9 227.5h.8M394.2 227.9h.8M396.9 224.0h.8M392.8 233.0h.8M381.2 221.7h.8M389.1 218.9h.8M388.5 230.9h.8M392.4 230.0h.8M386.4 232.2h.8M393.4 233.7h.8M392.0 220.5h.8M385.4 228.9h.8M390.3 223.9h.8M390.6 231.5h.8M391.7 220.5h.8M390.1 228.8h.8M400.2 216.4h.8M398.5 220.8h.8M377.8 226.2h.8M389.7 228.8h.8M383.1 223.6h.8M390.2 220.8h.8M388.3 237.8h.8M387.0 223.0h.8M391.9 233.4h.8M385.0 230.6h.8M377.4 228.0h.8M386.0 226.0h.8M391.6 221.9h.8M392.1 228.4h.8M389.0 227.6h.8M394.3 223.1h.8M398.6 229.7h.8M380.6 231.9h.8M377.1 240.5h.8M373.6 235.6h.8M379.6 232.0h.8M394.3 232.5h.8M375.8 238.9h.8M377.5 234.7h.8M383.0 229.9h.8M382.4 226.9h.8M376.0 236.3h.8M384.4 228.0h.8M390.0 229.7h.8M376.4 242.2h.8M385.9 225.0h.8M376.0 238.5h.8M380.2 240.9h.8M387.1 237.0h.8M380.6 234.7h.8M376.6 233.4h.8M370.1 231.1h.8M389.2 227.3h.8M368.3 237.4h.8M378.4 239.9h.8M381.7 242.8h.8M372.9 227.8h.8M385.6 234.7h.8M394.1 233.6h.8M381.1 230.5h.8M386.6 234.3h.8M379.3 231.9h.8M384.9 239.2h.8M376.8 237.8h.8M382.4 236.9h.8M376.4 235.3h.8M378.2 228.9h.8M377.9 228.2h.8M381.2 231.8h.8M387.3 225.2h.8M376.3 236.1h.8M389.6 235.7h.8M388.9 227.6h.8M377.7 234.7h.8M389.9 228.8h.8M383.3 233.3h.8M384.2 229.7h.8M378.4 235.6h.8M385.3 233.7h.8M389.2 228.3h.8M375.6 237.3h.8M382.6 230.2h.8M374.5 241.7h.8M372.5 232.1h.8M379.6 239.0h.8M374.6 237.2h.8M379.9 241.9h.8M385.6 236.0h.8M378.7 236.0h.8M372.0 228.5h.8M376.0 230.9h.8M378.2 237.3h.8M385.3 239.3h.8M377.6 231.7h.8M375.5 230.1h.8M390.0 231.0h.8M379.2 232.1h.8M379.4 244.0h.8M374.3 240.1h.8M373.2 234.4h.8M391.3 230.8h.8M372.4 238.5h.8M375.8 232.6h.8M380.1 233.8h.8M379.7 235.2h.8M375.0 235.6h.8M380.5 239.6h.8M380.2 233.4h.8M387.8 231.9h.8M381.3 239.5h.8M378.9 233.4h.8M383.5 232.1h.8M376.9 230.4h.8M380.1 226.6h.8M378.1 229.2h.8M382.2 234.8h.8M377.9 231.5h.8M373.4 235.7h.8M382.7 230.2h.8M388.3 228.7h.8M388.6 230.3h.8M392.9 233.5h.8M385.2 236.7h.8M376.8 236.4h.8M387.2 229.1h.8M389.1 230.4h.8M385.5 236.1h.8M378.4 229.0h.8M387.2 239.7h.8M383.8 241.2h.8M376.5 238.5h.8M382.4 236.7h.8M380.0 243.5h.8M378.9 234.9h.8M387.3 227.3h.8M374.2 233.0h.8M382.5 233.0h.8M383.3 240.8h.8M378.4 228.6h.8M388.7 241.3h.8M380.4 241.7h.8M379.8 234.0h.8M373.4 237.1h.8M375.0 232.5h.8M392.7 232.3h.8M390.5 225.4h.8M382.3 225.4h.8M375.9 235.7h.8M378.4 235.1h.8M382.3 229.5h.8M379.8 239.3h.8M375.9 228.5h.8M387.8 227.0h.8M369.1 232.8h.8M371.4 226.5h.8M377.9 234.3h.8M367.7 237.8h.8M378.9 228.7h.8M378.2 233.5h.8M384.5 231.4h.8M376.6 236.9h.8M381.9 233.1h.8M374.5 234.4h.8M383.4 232.7h.8M380.3 232.1h.8M378.4 229.7h.8M371.7 234.0h.8M377.4 241.5h.8M381.2 238.6h.8M374.8 234.1h.8M370.2 235.3h.8M377.6 233.6h.8M384.0 236.2h.8M373.9 231.6h.8M388.2 236.6h.8M384.9 229.8h.8M379.3 236.9h.8M379.6 233.2h.8M390.3 240.5h.8M370.1 237.8h.8M386.0 230.8h.8M380.7 231.7h.8M369.3 237.6h.8M386.5 224.9h.8M373.7 231.1h.8M372.5 243.6h.8M377.9 233.2h.8M377.2 234.5h.8M381.3 233.9h.8M377.7 234.1h.8M378.5 238.3h.8M394.9 225.0h.8M387.9 237.8h.8M371.3 238.2h.8M375.7 235.2h.8M373.6 239.0h.8M378.6 224.9h.8M376.8 245.6h.8M380.7 233.3h.8M376.7 235.2h.8M377.9 234.9h.8M394.2 224.0h.8M381.0 235.6h.8M370.9 237.7h.8M377.5 240.8h.8M380.1 230.5h.8M367.2 240.6h.8M383.6 236.8h.8M378.0 234.5h.8M384.8 232.0h.8M369.9 230.3h.8M390.2 230.5h.8M367.2 232.5h.8M380.1 230.8h.8M391.4 232.1h.8M374.9 239.3h.8M381.7 239.5h.8M366.8 235.6h.8M378.2 244.9h.8M383.0 241.3h.8M381.2 244.4h.8M379.8 230.5h.8M384.4 221.8h.8M380.2 228.5h.8M381.3 236.3h.8M375.1 234.0h.8M382.8 239.9h.8M381.9 235.1h.8M381.8 231.7h.8M381.3 236.9h.8M381.6 228.9h.8M376.4 231.5h.8M377.1 242.8h.8M385.1 234.0h.8M388.6 232.6h.8M379.0 244.4h.8M377.6 226.6h.8M373.1 237.3h.8M379.4 233.5h.8M382.8 231.3h.8M372.5 237.5h.8M376.4 232.9h.8M373.2 241.4h.8M370.7 236.6h.8M377.3 226.5h.8M373.0 231.8h.8M385.5 227.1h.8M371.2 244.0h.8M374.7 240.7h.8M386.4 238.3h.8M386.6 234.4h.8M369.8 236.5h.8M381.0 228.3h.8M386.7 226.1h.8M378.0 239.7h.8M374.7 225.8h.8M376.1 234.2h.8M393.0 222.9h.8M381.4 237.6h.8M378.4 222.8h.8M378.1 235.2h.8M378.7 235.4h.8M381.9 230.0h.8M380.9 240.8h.8M373.0 239.1h.8M380.8 233.8h.8M369.1 236.2h.8M372.1 243.5h.8M376.4 238.6h.8M379.3 230.6h.8M364.8 227.5h.8M380.5 226.5h.8M389.6 228.4h.8M378.6 233.3h.8M374.5 230.1h.8M382.5 231.7h.8M381.5 230.6h.8M383.6 223.7h.8M379.8 234.4h.8M387.4 232.3h.8M384.3 237.4h.8M389.7 230.1h.8M389.3 226.6h.8M380.9 235.2h.8M395.1 227.5h.8M375.4 239.7h.8M384.6 230.2h.8M375.0 238.8h.8M381.9 231.8h.8M374.3 232.3h.8M377.4 236.3h.8M373.0 237.8h.8M387.0 236.8h.8M374.8 235.6h.8M376.3 240.6h.8M382.3 239.4h.8M378.4 234.5h.8M380.2 235.1h.8M383.8 234.4h.8M383.8 237.9h.8M379.7 238.1h.8M380.2 232.8h.8M380.4 236.2h.8M380.0 235.8h.8M374.6 241.8h.8M382.9 232.8h.8M376.5 234.3h.8M373.5 236.0h.8M380.6 237.9h.8M380.1 233.1h.8M382.1 238.7h.8M385.6 234.7h.8M383.0 232.3h.8M378.3 240.0h.8M377.5 239.6h.8M386.8 235.8h.8M366.9 240.8h.8M382.3 230.6h.8M382.7 234.1h.8M381.4 229.1h.8M380.8 234.9h.8M375.2 240.0h.8M385.3 231.3h.8M385.8 219.9h.8M377.4 236.1h.8M384.6 232.9h.8M381.9 239.1h.8M376.0 241.5h.8M373.2 233.0h.8M377.3 230.3h.8M379.1 232.4h.8M374.1 236.8h.8M370.9 238.6h.8M378.8 232.9h.8M369.9 236.4h.8M384.6 230.0h.8M384.8 230.0h.8M384.8 223.8h.8M381.1 239.9h.8M371.1 236.1h.8M383.6 231.5h.8M381.6 233.0h.8M387.5 232.0h.8M382.5 236.6h.8M373.1 235.3h.8M379.9 236.0h.8M386.2 226.3h.8M386.9 222.1h.8M384.9 228.0h.8M392.1 233.5h.8M375.7 240.5h.8M383.6 236.3h.8M377.4 229.8h.8M384.5 235.1h.8M367.4 241.7h.8M388.1 224.5h.8M394.2 229.5h.8M379.8 232.4h.8M367.5 238.4h.8M374.0 238.6h.8M376.1 247.0h.8M378.6 236.6h.8M380.9 227.0h.8M384.3 226.5h.8M374.5 242.5h.8M373.4 234.3h.8M377.7 238.2h.8M389.9 230.8h.8M379.1 229.3h.8M381.0 235.9h.8M386.4 235.5h.8M374.1 232.5h.8M382.2 228.3h.8M375.5 235.3h.8M379.2 233.9h.8M388.4 225.8h.8M371.9 233.0h.8M385.0 230.9h.8M383.7 231.4h.8M374.0 231.0h.8M389.4 234.5h.8M382.7 234.5h.8M380.1 240.4h.8M388.0 229.3h.8M386.1 233.5h.8M380.0 232.0h.8M375.7 231.0h.8M376.7 231.1h.8M377.8 232.8h.8M382.5 234.0h.8M369.8 242.9h.8M384.5 231.9h.8M378.4 242.2h.8M393.5 227.9h.8M375.0 235.4h.8M383.3 229.6h.8M380.4 235.9h.8M380.1 235.0h.8M361.5 245.0h.8M375.2 234.0h.8M380.2 230.0h.8M381.3 240.1h.8M384.0 232.1h.8M392.2 231.9h.8M384.2 228.2h.8M379.5 234.8h.8M376.9 234.3h.8M378.7 235.6h.8M389.3 228.9h.8M379.5 228.0h.8M382.0 227.8h.8M374.5 241.3h.8M382.6 232.0h.8M372.1 237.6h.8M380.0 232.6h.8M374.5 229.6h.8M376.0 237.0h.8M380.4 227.9h.8M380.5 239.5h.8M384.8 234.9h.8M381.0 229.9h.8M380.3 239.3h.8M364.5 246.1h.8M385.7 226.1h.8M377.4 230.3h.8M377.4 240.7h.8M379.5 236.4h.8M382.6 229.7h.8M388.3 229.9h.8M384.4 237.5h.8M382.8 229.3h.8M387.0 229.9h.8M376.4 234.9h.8M385.9 235.1h.8M386.6 229.1h.8M373.2 234.5h.8M386.6 226.3h.8M376.5 234.1h.8M390.5 233.9h.8M375.9 230.6h.8M372.4 231.3h.8M383.4 237.5h.8M381.0 223.6h.8M373.4 229.2h.8M372.0 230.5h.8M374.3 222.9h.8M369.5 243.5h.8M372.5 236.3h.8M381.5 228.0h.8M375.0 237.0h.8M377.1 241.3h.8M385.3 236.7h.8M381.7 236.0h.8M374.6 232.3h.8M382.6 234.8h.8M380.2 226.8h.8M378.3 230.2h.8M376.0 232.5h.8M376.1 236.9h.8M387.7 240.8h.8M386.1 234.5h.8M383.8 243.0h.8M393.8 226.6h.8M379.5 239.3h.8M371.8 230.2h.8M377.8 229.9h.8M375.6 232.2h.8M384.6 222.6h.8M376.4 233.3h.8M369.8 237.9h.8M386.0 228.9h.8M378.9 231.5h.8M386.8 221.7h.8M385.6 233.9h.8M376.0 235.5h.8M381.4 231.8h.8M385.3 228.0h.8M379.9 234.9h.8M369.2 239.5h.8M379.6 238.8h.8M394.5 225.3h.8M384.7 225.0h.8M381.7 230.5h.8M392.6 228.4h.8M380.7 230.8h.8M391.2 231.2h.8M380.8 234.8h.8M386.5 235.7h.8M379.9 232.7h.8M380.4 230.2h.8M384.2 229.5h.8M370.8 229.5h.8M375.9 232.6h.8M387.8 234.0h.8M384.9 230.3h.8M377.4 231.4h.8M378.8 228.3h.8M381.1 230.2h.8M377.0 234.6h.8M378.9 233.3h.8M380.7 235.2h.8M381.5 228.9h.8M378.6 234.5h.8M385.4 242.1h.8M383.7 239.3h.8M379.8 229.7h.8M376.2 230.1h.8M383.3 232.1h.8M377.1 239.4h.8M379.3 230.6h.8M370.8 238.8h.8M380.9 234.5h.8M384.2 236.8h.8M365.9 240.3h.8M387.0 232.8h.8M383.8 234.4h.8M381.5 239.1h.8M367.9 235.9h.8M380.6 240.2h.8M377.9 228.3h.8M380.9 229.6h.8M381.6 235.4h.8M396.5 230.4h.8M383.7 237.1h.8M376.5 233.1h.8M383.5 230.1h.8M387.4 226.4h.8M373.6 232.0h.8M388.4 234.1h.8M381.4 233.5h.8M386.8 229.3h.8M384.7 232.5h.8M376.3 236.2h.8M376.5 238.9h.8M376.2 237.3h.8M387.8 232.2h.8M375.1 232.0h.8M378.0 218.3h.8M373.3 234.2h.8M373.7 228.2h.8M383.7 228.1h.8M385.9 233.8h.8M382.1 234.8h.8M382.3 234.9h.8M373.9 231.8h.8M383.5 228.2h.8M390.1 232.2h.8M375.0 235.9h.8M383.4 230.8h.8M390.9 234.2h.8M391.6 227.6h.8M384.7 233.2h.8M373.0 230.8h.8M374.6 230.5h.8M382.5 222.4h.8M373.6 233.7h.8M373.9 235.4h.8M378.1 231.7h.8M394.2 231.3h.8M369.4 236.9h.8M381.8 230.4h.8M384.1 228.9h.8M373.7 236.0h.8M370.3 241.5h.8M381.4 238.7h.8M375.7 235.8h.8M388.9 234.5h.8M380.4 231.7h.8M373.3 235.8h.8M378.8 231.3h.8M388.5 227.9h.8M392.2 241.4h.8M370.8 235.1h.8M378.2 229.4h.8M378.8 234.1h.8M384.3 226.1h.8M387.5 234.3h.8M380.1 230.5h.8M385.7 226.2h.8M376.8 239.7h.8M379.8 224.7h.8M382.7 229.4h.8M367.2 234.7h.8M380.6 230.5h.8M389.1 239.1h.8M383.4 232.8h.8M388.2 232.5h.8M384.9 232.9h.8M384.3 230.7h.8M375.3 236.5h.8M380.5 232.4h.8M378.6 234.7h.8M393.4 227.1h.8M384.7 228.5h.8M389.4 227.8h.8M383.2 237.0h.8M377.0 234.4h.8M373.3 230.5h.8M387.2 234.4h.8M380.6 223.8h.8M384.2 225.7h.8M387.0 235.8h.8M376.8 231.1h.8M382.5 237.0h.8M387.3 235.2h.8M364.4 236.3h.8M379.7 237.8h.8M387.1 240.4h.8M370.6 238.9h.8M392.1 231.3h.8M383.3 227.5h.8M380.5 239.7h.8M384.0 232.1h.8M364.8 237.7h.8M380.3 232.6h.8M384.8 235.8h.8M379.2 237.3h.8M371.6 233.7h.8M372.8 229.7h.8M382.1 235.8h.8M387.4 234.5h.8M383.9 231.5h.8M377.4 239.5h.8M385.5 240.2h.8M381.2 240.6h.8M394.9 240.0h.8M375.3 238.3h.8M374.1 238.7h.8M378.9 239.5h.8M377.7 233.3h.8M370.8 241.2h.8M374.0 239.1h.8M393.4 230.9h.8M387.8 234.9h.8M389.9 228.2h.8M377.6 246.7h.8M369.5 237.4h.8M380.0 239.1h.8M387.7 238.4h.8M369.1 239.1h.8M369.5 241.9h.8M377.4 237.9h.8M370.8 233.3h.8M392.0 233.1h.8M370.0 237.0h.8M389.3 245.1h.8M384.6 230.9h.8M384.8 215.1h.8M386.3 245.4h.8M376.8 224.6h.8M372.1 229.2h.8M369.5 243.4h.8M385.0 227.2h.8M385.3 239.9h.8M376.2 228.5h.8M382.2 233.8h.8M375.7 244.9h.8M366.2 219.9h.8M381.3 236.8h.8M372.6 224.6h.8M378.7 234.8h.8M367.7 231.9h.8M370.8 235.0h.8M367.2 231.2h.8M376.1 230.3h.8M361.1 237.3h.8M389.7 240.2h.8M382.9 231.9h.8M381.9 245.6h.8M367.4 232.4h.8M382.9 226.3h.8M358.2 230.7h.8M388.8 230.1h.8M374.5 234.4h.8M364.1 232.9h.8M390.3 239.7h.8M369.6 226.6h.8M374.5 235.9h.8M384.1 219.2h.8M374.0 222.6h.8M393.0 243.3h.8M368.8 214.6h.8M398.8 237.4h.8M377.3 234.6h.8M378.8 222.0h.8M387.8 233.3h.8M354.5 237.0h.8M378.7 234.9h.8M385.3 231.5h.8M380.6 230.2h.8M365.5 234.7h.8M354.7 225.5h.8M378.7 239.5h.8M373.4 232.3h.8M376.0 221.6h.8M373.1 237.9h.8M374.0 242.2h.8M376.1 234.4h.8M386.3 244.4h.8M385.2 230.6h.8M369.0 237.3h.8M369.7 241.3h.8M408.4 228.4h.8M392.6 230.6h.8M373.3 226.3h.8M383.5 247.5h.8M380.5 234.5h.8M395.3 226.4h.8M395.8 235.3h.8M373.4 245.0h.8M392.0 243.5h.8M367.4 238.4h.8M376.0 233.0h.8M367.0 235.9h.8M390.9 237.2h.8M361.1 238.0h.8M381.0 242.7h.8M374.6 238.2h.8M386.4 238.2h.8M383.8 236.4h.8M383.0 219.5h.8M393.9 222.7h.8M376.1 234.7h.8M393.0 235.8h.8M397.8 226.3h.8M367.3 247.0h.8M381.6 221.7h.8M383.6 227.9h.8M369.5 223.4h.8M361.2 234.5h.8M376.5 228.0h.8M370.6 223.5h.8M374.3 229.1h.8M389.6 234.4h.8M378.2 220.1h.8M395.5 223.4h.8M370.6 234.9h.8M359.0 233.2h.8M377.5 238.3h.8M397.9 217.9h.8M375.2 212.4h.8M384.2 222.1h.8M373.4 225.2h.8M384.9 227.8h.8M382.4 220.6h.8M377.5 234.2h.8M397.6 237.4h.8M373.8 219.3h.8M370.7 232.4h.8M370.4 238.0h.8M379.6 239.9h.8M374.3 236.1h.8M393.0 243.9h.8M381.2 231.0h.8M378.8 242.4h.8M363.2 241.5h.8M370.7 234.5h.8M366.2 228.2h.8M376.1 231.0h.8M389.2 230.7h.8M383.0 239.2h.8M384.2 235.8h.8M385.0 229.9h.8M394.3 223.1h.8M381.2 249.7h.8M388.8 234.9h.8M387.9 231.1h.8M386.7 223.8h.8M366.6 219.6h.8M382.2 227.2h.8M375.0 226.8h.8M366.3 225.5h.8M378.5 238.9h.8M382.7 236.0h.8M398.4 228.8h.8M382.0 235.6h.8M391.1 237.5h.8M380.3 223.4h.8M378.4 239.3h.8M380.3 242.6h.8M398.9 234.1h.8M380.5 225.0h.8M398.0 222.3h.8M376.7 232.6h.8M371.3 231.6h.8M382.9 222.6h.8M381.0 227.2h.8M379.2 238.7h.8M371.5 241.8h.8M354.1 242.2h.8M370.7 225.7h.8M375.7 246.2h.8M392.7 232.7h.8M384.2 231.9h.8M384.6 227.5h.8M374.0 240.4h.8M363.8 248.9h.8M370.2 236.6h.8M400.1 238.0h.8M380.7 239.7h.8M359.6 230.6h.8M389.0 218.8h.8M389.8 235.1h.8M363.1 234.9h.8M384.5 239.3h.8M378.9 232.1h.8M368.8 237.3h.8M405.9 215.7h.8M379.0 222.4h.8M390.7 222.7h.8M389.7 236.0h.8M385.3 233.6h.8M380.8 214.9h.8M391.0 239.0h.8M378.4 213.1h.8M370.8 223.5h.8M359.3 223.0h.8M388.4 235.5h.8M363.1 253.8h.8M387.2 229.2h.8M385.2 241.0h.8M379.3 254.1h.8M373.6 221.0h.8M372.4 242.2h.8M365.0 229.3h.8M369.0 234.2h.8M382.2 237.8h.8M379.8 221.4h.8M364.5 224.0h.8M391.3 243.4h.8M372.9 239.8h.8M388.5 229.9h.8M378.4 252.6h.8M378.2 224.3h.8M376.5 230.5h.8M376.1 242.8h.8M383.4 215.1h.8M398.6 225.7h.8M388.3 222.2h.8M375.7 230.9h.8M368.9 222.0h.8M375.4 236.1h.8M385.6 247.8h.8M384.9 227.4h.8M386.7 243.0h.8M372.6 237.6h.8M383.9 229.7h.8M361.4 221.5h.8M390.0 237.6h.8M391.3 236.5h.8M390.6 235.8h.8" stroke="#5e5e5e" stroke-width="1" stroke-opacity=".6" fill="none" filter="url(#bl)"/>
<line x1="378.6" y1="191.3" x2="378.6" y2="259.2" stroke="#333" stroke-width="0.8" />
<line x1="349.3" y1="235.4" x2="415.3" y2="235.4" stroke="#333" stroke-width="0.8" />
<text x="351.7" y="204.8" font-family="Liberation Serif, serif" font-size="10" font-weight="bold" text-anchor="start" fill="#000" textLength="25.3" lengthAdjust="spacingAndGlyphs" stroke="#000" stroke-width="0.22" >12.4%</text>
<text x="384.3" y="204.8" font-family="Liberation Serif, serif" font-size="10" font-weight="bold" text-anchor="start" fill="#000" textLength="26.7" lengthAdjust="spacingAndGlyphs" stroke="#000" stroke-width="0.22" >20.0%</text>
<text x="388.7" y="257.8" font-family="Liberation Serif, serif" font-size="10" font-weight="bold" text-anchor="start" fill="#000" textLength="20.6" lengthAdjust="spacingAndGlyphs" stroke="#000" stroke-width="0.22" >9.6%</text>
<path d="M349.3 259.2v1.6M347.7 259.2h1.6M354.3 259.2v0.9M348.4 254.1h0.9M357.2 259.2v0.9M348.4 251.1h0.9M359.2 259.2v0.9M348.4 249.0h0.9M360.8 259.2v0.9M348.4 247.3h0.9M362.1 259.2v0.9M348.4 246.0h0.9M363.2 259.2v0.9M348.4 244.9h0.9M364.2 259.2v0.9M348.4 243.9h0.9M365.0 259.2v0.9M348.4 243.0h0.9M365.8 259.2v1.6M347.7 242.2h1.6M370.8 259.2v0.9M348.4 237.1h0.9M373.7 259.2v0.9M348.4 234.1h0.9M375.7 259.2v0.9M348.4 232.0h0.9M377.3 259.2v0.9M348.4 230.4h0.9M378.6 259.2v0.9M348.4 229.0h0.9M379.7 259.2v0.9M348.4 227.9h0.9M380.7 259.2v0.9M348.4 226.9h0.9M381.5 259.2v0.9M348.4 226.0h0.9M382.3 259.2v1.6M347.7 225.2h1.6M387.3 259.2v0.9M348.4 220.1h0.9M390.2 259.2v0.9M348.4 217.2h0.9M392.2 259.2v0.9M348.4 215.0h0.9M393.8 259.2v0.9M348.4 213.4h0.9M395.1 259.2v0.9M348.4 212.0h0.9M396.2 259.2v0.9M348.4 210.9h0.9M397.2 259.2v0.9M348.4 209.9h0.9M398.0 259.2v0.9M348.4 209.1h0.9M398.8 259.2v1.6M347.7 208.3h1.6M403.8 259.2v0.9M348.4 203.2h0.9M406.7 259.2v0.9M348.4 200.2h0.9M408.7 259.2v0.9M348.4 198.1h0.9M410.3 259.2v0.9M348.4 196.4h0.9M411.6 259.2v0.9M348.4 195.1h0.9M412.7 259.2v0.9M348.4 193.9h0.9M413.7 259.2v0.9M348.4 192.9h0.9M414.5 259.2v0.9M348.4 192.1h0.9M415.3 259.2v1.6M347.7 191.3h1.6" stroke="#555" stroke-width=".5" fill="none"/>
<text x="349" y="265.5" font-family="Liberation Sans, sans-serif" font-size="3.6" fill="#333" text-anchor="middle">10<tspan font-size="2.6" dy="-1.5">0</tspan></text>
<text x="346.1" y="259.5" font-family="Liberation Sans, sans-serif" font-size="3.6" fill="#333" text-anchor="middle" transform="rotate(-90 346.1 259.5)">10<tspan font-size="2.6" dy="-1.5">0</tspan></text>
<text x="365.5" y="265.5" font-family="Liberation Sans, sans-serif" font-size="3.6" fill="#333" text-anchor="middle">10<tspan font-size="2.6" dy="-1.5">1</tspan></text>
<text x="346.1" y="242.53" font-family="Liberation Sans, sans-serif" font-size="3.6" fill="#333" text-anchor="middle" transform="rotate(-90 346.1 242.53)">10<tspan font-size="2.6" dy="-1.5">1</tspan></text>
<text x="382" y="265.5" font-family="Liberation Sans, sans-serif" font-size="3.6" fill="#333" text-anchor="middle">10<tspan font-size="2.6" dy="-1.5">2</tspan></text>
<text x="346.1" y="225.55" font-family="Liberation Sans, sans-serif" font-size="3.6" fill="#333" text-anchor="middle" transform="rotate(-90 346.1 225.55)">10<tspan font-size="2.6" dy="-1.5">2</tspan></text>
<text x="398.5" y="265.5" font-family="Liberation Sans, sans-serif" font-size="3.6" fill="#333" text-anchor="middle">10<tspan font-size="2.6" dy="-1.5">3</tspan></text>
<text x="346.1" y="208.58" font-family="Liberation Sans, sans-serif" font-size="3.6" fill="#333" text-anchor="middle" transform="rotate(-90 346.1 208.58)">10<tspan font-size="2.6" dy="-1.5">3</tspan></text>
<text x="415" y="265.5" font-family="Liberation Sans, sans-serif" font-size="3.6" fill="#333" text-anchor="middle">10<tspan font-size="2.6" dy="-1.5">4</tspan></text>
<text x="346.1" y="191.6" font-family="Liberation Sans, sans-serif" font-size="3.6" fill="#333" text-anchor="middle" transform="rotate(-90 346.1 191.6)">10<tspan font-size="2.6" dy="-1.5">4</tspan></text>
<text x="382.3" y="270.2" font-family="Liberation Sans, sans-serif" font-size="3.8" font-weight="normal" text-anchor="middle" fill="#333" textLength="16.5" lengthAdjust="spacingAndGlyphs" >CCR7-PE</text>
<text x="339.7" y="221" font-family="Liberation Sans, sans-serif" font-size="3.8" fill="#333" text-anchor="middle" textLength="16.5" lengthAdjust="spacingAndGlyphs" transform="rotate(-90 339.7 221)">CD83-FITC</text>
<rect x="346.4" y="281.6" width="67.9" height="42.9" fill="#fff" stroke="#777" stroke-width="0.8"/>
<polyline points="357.0,324.0 357.6,323.9 358.4,323.7 359.3,323.5 360.3,323.2 361.2,322.7 362.0,322.0 362.6,321.1 363.2,320.0 363.7,318.8 364.1,317.3 364.6,315.8 365.0,314.0 365.4,312.0 365.8,309.7 366.2,307.2 366.5,304.7 366.9,302.3 367.2,300.0 367.5,297.8 367.8,295.6 368.0,293.5 368.3,291.4 368.5,289.6 368.8,288.0 369.1,286.6 369.3,285.2 369.6,284.1 369.9,283.2 370.1,282.6 370.4,282.5 370.7,282.8 371.0,283.6 371.2,284.7 371.5,286.1 371.8,287.5 372.0,289.0 372.2,290.6 372.3,292.4 372.4,294.3 372.5,296.3 372.6,298.2 372.8,300.0 373.0,301.6 373.2,303.2 373.4,304.8 373.7,306.2 373.9,307.7 374.2,309.0 374.5,310.3 374.7,311.5 375.0,312.6 375.3,313.7 375.7,314.7 376.1,315.7 376.6,316.7 377.2,317.6 377.9,318.5 378.5,319.3 379.3,320.0 380.1,320.6 381.0,321.0 381.9,321.3 382.9,321.5 383.9,321.6 384.9,321.7 386.0,321.8 387.1,321.9 388.3,321.9 389.5,321.9 390.7,321.9 391.9,321.9 393.0,322.0 394.0,322.2 394.7,322.4 395.5,322.6 396.4,322.9 397.5,323.1 399.0,323.3 401.2,323.5 403.9,323.6 406.9,323.7 409.8,323.8 412.3,323.9 414.0,324.0" fill="none" stroke="#333" stroke-width=".85" stroke-dasharray="1 .9"/>
<line x1="379.8" y1="312.5" x2="414.3" y2="312.5" stroke="#555" stroke-width=".7"/>
<line x1="379.8" y1="309.5" x2="379.8" y2="314.8" stroke="#555" stroke-width=".7"/>
<text x="398.1" y="317.5" font-family="Liberation Sans, sans-serif" font-size="2.8" fill="#777" text-anchor="middle">M1</text>
<polyline points="346.4,323.8 347.0,323.8 347.8,323.7 348.7,323.6 349.7,323.8 350.9,323.7 352.0,323.7 353.2,323.6 354.4,323.6 355.5,323.5 356.4,323.3 357.3,323.3 358.0,323.3 358.5,323.1 359.0,323.0 359.3,322.8 359.5,322.7 359.7,322.6 359.9,322.5 360.0,322.4 360.1,322.2 360.2,321.9 360.3,321.6 360.5,320.9 360.7,321.7 361.0,320.8 361.2,321.4 361.5,320.9 361.8,320.6 362.1,320.5 362.3,319.9 362.6,319.8 362.9,319.5 363.2,318.1 363.4,318.5 363.7,318.3 363.9,317.0 364.1,316.5 364.3,316.5 364.5,315.9 364.7,314.1 364.9,313.7 365.0,312.8 365.2,312.1 365.3,310.8 365.5,310.2 365.6,310.2 365.8,308.6 365.9,308.9 366.0,308.5 366.2,306.8 366.3,307.6 366.4,306.3 366.5,305.8 366.6,306.0 366.7,306.4 366.8,305.6 366.9,304.9 367.0,305.0 367.1,305.0 367.2,303.9 367.3,304.8 367.5,303.8 367.6,303.2 367.7,303.7 367.9,303.3 368.0,302.8 368.2,303.4 368.3,302.0 368.4,302.2 368.6,302.4 368.7,301.6 368.8,301.2 368.9,302.0 369.0,300.9 369.1,300.7 369.2,300.7 369.3,300.4 369.4,300.2 369.5,299.4 369.5,300.2 369.6,298.9 369.7,299.7 369.8,299.6 369.9,299.1 370.0,299.3 370.1,300.5 370.2,300.5 370.3,300.2 370.4,300.4 370.5,301.7 370.6,301.3 370.7,301.9 370.8,303.1 371.0,303.3 371.1,303.9 371.2,303.4 371.3,304.1 371.4,305.3 371.6,305.2 371.7,305.1 371.8,305.3 371.9,305.3 372.1,305.8 372.2,306.6 372.3,306.4 372.5,307.3 372.6,307.1 372.8,306.9 373.0,307.2 373.2,307.5 373.3,308.7 373.5,309.2 373.7,309.0 374.0,309.6 374.2,309.6 374.4,309.3 374.6,309.6 374.8,310.1 375.1,310.6 375.3,311.2 375.5,311.5 375.8,311.2 376.0,312.1 376.3,311.6 376.6,312.3 376.9,312.7 377.1,313.0 377.4,313.3 377.7,313.6 378.0,313.2 378.2,314.3 378.5,314.4 378.8,314.8 379.0,314.3 379.3,314.8 379.6,314.9 379.9,315.9 380.2,315.7 380.4,316.1 380.7,316.7 381.0,316.3 381.3,316.7 381.5,316.9 381.8,316.8 382.1,317.3 382.3,317.6 382.6,317.1 382.8,318.0 383.1,317.8 383.4,317.8 383.6,318.6 383.9,319.0 384.1,318.9 384.4,319.2 384.7,318.3 385.0,318.7 385.3,318.4 385.6,318.2 385.9,318.9 386.3,318.1 386.6,318.9 386.9,318.3 387.3,318.1 387.6,318.5 388.0,317.6 388.3,318.4 388.7,318.1 389.0,318.0 389.3,318.3 389.7,318.0 390.0,317.9 390.4,318.5 390.7,317.9 391.0,318.9 391.4,318.2 391.7,319.6 392.1,319.8 392.4,319.1 392.8,319.4 393.1,320.1 393.4,320.6 393.8,320.2 394.1,320.3 394.4,320.6 394.7,320.3 395.1,321.5 395.4,321.5 395.7,321.8 396.1,322.1 396.4,321.3 396.8,322.0 397.2,322.3 397.6,322.3 398.0,322.5 398.4,322.6 398.7,322.7 399.1,322.7 399.5,322.9 400.0,322.9 400.4,323.2 400.9,323.3 401.5,323.2 402.1,323.4 402.8,323.4 403.6,323.5 404.5,323.5 405.5,323.5 406.6,323.7 407.8,323.7 408.9,323.6 410.0,323.6 411.1,323.7 412.1,323.7 413.0,323.7 413.7,323.9 414.3,323.9" fill="none" stroke="#000" stroke-width="1.65" stroke-linejoin="round"/>
<text x="382.9" y="297.8" font-family="Liberation Serif, serif" font-size="10" font-weight="bold" text-anchor="start" fill="#000" textLength="26.3" lengthAdjust="spacingAndGlyphs" stroke="#000" stroke-width="0.22" >29.9%</text>
<path d="M346.4 324.5v1.6M351.5 324.5v0.9M354.5 324.5v0.9M356.6 324.5v0.9M358.3 324.5v0.9M359.6 324.5v0.9M360.7 324.5v0.9M361.7 324.5v0.9M362.6 324.5v0.9M363.4 324.5v1.6M368.5 324.5v0.9M371.5 324.5v0.9M373.6 324.5v0.9M375.2 324.5v0.9M376.6 324.5v0.9M377.7 324.5v0.9M378.7 324.5v0.9M379.6 324.5v0.9M380.4 324.5v1.6M385.5 324.5v0.9M388.4 324.5v0.9M390.6 324.5v0.9M392.2 324.5v0.9M393.6 324.5v0.9M394.7 324.5v0.9M395.7 324.5v0.9M396.5 324.5v0.9M397.3 324.5v1.6M402.4 324.5v0.9M405.4 324.5v0.9M407.5 324.5v0.9M409.2 324.5v0.9M410.5 324.5v0.9M411.7 324.5v0.9M412.7 324.5v0.9M413.5 324.5v0.9M414.3 324.5v1.6" stroke="#555" stroke-width=".5" fill="none"/>
<text x="346.4" y="330" font-family="Liberation Sans, sans-serif" font-size="3.6" fill="#333" text-anchor="middle">10<tspan font-size="2.6" dy="-1.5">0</tspan></text>
<text x="363.38" y="330" font-family="Liberation Sans, sans-serif" font-size="3.6" fill="#333" text-anchor="middle">10<tspan font-size="2.6" dy="-1.5">1</tspan></text>
<text x="380.35" y="330" font-family="Liberation Sans, sans-serif" font-size="3.6" fill="#333" text-anchor="middle">10<tspan font-size="2.6" dy="-1.5">2</tspan></text>
<text x="397.32" y="330" font-family="Liberation Sans, sans-serif" font-size="3.6" fill="#333" text-anchor="middle">10<tspan font-size="2.6" dy="-1.5">3</tspan></text>
<text x="414.3" y="330" font-family="Liberation Sans, sans-serif" font-size="3.6" fill="#333" text-anchor="middle">10<tspan font-size="2.6" dy="-1.5">4</tspan></text>
<line x1="344.9" y1="324.5" x2="346.4" y2="324.5" stroke="#777" stroke-width="0.6" />
<text x="342.9" y="324.5" font-family="Liberation Sans, sans-serif" font-size="3.4" fill="#333" text-anchor="middle" transform="rotate(-90 342.9 324.5)">0</text>
<line x1="344.9" y1="315.92" x2="346.4" y2="315.92" stroke="#777" stroke-width="0.6" />
<text x="342.9" y="315.92" font-family="Liberation Sans, sans-serif" font-size="3.4" fill="#333" text-anchor="middle" transform="rotate(-90 342.9 315.92)">20</text>
<line x1="344.9" y1="307.34" x2="346.4" y2="307.34" stroke="#777" stroke-width="0.6" />
<text x="342.9" y="307.34" font-family="Liberation Sans, sans-serif" font-size="3.4" fill="#333" text-anchor="middle" transform="rotate(-90 342.9 307.34)">40</text>
<line x1="344.9" y1="298.76" x2="346.4" y2="298.76" stroke="#777" stroke-width="0.6" />
<text x="342.9" y="298.76" font-family="Liberation Sans, sans-serif" font-size="3.4" fill="#333" text-anchor="middle" transform="rotate(-90 342.9 298.76)">60</text>
<line x1="344.9" y1="290.18" x2="346.4" y2="290.18" stroke="#777" stroke-width="0.6" />
<text x="342.9" y="290.18" font-family="Liberation Sans, sans-serif" font-size="3.4" fill="#333" text-anchor="middle" transform="rotate(-90 342.9 290.18)">80</text>
<line x1="344.9" y1="281.6" x2="346.4" y2="281.6" stroke="#777" stroke-width="0.6" />
<text x="342.9" y="281.6" font-family="Liberation Sans, sans-serif" font-size="3.4" fill="#333" text-anchor="middle" transform="rotate(-90 342.9 281.6)">100</text>
<text x="380.4" y="334.3" font-family="Liberation Sans, sans-serif" font-size="3.8" font-weight="normal" text-anchor="middle" fill="#333" textLength="15.5" lengthAdjust="spacingAndGlyphs" >CCR7-PE</text>
<text x="338.4" y="304" font-family="Liberation Sans, sans-serif" font-size="3.6" fill="#333" text-anchor="middle" textLength="11" lengthAdjust="spacingAndGlyphs" transform="rotate(-90 338.4 304)">Counts</text>
<text x="459.2" y="181.9" font-family="Liberation Serif, serif" font-size="9.6" font-weight="bold" text-anchor="start" fill="#000" textLength="44.6" lengthAdjust="spacingAndGlyphs" stroke="#000" stroke-width="0.22" >PGE2/TNF</text>
<rect x="449.9" y="191.3" width="66" height="67.9" fill="#fff" stroke="#666" stroke-width="0.9"/>
<path d="M470.8 244.3h.8M474.0 242.7h.8M472.5 248.4h.8M470.7 240.4h.8M475.5 237.9h.8M479.5 240.7h.8M472.3 233.7h.8M479.4 244.7h.8M475.4 244.7h.8M479.3 238.8h.8M467.5 244.9h.8M466.1 240.9h.8M463.6 238.1h.8M472.5 236.7h.8M472.5 234.7h.8M472.2 246.4h.8M469.9 239.9h.8M467.3 239.6h.8M464.3 241.1h.8M469.5 233.3h.8M476.8 246.3h.8M472.8 240.1h.8M464.3 245.4h.8M470.4 249.6h.8M479.9 241.8h.8M478.4 238.9h.8M466.9 241.3h.8M469.4 243.1h.8M471.8 236.8h.8M471.3 239.9h.8M484.2 237.9h.8M471.3 247.0h.8M465.2 239.9h.8M475.1 246.8h.8M466.4 242.5h.8M471.6 239.8h.8M465.4 241.2h.8M475.1 243.4h.8M469.5 240.5h.8M473.0 237.5h.8M466.9 242.4h.8M476.5 245.6h.8M475.0 240.1h.8M473.4 234.8h.8M470.4 233.0h.8M470.0 234.5h.8M475.3 248.8h.8M471.3 237.1h.8M473.3 237.6h.8M475.2 234.6h.8M478.1 245.5h.8M471.7 236.5h.8M473.8 236.1h.8M473.4 239.7h.8M478.3 242.2h.8M467.2 241.5h.8M469.7 246.2h.8M477.3 239.3h.8M473.2 236.5h.8M467.2 242.4h.8M474.4 237.1h.8M479.7 241.0h.8M479.9 233.0h.8M470.7 242.7h.8M475.4 241.3h.8M468.8 240.0h.8M466.3 244.1h.8M468.3 241.9h.8M476.7 246.0h.8M477.7 240.3h.8M462.6 241.7h.8M467.7 245.2h.8M464.5 241.3h.8M461.8 241.0h.8M470.3 240.2h.8M474.2 239.5h.8M476.4 240.9h.8M468.9 236.7h.8M477.6 242.4h.8M470.4 235.2h.8M469.0 239.2h.8M474.4 240.9h.8M475.8 243.2h.8M469.0 237.3h.8M470.5 237.7h.8M474.7 244.8h.8M474.4 236.9h.8M477.8 246.6h.8M477.4 243.2h.8M468.7 243.7h.8M474.8 238.4h.8M476.3 232.0h.8M479.1 229.6h.8M472.8 238.9h.8M471.6 242.2h.8M471.3 244.9h.8M464.5 246.4h.8M479.0 237.6h.8M463.6 241.0h.8M473.6 240.8h.8M476.5 236.7h.8M476.6 235.3h.8M468.3 240.1h.8M472.1 231.4h.8M469.2 240.6h.8M469.4 242.8h.8M474.4 237.2h.8M468.2 240.1h.8M481.1 242.8h.8M468.8 235.8h.8M467.7 249.8h.8M468.1 242.0h.8M478.8 241.2h.8M468.7 236.7h.8M475.7 242.9h.8M471.4 240.9h.8M477.7 240.4h.8M477.5 243.2h.8M473.7 247.0h.8M470.6 244.1h.8M468.0 246.1h.8M465.0 237.3h.8M468.6 248.8h.8M473.9 247.5h.8M475.6 234.6h.8M472.6 242.1h.8M470.1 244.6h.8M475.6 239.4h.8M470.4 237.2h.8M483.4 244.4h.8M472.6 242.3h.8M473.2 241.2h.8M471.9 240.2h.8M472.2 237.9h.8M469.9 248.0h.8M477.3 244.8h.8M480.6 238.1h.8M471.8 242.9h.8M473.3 239.1h.8M468.2 245.1h.8M474.9 235.4h.8M468.6 241.3h.8M470.3 235.0h.8M474.3 236.4h.8M472.8 236.6h.8M475.8 244.2h.8M474.8 240.8h.8M476.5 239.7h.8M483.0 235.4h.8M467.9 248.2h.8M479.6 236.1h.8M471.1 244.8h.8M469.4 235.6h.8M476.5 237.6h.8M472.1 239.3h.8M474.7 237.6h.8M472.2 239.9h.8M468.2 243.7h.8M467.1 241.9h.8M480.9 238.5h.8M471.3 241.6h.8M474.7 246.8h.8M471.2 236.1h.8M472.2 237.9h.8M467.5 242.0h.8M469.9 244.7h.8M476.5 243.3h.8M469.1 237.3h.8M474.3 232.9h.8M469.4 237.8h.8M469.7 243.6h.8M473.9 239.6h.8M475.1 242.9h.8M474.9 245.2h.8M478.9 238.1h.8M467.3 240.0h.8M468.5 244.2h.8M471.5 237.3h.8M473.1 242.8h.8M478.0 240.4h.8M471.2 238.5h.8M468.0 239.3h.8M473.9 241.8h.8M473.6 231.8h.8M470.8 245.7h.8M467.5 243.3h.8M470.0 245.1h.8M474.3 242.6h.8M475.1 244.0h.8M468.1 237.9h.8M470.0 246.0h.8M463.2 245.8h.8M471.0 242.4h.8M468.9 242.5h.8M475.7 234.4h.8M477.2 238.4h.8M473.0 234.9h.8M474.0 241.1h.8M480.8 233.5h.8M471.2 241.6h.8M474.5 247.0h.8M467.6 245.9h.8M471.3 237.7h.8M474.8 241.3h.8M472.1 243.4h.8M465.7 241.9h.8M469.0 240.8h.8M473.2 239.9h.8M473.9 236.4h.8M472.4 240.2h.8M483.1 240.4h.8M467.3 242.1h.8M481.0 241.3h.8M466.2 248.7h.8M475.7 242.2h.8M478.4 232.8h.8M473.5 239.4h.8M473.8 233.0h.8M477.3 235.3h.8M474.6 244.2h.8M473.0 241.1h.8M466.9 239.0h.8M473.6 239.2h.8M475.2 236.3h.8M472.2 237.4h.8M465.3 242.3h.8M471.8 241.5h.8M470.2 246.4h.8M484.9 243.7h.8M466.9 241.0h.8M478.7 242.8h.8M468.3 239.6h.8M472.7 238.4h.8M473.3 248.2h.8M477.2 248.0h.8M478.1 229.0h.8M474.7 235.2h.8M474.4 246.8h.8M474.4 231.1h.8M472.3 239.2h.8M476.3 234.7h.8M471.1 240.3h.8M472.7 241.8h.8M477.1 240.3h.8M479.1 240.3h.8M482.5 242.1h.8M473.0 236.5h.8M470.8 239.0h.8M478.1 238.4h.8M472.2 242.2h.8M472.1 243.4h.8M469.8 238.2h.8M471.2 244.5h.8M468.0 233.4h.8M472.7 238.4h.8M474.0 239.4h.8M479.2 240.6h.8M470.2 239.9h.8M479.4 236.9h.8M473.8 246.6h.8M475.6 243.6h.8M467.8 242.1h.8M478.6 242.2h.8M464.5 246.5h.8M476.1 240.5h.8M475.6 236.3h.8M479.0 244.6h.8M475.9 243.6h.8M467.1 240.9h.8M472.4 243.3h.8M466.8 242.0h.8M477.7 236.2h.8M479.6 241.3h.8M470.1 237.6h.8M479.4 237.4h.8M469.1 240.7h.8M477.2 244.4h.8M470.9 233.2h.8M478.8 239.7h.8M471.0 241.1h.8M465.2 247.8h.8M474.4 248.1h.8M466.3 238.2h.8M465.7 246.7h.8M469.6 241.8h.8M468.9 236.7h.8M469.4 242.2h.8M470.3 239.2h.8M472.7 238.3h.8M472.1 236.2h.8M465.7 236.7h.8M467.6 244.2h.8M465.5 236.8h.8M483.6 236.9h.8M477.3 236.1h.8M470.6 239.9h.8M470.3 242.7h.8M472.8 244.7h.8M471.1 241.8h.8M468.5 245.6h.8M466.7 236.2h.8M469.1 238.6h.8M465.0 235.1h.8M467.9 241.8h.8M479.3 236.5h.8M468.2 241.6h.8M475.9 245.0h.8M475.5 237.3h.8M475.9 231.3h.8M473.6 246.6h.8M476.1 248.6h.8M470.3 241.4h.8M471.7 243.8h.8M477.4 239.4h.8M475.2 241.5h.8M473.1 235.2h.8M473.3 243.7h.8M469.9 234.8h.8M476.7 245.9h.8M471.4 244.7h.8M466.4 246.5h.8M471.1 245.2h.8M467.2 242.6h.8M469.4 233.8h.8M465.3 243.8h.8M469.8 243.9h.8M474.1 243.2h.8M470.8 238.4h.8M471.3 242.3h.8M468.8 243.2h.8M472.4 240.6h.8M478.3 243.1h.8M464.4 237.6h.8M481.8 244.8h.8M473.3 236.9h.8M468.6 242.4h.8M477.8 237.6h.8M475.3 242.0h.8M469.3 244.6h.8M464.0 241.3h.8M470.0 247.4h.8M470.3 235.9h.8M469.4 233.9h.8M474.3 235.2h.8M474.2 240.9h.8M473.4 240.8h.8M474.3 243.6h.8M467.5 243.3h.8M465.9 240.5h.8M467.2 246.2h.8M474.0 238.5h.8M471.1 236.8h.8M475.2 236.7h.8M474.9 244.9h.8M463.5 248.9h.8M476.2 244.9h.8M468.4 234.9h.8M470.8 239.5h.8M472.9 235.8h.8M482.9 241.1h.8M474.2 241.1h.8M463.9 244.9h.8M469.7 234.6h.8M468.0 240.2h.8M478.5 245.4h.8M468.1 244.7h.8M472.5 243.4h.8M472.4 238.3h.8M466.4 243.5h.8M468.6 238.1h.8M475.5 248.3h.8M479.6 237.1h.8M480.4 232.3h.8M475.4 240.9h.8M471.3 241.9h.8M467.0 238.0h.8M465.2 237.4h.8M466.9 239.0h.8M472.6 233.9h.8M473.6 240.0h.8M469.9 239.5h.8M475.6 233.5h.8M472.5 239.3h.8M474.0 242.1h.8M481.0 238.2h.8M476.0 234.7h.8M466.2 238.2h.8M463.0 244.7h.8M470.9 237.2h.8M472.6 245.6h.8M468.9 241.5h.8M478.3 245.7h.8M476.1 238.7h.8M474.2 240.2h.8M468.7 236.9h.8M473.2 234.1h.8M467.6 237.5h.8M476.1 236.3h.8M470.1 237.3h.8M472.7 243.5h.8M482.6 243.1h.8M473.4 236.1h.8M477.7 230.2h.8M479.4 239.3h.8M468.4 243.8h.8M474.8 242.0h.8M470.8 234.1h.8M477.0 241.1h.8M469.3 241.6h.8M479.2 239.7h.8M464.0 239.8h.8M477.0 243.6h.8M469.7 241.8h.8M469.5 242.8h.8M473.1 243.2h.8M472.7 239.9h.8M472.5 242.3h.8M475.9 232.1h.8M470.7 244.4h.8M468.8 242.9h.8M474.2 242.4h.8M474.5 238.4h.8M477.9 234.8h.8M476.9 236.7h.8M471.4 244.3h.8M470.8 240.9h.8M473.2 236.9h.8M472.5 232.2h.8M469.3 239.9h.8M475.3 238.9h.8M466.4 240.6h.8M479.6 239.5h.8M474.1 240.1h.8M471.8 237.3h.8M472.3 240.9h.8M468.0 244.7h.8M473.1 246.0h.8M472.6 243.7h.8M466.7 243.4h.8M471.6 239.4h.8M467.4 245.4h.8M473.3 244.1h.8M477.2 236.2h.8M464.2 242.0h.8M471.0 236.1h.8M471.3 239.0h.8M468.6 241.1h.8M469.8 240.9h.8M477.6 242.4h.8M474.0 245.2h.8M472.7 240.9h.8M472.4 234.2h.8M472.5 235.6h.8M479.2 240.4h.8M469.0 244.6h.8M472.6 237.1h.8M477.1 242.3h.8M475.2 244.9h.8M466.1 237.7h.8M471.0 241.1h.8M468.1 239.1h.8M474.8 249.0h.8M475.3 234.6h.8M477.0 241.2h.8M473.8 238.0h.8M468.0 237.6h.8M480.6 242.6h.8M467.8 241.1h.8M467.0 239.0h.8M473.3 247.4h.8M465.6 247.6h.8M476.4 234.8h.8M468.4 246.0h.8M481.3 242.1h.8M473.5 242.5h.8M469.4 238.7h.8M468.2 240.4h.8M470.4 241.4h.8M470.3 245.3h.8M467.0 244.8h.8M473.3 244.8h.8M472.0 247.2h.8M470.6 247.5h.8M468.2 243.7h.8M473.7 239.5h.8M473.6 239.9h.8M474.0 241.5h.8M466.5 241.5h.8M475.4 236.2h.8M474.5 242.2h.8M476.6 239.9h.8M468.4 239.0h.8M469.9 244.8h.8M477.4 241.4h.8M470.0 245.1h.8M467.0 246.2h.8M470.8 241.3h.8M467.8 244.9h.8M474.9 245.1h.8M470.5 249.2h.8M461.6 242.9h.8M474.2 243.0h.8M469.4 241.9h.8M469.9 243.3h.8M473.1 237.3h.8M476.3 233.6h.8M470.8 243.1h.8M463.5 237.7h.8M479.9 243.1h.8M467.6 241.3h.8M473.6 251.2h.8M472.9 243.1h.8M473.6 238.4h.8M472.1 240.1h.8M471.2 240.7h.8M469.2 237.6h.8M473.2 242.9h.8M479.5 247.6h.8M471.1 240.7h.8M473.9 242.4h.8M470.3 239.1h.8M485.1 238.3h.8M465.2 239.5h.8M474.6 240.2h.8M468.0 238.6h.8M482.6 233.9h.8M477.3 240.2h.8M478.2 240.4h.8M476.4 239.0h.8M470.9 245.1h.8M467.8 235.0h.8M474.9 241.0h.8M470.1 242.6h.8M472.4 236.9h.8M471.1 243.9h.8M468.0 250.5h.8M471.5 236.5h.8M478.0 240.1h.8M473.9 247.0h.8M472.5 240.3h.8M481.0 239.5h.8M469.7 240.5h.8M475.2 245.0h.8M469.7 238.5h.8M473.8 242.4h.8M471.4 239.1h.8M465.9 244.7h.8M471.7 234.7h.8M476.4 240.0h.8M467.3 244.5h.8M477.5 242.2h.8M483.7 237.0h.8M468.1 242.8h.8M473.8 244.4h.8M472.0 236.8h.8M468.5 246.1h.8M472.4 240.3h.8M476.7 236.7h.8M475.3 234.2h.8M472.6 238.6h.8M476.1 243.1h.8M472.5 240.8h.8M465.0 239.8h.8M474.7 249.3h.8M480.0 245.8h.8M472.1 237.3h.8M467.2 240.4h.8M467.1 246.1h.8M470.6 234.5h.8M467.7 247.8h.8M475.9 241.4h.8M468.6 238.2h.8M478.7 243.0h.8M474.6 235.2h.8M475.3 246.5h.8M469.7 234.1h.8M467.3 240.8h.8M466.0 242.9h.8M471.2 242.8h.8M470.3 241.3h.8M475.1 246.5h.8M480.6 240.1h.8M468.6 233.8h.8M470.2 236.3h.8M473.4 242.3h.8M477.5 234.0h.8M475.4 249.4h.8M468.4 235.5h.8M472.7 237.0h.8M469.6 242.8h.8M475.5 244.2h.8M466.7 246.6h.8M471.6 242.3h.8M477.4 240.7h.8M481.4 237.8h.8M468.2 235.8h.8M479.9 240.2h.8M469.8 239.5h.8M478.9 240.5h.8M477.1 241.6h.8M478.5 240.4h.8M483.1 240.8h.8M472.6 239.2h.8M483.3 239.1h.8M476.0 234.0h.8M464.5 242.8h.8M471.8 233.5h.8M472.1 242.1h.8M466.6 242.4h.8M477.0 237.1h.8M472.6 241.4h.8M477.4 247.8h.8M478.8 239.5h.8M477.1 237.9h.8M476.5 235.8h.8M468.8 243.2h.8M475.2 240.9h.8M478.6 241.7h.8M472.3 240.4h.8M471.3 241.2h.8M469.3 239.0h.8M470.3 239.6h.8M478.0 236.7h.8M472.2 233.3h.8M471.1 241.2h.8M467.1 239.1h.8M472.5 235.6h.8M469.5 240.6h.8M473.2 242.0h.8M468.4 246.3h.8M476.8 241.3h.8M470.9 239.8h.8M482.3 245.6h.8M472.7 238.4h.8M477.1 239.3h.8M475.2 247.4h.8M469.9 242.7h.8M460.8 241.2h.8M472.5 245.6h.8M471.5 240.5h.8M475.4 241.9h.8M472.7 234.5h.8M477.4 242.7h.8M473.3 238.1h.8M466.7 241.2h.8M469.9 239.5h.8M470.3 236.3h.8M475.4 239.4h.8M472.9 242.4h.8M470.1 237.5h.8M466.0 240.1h.8M475.8 244.5h.8M477.6 243.3h.8M474.1 238.4h.8M470.4 239.8h.8M471.7 236.7h.8M473.9 243.4h.8M470.2 234.1h.8M470.8 246.4h.8M467.7 245.0h.8M469.4 240.8h.8M472.8 240.9h.8M475.5 238.8h.8M468.2 234.4h.8M466.6 245.8h.8M473.1 246.0h.8M468.1 238.5h.8M473.2 238.8h.8M467.0 245.3h.8M471.6 239.0h.8M471.6 241.3h.8M471.2 240.7h.8M477.7 236.8h.8M473.5 239.0h.8M470.2 242.0h.8M467.8 244.4h.8M478.1 230.4h.8M468.0 246.9h.8M477.2 232.3h.8M472.5 247.1h.8M477.8 241.5h.8M475.3 238.5h.8M468.9 245.3h.8M468.7 245.8h.8M473.9 241.3h.8M475.1 241.0h.8M469.3 240.3h.8M466.9 248.0h.8M470.7 232.3h.8M475.7 238.3h.8M475.2 244.4h.8M473.2 238.1h.8M471.1 241.8h.8M474.1 237.3h.8M465.9 243.6h.8M476.9 241.0h.8M467.8 248.2h.8M478.3 241.9h.8M469.3 240.2h.8M478.1 232.0h.8M465.9 250.2h.8M466.3 239.1h.8M469.8 242.4h.8M478.7 240.7h.8M467.7 242.5h.8M464.1 243.7h.8M475.7 246.7h.8M468.2 241.2h.8M466.4 245.8h.8M468.1 240.2h.8M472.6 244.7h.8M468.6 239.2h.8M468.1 244.0h.8M465.5 242.3h.8M471.5 244.2h.8M472.3 242.0h.8M473.3 236.8h.8M479.8 244.2h.8M472.4 242.6h.8M465.9 235.4h.8M470.3 241.3h.8M472.1 237.0h.8M473.1 233.5h.8M476.5 239.8h.8M475.4 233.6h.8M471.9 248.1h.8M469.8 245.3h.8M469.1 240.9h.8M469.3 240.8h.8M468.2 253.5h.8M467.0 245.4h.8M470.4 245.0h.8M470.8 240.2h.8M469.7 237.3h.8M472.1 238.9h.8M472.3 242.8h.8M469.3 248.4h.8M473.4 237.6h.8M471.1 243.5h.8M473.1 239.7h.8M467.1 232.9h.8M468.8 247.1h.8M470.3 243.7h.8M471.1 242.8h.8M471.7 240.9h.8M477.3 234.2h.8M475.5 237.9h.8M471.1 240.5h.8M481.8 248.9h.8M472.1 246.8h.8M474.5 237.7h.8M475.5 234.5h.8M474.2 238.2h.8M461.8 239.9h.8M475.5 238.1h.8M473.4 240.5h.8M472.9 244.3h.8M471.2 232.5h.8M470.6 245.8h.8M463.1 243.7h.8M472.8 245.8h.8M467.6 235.8h.8M473.9 233.6h.8M476.4 243.1h.8M473.0 244.6h.8M479.3 243.3h.8M470.5 245.8h.8M469.8 234.9h.8M470.4 240.0h.8M469.9 248.6h.8M464.1 235.6h.8M466.8 243.8h.8M479.7 242.4h.8M478.3 236.2h.8M474.8 241.0h.8M460.3 240.7h.8M473.6 243.4h.8M473.2 235.8h.8M475.9 239.4h.8M470.0 233.5h.8M464.8 244.6h.8M472.1 242.4h.8M465.5 243.7h.8M475.8 232.4h.8M475.7 233.7h.8M476.3 237.5h.8M473.9 234.2h.8M475.6 242.4h.8M477.2 245.5h.8M475.4 239.6h.8M471.9 240.3h.8M468.4 241.0h.8M469.5 237.9h.8M474.2 242.9h.8M475.0 237.6h.8M475.2 238.3h.8M473.8 239.6h.8M465.1 247.6h.8M473.7 247.5h.8M478.4 239.7h.8M472.1 239.4h.8M479.2 233.5h.8M469.8 237.3h.8M471.1 236.9h.8M471.7 241.3h.8M467.8 244.8h.8M471.1 240.2h.8M468.6 245.1h.8M479.9 239.0h.8M473.2 233.7h.8M480.8 238.6h.8M474.7 239.9h.8M463.5 238.4h.8M468.6 239.5h.8M482.0 241.3h.8M471.9 236.7h.8M475.8 237.1h.8M465.7 242.5h.8M474.3 240.2h.8M468.4 241.5h.8M473.9 232.2h.8M478.9 240.6h.8M474.9 237.8h.8M466.5 242.4h.8M478.5 238.7h.8M465.8 243.2h.8M475.1 240.6h.8M472.0 244.1h.8M471.8 247.1h.8M470.4 233.2h.8M473.1 242.3h.8M481.4 233.5h.8M471.5 242.5h.8M467.0 240.1h.8M467.0 249.8h.8M467.4 237.3h.8M471.7 236.7h.8M473.6 241.3h.8M476.9 241.4h.8M472.8 240.3h.8M467.0 239.9h.8M466.8 241.6h.8M476.4 242.7h.8M479.1 239.5h.8M471.1 245.3h.8M466.0 244.0h.8M469.8 239.7h.8M475.5 244.2h.8M466.8 239.4h.8M474.9 233.1h.8M469.3 241.5h.8M468.6 249.6h.8M480.8 242.2h.8M467.6 241.3h.8M467.9 241.0h.8M469.2 238.7h.8M472.4 243.0h.8M468.6 247.0h.8M470.4 241.1h.8M469.3 234.8h.8M475.8 243.2h.8M472.1 240.0h.8M473.9 237.7h.8M465.7 248.1h.8M475.0 242.6h.8M475.1 239.3h.8M465.5 240.8h.8M473.7 237.6h.8M476.8 242.2h.8M475.1 241.9h.8M469.9 240.6h.8M474.1 232.0h.8M475.5 245.8h.8M473.8 237.1h.8M471.9 245.9h.8M475.3 240.3h.8M481.7 242.8h.8M470.6 246.6h.8M471.1 242.5h.8M468.8 238.0h.8M476.5 240.2h.8M472.8 236.2h.8M470.2 239.7h.8M475.2 234.4h.8M470.9 244.0h.8M474.1 237.8h.8M474.8 240.0h.8M471.1 246.0h.8M465.4 238.4h.8M477.5 243.5h.8M474.4 237.5h.8M473.4 242.5h.8M475.2 245.8h.8M465.0 242.0h.8M478.2 239.8h.8M476.7 242.2h.8M479.5 242.8h.8M477.3 234.0h.8M466.3 242.7h.8M470.4 243.7h.8M472.9 237.6h.8M473.1 238.0h.8M469.2 242.3h.8M474.5 244.8h.8M474.3 241.1h.8M473.3 238.9h.8M474.8 232.1h.8M475.7 248.2h.8M477.8 235.6h.8M475.9 241.2h.8M479.5 238.8h.8M468.1 236.0h.8M476.3 246.1h.8M467.9 241.5h.8M485.2 237.2h.8M473.4 244.7h.8M466.8 241.5h.8M467.5 240.2h.8M474.4 235.1h.8M473.8 244.6h.8M472.9 240.4h.8M468.6 240.4h.8M477.4 241.4h.8M480.3 234.9h.8M469.5 241.8h.8M474.3 237.8h.8M470.6 238.7h.8M475.0 237.9h.8M469.0 245.9h.8M475.0 237.2h.8M461.9 241.0h.8M468.7 237.7h.8M475.4 236.6h.8M474.5 236.9h.8M475.5 237.6h.8M480.6 237.4h.8M471.7 243.0h.8M473.0 238.6h.8M469.9 239.8h.8M465.6 240.9h.8M476.3 240.7h.8M472.1 247.6h.8M471.6 237.7h.8M471.3 239.6h.8M478.7 241.4h.8M468.3 241.5h.8M472.4 245.5h.8M475.4 238.6h.8M477.2 242.9h.8M475.1 241.3h.8M474.1 240.8h.8M472.3 238.0h.8M475.6 238.4h.8M468.4 246.2h.8M472.2 238.5h.8M469.9 240.8h.8M472.6 238.1h.8M479.0 237.3h.8M468.8 247.3h.8M476.1 241.5h.8M473.6 240.1h.8M471.4 237.5h.8M465.9 245.5h.8M469.1 235.2h.8M471.9 230.7h.8M469.2 244.5h.8M470.5 238.6h.8M481.6 241.7h.8M475.9 239.5h.8M472.5 247.4h.8M474.5 241.4h.8M473.0 243.9h.8M474.9 240.5h.8M469.7 238.9h.8M474.8 241.3h.8M475.4 236.5h.8M461.7 237.2h.8M470.2 239.5h.8M466.8 243.5h.8M472.2 237.1h.8M476.5 240.0h.8M471.2 239.9h.8M471.3 243.2h.8M463.2 245.0h.8M475.8 241.0h.8M483.7 239.3h.8M474.7 242.5h.8M476.1 234.4h.8M465.9 237.8h.8M478.4 241.1h.8M461.7 246.4h.8M478.7 242.6h.8M466.1 242.3h.8M476.1 244.4h.8M469.1 247.1h.8M476.8 239.0h.8M469.9 239.9h.8M473.0 235.4h.8M474.9 243.2h.8M475.6 241.4h.8M485.4 239.4h.8M471.4 244.9h.8M473.1 241.0h.8M481.4 247.1h.8M468.6 246.4h.8M470.5 247.2h.8M469.7 250.9h.8M469.5 239.2h.8M472.2 242.4h.8M472.5 246.3h.8M477.6 237.0h.8M475.3 238.7h.8M467.9 237.8h.8M471.9 243.4h.8M472.2 241.2h.8M469.1 232.9h.8M476.5 247.8h.8M467.6 237.6h.8M476.6 242.4h.8M477.0 243.9h.8M467.1 240.3h.8M471.8 245.1h.8M470.1 233.4h.8M478.5 237.1h.8M470.4 238.4h.8M468.2 244.3h.8M473.3 240.8h.8M474.6 237.1h.8M467.9 246.7h.8M471.5 238.0h.8M467.1 239.3h.8M462.7 245.4h.8M470.9 246.0h.8M474.5 239.4h.8M468.0 240.6h.8M459.8 246.4h.8M471.2 238.5h.8M480.9 236.5h.8M479.4 242.7h.8M471.2 240.8h.8M480.0 229.4h.8M476.6 237.0h.8M477.4 240.7h.8M466.6 240.6h.8M466.5 232.2h.8M465.6 239.9h.8M463.5 238.2h.8M475.7 246.6h.8M477.7 247.0h.8M470.9 244.0h.8M466.1 241.1h.8M458.9 239.3h.8M472.2 243.9h.8M466.9 247.0h.8M476.1 241.8h.8M470.7 241.6h.8M473.2 245.9h.8M468.4 240.1h.8M466.5 243.6h.8M473.4 237.3h.8M478.9 244.2h.8M475.9 242.6h.8M479.2 245.9h.8M474.7 237.6h.8M469.5 238.0h.8M474.4 241.4h.8M471.7 238.1h.8M471.4 244.9h.8M467.6 241.3h.8M474.7 237.7h.8M470.7 242.4h.8M474.8 245.0h.8M470.9 244.2h.8M475.2 241.0h.8M463.9 235.7h.8M469.4 238.1h.8M475.5 237.9h.8M473.4 239.5h.8M461.8 241.3h.8M468.7 244.3h.8M470.9 241.9h.8M467.9 241.4h.8M473.2 238.0h.8M481.6 241.6h.8M479.1 245.5h.8M467.4 239.6h.8M474.8 243.8h.8M471.9 240.2h.8M472.5 235.3h.8M475.0 236.4h.8M478.6 235.5h.8M467.9 247.8h.8M470.9 244.5h.8M473.3 244.4h.8M477.9 240.2h.8M473.0 241.7h.8M470.5 236.2h.8M469.6 240.6h.8M473.0 239.8h.8M476.1 242.1h.8M472.5 244.3h.8M481.6 234.3h.8M473.0 243.0h.8M470.4 243.6h.8M477.9 242.9h.8M476.1 242.1h.8M478.8 243.9h.8M471.2 242.4h.8M471.8 238.0h.8M471.6 244.3h.8M471.6 245.0h.8M474.5 242.6h.8M468.4 239.0h.8M477.2 242.8h.8M469.2 236.5h.8M467.6 243.6h.8M468.1 248.5h.8M465.7 243.3h.8M470.6 237.0h.8M474.8 243.2h.8M471.6 237.1h.8M475.3 243.3h.8M470.4 231.7h.8M472.7 238.1h.8M472.7 246.1h.8M471.7 244.0h.8M480.1 230.9h.8M477.1 234.7h.8M469.4 240.4h.8M470.0 243.2h.8M469.7 239.9h.8M475.7 237.6h.8M461.7 242.5h.8M469.5 235.6h.8M482.1 241.0h.8M471.4 240.9h.8M460.4 246.4h.8M467.9 244.4h.8M461.8 246.9h.8M473.1 235.8h.8M472.8 242.9h.8M470.7 249.1h.8M469.3 247.1h.8M477.2 235.9h.8M464.4 242.5h.8M478.3 237.1h.8M470.1 234.0h.8M476.4 240.6h.8M472.9 236.1h.8M468.9 241.0h.8M475.1 234.0h.8M475.7 241.1h.8M468.3 243.3h.8M474.0 233.6h.8M473.3 238.4h.8M473.6 243.4h.8M472.8 238.8h.8M474.1 239.4h.8M473.6 243.6h.8M475.9 239.1h.8M473.0 242.6h.8M471.9 239.9h.8M479.3 246.1h.8M469.6 237.8h.8M471.1 232.7h.8M480.0 241.9h.8M481.3 242.3h.8M462.8 238.1h.8M476.7 239.6h.8M474.9 241.7h.8M468.5 235.3h.8M474.9 240.0h.8M477.0 241.3h.8M464.9 239.4h.8M470.3 241.8h.8M466.1 232.7h.8M475.2 234.7h.8M474.2 244.3h.8M476.5 243.1h.8M477.2 233.9h.8M469.7 243.1h.8M479.0 237.7h.8M466.0 240.4h.8M479.5 241.0h.8M465.4 239.3h.8M474.9 244.0h.8M475.4 246.2h.8M473.3 242.4h.8M473.8 244.3h.8M472.4 244.2h.8M475.7 238.0h.8M474.7 240.3h.8M473.0 240.1h.8M473.4 241.4h.8M466.6 238.0h.8M472.6 237.4h.8M465.2 249.9h.8M471.6 235.5h.8M476.2 240.8h.8M474.4 240.4h.8M471.0 242.4h.8M466.0 243.1h.8M476.6 243.0h.8M475.5 240.4h.8M477.7 242.8h.8M463.5 239.9h.8M466.2 239.7h.8M480.6 236.4h.8M476.3 235.7h.8M465.2 237.7h.8M471.4 238.2h.8M462.1 239.4h.8M472.4 238.9h.8M466.7 235.3h.8M469.1 244.1h.8M477.2 248.4h.8M471.8 238.1h.8M467.5 244.3h.8M469.9 239.4h.8M466.3 241.3h.8M475.1 236.6h.8M474.2 238.9h.8M474.6 236.4h.8M469.3 237.6h.8M472.2 238.4h.8M466.5 240.8h.8M476.4 242.7h.8M472.4 239.5h.8M478.0 235.6h.8M483.1 242.1h.8M474.0 241.7h.8M480.2 233.5h.8M468.6 241.6h.8M471.2 243.6h.8M473.9 236.8h.8M467.0 247.7h.8M468.6 236.5h.8M468.6 239.3h.8M474.9 239.5h.8M465.5 247.9h.8M479.2 239.5h.8M464.9 243.5h.8M474.2 239.6h.8M476.8 246.3h.8M471.5 240.1h.8M473.4 241.2h.8M471.6 246.7h.8M477.1 244.5h.8M466.6 243.8h.8M470.8 234.2h.8M479.0 233.6h.8M467.1 232.8h.8M467.2 242.9h.8M478.9 243.2h.8M473.8 243.8h.8M470.8 240.6h.8M471.8 237.2h.8M478.3 233.6h.8M473.3 240.8h.8M465.3 236.7h.8M474.2 237.0h.8M473.1 238.7h.8M472.4 238.6h.8M471.4 244.0h.8M465.4 237.9h.8M474.3 241.8h.8M475.6 240.9h.8M461.9 246.4h.8M469.1 240.7h.8M466.5 244.4h.8M473.1 235.9h.8M474.9 244.1h.8M475.3 232.4h.8M475.7 242.3h.8M482.9 241.5h.8M480.5 240.0h.8M464.4 234.5h.8M477.8 241.8h.8M473.3 245.7h.8M472.1 241.2h.8M473.8 240.5h.8M470.2 240.8h.8M474.5 245.1h.8M472.5 242.1h.8M474.9 236.6h.8M468.0 241.7h.8M470.9 237.0h.8M469.9 234.4h.8M477.4 241.5h.8M477.8 230.6h.8M472.2 241.6h.8M469.2 244.5h.8M472.3 242.2h.8M472.2 239.4h.8M470.3 241.0h.8M478.4 239.0h.8M469.1 238.6h.8M476.2 245.4h.8M475.2 241.7h.8M475.7 235.8h.8M470.5 242.8h.8M474.0 247.8h.8M470.2 244.3h.8M479.6 235.7h.8M471.8 243.2h.8M474.3 241.5h.8M479.2 244.1h.8M468.2 238.5h.8M468.5 240.4h.8M475.8 240.7h.8M476.6 242.1h.8M469.8 233.3h.8M470.1 236.2h.8M466.6 240.2h.8M481.0 237.0h.8M475.9 242.4h.8M472.6 237.0h.8M480.8 239.0h.8M481.4 240.1h.8M472.0 240.6h.8M470.4 238.3h.8M475.1 237.0h.8M475.6 235.7h.8M464.5 240.8h.8M477.4 236.7h.8M481.1 243.7h.8M471.9 245.3h.8M471.2 240.5h.8M474.4 239.9h.8M477.9 235.2h.8M467.8 235.2h.8M471.1 239.8h.8M467.5 243.7h.8M466.1 237.8h.8M479.2 236.9h.8M473.4 229.4h.8M472.6 240.7h.8M471.7 243.2h.8M471.4 240.8h.8M469.2 240.4h.8M472.3 244.2h.8M469.4 236.9h.8M470.7 238.5h.8M471.2 245.6h.8M470.4 247.9h.8M477.8 239.6h.8M472.0 241.0h.8M468.7 243.3h.8M474.7 238.9h.8M470.3 242.9h.8M466.6 239.3h.8M468.1 234.6h.8M468.0 243.5h.8M478.0 235.9h.8M469.9 243.1h.8M473.1 237.7h.8M469.5 245.1h.8M464.5 236.5h.8M472.4 241.7h.8M468.6 237.4h.8M477.5 240.2h.8M467.1 242.8h.8M471.3 245.2h.8M476.5 236.2h.8M469.2 241.0h.8M470.3 242.9h.8M471.2 247.5h.8M467.8 235.7h.8M470.0 238.8h.8M470.1 238.4h.8M468.4 242.9h.8M472.1 239.2h.8M466.0 243.7h.8M478.5 238.7h.8M472.4 245.0h.8M472.1 243.8h.8M470.5 237.8h.8M478.7 234.0h.8M475.6 244.8h.8M473.2 240.5h.8M476.9 235.8h.8M472.0 241.9h.8M473.1 234.1h.8M473.5 238.6h.8M478.4 247.3h.8M466.0 242.7h.8M470.8 231.5h.8M475.1 249.2h.8M470.5 247.4h.8M479.0 241.3h.8M473.2 247.2h.8M464.6 241.1h.8M468.2 243.1h.8M472.8 241.8h.8M474.7 248.4h.8M479.0 239.8h.8M471.3 245.8h.8M474.2 244.2h.8M460.8 247.1h.8M477.2 229.8h.8M472.8 241.9h.8M464.8 246.4h.8M474.1 236.4h.8M468.6 240.9h.8M472.7 238.6h.8M473.8 245.3h.8M473.1 240.2h.8M480.9 243.3h.8M470.8 240.8h.8M469.9 240.4h.8M470.8 237.5h.8M475.5 238.5h.8M468.7 239.1h.8M467.9 240.8h.8M471.5 237.3h.8M476.6 240.7h.8M476.1 240.3h.8M475.1 234.2h.8M471.1 244.5h.8M470.1 242.3h.8M465.9 234.9h.8M465.9 249.2h.8M475.1 236.8h.8M474.2 239.8h.8M474.1 238.6h.8M472.2 244.6h.8M475.9 240.5h.8M475.2 240.5h.8M473.9 236.5h.8M471.6 246.2h.8M473.0 242.2h.8M479.4 243.7h.8M480.6 243.2h.8M480.0 235.1h.8M474.8 240.4h.8M465.4 243.0h.8M473.6 241.0h.8M474.5 240.3h.8M480.0 237.8h.8M472.9 234.1h.8M471.7 242.8h.8M474.6 242.7h.8M473.2 241.4h.8M470.3 247.1h.8M468.1 240.6h.8M466.6 245.4h.8M471.1 240.6h.8M466.6 247.7h.8M469.8 245.3h.8M472.7 240.5h.8M471.8 238.0h.8M474.8 242.8h.8M483.1 232.7h.8M471.6 237.3h.8M470.5 235.9h.8M468.2 244.3h.8M470.1 239.9h.8M476.4 240.8h.8M474.0 239.9h.8M473.0 238.7h.8M478.5 239.0h.8M469.8 239.7h.8M473.7 238.0h.8M479.6 240.9h.8M475.4 240.6h.8M468.0 239.6h.8M475.0 240.8h.8M470.3 235.8h.8M468.9 243.3h.8M462.9 249.1h.8M461.3 239.5h.8M478.8 238.5h.8M471.0 233.8h.8M470.6 242.3h.8M469.1 241.8h.8M469.8 239.0h.8M470.4 246.3h.8M478.1 244.6h.8M467.6 237.1h.8M468.1 240.4h.8M476.2 245.6h.8M466.0 245.1h.8M470.4 239.2h.8M476.4 233.5h.8M476.6 247.6h.8M477.8 236.4h.8M473.9 242.3h.8M468.1 247.4h.8M472.1 244.8h.8M471.9 238.8h.8M470.6 243.4h.8M474.8 245.0h.8M465.4 235.3h.8M476.0 239.2h.8M478.1 241.9h.8M471.6 241.7h.8M470.9 237.3h.8M473.5 238.6h.8M472.1 239.9h.8M466.7 241.0h.8M490.1 219.4h.8M492.4 221.5h.8M501.8 209.1h.8M495.5 235.4h.8M489.7 219.5h.8M487.5 238.0h.8M486.7 228.6h.8M488.4 223.2h.8M490.2 234.4h.8M499.2 216.2h.8M486.1 223.9h.8M495.0 221.5h.8M483.6 222.8h.8M488.5 229.3h.8M491.0 218.5h.8M480.0 244.6h.8M488.1 219.7h.8M496.1 218.3h.8M486.0 233.1h.8M491.7 236.1h.8M489.1 230.2h.8M483.3 225.4h.8M497.9 227.5h.8M487.9 219.3h.8M494.2 237.7h.8M490.6 235.4h.8M491.3 220.2h.8M492.7 221.6h.8M489.9 233.8h.8M489.1 226.4h.8M480.2 222.7h.8M488.2 216.2h.8M493.3 230.1h.8M489.5 221.0h.8M481.2 220.6h.8M489.1 223.1h.8M478.4 226.6h.8M482.3 218.0h.8M486.2 225.2h.8M491.2 215.2h.8M488.0 229.4h.8M491.5 220.3h.8M482.8 225.3h.8M487.5 228.9h.8M477.0 223.3h.8M487.8 227.3h.8M493.0 213.0h.8M486.3 221.9h.8M485.4 219.9h.8M486.7 229.7h.8M489.2 226.5h.8M484.6 238.8h.8M478.6 229.5h.8M489.9 230.3h.8M484.7 229.0h.8M481.9 224.8h.8M495.4 224.7h.8M497.6 228.8h.8M482.8 227.3h.8M482.4 227.1h.8M495.6 217.1h.8M493.4 212.1h.8M482.1 229.9h.8M485.5 236.7h.8M482.4 217.5h.8M489.6 214.9h.8M483.8 221.9h.8M479.9 224.8h.8M486.9 223.2h.8M490.5 219.3h.8M487.1 214.0h.8M479.7 228.8h.8M481.5 229.9h.8M498.1 227.0h.8M485.4 222.9h.8M496.3 216.2h.8M481.9 235.1h.8M492.7 228.3h.8M486.2 221.5h.8M484.7 221.5h.8M483.9 227.0h.8M478.2 239.2h.8M478.6 221.9h.8M488.2 224.9h.8M486.5 222.7h.8M492.3 219.9h.8M491.3 222.0h.8M495.1 231.3h.8M494.1 238.9h.8M487.4 222.7h.8M488.4 217.2h.8M489.5 223.0h.8M497.4 209.6h.8M490.7 221.7h.8M489.0 239.8h.8M478.5 226.6h.8M481.1 227.5h.8M476.4 227.8h.8M491.7 220.5h.8M493.8 230.3h.8M486.7 235.3h.8M488.0 226.8h.8M490.0 224.4h.8M476.9 229.9h.8M488.4 217.8h.8M505.4 220.1h.8M489.6 235.0h.8M501.0 224.1h.8M491.3 226.8h.8M483.0 227.4h.8M481.9 232.5h.8M499.0 219.0h.8M489.5 221.4h.8M498.2 221.5h.8M486.7 228.5h.8M496.1 221.9h.8M487.3 217.6h.8M486.2 237.6h.8M494.6 216.3h.8M492.2 216.6h.8M499.8 224.2h.8M486.4 233.0h.8M485.7 224.5h.8M491.3 231.6h.8M492.6 232.9h.8M475.6 218.3h.8M479.2 223.4h.8M488.8 218.4h.8M492.3 212.7h.8M486.5 221.0h.8M484.8 228.0h.8M489.9 239.9h.8M491.9 221.2h.8M488.0 226.1h.8M488.6 218.6h.8M483.1 235.0h.8M479.9 220.3h.8M496.0 222.5h.8M480.5 230.4h.8M495.1 217.6h.8M482.2 220.1h.8M497.0 213.5h.8M479.7 227.3h.8M482.7 227.8h.8M490.9 218.2h.8M495.4 221.1h.8M497.6 229.6h.8M500.1 220.7h.8M495.9 225.1h.8M494.5 214.9h.8M499.1 230.3h.8M480.4 228.8h.8M494.3 218.0h.8M495.9 215.1h.8M483.2 224.6h.8M484.8 212.5h.8M488.4 228.9h.8M488.6 227.1h.8M489.1 222.5h.8M488.5 232.0h.8M496.1 228.2h.8M491.8 237.7h.8M484.2 222.5h.8M492.9 223.9h.8M492.1 222.4h.8M493.7 230.8h.8M492.8 221.0h.8M494.1 228.2h.8M491.7 222.1h.8M496.7 219.7h.8M492.6 229.4h.8M491.7 232.9h.8M495.5 226.4h.8M503.3 225.3h.8M493.6 217.8h.8M487.4 229.7h.8M484.6 221.7h.8M491.7 221.9h.8M483.7 230.2h.8M487.8 218.0h.8M496.9 227.5h.8M484.3 228.3h.8M494.6 224.4h.8M480.8 209.3h.8M489.5 224.7h.8M489.0 226.0h.8M484.2 223.1h.8M496.1 216.5h.8M484.0 219.9h.8M492.9 236.2h.8M484.6 229.4h.8M481.0 217.7h.8M498.2 219.1h.8M498.8 216.9h.8M487.2 224.2h.8M492.5 219.3h.8M481.9 220.1h.8M499.2 212.2h.8M479.6 224.3h.8M480.9 224.9h.8M489.4 225.8h.8M491.8 217.0h.8M491.9 224.3h.8M488.4 219.6h.8M483.9 221.7h.8M500.0 229.2h.8M485.0 217.2h.8M485.4 228.0h.8M491.0 234.9h.8M488.4 234.0h.8M486.1 225.3h.8M496.0 219.7h.8M504.3 221.3h.8M499.4 219.5h.8M487.3 221.6h.8M489.7 230.4h.8M496.4 229.5h.8M489.8 218.8h.8M482.8 243.0h.8M480.3 232.1h.8M484.2 224.0h.8M494.3 218.4h.8M483.7 223.0h.8M479.0 224.9h.8M492.7 227.1h.8M494.6 226.6h.8M485.5 224.2h.8M484.6 221.0h.8M485.3 235.3h.8M491.2 225.9h.8M476.1 227.0h.8M482.7 225.4h.8M479.1 242.4h.8M486.4 223.9h.8M479.4 214.3h.8M492.0 229.3h.8M489.7 226.0h.8M477.7 226.5h.8M480.1 229.5h.8M488.2 221.4h.8M491.6 211.9h.8M487.0 236.1h.8M483.7 226.7h.8M489.7 217.9h.8M492.8 232.8h.8M489.2 218.5h.8M483.3 227.8h.8M497.6 229.8h.8M492.5 232.6h.8M493.5 238.5h.8M490.4 230.1h.8M493.6 226.9h.8M476.9 231.8h.8M500.7 228.0h.8M482.8 236.0h.8M478.4 233.2h.8M477.3 235.7h.8M494.2 228.8h.8M494.5 220.3h.8M481.0 236.4h.8M485.8 230.2h.8M483.2 238.5h.8M486.5 237.7h.8M494.4 219.6h.8M483.7 223.1h.8M477.9 221.0h.8M484.4 230.8h.8M490.1 225.6h.8M493.9 224.1h.8M488.8 225.6h.8M479.5 231.7h.8M496.1 234.4h.8M485.5 239.5h.8M489.4 231.9h.8M487.1 227.0h.8M490.7 231.7h.8M486.0 228.8h.8M492.4 231.9h.8M492.4 216.0h.8M499.3 219.3h.8M493.3 220.2h.8M486.4 222.6h.8M476.2 223.3h.8M486.4 237.0h.8M487.2 222.6h.8M492.0 229.8h.8M488.2 229.3h.8M478.5 221.7h.8M501.0 217.2h.8M478.8 216.4h.8M483.6 237.7h.8M500.0 234.5h.8M505.8 234.4h.8M494.1 212.9h.8M496.9 221.9h.8M489.7 217.6h.8M488.8 215.0h.8M499.5 234.2h.8M488.3 216.0h.8M489.3 222.4h.8M486.1 231.0h.8M493.2 225.7h.8M496.3 229.9h.8M491.4 227.2h.8M489.0 211.5h.8M479.1 229.9h.8M491.2 229.7h.8M487.4 217.1h.8M495.6 221.8h.8M488.1 220.5h.8M488.0 221.0h.8M482.8 228.0h.8M485.7 226.7h.8M489.0 224.8h.8M486.3 220.4h.8M490.9 231.3h.8M486.5 235.5h.8M489.5 232.9h.8M480.1 226.6h.8M485.8 215.4h.8M478.9 230.9h.8M501.0 207.0h.8M486.4 235.1h.8M491.8 221.6h.8M472.9 227.6h.8M497.8 233.4h.8M478.8 228.7h.8M491.0 217.6h.8M479.0 221.5h.8M494.0 217.8h.8M487.1 224.3h.8M493.8 238.2h.8M490.4 231.8h.8M503.9 208.7h.8M499.0 226.3h.8M498.8 232.2h.8M493.4 223.2h.8M486.1 225.3h.8M486.2 230.6h.8M491.5 233.0h.8M490.0 225.3h.8M495.2 228.8h.8M479.4 234.4h.8M486.9 219.8h.8M485.3 220.2h.8M487.4 219.6h.8M481.3 223.0h.8M493.5 225.3h.8M488.8 228.3h.8M490.5 223.1h.8M492.6 229.5h.8M474.6 223.0h.8M488.1 234.8h.8M490.7 211.6h.8M489.9 227.2h.8M488.7 226.1h.8M493.8 230.5h.8M477.9 219.4h.8M489.8 215.0h.8M500.4 219.8h.8M488.9 232.2h.8M484.0 219.9h.8M491.3 218.9h.8M492.9 227.7h.8M492.5 225.0h.8M484.2 219.4h.8M477.1 215.6h.8M485.0 231.0h.8M494.2 214.6h.8M489.8 223.0h.8M489.7 221.4h.8M486.6 235.7h.8M484.4 219.9h.8M495.5 228.5h.8M489.4 238.7h.8M492.9 222.7h.8M493.6 222.9h.8M485.9 232.1h.8M480.2 229.4h.8M485.5 221.7h.8M488.7 218.5h.8M492.2 219.2h.8M486.6 224.2h.8M488.6 236.6h.8M480.2 225.1h.8M492.7 243.0h.8M488.5 232.1h.8M492.3 220.2h.8M490.7 232.9h.8M491.7 223.8h.8M488.7 217.8h.8M481.2 220.5h.8M498.4 220.2h.8M495.2 220.6h.8M496.5 219.0h.8M479.9 228.2h.8M492.9 220.9h.8M487.8 220.9h.8M482.3 232.1h.8M497.3 227.6h.8M493.1 224.8h.8M488.0 220.1h.8M491.8 227.0h.8M493.8 227.9h.8M481.9 216.7h.8M486.9 226.3h.8M478.8 226.4h.8M478.8 227.8h.8M479.5 224.0h.8M488.9 222.8h.8M489.2 223.9h.8M477.9 221.6h.8M487.1 224.9h.8M479.6 232.5h.8M492.9 217.1h.8M489.1 219.9h.8M482.7 219.4h.8M498.1 223.7h.8M494.8 221.6h.8M482.9 229.0h.8M496.2 239.1h.8M485.0 226.6h.8M479.8 222.9h.8M495.6 229.5h.8M484.8 216.7h.8M487.2 239.9h.8M479.6 227.4h.8M481.1 222.6h.8M490.0 219.3h.8M487.3 223.9h.8M485.7 226.1h.8M476.3 228.4h.8M499.2 223.4h.8M478.0 230.7h.8M484.3 223.3h.8M486.4 233.2h.8M484.7 221.8h.8M490.9 221.1h.8M487.3 230.7h.8M488.6 229.0h.8M489.0 235.3h.8M489.0 227.1h.8M485.4 230.7h.8M476.4 219.0h.8M497.7 222.7h.8M491.6 234.9h.8M483.2 231.5h.8M481.3 223.4h.8M495.8 223.9h.8M481.9 222.9h.8M492.5 230.9h.8M494.5 209.2h.8M478.2 222.5h.8M494.2 218.3h.8M478.2 202.8h.8M477.3 232.8h.8M497.3 223.9h.8M487.3 223.9h.8M492.9 228.9h.8M492.6 220.0h.8M493.8 237.5h.8M492.8 230.6h.8M486.7 223.6h.8M501.5 224.1h.8M487.0 221.5h.8M493.0 234.6h.8M482.7 213.0h.8M484.6 227.9h.8M483.5 224.3h.8M495.2 231.1h.8M480.8 228.3h.8M486.8 228.0h.8M488.6 228.8h.8M481.9 228.8h.8M477.5 223.1h.8M481.4 223.0h.8M490.3 232.9h.8M484.5 234.3h.8M485.5 224.8h.8M479.9 223.7h.8M502.8 226.4h.8M492.4 229.4h.8M477.6 222.7h.8M490.0 217.0h.8M494.5 223.4h.8M482.9 221.7h.8M495.6 227.2h.8M494.9 213.2h.8M496.0 224.3h.8M490.7 234.1h.8M480.6 224.1h.8M492.7 228.4h.8M492.4 215.8h.8M490.4 225.6h.8M492.7 216.2h.8M485.7 225.3h.8M498.8 225.2h.8M479.3 219.3h.8M486.8 208.1h.8M486.0 233.6h.8M491.3 212.9h.8M484.2 233.2h.8M479.6 223.1h.8M480.6 220.4h.8M481.9 206.6h.8M494.1 227.3h.8M485.6 227.9h.8M486.6 223.6h.8M489.4 229.8h.8M491.5 224.8h.8M498.3 224.3h.8M479.3 235.6h.8M484.6 219.3h.8M488.8 226.1h.8M487.3 216.9h.8M486.5 228.8h.8M498.4 227.4h.8M495.8 234.2h.8M494.1 230.2h.8M493.5 228.9h.8M481.3 216.2h.8M483.3 229.5h.8M496.3 223.0h.8M485.3 234.9h.8M494.8 226.3h.8M487.2 213.6h.8M495.8 227.1h.8M487.3 225.9h.8M486.2 228.9h.8M487.8 224.1h.8M492.7 216.3h.8M488.3 221.6h.8M471.9 207.1h.8M494.9 238.4h.8M491.1 232.9h.8M495.1 224.9h.8M488.0 236.0h.8M490.3 229.9h.8M476.3 227.3h.8M495.4 220.2h.8M485.1 227.9h.8M491.7 218.2h.8M488.6 229.6h.8M479.4 231.5h.8M476.3 232.9h.8M492.3 233.6h.8M473.9 227.1h.8M486.0 226.5h.8M482.2 234.1h.8M486.9 225.0h.8M480.7 223.1h.8M475.7 224.6h.8M483.0 226.2h.8M476.4 224.8h.8M491.6 222.7h.8M487.1 219.4h.8M484.8 226.7h.8M484.7 230.9h.8M479.9 223.8h.8M491.3 232.0h.8M476.5 229.2h.8M485.0 225.5h.8M488.2 224.4h.8M490.9 223.7h.8M493.2 228.5h.8M476.3 230.0h.8M487.5 212.9h.8M478.4 220.5h.8M492.7 227.4h.8M487.6 216.4h.8M488.9 225.5h.8M490.0 228.9h.8M489.3 222.4h.8M488.1 207.3h.8M492.7 228.8h.8M489.2 219.6h.8M488.9 222.4h.8M488.2 231.7h.8M491.3 224.9h.8M488.7 225.8h.8M487.1 223.0h.8M491.5 221.9h.8M488.2 227.9h.8M486.8 226.5h.8M496.7 227.3h.8M488.8 222.4h.8M482.8 226.6h.8M489.1 233.1h.8M481.9 233.7h.8M486.8 226.5h.8M493.7 229.9h.8M490.7 220.5h.8M487.8 224.2h.8M495.1 219.2h.8M495.8 225.6h.8M484.1 226.7h.8M490.7 218.2h.8M495.6 223.6h.8M494.4 222.0h.8M484.3 230.4h.8M492.0 225.2h.8M478.5 232.9h.8M493.0 215.3h.8M478.4 225.0h.8M491.0 226.1h.8M479.1 228.0h.8M490.7 228.6h.8M486.8 221.2h.8M482.9 231.6h.8M489.4 225.8h.8M490.3 229.7h.8M490.5 231.5h.8M479.5 233.4h.8M493.1 221.3h.8M492.0 220.5h.8M490.1 222.5h.8M470.5 232.1h.8M479.9 231.4h.8M486.7 236.7h.8M468.4 221.7h.8M478.3 229.3h.8M482.8 218.7h.8M482.7 221.6h.8M490.6 229.3h.8M498.8 209.7h.8M475.2 217.6h.8M489.4 222.8h.8M494.0 227.6h.8M484.2 222.0h.8M499.3 218.4h.8M481.1 220.2h.8M490.4 227.1h.8M492.5 215.8h.8M489.4 219.4h.8M488.6 215.5h.8M482.2 223.8h.8M488.0 211.2h.8M490.2 220.7h.8M488.5 229.5h.8M497.2 231.8h.8M494.9 231.3h.8M479.1 222.6h.8M487.4 225.4h.8M495.9 228.4h.8M492.7 227.5h.8M478.1 234.7h.8M490.0 224.9h.8M479.4 215.8h.8M492.1 230.5h.8M479.1 215.6h.8M489.6 220.7h.8M495.9 227.9h.8M488.5 208.7h.8M498.5 222.7h.8M480.7 228.5h.8M485.3 229.7h.8M499.1 217.2h.8M494.7 219.0h.8M490.1 228.8h.8M499.7 225.0h.8M490.8 223.2h.8M485.1 222.1h.8M477.3 215.2h.8M484.3 229.9h.8M488.8 234.6h.8M479.0 223.2h.8M486.8 233.4h.8M482.3 229.3h.8M495.3 232.0h.8M485.7 224.9h.8M494.4 223.6h.8M492.4 225.6h.8M494.7 227.7h.8M491.2 223.1h.8M491.8 224.3h.8M507.8 226.1h.8M489.1 223.6h.8M475.6 226.7h.8M490.9 228.1h.8M487.0 233.3h.8M491.0 221.2h.8M481.4 233.8h.8M485.5 222.3h.8M480.6 222.1h.8M492.4 228.7h.8M487.6 230.8h.8M494.6 230.2h.8M476.3 226.6h.8M485.3 237.2h.8M498.5 227.1h.8M482.3 232.9h.8M487.2 222.1h.8M495.5 226.3h.8M488.4 220.9h.8M483.4 237.6h.8M483.7 216.5h.8M497.1 222.2h.8M487.3 226.1h.8M502.2 215.8h.8M490.1 227.2h.8M490.6 227.8h.8M490.1 241.3h.8M490.4 233.7h.8M488.2 220.9h.8M486.6 215.2h.8M502.4 215.1h.8M497.1 221.7h.8M486.3 221.8h.8M484.4 220.0h.8M487.5 226.9h.8M473.7 216.3h.8M489.3 233.6h.8M490.1 217.5h.8M498.8 219.4h.8M486.6 225.2h.8M482.7 238.4h.8M485.3 227.7h.8M483.1 222.0h.8M487.1 225.2h.8M490.5 219.4h.8M494.8 230.3h.8M490.8 222.5h.8M496.0 224.9h.8M492.4 228.3h.8M480.7 228.0h.8M492.9 217.2h.8M496.7 218.0h.8M476.7 231.6h.8M493.4 229.7h.8M486.2 234.3h.8M495.7 231.5h.8M490.1 223.8h.8M486.9 222.0h.8M486.9 236.8h.8M484.3 233.7h.8M487.7 232.8h.8M500.2 213.7h.8M484.1 224.0h.8M486.2 222.8h.8M489.7 223.6h.8M488.9 225.6h.8M490.4 209.4h.8M499.3 223.7h.8M493.6 236.0h.8M481.8 228.1h.8M488.9 228.8h.8M478.3 223.0h.8M497.5 221.1h.8M486.5 218.3h.8M488.7 227.7h.8M491.1 238.6h.8M486.8 230.8h.8M479.6 225.8h.8M484.9 227.4h.8M496.3 224.6h.8M492.0 229.8h.8M491.2 228.5h.8M483.9 232.5h.8M488.6 221.0h.8M476.0 240.7h.8M489.1 230.2h.8M494.3 224.3h.8M482.7 230.7h.8M490.0 236.8h.8M486.9 224.2h.8M479.0 223.5h.8M477.1 212.0h.8M487.5 226.4h.8M496.2 221.4h.8M490.9 224.8h.8M482.1 224.4h.8M487.5 223.8h.8M488.9 228.3h.8M480.8 223.9h.8M491.1 219.7h.8M495.4 219.7h.8M489.6 225.3h.8M487.1 221.8h.8M488.4 225.4h.8M492.5 210.6h.8M489.6 226.1h.8M483.0 230.3h.8M485.3 226.9h.8M496.8 233.7h.8M483.1 231.8h.8M489.2 242.9h.8M494.3 221.1h.8M490.3 227.6h.8M489.0 214.9h.8M489.0 219.8h.8M488.7 231.2h.8M493.6 222.2h.8M486.3 214.1h.8M492.7 228.6h.8M490.4 221.7h.8M477.4 228.0h.8M492.8 233.2h.8M489.0 231.1h.8M478.5 234.7h.8M499.1 220.0h.8M481.6 227.7h.8M493.6 222.9h.8M473.6 233.2h.8M495.6 224.8h.8M493.5 220.1h.8M482.8 216.8h.8M492.6 219.0h.8M493.7 225.7h.8M485.4 223.0h.8M485.4 211.9h.8M490.3 223.4h.8M491.9 217.2h.8M484.9 219.6h.8M484.3 226.0h.8M489.3 216.6h.8M485.6 236.6h.8M495.6 227.7h.8M488.3 222.2h.8M486.2 221.9h.8M479.2 218.0h.8M484.7 234.2h.8M482.8 215.2h.8M490.9 224.4h.8M486.7 224.3h.8M481.2 233.6h.8M496.8 221.1h.8M489.4 225.2h.8M488.8 226.5h.8M474.7 221.8h.8M490.3 226.8h.8M475.1 231.2h.8M490.9 218.0h.8M487.0 229.2h.8M479.6 229.7h.8M495.1 237.4h.8M497.4 221.0h.8M496.0 215.8h.8M491.6 229.2h.8M481.4 225.5h.8M484.6 222.2h.8M496.9 225.9h.8M487.8 228.7h.8M487.3 232.9h.8M481.1 222.0h.8M483.7 220.2h.8M485.2 224.7h.8M489.6 223.9h.8M484.7 221.1h.8M497.2 226.0h.8M488.7 216.6h.8M479.9 225.4h.8M490.2 228.8h.8M487.8 227.7h.8M486.5 222.1h.8M485.5 223.6h.8M491.6 233.8h.8M487.0 227.0h.8M494.6 213.0h.8M477.1 243.1h.8M488.6 225.3h.8M488.2 222.2h.8M483.5 226.6h.8M481.6 225.7h.8M490.0 222.0h.8M485.5 223.9h.8M492.7 221.6h.8M483.6 229.3h.8M495.5 218.8h.8M496.2 218.0h.8M495.9 231.1h.8M490.5 230.9h.8M491.3 232.8h.8M489.9 229.9h.8M495.2 223.3h.8M474.3 224.3h.8M483.0 231.4h.8M497.1 218.9h.8M492.1 218.5h.8M491.7 228.9h.8M486.3 226.5h.8M491.3 232.7h.8M491.4 219.5h.8M479.4 222.6h.8M480.8 217.7h.8M498.7 228.8h.8M480.8 225.7h.8M490.5 220.6h.8M480.4 225.4h.8M490.5 232.0h.8M481.1 221.0h.8M492.1 226.0h.8M479.4 226.3h.8M485.3 229.9h.8M494.2 226.9h.8M488.3 225.0h.8M489.3 224.4h.8M481.7 223.0h.8M488.6 229.3h.8M491.5 233.3h.8M481.6 216.5h.8M486.2 229.4h.8M473.3 225.7h.8M495.8 213.8h.8M479.7 215.0h.8M482.5 243.9h.8M476.0 222.6h.8M486.1 226.7h.8M494.7 233.0h.8M481.4 228.2h.8M485.5 219.8h.8M491.3 215.8h.8M481.2 228.3h.8M480.4 224.0h.8M486.1 226.7h.8M475.6 215.9h.8M492.2 220.0h.8M485.4 234.1h.8M488.7 229.6h.8M484.0 219.9h.8M490.8 224.5h.8M481.0 216.5h.8M481.4 223.8h.8M484.0 226.5h.8M477.2 219.5h.8M494.3 229.9h.8M493.1 230.5h.8M495.5 225.4h.8M490.8 233.9h.8M497.0 213.6h.8M489.3 229.5h.8M479.6 227.9h.8M494.0 228.0h.8M494.9 210.5h.8M483.8 225.5h.8M485.7 241.5h.8M485.1 223.5h.8M497.6 224.4h.8M492.7 228.9h.8M493.4 227.4h.8M496.4 223.7h.8M475.7 223.6h.8M493.1 230.0h.8M483.0 227.2h.8M493.7 221.2h.8M493.9 223.5h.8M494.5 233.8h.8M492.5 235.2h.8M482.4 227.9h.8M478.5 216.3h.8M495.0 216.6h.8M471.6 221.5h.8M481.9 224.3h.8M491.7 227.1h.8M492.7 230.2h.8M488.6 223.8h.8M493.2 227.7h.8M489.2 221.0h.8M492.6 211.3h.8M480.3 225.3h.8M486.5 230.6h.8M497.2 214.8h.8M490.2 224.9h.8M497.6 232.3h.8M497.2 223.8h.8M469.6 234.7h.8M484.6 234.8h.8M493.0 225.7h.8M475.9 222.7h.8M495.3 228.0h.8M484.0 221.4h.8M489.5 217.9h.8M481.1 239.4h.8M483.5 225.1h.8M485.1 221.8h.8M486.2 225.0h.8M492.8 226.7h.8M490.1 225.2h.8M492.6 221.8h.8M495.7 226.8h.8M492.0 221.8h.8M484.6 228.2h.8M491.6 227.4h.8M475.5 226.1h.8M494.7 222.6h.8M488.8 227.5h.8M489.7 211.2h.8M487.2 226.7h.8M474.6 221.9h.8M493.3 215.4h.8M478.9 229.5h.8M486.8 220.4h.8M486.7 205.9h.8M500.3 234.3h.8M485.7 224.8h.8M490.0 228.6h.8M487.2 219.1h.8M490.8 217.9h.8M489.2 223.0h.8M484.7 231.6h.8M484.8 230.1h.8M493.2 230.4h.8M479.0 227.0h.8M489.9 225.7h.8M491.7 225.7h.8M490.0 236.9h.8M490.1 219.6h.8M497.0 232.6h.8M475.6 234.0h.8M482.9 225.7h.8M486.3 226.3h.8M491.1 233.7h.8M484.1 226.8h.8M491.9 223.6h.8M478.0 232.4h.8M483.7 231.6h.8M478.8 236.5h.8M481.7 222.2h.8M491.4 224.5h.8M485.5 232.6h.8M497.6 235.7h.8M489.7 222.7h.8M489.5 223.9h.8M484.6 234.5h.8M472.7 230.6h.8M488.6 227.7h.8M494.0 232.7h.8M488.0 234.6h.8M492.6 223.1h.8M492.1 227.5h.8M489.1 218.1h.8M482.0 216.0h.8M481.3 225.7h.8M488.8 225.8h.8M487.0 216.9h.8M491.9 234.5h.8M483.0 225.8h.8M489.8 222.2h.8M492.8 218.3h.8M495.2 217.5h.8M493.1 226.3h.8M482.4 228.9h.8M489.8 219.4h.8M492.0 216.2h.8M486.9 223.1h.8M474.9 225.4h.8M488.9 224.0h.8M484.9 234.0h.8M490.5 226.1h.8M483.1 219.3h.8M487.9 231.6h.8M492.4 226.0h.8M476.5 238.2h.8M480.1 222.8h.8M488.6 233.8h.8M472.7 220.9h.8M484.2 233.9h.8M493.6 230.0h.8M488.5 225.5h.8M483.4 228.0h.8M495.7 226.4h.8M491.0 217.5h.8M492.6 219.7h.8M478.4 229.0h.8M493.1 212.1h.8M477.4 230.1h.8M494.4 227.4h.8M493.4 234.5h.8M493.9 229.0h.8M484.1 230.4h.8M490.7 226.7h.8M491.6 225.8h.8M488.7 216.1h.8M486.2 219.8h.8M488.0 219.9h.8M480.0 229.6h.8M498.0 221.6h.8M482.4 231.0h.8M490.8 227.3h.8M493.2 225.5h.8M495.6 227.6h.8M486.9 228.1h.8M496.0 233.8h.8M488.3 240.1h.8M486.4 216.0h.8M480.7 216.4h.8M489.8 222.4h.8M487.8 219.8h.8M488.9 220.3h.8M486.5 231.2h.8M487.6 229.7h.8M479.8 213.7h.8M491.9 224.2h.8M484.5 213.2h.8M485.3 224.5h.8M491.1 215.5h.8M477.3 224.9h.8M486.4 229.5h.8M487.5 225.9h.8M484.3 216.8h.8M481.0 240.4h.8M488.1 222.4h.8M492.2 224.4h.8M486.8 231.9h.8M488.3 214.9h.8M474.1 221.6h.8M477.0 228.0h.8M487.5 221.6h.8M479.0 228.0h.8M493.5 222.4h.8M490.8 224.4h.8M484.0 232.3h.8M485.1 222.7h.8M500.6 226.9h.8M487.5 228.3h.8M490.1 229.3h.8M491.3 230.0h.8M493.9 223.3h.8M481.0 215.4h.8M481.0 237.9h.8M497.8 213.3h.8M489.6 223.6h.8M496.8 218.2h.8M481.6 235.9h.8M485.6 231.8h.8M493.4 221.5h.8M495.6 216.4h.8M476.0 224.1h.8M496.5 217.2h.8M490.5 236.6h.8M483.1 219.7h.8M478.8 225.1h.8M485.6 235.8h.8M498.8 231.3h.8M491.7 225.4h.8M475.0 229.7h.8M471.3 224.5h.8M493.7 219.9h.8M479.6 226.4h.8M483.0 226.3h.8M488.8 236.6h.8M479.7 235.0h.8M489.1 215.8h.8M486.6 218.5h.8M479.5 219.8h.8M478.6 229.4h.8M504.4 229.8h.8M485.2 219.8h.8M483.8 224.5h.8M485.2 213.3h.8M499.3 221.4h.8M487.5 231.7h.8M486.1 220.1h.8M486.8 211.4h.8M496.1 217.0h.8M484.7 218.9h.8M477.8 218.1h.8M479.5 207.1h.8M482.5 222.4h.8M490.2 218.4h.8M482.6 227.0h.8M491.9 229.3h.8M486.2 227.7h.8M477.8 233.0h.8M484.6 210.6h.8M488.4 227.2h.8M490.1 229.6h.8M489.8 229.0h.8M485.5 232.6h.8M499.3 232.4h.8M487.1 227.5h.8M483.3 223.8h.8M487.7 233.4h.8M486.0 231.8h.8M475.9 241.2h.8M479.4 221.9h.8M480.0 221.4h.8M487.9 224.6h.8M481.6 223.8h.8M486.7 229.4h.8M485.7 231.9h.8M488.7 231.1h.8M496.1 222.8h.8M496.0 223.5h.8M483.6 226.7h.8M501.1 228.3h.8M498.5 224.7h.8M489.9 219.8h.8M487.4 231.5h.8M484.0 227.9h.8M479.6 221.3h.8M486.7 235.3h.8M490.8 229.4h.8M485.7 215.6h.8M483.9 230.8h.8M495.0 218.1h.8M475.5 227.7h.8M487.8 221.9h.8M470.4 231.4h.8M502.3 227.5h.8M491.0 223.6h.8M490.0 230.0h.8M487.2 222.1h.8M486.6 221.3h.8M488.7 221.3h.8M494.5 234.0h.8M494.9 224.8h.8M482.0 229.4h.8M492.2 226.6h.8M483.3 222.9h.8M496.1 223.8h.8M493.4 228.3h.8M484.5 228.9h.8M485.2 231.4h.8M487.3 223.8h.8M485.2 221.7h.8M479.5 221.8h.8M481.9 239.7h.8M491.3 227.4h.8M487.0 222.9h.8M492.5 217.8h.8M484.7 216.6h.8M488.7 233.8h.8M479.5 219.5h.8M494.8 221.2h.8M493.9 223.5h.8M486.8 222.4h.8M487.4 220.4h.8M489.8 221.1h.8M487.0 229.2h.8M487.4 216.6h.8M488.4 228.2h.8M485.5 228.5h.8M495.3 222.5h.8M488.5 224.1h.8M489.3 217.3h.8M487.1 229.5h.8M494.0 233.1h.8M483.7 211.1h.8M489.3 222.6h.8M494.1 217.6h.8M487.7 217.9h.8M487.3 234.5h.8M494.5 227.7h.8M492.8 226.9h.8M486.6 234.3h.8M494.1 226.0h.8M494.1 227.0h.8M495.0 214.7h.8M482.2 223.1h.8M488.9 222.5h.8M489.5 221.5h.8M491.0 238.8h.8M483.9 223.6h.8M481.6 230.5h.8M479.4 232.2h.8M486.2 220.9h.8M498.6 222.0h.8M492.8 236.1h.8M479.9 223.3h.8M494.4 227.4h.8M490.4 228.3h.8M489.0 213.0h.8M470.9 215.6h.8M496.1 228.8h.8M492.9 229.8h.8M488.2 221.2h.8M489.9 224.0h.8M492.3 216.8h.8M495.2 232.1h.8M481.6 215.1h.8M488.3 222.1h.8M486.5 221.1h.8M478.4 230.0h.8M478.3 228.3h.8M488.2 219.5h.8M487.0 226.9h.8M491.0 226.8h.8M464.2 235.1h.8M493.5 213.7h.8M482.6 213.7h.8M482.8 225.8h.8M490.6 222.7h.8M479.0 230.6h.8M487.1 231.9h.8M477.9 212.4h.8M495.7 227.7h.8M489.2 231.2h.8M497.6 222.5h.8M483.6 233.1h.8M491.3 219.4h.8M493.8 220.4h.8M494.1 225.2h.8M481.3 226.1h.8M473.2 224.5h.8M486.6 224.7h.8M488.8 227.8h.8M491.5 227.8h.8M484.7 233.6h.8M492.5 227.2h.8M489.5 225.6h.8M470.5 223.7h.8M484.0 218.3h.8M491.2 232.4h.8M490.6 221.2h.8M488.9 227.0h.8M482.3 227.6h.8M499.0 220.4h.8M481.8 223.8h.8M471.5 220.7h.8M488.0 222.8h.8M490.5 222.3h.8M489.2 226.9h.8M479.2 219.2h.8M480.8 218.4h.8M493.0 221.2h.8M495.8 231.7h.8M485.1 219.1h.8M484.5 232.7h.8M474.9 223.1h.8M497.6 220.9h.8M492.4 231.4h.8M489.6 228.9h.8M491.0 227.8h.8M478.7 233.5h.8M495.9 221.8h.8M481.1 227.0h.8M487.9 228.7h.8M488.1 225.8h.8M481.8 232.8h.8M486.7 231.9h.8M489.5 216.9h.8M491.1 228.6h.8M486.7 225.9h.8M484.8 225.5h.8M490.3 222.4h.8M485.1 231.2h.8M481.6 224.0h.8M499.0 229.9h.8M484.9 222.0h.8M479.3 231.2h.8M491.1 237.8h.8M487.8 229.8h.8M491.6 220.9h.8M498.2 231.1h.8M495.4 220.6h.8M487.1 223.2h.8M489.0 228.9h.8M488.1 216.8h.8M493.3 227.4h.8M486.6 230.2h.8M483.5 225.0h.8M493.1 231.3h.8M490.2 222.4h.8M490.5 225.6h.8M485.4 233.4h.8M478.6 226.3h.8M498.0 209.0h.8M496.5 229.8h.8M488.3 212.5h.8M491.2 223.1h.8M487.5 229.7h.8M487.8 221.6h.8M502.5 234.5h.8M485.8 232.1h.8M495.9 226.8h.8M492.8 231.1h.8M489.1 231.7h.8M485.6 233.9h.8M476.8 234.1h.8M480.4 224.5h.8M494.6 235.4h.8M489.7 245.9h.8M494.3 227.4h.8M492.2 227.7h.8M486.6 226.9h.8M495.2 225.2h.8M494.0 228.2h.8M488.0 227.1h.8M496.3 228.7h.8M487.0 221.1h.8M488.6 222.4h.8M500.6 224.4h.8M485.5 221.9h.8M489.3 220.4h.8M494.1 213.9h.8M483.9 219.3h.8M483.5 234.0h.8M496.2 213.7h.8M494.0 232.8h.8M488.2 229.5h.8M486.9 221.6h.8M486.3 223.5h.8M491.9 234.3h.8M481.1 226.6h.8M493.1 235.5h.8M491.9 216.9h.8M490.5 223.0h.8M486.9 223.6h.8M490.1 228.1h.8M473.3 233.1h.8M481.3 223.3h.8M483.8 242.3h.8M494.8 218.1h.8M491.7 225.1h.8M484.7 229.2h.8M490.1 218.3h.8M485.4 225.3h.8M485.6 232.5h.8M487.6 225.0h.8M486.5 235.8h.8M491.8 221.8h.8M489.2 232.7h.8M484.4 226.4h.8M481.3 226.5h.8M487.6 220.2h.8M498.2 223.6h.8M488.8 235.7h.8M488.0 216.2h.8M491.8 222.2h.8M485.1 228.8h.8M492.9 232.4h.8M497.8 229.3h.8M482.8 234.5h.8M495.4 224.0h.8M495.9 215.5h.8M493.0 219.4h.8M477.7 224.2h.8M483.9 223.5h.8M493.6 218.7h.8M483.6 217.9h.8M486.3 218.5h.8M486.8 228.5h.8M482.5 231.8h.8M488.7 225.3h.8M481.9 240.7h.8M484.6 212.9h.8M490.7 230.9h.8M474.9 228.2h.8M481.6 221.4h.8M494.9 223.2h.8M494.4 218.9h.8M477.9 225.4h.8M482.8 224.1h.8M482.3 219.4h.8M484.7 229.4h.8M486.6 230.9h.8M481.0 223.8h.8M478.8 223.7h.8M498.9 224.8h.8M490.0 220.7h.8M489.3 215.9h.8M502.3 209.2h.8M492.7 222.2h.8M488.6 223.6h.8M494.5 222.6h.8M490.3 222.1h.8M498.8 222.8h.8M488.8 228.6h.8M496.5 220.9h.8M485.0 217.1h.8M487.1 227.6h.8M501.5 216.6h.8M488.1 219.0h.8M488.1 224.0h.8M492.4 225.1h.8M475.0 233.3h.8M486.5 228.6h.8M491.5 222.0h.8M494.5 220.9h.8M481.9 220.6h.8M483.2 229.6h.8M492.4 220.7h.8M490.5 229.0h.8M492.9 223.4h.8M484.3 227.9h.8M493.3 223.6h.8M499.5 223.4h.8M495.8 219.6h.8M485.1 232.7h.8M483.3 223.9h.8M493.0 217.5h.8M489.4 225.1h.8M494.4 213.7h.8M485.8 220.4h.8M477.6 224.4h.8M489.7 233.4h.8M485.4 226.6h.8M482.4 240.1h.8M501.2 217.2h.8M478.8 222.4h.8M489.4 222.8h.8M481.2 221.1h.8M482.5 224.0h.8M495.4 227.2h.8M499.8 226.0h.8M496.7 238.6h.8M490.2 221.8h.8M478.2 217.5h.8M493.3 225.3h.8M487.3 239.9h.8M492.7 219.2h.8M489.9 234.3h.8M478.9 220.6h.8M489.7 219.4h.8M491.7 232.8h.8M489.0 228.3h.8M486.7 224.9h.8M507.6 217.1h.8M489.7 222.2h.8M486.8 230.9h.8M488.2 234.2h.8M484.8 226.6h.8M497.1 218.9h.8M482.2 221.6h.8M488.2 233.7h.8M486.2 230.6h.8M484.9 226.1h.8M479.0 215.9h.8M491.4 220.7h.8M492.5 223.0h.8M485.4 228.1h.8M489.7 218.5h.8M479.4 219.9h.8M487.7 229.3h.8M490.8 223.9h.8M486.3 204.6h.8M478.4 236.7h.8M481.0 229.6h.8M492.5 220.2h.8M479.5 233.1h.8M490.2 221.8h.8M478.3 237.1h.8M478.9 223.9h.8M482.1 224.1h.8M484.7 219.3h.8M494.4 223.9h.8M481.7 221.5h.8M496.9 224.4h.8M492.1 226.1h.8M494.5 221.7h.8M488.4 220.0h.8M476.0 231.6h.8M490.6 227.1h.8M491.0 221.8h.8M484.6 220.2h.8M493.7 217.4h.8M478.4 229.6h.8M492.3 230.4h.8M484.0 225.8h.8M497.7 212.7h.8M491.8 226.5h.8M488.8 215.2h.8M489.5 229.0h.8M499.7 229.0h.8M484.0 224.8h.8M476.8 225.0h.8M487.2 226.7h.8M491.2 233.8h.8M488.3 227.1h.8M480.4 229.0h.8M486.5 220.0h.8M476.3 212.4h.8M486.3 217.9h.8M490.0 226.5h.8M485.3 234.9h.8M480.5 225.6h.8M478.6 229.6h.8M476.4 229.3h.8M479.3 232.4h.8M487.2 234.0h.8M481.0 232.1h.8M494.6 222.8h.8M484.0 220.5h.8M491.5 224.2h.8M488.2 215.6h.8M490.7 217.9h.8M487.3 222.1h.8M485.7 220.9h.8M483.6 224.1h.8M487.8 233.9h.8M491.0 226.6h.8M480.7 225.2h.8M481.8 223.4h.8M496.2 224.2h.8M493.2 224.9h.8M482.9 212.3h.8M482.1 235.4h.8M501.2 227.1h.8M486.1 224.5h.8M490.0 220.0h.8M499.5 235.2h.8M480.1 231.4h.8M483.8 233.0h.8M490.1 228.7h.8M489.8 218.0h.8M487.5 214.2h.8M483.2 218.6h.8M490.1 229.6h.8M494.5 220.3h.8M484.3 217.7h.8M482.3 226.9h.8M489.9 221.6h.8M495.3 233.2h.8M488.1 214.7h.8M483.2 237.0h.8M488.2 217.2h.8M500.5 221.4h.8M484.9 221.3h.8M488.3 222.0h.8M490.2 223.9h.8M490.6 231.3h.8M497.2 217.6h.8M494.4 221.8h.8M496.5 221.8h.8M506.4 227.5h.8M494.7 231.3h.8M485.2 226.1h.8M484.7 226.7h.8M498.8 220.5h.8M472.3 226.1h.8M482.9 224.3h.8M470.0 222.4h.8M493.6 234.0h.8M496.8 226.4h.8M493.4 227.6h.8M489.0 225.9h.8M476.8 226.7h.8M495.1 232.4h.8M483.9 206.8h.8M491.3 232.6h.8M490.9 231.7h.8M490.8 227.8h.8M483.9 223.8h.8M489.9 228.1h.8M485.6 237.5h.8M490.2 216.6h.8M494.0 239.7h.8M482.8 227.1h.8M489.9 225.2h.8M489.1 234.1h.8M486.8 233.1h.8M489.3 230.7h.8M494.7 219.2h.8M495.9 210.3h.8M489.6 232.8h.8M492.7 225.4h.8M490.2 240.5h.8M487.9 217.3h.8M491.8 228.3h.8M485.8 232.7h.8M488.2 223.5h.8M487.2 222.4h.8M489.8 219.7h.8M481.7 224.5h.8M501.4 210.4h.8M481.2 224.6h.8M482.8 229.1h.8M487.1 227.8h.8M488.7 225.0h.8M483.2 237.8h.8M488.4 218.4h.8M480.0 203.2h.8M494.8 233.0h.8M490.9 221.5h.8M484.3 227.9h.8M495.3 238.5h.8M486.6 225.6h.8M488.3 231.7h.8M484.1 230.3h.8M481.9 232.7h.8M501.2 215.1h.8M475.2 219.9h.8M481.2 228.8h.8M491.4 220.9h.8M480.6 225.9h.8M483.4 220.6h.8M488.8 216.9h.8M490.0 214.9h.8M486.1 227.2h.8M478.5 236.0h.8M486.8 213.0h.8M484.1 219.2h.8M484.3 218.2h.8M489.6 222.4h.8M476.5 218.9h.8M483.1 230.3h.8M476.5 217.3h.8M492.4 224.3h.8M483.8 213.0h.8M486.7 221.8h.8M475.9 225.9h.8M486.4 217.3h.8M482.9 217.7h.8M501.0 217.9h.8M498.1 231.9h.8M498.0 230.3h.8M481.1 223.6h.8M483.2 222.8h.8M493.4 230.5h.8M492.2 227.0h.8M502.2 226.4h.8M489.7 227.2h.8M490.6 224.9h.8M490.8 218.3h.8M488.2 219.8h.8M491.3 222.4h.8M488.0 230.2h.8M489.4 235.4h.8M486.6 228.3h.8M491.2 221.0h.8M489.7 224.7h.8M493.1 218.5h.8M482.8 227.7h.8M488.5 216.1h.8M491.0 225.8h.8M488.7 223.2h.8M484.3 229.8h.8M484.6 230.4h.8M484.2 227.8h.8M480.3 231.5h.8M483.4 227.2h.8M489.5 226.0h.8M485.0 216.1h.8M482.0 217.2h.8M475.5 230.0h.8M484.8 228.4h.8M488.8 221.9h.8M483.2 228.8h.8M489.0 227.8h.8M493.7 222.5h.8M489.1 224.4h.8M489.7 226.0h.8M475.5 226.0h.8M493.6 233.7h.8M482.7 223.3h.8M483.4 225.7h.8M480.5 228.4h.8M488.2 230.2h.8M496.0 226.5h.8M479.2 229.8h.8M481.8 228.4h.8M482.7 219.0h.8M491.0 221.9h.8M485.1 225.6h.8M490.8 220.9h.8M489.2 223.5h.8M496.0 235.0h.8M485.6 220.5h.8M479.3 237.7h.8M497.9 228.9h.8M483.1 223.6h.8M489.9 237.4h.8M475.0 229.6h.8M490.3 232.4h.8M492.4 223.6h.8M488.6 222.9h.8M486.1 220.0h.8M487.0 231.7h.8M498.4 228.6h.8M483.1 225.3h.8M486.4 222.8h.8M490.2 213.5h.8M486.0 222.5h.8M497.8 230.0h.8M487.3 220.9h.8M479.9 225.3h.8M491.8 232.9h.8M480.4 225.6h.8M490.8 228.3h.8M478.9 229.4h.8M487.7 225.8h.8M486.1 231.7h.8M493.6 229.8h.8M481.2 228.7h.8M485.6 229.7h.8M494.0 222.8h.8M480.0 227.0h.8M489.8 218.3h.8M487.8 222.7h.8M493.6 220.1h.8M484.2 219.7h.8M489.5 229.5h.8M488.5 230.8h.8M484.8 219.2h.8M482.9 226.4h.8M500.0 227.6h.8M489.9 226.8h.8M473.5 234.0h.8M492.2 222.8h.8M496.6 225.8h.8M494.3 218.4h.8M486.8 223.0h.8M490.9 215.2h.8M485.7 230.4h.8M493.9 224.2h.8M491.8 230.0h.8M493.9 226.2h.8M482.2 229.6h.8M483.6 222.6h.8M476.7 232.1h.8M482.7 223.4h.8M485.8 221.8h.8M487.7 226.6h.8M492.0 223.1h.8M493.1 230.5h.8M481.6 225.1h.8M483.4 220.8h.8M475.3 230.1h.8M478.9 234.0h.8M490.7 222.5h.8M487.5 211.3h.8M487.7 227.0h.8M493.1 223.6h.8M480.3 220.9h.8M484.8 223.0h.8M481.9 221.0h.8M480.6 222.1h.8M490.5 224.4h.8M486.1 227.9h.8M496.4 230.5h.8M484.8 228.8h.8M493.1 228.0h.8M502.9 221.8h.8M485.7 228.3h.8M484.3 221.5h.8M483.7 229.2h.8M487.1 224.4h.8M491.3 218.7h.8M499.4 222.7h.8M480.3 223.0h.8M486.9 226.6h.8M485.6 212.7h.8M476.5 231.2h.8M497.5 237.3h.8M491.2 220.2h.8M496.5 221.1h.8M502.7 217.8h.8M484.3 228.4h.8M485.4 228.3h.8M489.4 223.6h.8M483.6 210.9h.8M489.7 226.7h.8M482.6 224.8h.8M497.0 218.5h.8M484.1 216.4h.8M489.5 215.5h.8M483.8 219.7h.8M488.0 230.5h.8M484.8 215.2h.8M493.9 223.1h.8M485.0 219.9h.8M489.9 229.6h.8M479.0 230.3h.8M483.3 225.4h.8M474.3 238.6h.8M484.2 219.6h.8M471.6 226.9h.8M491.4 225.8h.8M481.0 221.8h.8M481.1 241.1h.8M483.1 227.3h.8M481.7 230.4h.8M488.1 225.3h.8M489.4 227.2h.8M486.5 230.6h.8M493.4 221.5h.8M485.6 233.3h.8M477.9 235.2h.8M492.6 232.0h.8M480.0 230.1h.8M488.1 217.9h.8M471.5 231.3h.8M491.9 218.7h.8M475.3 230.6h.8M499.0 218.4h.8M482.2 218.4h.8M488.6 216.8h.8M503.5 226.4h.8M489.6 214.1h.8M492.8 231.1h.8M493.7 221.8h.8M482.2 217.9h.8M488.2 205.7h.8M493.9 225.9h.8M494.7 232.4h.8M485.3 233.1h.8M487.9 235.9h.8M494.4 217.6h.8M491.3 227.8h.8M488.9 217.5h.8M496.2 228.8h.8M496.7 225.4h.8M483.1 219.9h.8M490.3 228.3h.8M485.9 225.9h.8M484.6 230.0h.8M493.2 227.1h.8M484.3 227.2h.8M490.3 222.0h.8M494.9 222.7h.8M487.5 221.5h.8M497.3 236.6h.8M490.6 225.7h.8M479.3 216.7h.8M483.4 224.7h.8M486.1 218.4h.8M488.1 226.7h.8M493.8 220.0h.8M479.1 225.4h.8M476.8 215.3h.8M486.9 224.4h.8M485.0 228.1h.8M489.6 222.9h.8M483.8 230.9h.8M490.9 233.4h.8M491.8 228.0h.8M489.7 218.8h.8M488.4 226.7h.8M492.5 226.2h.8M491.8 228.2h.8M489.7 224.4h.8M486.1 230.5h.8M495.6 217.0h.8M494.8 232.0h.8M490.1 218.5h.8M497.6 231.0h.8M488.0 230.4h.8M485.7 225.8h.8M486.6 229.9h.8M490.9 226.3h.8M494.1 221.9h.8M486.3 215.5h.8M488.8 228.6h.8M482.0 230.4h.8M487.7 229.4h.8M489.8 218.2h.8M484.7 225.6h.8M495.1 220.6h.8M497.5 215.0h.8M486.8 221.2h.8M489.5 225.5h.8M490.6 228.9h.8M489.0 219.6h.8M491.9 226.3h.8M473.3 224.2h.8M489.2 226.4h.8M476.4 229.7h.8M488.9 219.2h.8M479.9 221.2h.8M494.9 237.7h.8M491.7 221.3h.8M478.4 218.4h.8M491.8 221.5h.8M487.4 228.9h.8M493.0 220.0h.8M493.7 229.1h.8M482.3 225.0h.8M481.1 231.3h.8M481.6 223.2h.8M486.1 233.2h.8M490.7 224.3h.8M490.6 227.9h.8M485.6 229.7h.8M484.1 221.6h.8M487.0 227.2h.8M484.7 220.1h.8M480.0 228.4h.8M485.8 232.9h.8M486.4 229.2h.8M495.1 227.6h.8M491.6 222.6h.8M488.9 237.7h.8M489.2 215.2h.8M491.7 216.5h.8M500.1 235.0h.8M500.8 212.2h.8M488.9 205.8h.8M500.6 229.9h.8M481.5 235.0h.8M478.7 230.5h.8M494.7 233.8h.8M488.0 226.8h.8M489.8 228.2h.8M487.5 230.2h.8M494.0 229.7h.8M484.3 234.7h.8M483.3 221.8h.8M491.2 217.0h.8M489.2 234.9h.8M490.4 217.7h.8M489.5 225.3h.8M484.2 223.3h.8M494.1 230.3h.8M488.1 227.5h.8M487.1 229.3h.8M484.1 235.5h.8M493.3 228.4h.8M481.5 230.5h.8M489.9 213.8h.8M483.6 225.1h.8M480.1 223.3h.8M495.6 235.4h.8M493.1 220.6h.8M481.7 226.0h.8M488.2 218.6h.8M488.1 227.0h.8M486.2 223.5h.8M495.8 223.8h.8M489.4 216.6h.8M491.1 216.1h.8M489.1 214.6h.8M489.4 223.5h.8M487.6 218.4h.8M492.0 220.0h.8M479.7 232.6h.8M490.8 235.3h.8M483.5 220.8h.8M489.3 235.4h.8M495.4 228.2h.8M492.1 222.2h.8M485.4 226.7h.8M485.2 224.3h.8M486.0 222.8h.8M481.3 222.9h.8M479.5 231.2h.8M470.5 224.7h.8M484.9 219.3h.8M490.9 222.5h.8M500.0 214.9h.8M496.7 227.5h.8M490.4 223.1h.8M477.2 223.8h.8M488.2 218.5h.8M494.3 218.0h.8M481.9 223.5h.8M489.7 220.3h.8M487.2 235.5h.8M491.7 226.9h.8M482.1 233.3h.8M487.9 232.4h.8M485.8 219.6h.8M495.0 218.8h.8M487.8 230.7h.8M490.7 215.6h.8M489.8 236.4h.8M493.7 219.2h.8M498.4 226.5h.8M480.4 236.6h.8M483.5 232.0h.8M493.8 229.1h.8M488.2 231.2h.8M481.4 226.5h.8M476.3 231.2h.8M481.0 236.1h.8M480.9 220.7h.8M484.9 233.4h.8M491.1 227.9h.8M496.6 216.4h.8M493.3 226.1h.8M477.5 221.2h.8M493.6 217.7h.8M489.1 223.0h.8M482.0 220.5h.8M479.1 223.8h.8M504.5 216.4h.8M484.0 225.5h.8M489.3 225.0h.8M479.7 220.1h.8M483.1 221.5h.8M485.1 228.1h.8M487.8 230.3h.8M484.0 233.6h.8M485.4 226.0h.8M487.7 231.3h.8M475.8 222.2h.8M484.4 229.8h.8M490.5 226.5h.8M497.7 227.7h.8M495.7 225.3h.8M492.0 219.0h.8M494.5 219.2h.8M493.6 228.7h.8M481.4 226.5h.8M487.5 223.3h.8M483.2 232.1h.8M481.8 226.6h.8M487.9 217.0h.8M491.0 224.7h.8M484.9 223.3h.8M483.4 222.2h.8M479.6 231.8h.8M492.9 222.4h.8M479.5 214.7h.8M480.0 238.1h.8M481.7 222.6h.8M485.2 213.8h.8M484.1 224.4h.8M490.5 224.8h.8M490.9 223.5h.8M481.0 228.5h.8M489.1 225.3h.8M478.8 235.5h.8M490.7 230.2h.8M487.4 215.7h.8M480.6 232.9h.8M502.6 209.5h.8M495.9 227.6h.8M488.6 225.7h.8M493.2 228.3h.8M494.3 222.4h.8M488.7 224.2h.8M481.6 224.4h.8M483.7 229.4h.8M487.9 237.3h.8M489.2 221.9h.8M495.6 224.9h.8M484.8 223.5h.8M494.2 221.1h.8M486.8 230.4h.8M499.7 235.1h.8M488.6 232.7h.8M489.0 221.1h.8M485.7 225.8h.8M490.9 223.6h.8M486.5 227.8h.8M489.3 237.8h.8M492.9 227.9h.8M498.3 222.6h.8M498.1 231.3h.8M499.7 231.7h.8M485.8 236.0h.8M491.4 228.7h.8M485.6 228.1h.8M471.0 216.9h.8M492.9 224.4h.8M483.9 230.0h.8M494.3 230.7h.8M482.1 233.2h.8M489.4 227.6h.8M495.3 230.6h.8M494.3 227.3h.8M482.4 224.7h.8M493.5 217.2h.8M485.1 221.6h.8M482.3 225.4h.8M487.5 219.0h.8M490.0 219.5h.8M495.1 227.1h.8M482.0 227.7h.8M479.0 227.3h.8M477.6 229.0h.8M495.1 215.3h.8M485.4 229.9h.8M490.7 221.7h.8M493.9 228.0h.8M480.2 234.7h.8M479.3 222.6h.8M488.1 215.0h.8M487.3 228.0h.8M494.4 216.6h.8M489.3 227.7h.8M483.3 216.2h.8M483.4 226.3h.8M485.9 228.6h.8M483.6 223.1h.8M484.6 221.5h.8M476.1 221.9h.8M485.0 222.1h.8M478.2 221.9h.8M488.5 231.9h.8M482.9 223.7h.8M482.9 226.6h.8M484.0 234.6h.8M491.1 230.2h.8M487.3 225.5h.8M497.9 225.8h.8M498.6 227.6h.8M489.5 222.7h.8M485.8 205.1h.8M494.9 224.8h.8M483.9 226.7h.8M475.7 224.7h.8M480.8 231.5h.8M496.2 222.8h.8M497.8 226.6h.8M491.8 223.2h.8M488.7 222.1h.8M491.7 217.8h.8M487.1 232.4h.8M489.9 208.7h.8M482.6 226.7h.8M494.2 224.2h.8M493.1 232.2h.8M480.2 225.1h.8M493.4 222.5h.8M491.4 233.5h.8M484.8 227.5h.8M483.7 234.7h.8M497.0 209.6h.8M489.2 213.8h.8M477.7 226.1h.8M507.4 218.6h.8M485.3 229.0h.8M489.1 227.4h.8M495.4 225.8h.8M480.4 223.7h.8M485.8 220.1h.8M484.6 223.4h.8M490.3 218.2h.8M491.0 222.7h.8M483.8 222.0h.8M494.0 224.1h.8M484.2 220.7h.8M488.9 219.4h.8M485.0 230.0h.8M494.5 215.4h.8M489.3 233.6h.8M493.4 220.2h.8M488.9 223.1h.8M483.4 232.4h.8M491.9 226.4h.8M493.5 231.3h.8M489.3 226.7h.8M490.2 214.1h.8M486.3 225.1h.8M473.1 232.0h.8M488.7 226.1h.8M486.5 231.4h.8M492.1 222.7h.8M478.2 232.9h.8M496.5 229.0h.8M493.3 224.0h.8M486.9 228.0h.8M486.8 212.4h.8M477.9 233.8h.8M480.3 219.0h.8M492.6 232.4h.8M485.3 224.2h.8M480.5 219.1h.8M478.8 223.0h.8M490.0 218.8h.8M478.1 227.4h.8M489.5 224.7h.8M492.8 224.9h.8M494.4 222.0h.8M485.0 220.7h.8M488.7 226.9h.8M484.2 228.6h.8M491.9 226.0h.8M480.8 228.8h.8M480.1 219.4h.8M487.4 228.1h.8M488.3 225.3h.8M491.1 231.2h.8M484.2 228.6h.8M489.2 225.5h.8M497.4 216.8h.8M490.8 233.3h.8M501.5 226.8h.8M487.7 222.5h.8M478.2 227.8h.8M495.4 225.1h.8M484.7 226.0h.8M488.7 226.6h.8M497.6 229.3h.8M497.0 223.4h.8M493.3 216.9h.8M484.3 226.3h.8M483.4 223.8h.8M486.0 223.7h.8M492.9 214.2h.8M501.7 218.5h.8M467.8 232.9h.8M490.3 232.3h.8M481.7 235.8h.8M483.2 230.5h.8M489.3 227.1h.8M508.3 213.4h.8M495.8 236.5h.8M487.5 222.5h.8M491.7 213.0h.8M490.9 222.5h.8M487.9 219.1h.8M481.5 215.1h.8M479.9 224.8h.8M482.5 237.9h.8M478.0 228.0h.8M481.9 222.6h.8M489.7 224.4h.8M495.6 229.9h.8M489.0 219.0h.8M482.9 233.4h.8M487.8 240.7h.8M497.5 214.9h.8M487.6 220.2h.8M489.3 229.9h.8M483.6 229.2h.8M481.7 227.3h.8M490.9 221.6h.8M490.6 234.6h.8M486.4 218.7h.8M489.5 221.5h.8M486.8 233.4h.8M487.0 219.3h.8M494.4 222.8h.8M491.6 217.9h.8M490.3 217.9h.8M485.8 222.5h.8M482.1 226.1h.8M481.2 225.2h.8M486.4 239.4h.8M486.5 226.4h.8M485.8 212.4h.8M490.6 213.1h.8M489.9 225.4h.8M487.6 220.0h.8M499.9 220.9h.8M488.1 228.7h.8M486.0 222.0h.8M497.2 219.3h.8M484.9 225.5h.8M478.9 223.5h.8M482.6 220.7h.8M471.2 218.2h.8M492.2 224.5h.8M497.3 230.6h.8M480.1 229.8h.8M490.1 240.4h.8M489.8 217.9h.8M491.3 233.8h.8M488.2 228.6h.8M487.0 222.9h.8M485.1 242.4h.8M484.6 226.2h.8M487.1 220.2h.8M489.1 225.6h.8M493.5 230.7h.8M488.1 220.4h.8M491.6 228.9h.8M480.9 220.9h.8M490.8 214.8h.8M487.2 229.5h.8M487.7 232.2h.8M492.9 229.6h.8M480.1 231.1h.8M481.2 226.6h.8M482.8 228.0h.8M484.6 229.9h.8M487.8 222.5h.8M482.1 229.7h.8M498.3 228.3h.8M471.8 233.2h.8M486.9 232.9h.8M493.6 219.5h.8M486.4 218.0h.8M492.4 221.6h.8M494.1 217.5h.8M488.6 223.9h.8M493.7 221.3h.8M486.4 227.8h.8M483.2 229.2h.8M493.9 226.8h.8M494.5 223.8h.8M479.2 217.2h.8M489.8 231.7h.8M488.9 216.9h.8M484.9 222.8h.8M482.6 220.7h.8M498.9 228.4h.8M493.6 224.8h.8M486.7 223.0h.8M500.6 224.9h.8M493.9 216.0h.8M485.8 215.0h.8M488.8 213.6h.8M484.6 230.1h.8M489.0 219.2h.8M490.8 230.6h.8M485.9 228.5h.8M495.4 228.0h.8M488.8 233.4h.8M483.3 223.9h.8M487.6 227.5h.8M488.5 227.3h.8M476.5 219.1h.8M480.2 224.9h.8M491.2 223.2h.8M479.6 232.0h.8M487.3 233.0h.8M493.5 231.7h.8M487.0 218.0h.8M492.1 220.6h.8M480.5 224.1h.8M493.7 227.9h.8M484.9 234.5h.8M478.9 226.5h.8M488.5 227.2h.8M502.5 224.9h.8M488.8 221.6h.8M489.3 224.6h.8M494.1 216.7h.8M494.8 243.7h.8M482.0 238.2h.8M475.2 229.0h.8M483.5 228.5h.8M481.0 231.1h.8M492.8 230.2h.8M481.9 231.0h.8M491.8 223.9h.8M483.6 225.5h.8M491.7 232.8h.8M479.3 225.9h.8M483.5 222.3h.8M477.0 223.8h.8M493.3 222.5h.8M497.6 223.6h.8M488.7 224.9h.8M479.9 224.0h.8M503.5 226.1h.8M488.2 228.7h.8M497.5 226.9h.8M491.6 232.4h.8M481.3 213.8h.8M482.8 229.2h.8M489.9 212.8h.8M483.1 231.3h.8M487.3 228.3h.8M486.8 225.5h.8M478.8 220.7h.8M482.7 227.7h.8M487.7 232.2h.8M468.4 229.1h.8M477.1 233.6h.8M480.3 226.4h.8M477.5 223.6h.8M477.3 215.5h.8M478.9 226.4h.8M482.4 234.0h.8M483.7 233.3h.8M482.8 229.9h.8M489.6 222.0h.8M489.6 229.2h.8M495.3 223.4h.8M490.9 227.7h.8M481.8 226.6h.8M478.4 238.6h.8M498.7 226.0h.8M491.0 220.6h.8M479.7 224.2h.8M491.1 231.9h.8M478.1 217.7h.8M493.4 218.7h.8M488.2 220.8h.8M493.0 231.5h.8M481.1 227.8h.8M489.6 228.2h.8M496.3 217.7h.8M484.2 234.0h.8M494.2 217.0h.8M486.1 213.9h.8M492.3 227.3h.8M487.8 229.5h.8M486.3 207.2h.8M481.4 223.0h.8M485.5 230.9h.8M484.9 216.0h.8M485.1 218.5h.8M489.0 228.0h.8M502.0 225.0h.8M473.8 238.2h.8M489.6 229.8h.8M483.5 230.1h.8M487.3 226.9h.8M489.3 212.0h.8M483.7 227.4h.8M471.5 227.3h.8M498.5 216.4h.8M483.5 229.1h.8M483.0 219.0h.8M478.3 216.7h.8M481.8 229.3h.8M484.3 219.4h.8M489.1 218.9h.8M481.0 228.0h.8M491.5 218.4h.8M489.5 234.3h.8M482.2 239.4h.8M487.3 233.1h.8M481.1 225.9h.8M483.9 218.1h.8M489.6 228.5h.8M483.4 210.9h.8M487.3 232.2h.8M491.1 223.8h.8M483.0 224.5h.8M488.4 234.6h.8M490.5 218.8h.8M493.3 214.7h.8M489.2 224.8h.8M483.4 235.5h.8M482.7 228.6h.8M484.4 234.2h.8M477.5 227.3h.8M484.8 221.8h.8M472.7 245.0h.8M478.1 241.2h.8M481.4 238.2h.8M472.5 240.4h.8M471.5 230.6h.8M484.0 233.7h.8M474.6 241.2h.8M475.7 238.2h.8M486.0 226.1h.8M470.1 235.5h.8M464.4 237.9h.8M465.4 235.6h.8M472.9 233.4h.8M478.3 231.9h.8M482.7 231.3h.8M486.5 226.1h.8M477.9 227.2h.8M476.9 226.4h.8M475.0 238.9h.8M486.1 230.7h.8M474.9 234.0h.8M484.8 234.5h.8M487.6 231.5h.8M483.2 226.1h.8M478.4 230.7h.8M480.4 237.3h.8M477.9 233.7h.8M479.0 231.0h.8M483.2 233.4h.8M480.2 229.7h.8M465.3 234.2h.8M478.2 227.7h.8M475.4 231.1h.8M480.8 225.2h.8M477.2 242.5h.8M490.2 224.8h.8M476.5 242.1h.8M467.9 238.3h.8M481.0 227.1h.8M472.6 228.8h.8M479.4 237.1h.8M492.6 222.5h.8M483.1 228.8h.8M487.9 220.3h.8M480.0 233.9h.8M471.0 237.7h.8M474.4 228.2h.8M491.5 221.9h.8M480.0 233.6h.8M474.3 231.3h.8M500.8 227.2h.8M486.4 232.2h.8M481.4 230.4h.8M481.4 229.1h.8M489.6 221.0h.8M477.8 235.1h.8M480.9 232.8h.8M476.0 231.3h.8M476.5 238.5h.8M482.5 222.9h.8M481.0 233.6h.8M470.3 242.2h.8M492.1 222.7h.8M474.8 239.1h.8M475.8 231.6h.8M476.6 230.0h.8M482.6 236.0h.8M478.2 231.5h.8M480.7 223.4h.8M475.7 230.1h.8M485.3 230.8h.8M484.6 235.7h.8M481.4 227.2h.8M487.9 229.4h.8M475.5 226.3h.8M480.8 226.6h.8M468.5 241.6h.8M475.1 233.7h.8M478.5 225.5h.8M471.7 230.7h.8M473.8 238.0h.8M475.7 236.2h.8M476.5 225.4h.8M477.4 239.7h.8M477.1 233.2h.8M480.4 229.4h.8M480.2 234.7h.8M484.5 226.7h.8M486.3 227.3h.8M470.0 235.2h.8M475.9 232.8h.8M482.4 235.4h.8M478.9 234.7h.8M469.8 246.0h.8M482.9 237.0h.8M487.6 232.9h.8M472.8 225.1h.8M476.0 229.9h.8M479.6 226.7h.8M484.4 230.0h.8M481.5 239.4h.8M492.0 224.3h.8M473.2 235.5h.8M475.7 243.7h.8M471.3 240.4h.8M473.8 234.3h.8M478.2 226.4h.8M481.4 232.0h.8M478.3 229.5h.8M467.6 241.5h.8M477.9 229.2h.8M475.5 237.4h.8M477.6 236.6h.8M469.5 237.6h.8M477.5 230.5h.8M486.0 224.6h.8M487.3 228.1h.8M479.4 233.7h.8M474.8 236.3h.8M479.2 232.2h.8M479.8 231.3h.8M473.1 236.6h.8M481.8 229.1h.8M482.2 226.8h.8M480.3 228.8h.8M475.4 228.8h.8M484.7 232.1h.8M492.2 222.4h.8M477.7 230.4h.8M484.5 231.3h.8M473.8 236.8h.8M473.2 227.0h.8M477.6 231.7h.8M484.7 230.8h.8M473.4 229.5h.8M473.0 225.1h.8M486.7 224.0h.8M479.4 232.2h.8M478.1 235.4h.8M483.1 231.8h.8M480.9 238.6h.8M470.8 230.2h.8M474.0 233.8h.8M474.8 241.2h.8M468.2 245.1h.8M475.1 241.0h.8M477.9 228.5h.8M472.2 230.5h.8M479.3 233.2h.8M466.9 244.9h.8M482.8 233.6h.8M484.6 228.3h.8M482.5 233.3h.8M469.9 229.0h.8M471.7 236.8h.8M486.8 238.0h.8M485.5 229.5h.8M471.3 238.0h.8M484.2 228.9h.8M475.6 231.2h.8M481.2 232.5h.8M481.1 229.9h.8M469.4 244.6h.8M487.6 236.7h.8M477.0 231.7h.8M489.5 224.3h.8M491.1 231.1h.8M467.9 231.6h.8M466.7 231.3h.8M478.5 235.4h.8M477.1 212.7h.8M487.1 226.5h.8M477.4 243.9h.8M493.8 230.0h.8M492.4 227.5h.8M475.2 224.6h.8M483.5 229.1h.8M474.0 231.8h.8M473.8 240.5h.8M483.8 223.6h.8M483.1 231.1h.8M479.3 242.0h.8M475.3 228.0h.8M477.4 234.4h.8M479.8 237.1h.8M471.5 241.6h.8M473.2 236.3h.8M478.6 231.6h.8M486.8 222.8h.8M486.7 227.5h.8M476.1 223.2h.8M480.7 230.4h.8M482.4 226.9h.8M487.4 230.4h.8M493.7 228.5h.8M476.6 228.0h.8M485.3 227.8h.8M480.6 227.1h.8M491.9 227.9h.8M476.4 228.6h.8M479.4 231.5h.8M479.7 232.6h.8M487.5 223.9h.8M477.0 235.7h.8M486.6 229.8h.8M485.3 231.3h.8M477.7 225.1h.8M481.2 227.7h.8M473.7 220.5h.8M492.6 224.2h.8M481.0 226.3h.8M478.6 231.9h.8M474.1 238.3h.8M477.2 234.1h.8M471.8 235.6h.8M477.2 235.6h.8M481.0 226.7h.8M487.9 235.2h.8M485.8 232.7h.8M471.5 242.4h.8M479.7 227.6h.8M477.2 230.2h.8M476.7 221.2h.8M486.0 230.4h.8M470.3 229.0h.8M487.6 232.1h.8M479.4 229.7h.8M482.3 233.2h.8M472.9 236.8h.8M483.7 235.1h.8M472.8 231.7h.8M480.2 226.0h.8M476.1 231.4h.8M485.6 225.9h.8M473.2 235.7h.8M482.1 227.6h.8M484.1 237.0h.8M478.7 234.6h.8M491.6 227.3h.8M476.8 230.6h.8M489.7 230.4h.8M479.6 227.8h.8M476.7 241.5h.8M470.4 242.0h.8M477.7 231.3h.8M473.3 232.2h.8M481.4 232.9h.8M473.5 239.2h.8M467.3 233.5h.8M488.7 229.6h.8M480.7 230.0h.8M475.3 242.1h.8M483.0 235.8h.8M478.5 237.2h.8M485.9 228.9h.8M485.8 235.3h.8M479.3 230.9h.8M479.5 231.0h.8M489.5 229.2h.8M480.3 231.5h.8M478.3 231.5h.8M491.5 233.1h.8M483.6 241.3h.8M482.0 231.6h.8M485.9 223.5h.8M479.1 228.9h.8M475.6 236.4h.8M477.8 235.7h.8M478.2 231.9h.8M480.9 237.9h.8M474.6 228.8h.8M470.9 237.6h.8M491.3 221.2h.8M473.5 227.5h.8M478.9 238.0h.8M473.2 229.8h.8M483.0 230.8h.8M483.5 229.5h.8M478.8 232.5h.8M482.1 234.6h.8M480.0 230.3h.8M484.4 233.8h.8M476.9 234.8h.8M485.8 227.9h.8M473.3 226.4h.8M483.7 230.9h.8M475.0 240.6h.8M474.2 235.8h.8M471.3 232.3h.8M464.7 241.3h.8M472.1 235.5h.8M477.5 230.9h.8M481.3 239.6h.8M481.7 233.3h.8M473.6 235.4h.8M485.6 225.5h.8M481.3 237.4h.8M476.6 225.7h.8M483.8 227.7h.8M483.4 225.7h.8M497.9 224.4h.8M477.5 233.8h.8M484.7 236.5h.8M486.3 225.6h.8M478.3 225.2h.8M478.1 238.5h.8M480.7 240.4h.8M485.4 226.8h.8M478.4 236.0h.8M485.7 228.4h.8M491.1 230.5h.8M472.7 225.3h.8M475.4 225.1h.8M475.5 237.5h.8M479.9 232.6h.8M481.1 234.7h.8M476.7 234.6h.8M478.4 233.8h.8M482.7 231.3h.8M478.7 229.3h.8M494.7 228.0h.8M480.1 224.3h.8M480.6 233.7h.8M480.3 229.4h.8M486.2 226.2h.8M486.7 229.2h.8M469.1 240.7h.8M475.9 242.1h.8M488.6 226.2h.8M478.1 229.3h.8M477.9 237.6h.8M488.3 224.9h.8M478.9 232.4h.8M477.9 225.8h.8M477.2 228.6h.8M477.0 235.8h.8M479.3 229.1h.8M485.4 239.3h.8M468.6 233.6h.8M483.9 230.3h.8M481.2 232.4h.8M485.8 236.3h.8M478.7 227.8h.8M485.6 233.9h.8M489.1 221.4h.8M466.4 235.4h.8M484.5 236.3h.8M476.2 232.1h.8M475.5 232.9h.8M474.5 227.4h.8M481.0 232.2h.8M471.0 237.0h.8M487.9 225.7h.8M478.0 230.6h.8M480.2 228.6h.8M475.2 227.4h.8M485.6 229.0h.8M473.9 230.5h.8M474.3 237.7h.8M477.2 231.5h.8M479.3 229.5h.8M481.8 238.3h.8M478.0 232.9h.8M481.1 236.1h.8M476.8 223.4h.8M477.1 233.1h.8M481.8 238.1h.8M482.7 240.7h.8M470.9 227.4h.8M477.9 233.1h.8M479.3 225.4h.8M476.1 238.7h.8M480.5 240.1h.8M485.6 224.0h.8M475.8 225.2h.8M473.9 234.7h.8M478.5 230.8h.8M473.2 231.7h.8M483.2 234.7h.8M475.0 228.9h.8M481.7 229.0h.8M484.9 223.7h.8M481.3 232.7h.8M480.6 229.6h.8M484.0 227.2h.8M482.4 228.2h.8M489.4 227.9h.8M482.4 235.1h.8M476.7 227.0h.8M477.8 227.2h.8M471.9 240.1h.8M483.9 229.5h.8M475.3 238.8h.8M479.2 224.4h.8M489.1 228.5h.8M476.7 232.2h.8M474.4 236.7h.8M476.4 239.7h.8M481.9 227.7h.8M473.6 233.9h.8M479.5 235.4h.8M475.3 234.1h.8M477.2 230.9h.8M492.9 232.0h.8M475.5 230.5h.8M475.2 237.0h.8M471.9 246.6h.8M489.0 231.3h.8M487.2 234.1h.8M478.9 229.2h.8M483.4 230.1h.8M483.8 230.4h.8M477.8 234.0h.8M468.1 248.0h.8M471.4 230.1h.8M484.9 244.3h.8M475.3 234.4h.8M487.7 240.5h.8M475.2 241.8h.8M485.5 229.9h.8M475.4 236.9h.8M483.1 231.8h.8M481.2 231.0h.8M484.9 241.9h.8M473.3 232.0h.8M484.1 232.6h.8M485.2 227.4h.8M475.0 232.1h.8M471.6 238.6h.8M486.1 224.6h.8M472.2 234.4h.8M480.2 227.4h.8M472.9 234.3h.8M479.2 229.2h.8M469.6 237.6h.8M466.2 227.2h.8M482.3 236.5h.8M479.2 229.3h.8M473.7 230.7h.8M470.6 225.7h.8M475.4 221.8h.8M478.1 238.4h.8M481.5 231.9h.8M491.6 231.7h.8M482.2 228.6h.8M480.4 225.1h.8M481.7 237.2h.8M484.8 227.6h.8M480.9 230.4h.8M480.1 241.0h.8M478.6 228.7h.8M477.0 238.2h.8M482.4 225.9h.8M479.0 233.1h.8M476.8 232.8h.8M484.6 220.3h.8M473.6 229.1h.8M483.7 232.9h.8M475.9 225.3h.8M483.6 234.2h.8M473.1 229.0h.8M474.6 232.0h.8M469.5 233.9h.8M477.7 232.8h.8M465.9 233.3h.8M481.9 228.3h.8M475.4 225.9h.8M488.1 229.0h.8M478.4 231.1h.8M474.4 239.9h.8M477.2 234.8h.8M487.2 220.9h.8M479.1 225.4h.8M473.2 234.1h.8M488.2 231.4h.8M477.3 228.4h.8M490.8 232.9h.8M470.1 228.9h.8M478.9 236.8h.8M485.8 233.9h.8M474.9 233.2h.8M478.2 235.4h.8M487.1 223.6h.8M478.8 226.1h.8M477.0 238.0h.8M478.1 223.1h.8M481.1 231.7h.8M484.5 229.8h.8M470.2 239.7h.8M481.7 228.5h.8M477.7 232.3h.8M476.3 236.1h.8M479.4 230.3h.8M476.4 228.9h.8M476.2 232.6h.8M466.7 232.8h.8M475.8 233.1h.8M476.4 234.5h.8M475.4 230.5h.8M480.6 231.8h.8M475.1 230.6h.8M481.7 234.7h.8M485.5 228.8h.8M481.4 226.4h.8M465.5 232.0h.8M486.9 235.0h.8M472.0 236.6h.8M488.6 232.4h.8M483.8 235.7h.8M486.0 224.8h.8M481.4 237.2h.8M478.8 231.6h.8M478.6 222.5h.8M486.5 233.5h.8M484.9 241.1h.8M471.7 231.7h.8M474.1 231.8h.8M479.7 231.1h.8M464.2 242.7h.8M479.2 238.0h.8M483.1 223.6h.8M469.7 248.3h.8M475.4 235.3h.8M474.6 227.8h.8M475.7 229.8h.8M487.4 231.8h.8M478.0 234.0h.8M476.2 226.0h.8M490.1 230.8h.8M471.3 227.1h.8M482.7 234.4h.8M475.0 230.0h.8M479.7 224.0h.8M479.0 229.9h.8M465.9 237.2h.8M480.1 230.5h.8M483.2 231.7h.8M470.8 241.3h.8M470.3 228.0h.8M477.4 233.2h.8M480.0 228.5h.8M477.3 230.8h.8M485.8 230.8h.8M470.3 239.9h.8M470.7 236.9h.8M475.0 227.3h.8M482.1 234.7h.8M494.1 224.2h.8M473.3 229.1h.8M488.6 239.0h.8M486.3 226.7h.8M490.6 231.1h.8M480.5 239.8h.8M480.6 238.9h.8M479.5 237.6h.8M479.6 240.5h.8M476.2 241.8h.8M490.2 225.4h.8M484.6 228.3h.8M480.3 218.9h.8M473.8 238.1h.8M488.0 229.3h.8M478.3 229.1h.8M471.2 241.4h.8M458.6 234.9h.8M485.8 223.5h.8M488.9 234.9h.8M479.3 233.9h.8M488.4 227.7h.8M482.8 233.2h.8M474.3 242.3h.8M478.3 228.0h.8M484.2 234.3h.8M483.6 225.7h.8M465.4 231.1h.8M489.5 226.3h.8M476.4 234.6h.8M470.8 243.2h.8M475.8 231.5h.8M477.7 236.4h.8M483.8 238.6h.8M479.8 230.0h.8M487.1 230.6h.8M480.7 234.1h.8M482.4 230.4h.8M482.3 224.7h.8M478.6 238.5h.8M478.2 236.8h.8M480.6 233.4h.8M483.9 226.3h.8M472.9 243.4h.8M480.2 221.5h.8M484.3 230.6h.8M486.1 233.6h.8M482.4 237.3h.8M477.7 224.1h.8M481.7 229.2h.8M484.3 233.8h.8M477.1 237.0h.8M481.2 235.7h.8M475.4 231.7h.8M475.4 230.1h.8M477.3 237.7h.8M474.6 235.3h.8M480.2 233.8h.8M478.5 233.5h.8M472.5 237.2h.8M479.2 227.8h.8M479.5 234.3h.8M483.3 232.0h.8M477.1 228.1h.8M481.4 226.5h.8M481.1 230.9h.8M484.5 228.6h.8M486.8 232.1h.8M477.4 235.8h.8M479.6 231.4h.8M472.8 231.3h.8M480.7 230.4h.8M479.7 233.9h.8M483.8 233.9h.8M470.5 234.6h.8M486.2 233.2h.8M488.5 225.8h.8M489.5 228.0h.8M485.2 235.7h.8M479.6 227.5h.8M486.1 228.9h.8M478.7 228.4h.8M472.8 241.7h.8M467.6 227.3h.8M482.5 234.3h.8M476.0 229.2h.8M481.6 226.1h.8M482.1 226.9h.8M488.7 228.2h.8M489.1 232.9h.8M486.1 229.1h.8M491.0 228.8h.8M483.7 226.7h.8M471.8 242.4h.8M468.8 238.0h.8M479.4 238.7h.8M481.4 229.9h.8M482.0 227.5h.8M483.2 233.8h.8M487.0 228.7h.8M471.2 229.2h.8M473.5 235.9h.8M467.5 241.4h.8M487.2 227.3h.8M484.0 224.1h.8M471.0 248.7h.8M484.8 235.8h.8M480.6 221.3h.8M479.2 222.9h.8M482.0 221.3h.8M477.8 229.5h.8M476.5 228.8h.8M473.7 229.5h.8M487.2 223.7h.8M476.2 226.2h.8M475.3 226.3h.8M485.5 225.2h.8M470.6 236.5h.8M483.2 234.7h.8M473.0 231.8h.8M468.4 234.7h.8M468.8 234.8h.8M475.5 234.3h.8M484.4 236.6h.8M461.9 242.6h.8M473.9 241.6h.8M482.1 238.9h.8M490.5 226.0h.8M477.2 234.4h.8M474.0 226.4h.8M478.8 223.3h.8M487.4 230.2h.8M483.2 229.2h.8M474.4 231.2h.8M493.1 229.4h.8M478.7 234.5h.8M469.7 248.2h.8M478.7 226.1h.8M476.4 241.1h.8M475.6 235.1h.8M479.0 226.2h.8M490.9 228.5h.8M480.8 236.9h.8M483.0 232.8h.8M487.7 226.3h.8M481.5 236.4h.8M482.5 233.9h.8M478.2 223.9h.8M473.1 232.3h.8M490.0 216.2h.8M487.1 242.5h.8M475.6 231.5h.8M493.8 229.7h.8M485.1 217.5h.8M495.5 234.6h.8M484.9 220.2h.8M484.4 220.3h.8M477.0 218.4h.8M488.2 235.6h.8M505.4 215.6h.8M489.5 240.5h.8M483.9 234.2h.8M483.2 242.9h.8M469.8 241.8h.8M463.5 228.5h.8M483.7 227.1h.8M493.8 229.7h.8M469.1 230.6h.8M473.1 241.6h.8M470.4 247.4h.8M469.3 240.4h.8M480.4 243.9h.8M479.2 239.5h.8M494.2 228.9h.8M477.3 246.0h.8M481.3 229.7h.8M490.0 230.7h.8M469.4 223.9h.8M478.4 226.7h.8M490.4 230.3h.8M472.6 231.2h.8M486.4 227.7h.8M475.1 231.6h.8M484.5 221.7h.8M505.3 232.8h.8M463.0 245.3h.8M497.9 239.3h.8M469.3 252.4h.8M473.6 244.7h.8M480.8 227.7h.8M471.2 217.7h.8M496.5 224.6h.8M484.1 228.1h.8M499.6 230.4h.8M481.0 222.7h.8M478.9 233.2h.8M477.9 228.3h.8M477.8 226.6h.8M497.3 242.1h.8M489.3 240.7h.8M487.8 234.6h.8M460.5 239.7h.8M490.8 225.1h.8M492.7 220.7h.8M469.3 229.4h.8M481.0 234.7h.8M482.1 228.4h.8M497.0 229.0h.8M482.8 223.5h.8M479.3 226.4h.8M487.6 241.4h.8M497.3 219.7h.8M481.3 235.5h.8M483.2 236.1h.8M468.8 233.4h.8M473.8 231.6h.8M474.2 249.9h.8M478.7 241.0h.8M478.0 238.9h.8M481.0 226.2h.8M482.3 233.2h.8M483.2 239.8h.8M472.7 242.0h.8M474.2 232.4h.8M481.4 232.9h.8M488.1 244.1h.8M465.1 230.2h.8M463.1 223.2h.8M500.5 217.5h.8M490.3 223.0h.8M475.5 217.8h.8M477.4 235.4h.8M488.1 236.9h.8M479.6 243.7h.8M482.6 229.5h.8M476.6 218.3h.8M482.5 226.4h.8M479.3 234.7h.8M471.0 220.0h.8M496.4 225.3h.8M485.5 225.9h.8M488.1 235.1h.8M451.7 248.7h.8M478.5 230.9h.8M495.1 224.1h.8M480.7 237.1h.8M486.0 229.8h.8M456.8 236.7h.8M453.8 247.7h.8M471.4 228.2h.8M483.9 233.0h.8M480.2 229.6h.8M475.1 238.4h.8M476.9 234.3h.8M493.7 229.0h.8M481.6 230.5h.8M474.4 227.2h.8M467.7 242.9h.8M484.4 225.9h.8M468.9 230.1h.8M469.5 231.5h.8M466.6 229.6h.8M463.3 230.1h.8M465.4 234.1h.8M490.6 231.3h.8M488.2 223.4h.8M476.1 235.9h.8M486.1 234.4h.8M476.9 233.5h.8M484.2 227.4h.8M473.9 237.1h.8M468.3 230.4h.8M486.0 231.4h.8M476.6 232.8h.8M480.4 226.2h.8M496.0 244.2h.8M482.5 243.8h.8M477.3 234.5h.8M483.5 231.0h.8M465.6 238.0h.8M476.6 243.1h.8M488.6 223.9h.8M478.2 214.7h.8M470.7 237.1h.8M481.2 219.6h.8M491.5 245.7h.8M474.3 227.1h.8M480.9 239.5h.8M479.2 212.4h.8M487.8 235.4h.8M468.8 229.1h.8M479.3 239.4h.8M488.2 233.9h.8M490.0 234.5h.8M490.4 221.0h.8M477.7 232.2h.8M478.1 243.6h.8M473.0 225.2h.8M493.7 232.6h.8M493.8 230.1h.8M471.0 235.9h.8M475.8 236.1h.8M492.4 230.1h.8M493.5 231.8h.8M484.5 237.5h.8M469.4 240.2h.8M481.9 231.6h.8M490.6 232.0h.8M466.6 223.1h.8M472.1 228.8h.8M488.2 229.3h.8M484.3 242.0h.8M481.1 211.0h.8M458.5 233.6h.8M465.9 220.5h.8M485.6 233.3h.8M479.0 223.8h.8M479.7 240.3h.8M479.0 231.7h.8M485.2 222.4h.8M493.7 240.3h.8M476.3 235.0h.8M472.8 242.0h.8M491.3 227.1h.8M472.4 241.5h.8M473.6 231.4h.8M468.6 223.8h.8M481.3 226.1h.8M479.5 235.1h.8M484.0 240.1h.8M492.5 222.1h.8M468.4 223.3h.8M488.3 237.1h.8M491.0 230.7h.8M486.7 234.1h.8M487.2 226.9h.8M492.9 232.3h.8M467.1 229.8h.8M467.0 249.0h.8M479.7 229.2h.8M480.0 227.4h.8M476.8 228.0h.8M482.6 234.2h.8M491.7 236.0h.8M476.5 226.4h.8M479.1 222.8h.8M468.2 228.0h.8M477.1 235.4h.8M476.4 243.3h.8" stroke="#5e5e5e" stroke-width="1" stroke-opacity=".6" fill="none" filter="url(#bl)"/>
<line x1="479.2" y1="191.3" x2="479.2" y2="259.2" stroke="#333" stroke-width="0.8" />
<line x1="449.9" y1="235.4" x2="515.9" y2="235.4" stroke="#333" stroke-width="0.8" />
<text x="453.4" y="204.8" font-family="Liberation Serif, serif" font-size="10" font-weight="bold" text-anchor="start" fill="#000" textLength="25" lengthAdjust="spacingAndGlyphs" stroke="#000" stroke-width="0.22" >13.3%</text>
<text x="485" y="204.8" font-family="Liberation Serif, serif" font-size="10" font-weight="bold" text-anchor="start" fill="#000" textLength="26" lengthAdjust="spacingAndGlyphs" stroke="#000" stroke-width="0.22" >50.4%</text>
<text x="485.7" y="257.8" font-family="Liberation Serif, serif" font-size="10" font-weight="bold" text-anchor="start" fill="#000" textLength="25.3" lengthAdjust="spacingAndGlyphs" stroke="#000" stroke-width="0.22" >11.9%</text>
<path d="M449.9 259.2v1.6M448.3 259.2h1.6M454.9 259.2v0.9M449.0 254.1h0.9M457.8 259.2v0.9M449.0 251.1h0.9M459.8 259.2v0.9M449.0 249.0h0.9M461.4 259.2v0.9M449.0 247.3h0.9M462.7 259.2v0.9M449.0 246.0h0.9M463.8 259.2v0.9M449.0 244.9h0.9M464.8 259.2v0.9M449.0 243.9h0.9M465.6 259.2v0.9M449.0 243.0h0.9M466.4 259.2v1.6M448.3 242.2h1.6M471.4 259.2v0.9M449.0 237.1h0.9M474.3 259.2v0.9M449.0 234.1h0.9M476.3 259.2v0.9M449.0 232.0h0.9M477.9 259.2v0.9M449.0 230.4h0.9M479.2 259.2v0.9M449.0 229.0h0.9M480.3 259.2v0.9M449.0 227.9h0.9M481.3 259.2v0.9M449.0 226.9h0.9M482.1 259.2v0.9M449.0 226.0h0.9M482.9 259.2v1.6M448.3 225.2h1.6M487.9 259.2v0.9M449.0 220.1h0.9M490.8 259.2v0.9M449.0 217.2h0.9M492.8 259.2v0.9M449.0 215.0h0.9M494.4 259.2v0.9M449.0 213.4h0.9M495.7 259.2v0.9M449.0 212.0h0.9M496.8 259.2v0.9M449.0 210.9h0.9M497.8 259.2v0.9M449.0 209.9h0.9M498.6 259.2v0.9M449.0 209.1h0.9M499.4 259.2v1.6M448.3 208.3h1.6M504.4 259.2v0.9M449.0 203.2h0.9M507.3 259.2v0.9M449.0 200.2h0.9M509.3 259.2v0.9M449.0 198.1h0.9M510.9 259.2v0.9M449.0 196.4h0.9M512.2 259.2v0.9M449.0 195.1h0.9M513.3 259.2v0.9M449.0 193.9h0.9M514.3 259.2v0.9M449.0 192.9h0.9M515.1 259.2v0.9M449.0 192.1h0.9M515.9 259.2v1.6M448.3 191.3h1.6" stroke="#555" stroke-width=".5" fill="none"/>
<text x="449.6" y="265.5" font-family="Liberation Sans, sans-serif" font-size="3.6" fill="#333" text-anchor="middle">10<tspan font-size="2.6" dy="-1.5">0</tspan></text>
<text x="446.7" y="259.5" font-family="Liberation Sans, sans-serif" font-size="3.6" fill="#333" text-anchor="middle" transform="rotate(-90 446.7 259.5)">10<tspan font-size="2.6" dy="-1.5">0</tspan></text>
<text x="466.1" y="265.5" font-family="Liberation Sans, sans-serif" font-size="3.6" fill="#333" text-anchor="middle">10<tspan font-size="2.6" dy="-1.5">1</tspan></text>
<text x="446.7" y="242.53" font-family="Liberation Sans, sans-serif" font-size="3.6" fill="#333" text-anchor="middle" transform="rotate(-90 446.7 242.53)">10<tspan font-size="2.6" dy="-1.5">1</tspan></text>
<text x="482.6" y="265.5" font-family="Liberation Sans, sans-serif" font-size="3.6" fill="#333" text-anchor="middle">10<tspan font-size="2.6" dy="-1.5">2</tspan></text>
<text x="446.7" y="225.55" font-family="Liberation Sans, sans-serif" font-size="3.6" fill="#333" text-anchor="middle" transform="rotate(-90 446.7 225.55)">10<tspan font-size="2.6" dy="-1.5">2</tspan></text>
<text x="499.1" y="265.5" font-family="Liberation Sans, sans-serif" font-size="3.6" fill="#333" text-anchor="middle">10<tspan font-size="2.6" dy="-1.5">3</tspan></text>
<text x="446.7" y="208.58" font-family="Liberation Sans, sans-serif" font-size="3.6" fill="#333" text-anchor="middle" transform="rotate(-90 446.7 208.58)">10<tspan font-size="2.6" dy="-1.5">3</tspan></text>
<text x="515.6" y="265.5" font-family="Liberation Sans, sans-serif" font-size="3.6" fill="#333" text-anchor="middle">10<tspan font-size="2.6" dy="-1.5">4</tspan></text>
<text x="446.7" y="191.6" font-family="Liberation Sans, sans-serif" font-size="3.6" fill="#333" text-anchor="middle" transform="rotate(-90 446.7 191.6)">10<tspan font-size="2.6" dy="-1.5">4</tspan></text>
<text x="482.9" y="270.2" font-family="Liberation Sans, sans-serif" font-size="3.8" font-weight="normal" text-anchor="middle" fill="#333" textLength="16.5" lengthAdjust="spacingAndGlyphs" >CCR7-PE</text>
<text x="440.3" y="221" font-family="Liberation Sans, sans-serif" font-size="3.8" fill="#333" text-anchor="middle" textLength="16.5" lengthAdjust="spacingAndGlyphs" transform="rotate(-90 440.3 221)">CD83-FITC</text>
<rect x="447.8" y="281.6" width="67.6" height="42.9" fill="#fff" stroke="#777" stroke-width="0.8"/>
<polyline points="458.0,324.0 458.6,323.8 459.4,323.7 460.3,323.4 461.3,323.1 462.2,322.6 463.0,322.0 463.6,321.3 464.2,320.5 464.7,319.6 465.2,318.5 465.6,317.0 466.0,315.0 466.4,312.3 466.7,309.0 467.0,305.2 467.3,301.5 467.5,298.0 467.8,295.0 468.1,292.5 468.4,290.3 468.6,288.3 468.9,286.6 469.2,285.2 469.5,284.0 469.8,283.1 470.2,282.5 470.5,282.1 470.8,282.0 471.2,282.1 471.5,282.5 471.8,283.1 472.1,284.0 472.4,285.2 472.7,286.5 472.9,288.2 473.2,290.0 473.5,292.3 473.7,295.0 474.0,298.0 474.3,300.9 474.5,303.7 474.8,306.0 475.1,307.8 475.4,309.4 475.7,310.8 475.9,311.9 476.2,313.0 476.5,314.0 476.7,314.9 476.9,315.7 477.1,316.3 477.3,316.9 477.6,317.4 478.0,318.0 478.5,318.6 479.1,319.1 479.7,319.6 480.4,320.1 481.2,320.5 482.0,320.8 482.9,321.0 483.9,321.2 484.9,321.2 485.9,321.3 487.0,321.3 488.0,321.3 489.0,321.3 490.0,321.2 491.1,321.1 492.1,321.0 493.1,321.0 494.0,321.0 494.9,321.1 495.7,321.4 496.5,321.7 497.3,321.9 498.1,322.2 499.0,322.5 499.9,322.7 500.8,323.0 501.7,323.2 502.7,323.5 503.8,323.6 505.0,323.8 506.6,323.9 508.4,324.0 510.4,324.0 512.3,324.0 513.9,324.0 515.0,324.0" fill="none" stroke="#333" stroke-width=".85" stroke-dasharray="1 .9"/>
<line x1="478.0" y1="312.5" x2="515.4" y2="312.5" stroke="#555" stroke-width=".7"/>
<line x1="478.0" y1="309.5" x2="478.0" y2="314.8" stroke="#555" stroke-width=".7"/>
<text x="497.7" y="317.5" font-family="Liberation Sans, sans-serif" font-size="2.8" fill="#777" text-anchor="middle">M1</text>
<polyline points="447.8,323.7 448.2,323.8 448.7,323.8 449.4,323.6 450.1,323.7 450.9,323.7 451.7,323.7 452.5,323.7 453.3,323.6 454.1,323.5 454.8,323.4 455.5,323.4 456.0,323.6 456.4,323.5 456.8,323.6 457.2,323.5 457.4,323.5 457.7,323.6 457.9,323.8 458.1,323.5 458.3,323.7 458.6,323.7 458.8,323.4 459.1,323.5 459.4,323.2 459.8,322.9 460.1,322.7 460.6,322.2 461.0,321.4 461.4,321.8 461.9,321.1 462.3,320.7 462.7,319.5 463.2,319.8 463.6,319.3 463.9,318.3 464.3,317.9 464.6,317.0 465.0,316.5 465.3,316.4 465.6,316.5 465.8,316.3 466.1,315.2 466.4,314.6 466.6,314.4 466.9,313.5 467.1,313.8 467.4,312.9 467.6,311.9 467.8,312.0 468.0,312.2 468.2,311.9 468.4,310.8 468.5,310.1 468.7,310.7 468.9,310.5 469.0,310.6 469.2,310.0 469.4,310.1 469.5,309.9 469.7,309.6 469.9,309.3 470.1,310.0 470.3,310.1 470.5,310.4 470.7,310.2 470.9,310.0 471.1,310.4 471.2,310.6 471.4,311.0 471.6,311.2 471.8,310.8 472.0,312.0 472.2,312.2 472.4,312.1 472.5,312.0 472.7,312.6 472.9,313.1 473.0,313.6 473.2,313.9 473.3,312.9 473.5,313.1 473.7,314.0 473.8,314.5 474.0,314.2 474.2,314.6 474.3,315.0 474.5,315.7 474.7,315.8 474.8,316.3 475.0,317.0 475.2,316.5 475.3,316.5 475.5,316.5 475.7,317.0 475.8,317.2 476.0,317.4 476.2,316.5 476.3,317.1 476.5,317.1 476.7,316.1 476.9,315.7 477.0,315.4 477.2,314.6 477.4,314.2 477.6,313.6 477.7,314.2 477.9,313.1 478.1,312.7 478.3,313.5 478.5,313.7 478.7,312.6 478.9,312.7 479.1,312.4 479.3,312.3 479.5,313.4 479.7,313.1 479.9,313.3 480.1,312.6 480.3,313.3 480.5,312.7 480.7,312.7 480.9,312.9 481.1,312.7 481.3,313.2 481.5,313.3 481.7,313.0 481.9,313.0 482.1,313.4 482.3,312.1 482.6,312.8 482.8,312.7 483.0,312.8 483.2,311.9 483.5,312.0 483.7,311.7 484.0,311.8 484.2,312.0 484.5,311.8 484.8,311.0 485.0,311.3 485.3,310.7 485.5,310.4 485.8,309.9 486.0,309.2 486.2,308.7 486.5,308.5 486.7,309.1 486.9,308.3 487.1,307.9 487.4,308.2 487.6,307.2 487.8,308.1 488.0,307.5 488.2,307.6 488.4,307.0 488.6,306.9 488.8,306.1 489.0,306.3 489.1,306.3 489.3,307.2 489.4,306.7 489.6,306.6 489.7,307.1 489.9,307.6 490.0,307.7 490.2,307.2 490.3,308.0 490.5,307.6 490.7,308.1 490.9,308.4 491.0,307.3 491.2,308.1 491.4,307.6 491.6,308.0 491.8,308.9 492.0,308.7 492.2,308.8 492.4,308.8 492.5,308.8 492.7,309.6 492.9,309.1 493.0,309.4 493.2,310.3 493.3,310.1 493.5,311.3 493.6,311.3 493.8,310.8 493.9,312.1 494.1,312.0 494.2,312.0 494.4,313.2 494.5,312.4 494.6,313.5 494.8,314.3 494.9,314.6 495.0,314.3 495.1,314.2 495.2,315.7 495.3,315.2 495.4,316.1 495.6,315.6 495.7,316.9 495.8,317.7 496.0,316.7 496.2,318.0 496.4,317.3 496.6,317.8 496.8,318.3 497.0,318.9 497.2,319.3 497.4,319.2 497.6,319.4 497.9,319.2 498.1,320.0 498.3,320.4 498.5,320.1 498.7,320.9 498.9,321.7 499.0,320.8 499.2,321.6 499.4,321.8 499.5,322.6 499.7,322.1 499.9,322.4 500.1,322.6 500.3,322.7 500.5,322.9 500.8,323.0 501.1,323.1 501.3,323.1 501.6,323.4 501.8,323.3 502.1,323.3 502.4,323.4 502.7,323.3 503.1,323.5 503.5,323.3 503.9,323.4 504.4,323.6 505.0,323.5 505.7,323.7 506.5,323.6 507.4,323.5 508.4,323.7 509.4,323.6 510.5,323.6 511.5,323.8 512.5,323.9 513.4,323.9 514.2,323.8 514.9,323.8 515.4,323.8" fill="none" stroke="#000" stroke-width="1.65" stroke-linejoin="round"/>
<text x="485.3" y="297.8" font-family="Liberation Serif, serif" font-size="10" font-weight="bold" text-anchor="start" fill="#000" textLength="26" lengthAdjust="spacingAndGlyphs" stroke="#000" stroke-width="0.22" >62.6%</text>
<path d="M447.8 324.5v1.6M452.9 324.5v0.9M455.9 324.5v0.9M458.0 324.5v0.9M459.6 324.5v0.9M461.0 324.5v0.9M462.1 324.5v0.9M463.1 324.5v0.9M463.9 324.5v0.9M464.7 324.5v1.6M469.8 324.5v0.9M472.8 324.5v0.9M474.9 324.5v0.9M476.5 324.5v0.9M477.9 324.5v0.9M479.0 324.5v0.9M480.0 324.5v0.9M480.8 324.5v0.9M481.6 324.5v1.6M486.7 324.5v0.9M489.7 324.5v0.9M491.8 324.5v0.9M493.4 324.5v0.9M494.8 324.5v0.9M495.9 324.5v0.9M496.9 324.5v0.9M497.7 324.5v0.9M498.5 324.5v1.6M503.6 324.5v0.9M506.6 324.5v0.9M508.7 324.5v0.9M510.3 324.5v0.9M511.7 324.5v0.9M512.8 324.5v0.9M513.8 324.5v0.9M514.6 324.5v0.9M515.4 324.5v1.6" stroke="#555" stroke-width=".5" fill="none"/>
<text x="447.8" y="330" font-family="Liberation Sans, sans-serif" font-size="3.6" fill="#333" text-anchor="middle">10<tspan font-size="2.6" dy="-1.5">0</tspan></text>
<text x="464.7" y="330" font-family="Liberation Sans, sans-serif" font-size="3.6" fill="#333" text-anchor="middle">10<tspan font-size="2.6" dy="-1.5">1</tspan></text>
<text x="481.6" y="330" font-family="Liberation Sans, sans-serif" font-size="3.6" fill="#333" text-anchor="middle">10<tspan font-size="2.6" dy="-1.5">2</tspan></text>
<text x="498.5" y="330" font-family="Liberation Sans, sans-serif" font-size="3.6" fill="#333" text-anchor="middle">10<tspan font-size="2.6" dy="-1.5">3</tspan></text>
<text x="515.4" y="330" font-family="Liberation Sans, sans-serif" font-size="3.6" fill="#333" text-anchor="middle">10<tspan font-size="2.6" dy="-1.5">4</tspan></text>
<line x1="446.3" y1="324.5" x2="447.8" y2="324.5" stroke="#777" stroke-width="0.6" />
<text x="444.3" y="324.5" font-family="Liberation Sans, sans-serif" font-size="3.4" fill="#333" text-anchor="middle" transform="rotate(-90 444.3 324.5)">0</text>
<line x1="446.3" y1="315.92" x2="447.8" y2="315.92" stroke="#777" stroke-width="0.6" />
<text x="444.3" y="315.92" font-family="Liberation Sans, sans-serif" font-size="3.4" fill="#333" text-anchor="middle" transform="rotate(-90 444.3 315.92)">20</text>
<line x1="446.3" y1="307.34" x2="447.8" y2="307.34" stroke="#777" stroke-width="0.6" />
<text x="444.3" y="307.34" font-family="Liberation Sans, sans-serif" font-size="3.4" fill="#333" text-anchor="middle" transform="rotate(-90 444.3 307.34)">40</text>
<line x1="446.3" y1="298.76" x2="447.8" y2="298.76" stroke="#777" stroke-width="0.6" />
<text x="444.3" y="298.76" font-family="Liberation Sans, sans-serif" font-size="3.4" fill="#333" text-anchor="middle" transform="rotate(-90 444.3 298.76)">60</text>
<line x1="446.3" y1="290.18" x2="447.8" y2="290.18" stroke="#777" stroke-width="0.6" />
<text x="444.3" y="290.18" font-family="Liberation Sans, sans-serif" font-size="3.4" fill="#333" text-anchor="middle" transform="rotate(-90 444.3 290.18)">80</text>
<line x1="446.3" y1="281.6" x2="447.8" y2="281.6" stroke="#777" stroke-width="0.6" />
<text x="444.3" y="281.6" font-family="Liberation Sans, sans-serif" font-size="3.4" fill="#333" text-anchor="middle" transform="rotate(-90 444.3 281.6)">100</text>
<text x="481.8" y="334.3" font-family="Liberation Sans, sans-serif" font-size="3.8" font-weight="normal" text-anchor="middle" fill="#333" textLength="15.5" lengthAdjust="spacingAndGlyphs" >CCR7-PE</text>
<text x="439.8" y="304" font-family="Liberation Sans, sans-serif" font-size="3.6" fill="#333" text-anchor="middle" textLength="11" lengthAdjust="spacingAndGlyphs" transform="rotate(-90 439.8 304)">Counts</text>
</svg>
</body></html>
